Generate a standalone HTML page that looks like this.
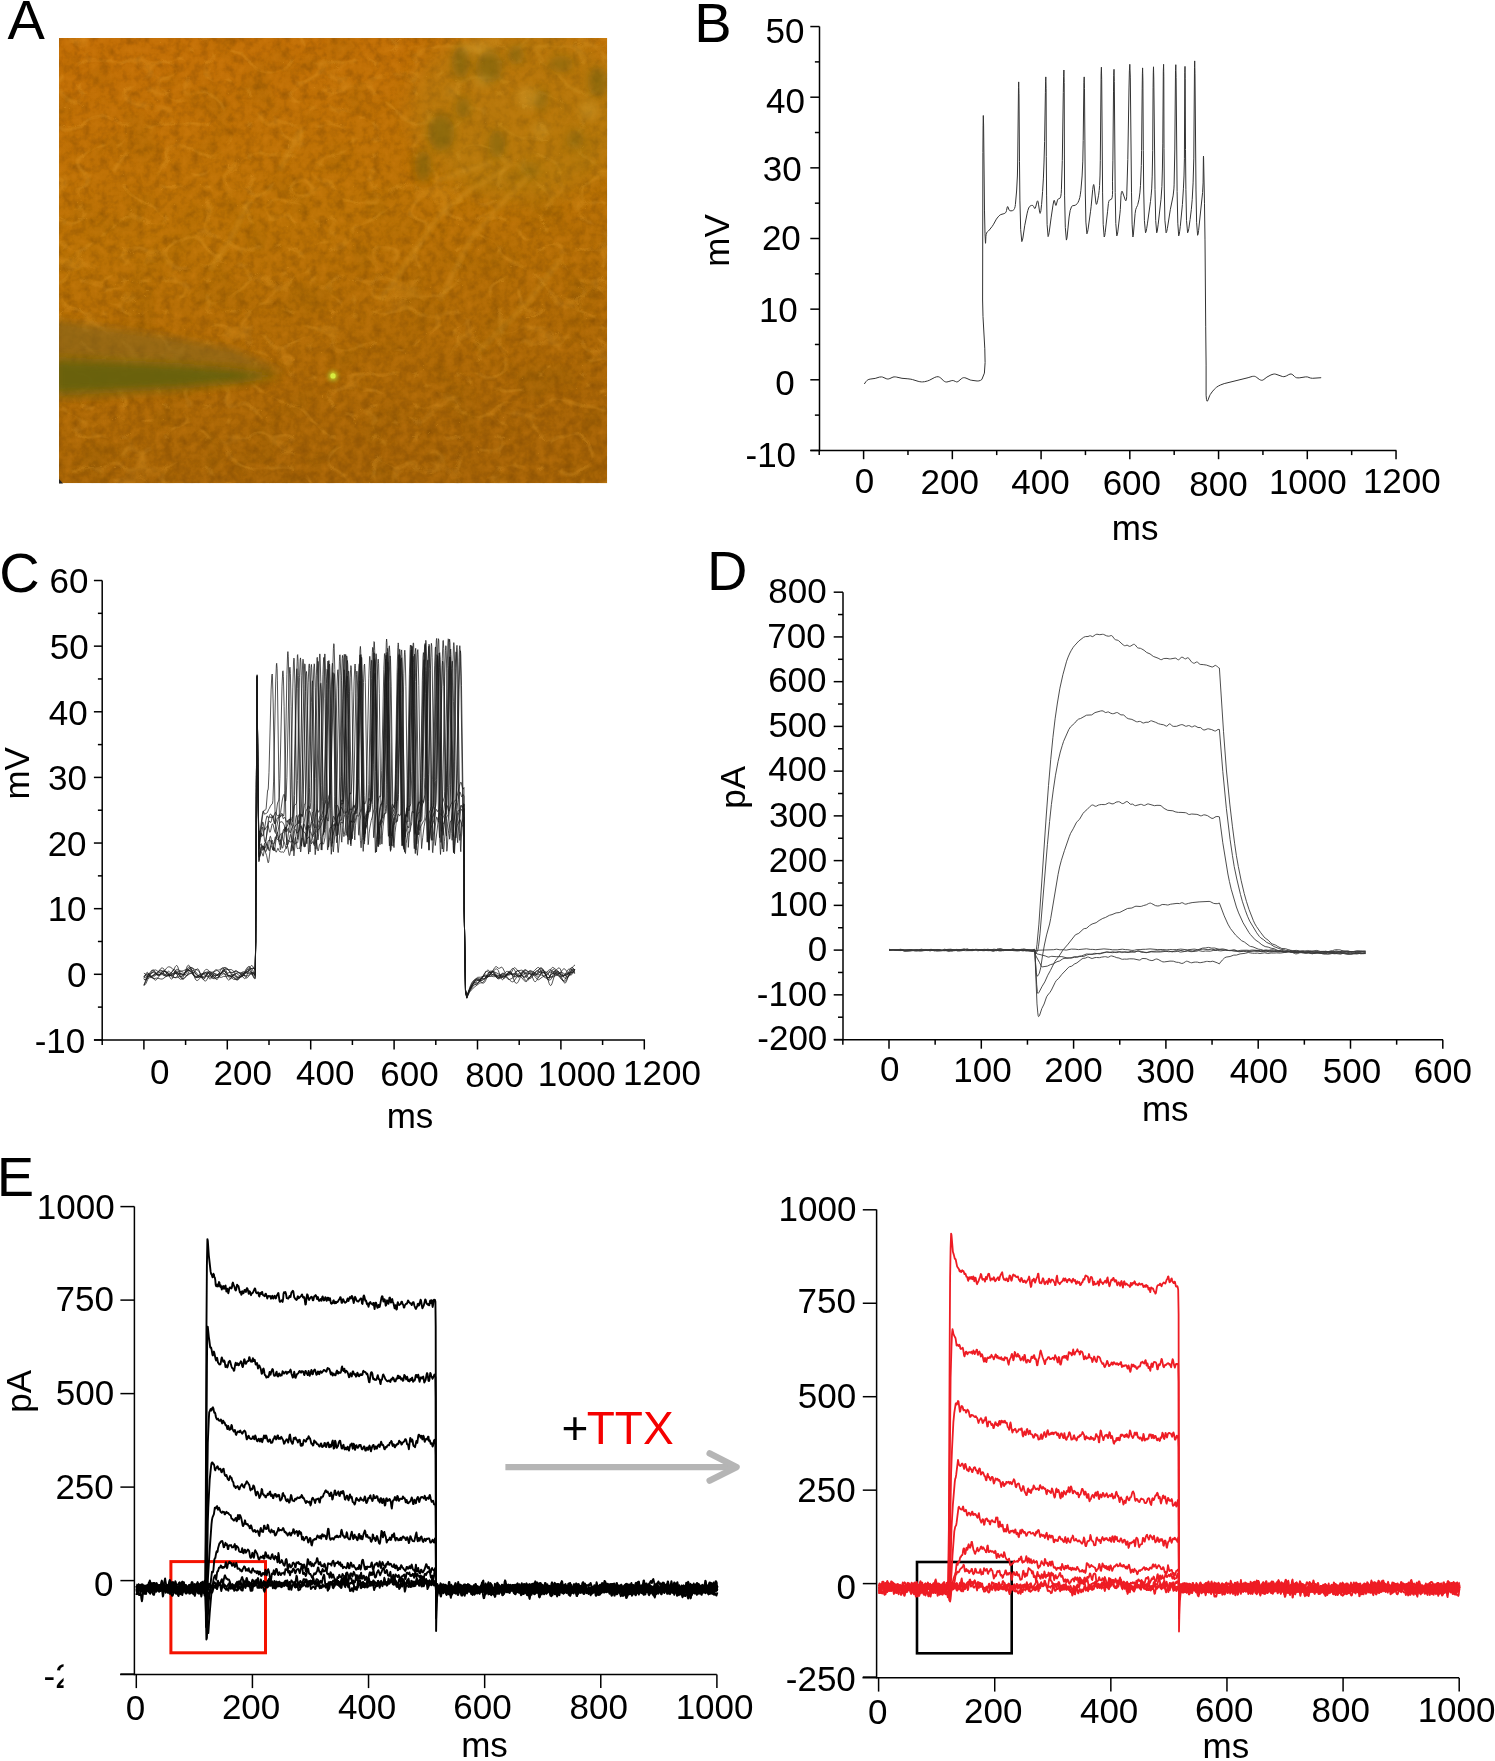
<!DOCTYPE html>
<html><head><meta charset="utf-8"><style>html,body{margin:0;padding:0;background:#fff;}svg{display:block;will-change:transform;}text{font-family:"Liberation Sans",sans-serif;}</style></head>
<body><svg width="1495" height="1761" viewBox="0 0 1495 1761" font-family="Liberation Sans, sans-serif"><line x1="819.50" y1="26.50" x2="819.50" y2="451.20" stroke="#000" stroke-width="1.5" />
<line x1="810.30" y1="450.45" x2="819.50" y2="450.45" stroke="#000" stroke-width="1.5" />
<line x1="814.90" y1="415.12" x2="819.50" y2="415.12" stroke="#000" stroke-width="1.5" />
<line x1="810.30" y1="379.80" x2="819.50" y2="379.80" stroke="#000" stroke-width="1.5" />
<line x1="814.90" y1="344.48" x2="819.50" y2="344.48" stroke="#000" stroke-width="1.5" />
<line x1="810.30" y1="309.15" x2="819.50" y2="309.15" stroke="#000" stroke-width="1.5" />
<line x1="814.90" y1="273.82" x2="819.50" y2="273.82" stroke="#000" stroke-width="1.5" />
<line x1="810.30" y1="238.50" x2="819.50" y2="238.50" stroke="#000" stroke-width="1.5" />
<line x1="814.90" y1="203.18" x2="819.50" y2="203.18" stroke="#000" stroke-width="1.5" />
<line x1="810.30" y1="167.85" x2="819.50" y2="167.85" stroke="#000" stroke-width="1.5" />
<line x1="814.90" y1="132.53" x2="819.50" y2="132.53" stroke="#000" stroke-width="1.5" />
<line x1="810.30" y1="97.20" x2="819.50" y2="97.20" stroke="#000" stroke-width="1.5" />
<line x1="814.90" y1="61.88" x2="819.50" y2="61.88" stroke="#000" stroke-width="1.5" />
<line x1="810.30" y1="26.55" x2="819.50" y2="26.55" stroke="#000" stroke-width="1.5" />
<line x1="810.30" y1="450.60" x2="1396.40" y2="450.60" stroke="#000" stroke-width="1.5" />
<line x1="819.23" y1="450.60" x2="819.23" y2="455.10" stroke="#000" stroke-width="1.5" />
<line x1="863.60" y1="450.60" x2="863.60" y2="459.20" stroke="#000" stroke-width="1.5" />
<line x1="907.97" y1="450.60" x2="907.97" y2="455.10" stroke="#000" stroke-width="1.5" />
<line x1="952.34" y1="450.60" x2="952.34" y2="459.20" stroke="#000" stroke-width="1.5" />
<line x1="996.71" y1="450.60" x2="996.71" y2="455.10" stroke="#000" stroke-width="1.5" />
<line x1="1041.08" y1="450.60" x2="1041.08" y2="459.20" stroke="#000" stroke-width="1.5" />
<line x1="1085.45" y1="450.60" x2="1085.45" y2="455.10" stroke="#000" stroke-width="1.5" />
<line x1="1129.82" y1="450.60" x2="1129.82" y2="459.20" stroke="#000" stroke-width="1.5" />
<line x1="1174.19" y1="450.60" x2="1174.19" y2="455.10" stroke="#000" stroke-width="1.5" />
<line x1="1218.56" y1="450.60" x2="1218.56" y2="459.20" stroke="#000" stroke-width="1.5" />
<line x1="1262.93" y1="450.60" x2="1262.93" y2="455.10" stroke="#000" stroke-width="1.5" />
<line x1="1307.30" y1="450.60" x2="1307.30" y2="459.20" stroke="#000" stroke-width="1.5" />
<line x1="1351.67" y1="450.60" x2="1351.67" y2="455.10" stroke="#000" stroke-width="1.5" />
<line x1="1396.04" y1="450.60" x2="1396.04" y2="459.20" stroke="#000" stroke-width="1.5" />
<text x="765.47" y="43.15" font-size="35" fill="#000" >50</text>
<text x="766.07" y="112.70" font-size="35" fill="#000" >40</text>
<text x="762.80" y="181.25" font-size="35" fill="#000" >30</text>
<text x="761.89" y="250.00" font-size="35" fill="#000" >20</text>
<text x="758.89" y="321.90" font-size="35" fill="#000" >10</text>
<text x="775.22" y="394.95" font-size="35" fill="#000" >0</text>
<text x="745.51" y="466.65" font-size="35" fill="#000" >-10</text>
<text x="854.67" y="492.85" font-size="35" fill="#000" >0</text>
<text x="920.46" y="493.75" font-size="35" fill="#000" >200</text>
<text x="1011.33" y="493.75" font-size="35" fill="#000" >400</text>
<text x="1102.65" y="494.80" font-size="35" fill="#000" >600</text>
<text x="1189.28" y="495.85" font-size="35" fill="#000" >800</text>
<text x="1268.92" y="494.15" font-size="35" fill="#000" >1000</text>
<text x="1362.92" y="493.10" font-size="35" fill="#000" >1200</text>
<text x="1111.84" y="539.55" font-size="35" fill="#000" >ms</text>
<text transform="translate(728.94,266.64) rotate(-90)" font-size="35">mV</text>
<text x="694.25" y="41.66" font-size="56" fill="#000" >B</text>
<line x1="102.20" y1="580.50" x2="102.20" y2="1040.60" stroke="#000" stroke-width="1.5" />
<line x1="93.90" y1="1039.93" x2="102.20" y2="1039.93" stroke="#000" stroke-width="1.5" />
<line x1="97.90" y1="1007.12" x2="102.20" y2="1007.12" stroke="#000" stroke-width="1.5" />
<line x1="93.90" y1="974.30" x2="102.20" y2="974.30" stroke="#000" stroke-width="1.5" />
<line x1="97.90" y1="941.48" x2="102.20" y2="941.48" stroke="#000" stroke-width="1.5" />
<line x1="93.90" y1="908.67" x2="102.20" y2="908.67" stroke="#000" stroke-width="1.5" />
<line x1="97.90" y1="875.86" x2="102.20" y2="875.86" stroke="#000" stroke-width="1.5" />
<line x1="93.90" y1="843.04" x2="102.20" y2="843.04" stroke="#000" stroke-width="1.5" />
<line x1="97.90" y1="810.22" x2="102.20" y2="810.22" stroke="#000" stroke-width="1.5" />
<line x1="93.90" y1="777.41" x2="102.20" y2="777.41" stroke="#000" stroke-width="1.5" />
<line x1="97.90" y1="744.60" x2="102.20" y2="744.60" stroke="#000" stroke-width="1.5" />
<line x1="93.90" y1="711.78" x2="102.20" y2="711.78" stroke="#000" stroke-width="1.5" />
<line x1="97.90" y1="678.96" x2="102.20" y2="678.96" stroke="#000" stroke-width="1.5" />
<line x1="93.90" y1="646.15" x2="102.20" y2="646.15" stroke="#000" stroke-width="1.5" />
<line x1="97.90" y1="613.34" x2="102.20" y2="613.34" stroke="#000" stroke-width="1.5" />
<line x1="93.90" y1="580.52" x2="102.20" y2="580.52" stroke="#000" stroke-width="1.5" />
<line x1="94.00" y1="1040.00" x2="645.00" y2="1040.00" stroke="#000" stroke-width="1.5" />
<line x1="102.20" y1="1040.00" x2="102.20" y2="1045.00" stroke="#000" stroke-width="1.5" />
<line x1="143.90" y1="1040.00" x2="143.90" y2="1049.50" stroke="#000" stroke-width="1.5" />
<line x1="185.60" y1="1040.00" x2="185.60" y2="1045.00" stroke="#000" stroke-width="1.5" />
<line x1="227.30" y1="1040.00" x2="227.30" y2="1049.50" stroke="#000" stroke-width="1.5" />
<line x1="269.00" y1="1040.00" x2="269.00" y2="1045.00" stroke="#000" stroke-width="1.5" />
<line x1="310.70" y1="1040.00" x2="310.70" y2="1049.50" stroke="#000" stroke-width="1.5" />
<line x1="352.40" y1="1040.00" x2="352.40" y2="1045.00" stroke="#000" stroke-width="1.5" />
<line x1="394.10" y1="1040.00" x2="394.10" y2="1049.50" stroke="#000" stroke-width="1.5" />
<line x1="435.80" y1="1040.00" x2="435.80" y2="1045.00" stroke="#000" stroke-width="1.5" />
<line x1="477.50" y1="1040.00" x2="477.50" y2="1049.50" stroke="#000" stroke-width="1.5" />
<line x1="519.20" y1="1040.00" x2="519.20" y2="1045.00" stroke="#000" stroke-width="1.5" />
<line x1="560.90" y1="1040.00" x2="560.90" y2="1049.50" stroke="#000" stroke-width="1.5" />
<line x1="602.60" y1="1040.00" x2="602.60" y2="1045.00" stroke="#000" stroke-width="1.5" />
<line x1="644.30" y1="1040.00" x2="644.30" y2="1049.50" stroke="#000" stroke-width="1.5" />
<text x="49.58" y="592.50" font-size="35" fill="#000" >60</text>
<text x="49.72" y="658.65" font-size="35" fill="#000" >50</text>
<text x="48.72" y="724.55" font-size="35" fill="#000" >40</text>
<text x="48.00" y="789.50" font-size="35" fill="#000" >30</text>
<text x="47.64" y="856.15" font-size="35" fill="#000" >20</text>
<text x="47.64" y="920.70" font-size="35" fill="#000" >10</text>
<text x="67.12" y="986.70" font-size="35" fill="#000" >0</text>
<text x="34.66" y="1052.90" font-size="35" fill="#000" >-10</text>
<text x="150.07" y="1083.90" font-size="35" fill="#000" >0</text>
<text x="213.56" y="1085.05" font-size="35" fill="#000" >200</text>
<text x="295.98" y="1085.05" font-size="35" fill="#000" >400</text>
<text x="380.35" y="1086.30" font-size="35" fill="#000" >600</text>
<text x="465.23" y="1086.75" font-size="35" fill="#000" >800</text>
<text x="537.77" y="1085.55" font-size="35" fill="#000" >1000</text>
<text x="623.12" y="1085.15" font-size="35" fill="#000" >1200</text>
<text x="386.64" y="1128.15" font-size="35" fill="#000" >ms</text>
<text transform="translate(28.94,799.59) rotate(-90)" font-size="35">mV</text>
<text x="-0.78" y="592.23" font-size="56" fill="#000" >C</text>
<line x1="843.00" y1="592.20" x2="843.00" y2="1040.30" stroke="#000" stroke-width="1.5" />
<line x1="833.70" y1="1039.58" x2="843.00" y2="1039.58" stroke="#000" stroke-width="1.5" />
<line x1="838.00" y1="1017.21" x2="843.00" y2="1017.21" stroke="#000" stroke-width="1.5" />
<line x1="833.70" y1="994.84" x2="843.00" y2="994.84" stroke="#000" stroke-width="1.5" />
<line x1="838.00" y1="972.47" x2="843.00" y2="972.47" stroke="#000" stroke-width="1.5" />
<line x1="833.70" y1="950.10" x2="843.00" y2="950.10" stroke="#000" stroke-width="1.5" />
<line x1="838.00" y1="927.73" x2="843.00" y2="927.73" stroke="#000" stroke-width="1.5" />
<line x1="833.70" y1="905.36" x2="843.00" y2="905.36" stroke="#000" stroke-width="1.5" />
<line x1="838.00" y1="882.99" x2="843.00" y2="882.99" stroke="#000" stroke-width="1.5" />
<line x1="833.70" y1="860.62" x2="843.00" y2="860.62" stroke="#000" stroke-width="1.5" />
<line x1="838.00" y1="838.25" x2="843.00" y2="838.25" stroke="#000" stroke-width="1.5" />
<line x1="833.70" y1="815.88" x2="843.00" y2="815.88" stroke="#000" stroke-width="1.5" />
<line x1="838.00" y1="793.51" x2="843.00" y2="793.51" stroke="#000" stroke-width="1.5" />
<line x1="833.70" y1="771.14" x2="843.00" y2="771.14" stroke="#000" stroke-width="1.5" />
<line x1="838.00" y1="748.77" x2="843.00" y2="748.77" stroke="#000" stroke-width="1.5" />
<line x1="833.70" y1="726.40" x2="843.00" y2="726.40" stroke="#000" stroke-width="1.5" />
<line x1="838.00" y1="704.03" x2="843.00" y2="704.03" stroke="#000" stroke-width="1.5" />
<line x1="833.70" y1="681.66" x2="843.00" y2="681.66" stroke="#000" stroke-width="1.5" />
<line x1="838.00" y1="659.29" x2="843.00" y2="659.29" stroke="#000" stroke-width="1.5" />
<line x1="833.70" y1="636.92" x2="843.00" y2="636.92" stroke="#000" stroke-width="1.5" />
<line x1="838.00" y1="614.55" x2="843.00" y2="614.55" stroke="#000" stroke-width="1.5" />
<line x1="833.70" y1="592.18" x2="843.00" y2="592.18" stroke="#000" stroke-width="1.5" />
<line x1="833.90" y1="1039.70" x2="1443.00" y2="1039.70" stroke="#000" stroke-width="1.5" />
<line x1="842.85" y1="1039.70" x2="842.85" y2="1044.70" stroke="#000" stroke-width="1.5" />
<line x1="889.00" y1="1039.70" x2="889.00" y2="1048.70" stroke="#000" stroke-width="1.5" />
<line x1="935.15" y1="1039.70" x2="935.15" y2="1044.70" stroke="#000" stroke-width="1.5" />
<line x1="981.30" y1="1039.70" x2="981.30" y2="1048.70" stroke="#000" stroke-width="1.5" />
<line x1="1027.45" y1="1039.70" x2="1027.45" y2="1044.70" stroke="#000" stroke-width="1.5" />
<line x1="1073.60" y1="1039.70" x2="1073.60" y2="1048.70" stroke="#000" stroke-width="1.5" />
<line x1="1119.75" y1="1039.70" x2="1119.75" y2="1044.70" stroke="#000" stroke-width="1.5" />
<line x1="1165.90" y1="1039.70" x2="1165.90" y2="1048.70" stroke="#000" stroke-width="1.5" />
<line x1="1212.05" y1="1039.70" x2="1212.05" y2="1044.70" stroke="#000" stroke-width="1.5" />
<line x1="1258.20" y1="1039.70" x2="1258.20" y2="1048.70" stroke="#000" stroke-width="1.5" />
<line x1="1304.35" y1="1039.70" x2="1304.35" y2="1044.70" stroke="#000" stroke-width="1.5" />
<line x1="1350.50" y1="1039.70" x2="1350.50" y2="1048.70" stroke="#000" stroke-width="1.5" />
<line x1="1396.65" y1="1039.70" x2="1396.65" y2="1044.70" stroke="#000" stroke-width="1.5" />
<line x1="1442.80" y1="1039.70" x2="1442.80" y2="1048.70" stroke="#000" stroke-width="1.5" />
<text x="768.23" y="603.45" font-size="35" fill="#000" >800</text>
<text x="767.29" y="647.65" font-size="35" fill="#000" >700</text>
<text x="768.15" y="691.80" font-size="35" fill="#000" >600</text>
<text x="768.38" y="737.25" font-size="35" fill="#000" >500</text>
<text x="768.23" y="780.65" font-size="35" fill="#000" >400</text>
<text x="768.92" y="827.25" font-size="35" fill="#000" >300</text>
<text x="768.71" y="871.80" font-size="35" fill="#000" >200</text>
<text x="769.05" y="916.30" font-size="35" fill="#000" >100</text>
<text x="807.82" y="960.80" font-size="35" fill="#000" >0</text>
<text x="756.83" y="1005.85" font-size="35" fill="#000" >-100</text>
<text x="757.28" y="1050.00" font-size="35" fill="#000" >-200</text>
<text x="879.97" y="1081.30" font-size="35" fill="#000" >0</text>
<text x="953.25" y="1081.80" font-size="35" fill="#000" >100</text>
<text x="1044.31" y="1081.80" font-size="35" fill="#000" >200</text>
<text x="1136.22" y="1082.85" font-size="35" fill="#000" >300</text>
<text x="1229.68" y="1082.85" font-size="35" fill="#000" >400</text>
<text x="1322.78" y="1082.85" font-size="35" fill="#000" >500</text>
<text x="1413.65" y="1082.85" font-size="35" fill="#000" >600</text>
<text x="1141.89" y="1121.40" font-size="35" fill="#000" >ms</text>
<text transform="translate(745.16,808.75) rotate(-90)" font-size="35">pA</text>
<text x="707.12" y="590.21" font-size="56" fill="#000" >D</text>
<line x1="134.40" y1="1206.60" x2="134.40" y2="1675.20" stroke="#000" stroke-width="1.5" />
<line x1="120.40" y1="1206.60" x2="134.40" y2="1206.60" stroke="#000" stroke-width="1.5" />
<line x1="120.40" y1="1300.10" x2="134.40" y2="1300.10" stroke="#000" stroke-width="1.5" />
<line x1="120.40" y1="1393.60" x2="134.40" y2="1393.60" stroke="#000" stroke-width="1.5" />
<line x1="120.40" y1="1487.10" x2="134.40" y2="1487.10" stroke="#000" stroke-width="1.5" />
<line x1="120.40" y1="1580.60" x2="134.40" y2="1580.60" stroke="#000" stroke-width="1.5" />
<line x1="120.40" y1="1674.10" x2="134.40" y2="1674.10" stroke="#000" stroke-width="1.5" />
<line x1="120.10" y1="1674.60" x2="716.80" y2="1674.60" stroke="#000" stroke-width="1.5" />
<line x1="136.30" y1="1674.60" x2="136.30" y2="1688.10" stroke="#000" stroke-width="1.5" />
<line x1="252.42" y1="1674.60" x2="252.42" y2="1688.10" stroke="#000" stroke-width="1.5" />
<line x1="368.54" y1="1674.60" x2="368.54" y2="1688.10" stroke="#000" stroke-width="1.5" />
<line x1="484.66" y1="1674.60" x2="484.66" y2="1688.10" stroke="#000" stroke-width="1.5" />
<line x1="600.78" y1="1674.60" x2="600.78" y2="1688.10" stroke="#000" stroke-width="1.5" />
<line x1="716.90" y1="1674.60" x2="716.90" y2="1688.10" stroke="#000" stroke-width="1.5" />
<text x="36.82" y="1218.85" font-size="35" fill="#000" >1000</text>
<text x="55.54" y="1310.70" font-size="35" fill="#000" >750</text>
<text x="55.73" y="1404.65" font-size="35" fill="#000" >500</text>
<text x="55.41" y="1499.15" font-size="35" fill="#000" >250</text>
<text x="94.07" y="1595.75" font-size="35" fill="#000" >0</text>
<clipPath id="clipm250"><rect x="0" y="1650" width="63.6" height="60"/></clipPath>
<text x="43.44" y="1687.75" font-size="35" clip-path="url(#clipm250)">-250</text>
<text x="125.87" y="1719.80" font-size="35" fill="#000" >0</text>
<text x="221.91" y="1718.80" font-size="35" fill="#000" >200</text>
<text x="337.88" y="1718.80" font-size="35" fill="#000" >400</text>
<text x="453.25" y="1718.70" font-size="35" fill="#000" >600</text>
<text x="569.58" y="1718.70" font-size="35" fill="#000" >800</text>
<text x="675.67" y="1718.70" font-size="35" fill="#000" >1000</text>
<text x="461.19" y="1756.95" font-size="35" fill="#000" >ms</text>
<text transform="translate(31.41,1412.70) rotate(-90)" font-size="35">pA</text>
<text x="-3.17" y="1195.86" font-size="56" fill="#000" >E</text>
<line x1="876.60" y1="1209.50" x2="876.60" y2="1678.40" stroke="#000" stroke-width="1.5" />
<line x1="862.80" y1="1209.80" x2="876.60" y2="1209.80" stroke="#000" stroke-width="1.5" />
<line x1="862.80" y1="1303.25" x2="876.60" y2="1303.25" stroke="#000" stroke-width="1.5" />
<line x1="862.80" y1="1396.70" x2="876.60" y2="1396.70" stroke="#000" stroke-width="1.5" />
<line x1="862.80" y1="1490.15" x2="876.60" y2="1490.15" stroke="#000" stroke-width="1.5" />
<line x1="862.80" y1="1583.60" x2="876.60" y2="1583.60" stroke="#000" stroke-width="1.5" />
<line x1="862.80" y1="1677.05" x2="876.60" y2="1677.05" stroke="#000" stroke-width="1.5" />
<line x1="862.50" y1="1677.80" x2="1459.00" y2="1677.80" stroke="#000" stroke-width="1.5" />
<line x1="878.60" y1="1677.80" x2="878.60" y2="1691.60" stroke="#000" stroke-width="1.5" />
<line x1="994.72" y1="1677.80" x2="994.72" y2="1691.60" stroke="#000" stroke-width="1.5" />
<line x1="1110.84" y1="1677.80" x2="1110.84" y2="1691.60" stroke="#000" stroke-width="1.5" />
<line x1="1226.96" y1="1677.80" x2="1226.96" y2="1691.60" stroke="#000" stroke-width="1.5" />
<line x1="1343.08" y1="1677.80" x2="1343.08" y2="1691.60" stroke="#000" stroke-width="1.5" />
<line x1="1459.20" y1="1677.80" x2="1459.20" y2="1691.60" stroke="#000" stroke-width="1.5" />
<text x="778.57" y="1221.40" font-size="35" fill="#000" >1000</text>
<text x="797.59" y="1313.40" font-size="35" fill="#000" >750</text>
<text x="797.78" y="1407.85" font-size="35" fill="#000" >500</text>
<text x="797.36" y="1502.20" font-size="35" fill="#000" >250</text>
<text x="836.47" y="1598.80" font-size="35" fill="#000" >0</text>
<text x="785.78" y="1690.85" font-size="35" fill="#000" >-250</text>
<text x="868.07" y="1723.55" font-size="35" fill="#000" >0</text>
<text x="964.06" y="1722.55" font-size="35" fill="#000" >200</text>
<text x="1079.93" y="1722.55" font-size="35" fill="#000" >400</text>
<text x="1195.05" y="1721.70" font-size="35" fill="#000" >600</text>
<text x="1311.48" y="1721.70" font-size="35" fill="#000" >800</text>
<text x="1417.67" y="1721.70" font-size="35" fill="#000" >1000</text>
<text x="1202.54" y="1758.10" font-size="35" fill="#000" >ms</text>
<rect x="170.9" y="1561.6" width="94.6" height="91.2" fill="none" stroke="#f41200" stroke-width="3"/>
<rect x="917.0" y="1562.0" width="94.7" height="91.3" fill="none" stroke="#000" stroke-width="2.6"/>
<text x="561.43" y="1443.60" font-size="46" fill="#000" >+</text>
<text x="586.73" y="1443.57" font-size="46" fill="#f50000" >TTX</text>
<path d="M505.4,1467.1 L733,1467.1" fill="none" stroke="#b5b5b5" stroke-width="6.3" stroke-linecap="butt"/>
<path d="M709.6,1453.4 L736.6,1467.1 L709.6,1480.6" fill="none" stroke="#b5b5b5" stroke-width="6.3" stroke-linecap="round" stroke-linejoin="round"/>
<defs>
<clipPath id="clipA"><rect x="59.0" y="38.0" width="548.2" height="445.2"/></clipPath>
<filter id="texA" x="0" y="0" width="100%" height="100%" color-interpolation-filters="sRGB">
<feTurbulence type="fractalNoise" baseFrequency="0.11" numOctaves="3" seed="4" result="n"/>
<feColorMatrix in="n" type="matrix" values="0 0 0 0 0.40  0 0 0 0 0.22  0 0 0 0 0  1.5 0 0 0 -0.72"/>
</filter>
<filter id="texL" x="0" y="0" width="100%" height="100%" color-interpolation-filters="sRGB">
<feTurbulence type="fractalNoise" baseFrequency="0.11" numOctaves="3" seed="4" result="n"/>
<feColorMatrix in="n" type="matrix" values="0 0 0 0 0.90  0 0 0 0 0.56  0 0 0 0 0.10  -1.5 0 0 0 0.78"/>
</filter>
<filter id="texR" x="0" y="0" width="100%" height="100%" color-interpolation-filters="sRGB">
<feTurbulence type="turbulence" baseFrequency="0.024 0.032" numOctaves="2" seed="21" result="n"/>
<feColorMatrix in="n" type="matrix" values="0 0 0 0 0.93  0 0 0 0 0.66  0 0 0 0 0.2  -9 0 0 0 1.25"/>
<feGaussianBlur stdDeviation="0.6"/>
</filter>
<filter id="texB" x="0" y="0" width="100%" height="100%" color-interpolation-filters="sRGB">
<feTurbulence type="fractalNoise" baseFrequency="0.025" numOctaves="2" seed="9" result="n"/>
<feColorMatrix in="n" type="matrix" values="0 0 0 0 0.45  0 0 0 0 0.33  0 0 0 0 0.02  1.6 0 0 0 -0.85"/>
</filter>
<filter id="bl2" x="-200%" y="-200%" width="500%" height="500%"><feGaussianBlur stdDeviation="2"/></filter>
<filter id="bl4" x="-100%" y="-100%" width="300%" height="300%"><feGaussianBlur stdDeviation="4"/></filter>
<filter id="bl7" x="-100%" y="-100%" width="300%" height="300%"><feGaussianBlur stdDeviation="7"/></filter>
<filter id="bl12" x="-100%" y="-100%" width="300%" height="300%"><feGaussianBlur stdDeviation="12"/></filter>
<linearGradient id="gA" x1="0.1" y1="0" x2="0.3" y2="1">
<stop offset="0" stop-color="#c26e06"/><stop offset="0.45" stop-color="#b97105"/><stop offset="1" stop-color="#a46206"/>
</linearGradient>
</defs>
<g clip-path="url(#clipA)">
<rect x="59.0" y="38.0" width="548.2" height="445.2" fill="url(#gA)"/>
<rect x="59.0" y="38.0" width="548.2" height="445.2" filter="url(#texA)" opacity="0.5"/>
<rect x="59.0" y="38.0" width="548.2" height="445.2" filter="url(#texL)" opacity="0.4"/>
<rect x="59.0" y="38.0" width="548.2" height="445.2" filter="url(#texB)" opacity="0.25"/>
<rect x="59.0" y="38.0" width="548.2" height="445.2" filter="url(#texR)" opacity="0.22"/>
<ellipse cx="520" cy="110" rx="110" ry="90" fill="#a88a1a" opacity="0.28" filter="url(#bl12)"/>
<ellipse cx="461" cy="62" rx="9" ry="16" fill="#6e5e10" opacity="0.55" filter="url(#bl4)"/>
<ellipse cx="489" cy="67" rx="13" ry="16" fill="#6e5e10" opacity="0.55" filter="url(#bl4)"/>
<ellipse cx="516" cy="55" rx="8" ry="10" fill="#6e5e10" opacity="0.5" filter="url(#bl4)"/>
<ellipse cx="463" cy="108" rx="7" ry="11" fill="#6e5e10" opacity="0.5" filter="url(#bl4)"/>
<ellipse cx="441" cy="133" rx="13" ry="18" fill="#6e5e10" opacity="0.55" filter="url(#bl4)"/>
<ellipse cx="423" cy="166" rx="8" ry="16" fill="#6e5e10" opacity="0.55" filter="url(#bl4)"/>
<ellipse cx="497" cy="144" rx="8" ry="14" fill="#6e5e10" opacity="0.5" filter="url(#bl4)"/>
<ellipse cx="541" cy="100" rx="7" ry="10" fill="#6e5e10" opacity="0.45" filter="url(#bl4)"/>
<ellipse cx="598" cy="82" rx="10" ry="15" fill="#6e5e10" opacity="0.5" filter="url(#bl4)"/>
<ellipse cx="561" cy="64" rx="12" ry="8" fill="#6e5e10" opacity="0.45" filter="url(#bl4)"/>
<ellipse cx="575" cy="140" rx="9" ry="10" fill="#6e5e10" opacity="0.35" filter="url(#bl4)"/>
<ellipse cx="530" cy="170" rx="10" ry="8" fill="#6e5e10" opacity="0.3" filter="url(#bl4)"/>
<ellipse cx="479" cy="48" rx="16" ry="7" fill="#d8a838" opacity="0.35" filter="url(#bl4)"/>
<ellipse cx="482" cy="81" rx="9" ry="6" fill="#d8a838" opacity="0.35" filter="url(#bl4)"/>
<ellipse cx="528" cy="98" rx="11" ry="11" fill="#d8a838" opacity="0.35" filter="url(#bl4)"/>
<ellipse cx="589" cy="110" rx="10" ry="10" fill="#d8a838" opacity="0.35" filter="url(#bl4)"/>
<ellipse cx="452" cy="92" rx="5" ry="5" fill="#d8a838" opacity="0.35" filter="url(#bl4)"/>
<ellipse cx="540" cy="130" rx="8" ry="6" fill="#d8a838" opacity="0.35" filter="url(#bl4)"/>
<path d="M492,162 L463,172 L433,182" fill="none" stroke="#d89a28" stroke-width="3" opacity="0.5" filter="url(#bl2)"/>
<path d="M505,170 L470,190 L440,215 L415,250 L395,280 L380,300" fill="none" stroke="#d89a28" stroke-width="3" opacity="0.5" filter="url(#bl2)"/>
<path d="M530,175 L500,205 L470,240 L450,280 L440,300" fill="none" stroke="#d89a28" stroke-width="3" opacity="0.5" filter="url(#bl2)"/>
<path d="M560,260 L530,300 L500,330 L480,350" fill="none" stroke="#d89a28" stroke-width="3" opacity="0.5" filter="url(#bl2)"/>
<path d="M250,200 L230,240 L210,270" fill="none" stroke="#d89a28" stroke-width="3" opacity="0.5" filter="url(#bl2)"/>
<path d="M300,130 L280,170" fill="none" stroke="#d89a28" stroke-width="3" opacity="0.5" filter="url(#bl2)"/>
<path d="M55,320 L150,333 L235,349 L288,373 L235,367 L150,363 L55,357 Z" fill="#86661a" opacity="0.6" filter="url(#bl4)"/>
<path d="M55,357 L175,363 L235,368 L282,376 L235,384 L175,389 L55,396 Z" fill="#6e6410" opacity="0.9" filter="url(#bl4)"/>
<path d="M55,365 L175,369 L250,375 L175,384 L55,389 Z" fill="#60600c" opacity="0.45" filter="url(#bl2)"/>
<path d="M55,394 L175,388 L235,383 L175,393 L55,401 Z" fill="#8a6814" opacity="0.35" filter="url(#bl4)"/>
<circle cx="333" cy="375.9" r="4.6" fill="#c8dc30" filter="url(#bl2)" opacity="0.9"/><circle cx="333" cy="375.9" r="2.6" fill="#d8ec40"/>
</g>
<path d="M59,479 L59,483.5 L63,483.5 Z" fill="#222"/>
<text x="7.62" y="39.46" font-size="56" fill="#000" >A</text>
<path d="M864.3 384l1.6-2.3 1.3-1.4 .7-.5 1-.4 1.2-.3 5.1-.7 4.2-1.3 2.1-.2 1.1 .2 4.2 1.8 1 .1 1-.1 1.1-.4 3.1-1.4 1.1-.2 1.3 0 1.2 .2 5.4 1.2 5.9 .5 3 .4 1.7 .4 5.5 1.7 1.7 .4 1.6 .2 1.1 0 2.1-.2 3.1-.8 1.6-.6 5.5-2.9 1.8-.6 1.6-.1 1.3 .5 1.3 .9 2.4 2.3 1.1 .9 1.3 .6 1.2 .1 1.3-.3 3.7-1.1 1.1-.1 .8 .2 2 .9 .7 .3 .7 0 1-.4 3.1-2.6 1.1-.8 1.1-.4 1.3 0 1.3 .4 4.3 1.9 1.5 .3 5.3 .7 1.8-.1 1.6-.5 1.4-1 2.5-6.3 .7-10.6-.3-13.7-1.8-32.3-.4-16.5 .3-147.5 .2-26.7 .2-10.3 .3 9.5 .9 85.1 .5 23.7 .5 9.5 .1-.6 .3-6.3 .3-2.1 .4-1.5 .6-.8 1.1-.9 1-1.1 2.9-3.6 1.4-2.2 2.8-5.1 1.7-2.2 1-1.1 1.1-.9 .8-.4 2.9-.8 .9-.4 .7-.5 .6-.9 .4-1.3 .8-3.7 .3-.4 .3 .3 1.3 3.4 .5 .5 1.3 .2 1.6-.3 .7-.4 .6-.5 .7-1.3 .5-1.8 .3-2.1 1.2-13.5 .8-15 .3-14 .8-74.5 .2-5.6 .3 11.8 .5 68 .4 38.4 .8 29.6 1.1 11.9 .5-1 .6-2.6 1.8-12.2 2.5-12.7 .7-2.8 .8-2.3 .9-1.5 .5-.4 1.1-.6 .6-.1 1 .1 .4 .3 .4 .7 1 1.9 .3 .2 .5-.6 1.8-6.7 .4-.5 .5 1 .4 2.3 1.2 8.4 .4 .9 .4-.8 .4-1.9 .7-6.4 1-12.9 .8-13.3 .6-15.1 .6-21.4 .8-49.3 .2-11.1 .2-4.3 .3 11.8 .2 68 .3 38.4 .5 29.6 1 11.9 .5-1.2 .6-3.2 1.9-14.3 1.9-12.8 .8-4.2 .4-.7 .3 .4 .8 3.5 .3 1 .3 .4 .3-.4 1.3-5 .5-.9 .3-.3 1.5-.5 .3-.3 .7-1.9 .4-2.8 .2-3.6 .9-29.3 1-67.9 .3-16.3 .3-6.3 .3 12.6 .2 72.4 .2 40.9 .7 31.5 1.1 12.7 .6-2.2 2.1-20.9 1.1-6.6 1.4-3.9 .6-.5 .8-.3 2.2-.4 .6-.3 1.2-1.2 1.1-1.5 .9-2.1 .8-2.7 .6-3.3 .5-3.9 1.2-14.3 .7-14.9 .4-20.5 .7-57.9 .3-5.8 .3 11.6 .8 104.5 .6 29.1 1 11.7 .5-1.1 .6-2.9 2.5-18 .6-5 1.6-17.1 .5-3.8 .5-1.4 .4 1.5 1.8 16.9 .5 1.5 .4-.5 .9-3.7 .9-5 .6-4.8 .4-4.8 .4-9.6 .3-15.2 .8-87 .3-6.6 .3 12.6 .9 113.1 .6 31.5 1 12.6 .5-1.2 .5-3.3 2.4-21.3 .8-7.7 .4-2 .6-1.3 .3-.3 1.5-.4 .3-.3 .7-1.9 .3-3 .1-3.7-.1-9.4 .4-21 .6-68.3 .2-16.3 .3-6.3 .3 12.3 .9 111 .6 30.9 1 12.4 .5-1.1 .5-2.9 2.1-18 .4-4.3 .7-14.1 .4-3.1 .6-1.2 .5 .7 2.8 8.2 .5 .7 .6-1.1 .3-2.9 1.1-37.4 1.2-71.4 .4-17.1 .4-6.6 .5 12.8 1.2 115.1 .6 32 .8 12.8 .4-1.6 1.8-21.8 .6-3.9 .7-2 1.1-2.3 .3-1 1.2-5.1 .9-6.4 .6-7.6 .8-19.8 .3-15.1 .6-62.2 .2-14.6 .2-5.7 .3 12.2 .4 70.2 .4 39.7 .7 30.5 1.1 12.3 .6-1.2 .6-3.2 .7-4.5 3.1-22.5 .6-5.5 .6-7 .5-12.8 .5-25.8 .4-63 .2-14.8 .2-5.7 .3 12.3 1.2 110.6 .7 30.8 1 12.3 .5-1.2 1-7.4 2.8-24.9 .9-12.7 .5-17.6 .4-25.1 .5-72.3 .3-7.3 .2 12.5 .2 71.7 .3 40.5 .6 31.2 1.2 12.6 .6-1.2 .7-3.2 2.9-18.7 2.8-13.8 .8-7 .2-4 .7-34.9 .7-79.4 .3-5.9 .3 12.7 1 114.1 .7 31.7 .9 12.7 .5-1.3 .5-3.4 .6-4.9 2.1-21.7 1-15.8 .6-12.8 .4-17.2 .4-86.1 .2-6.3 .2 12.3 .3 70.8 .4 40.1 .6 30.8 1.1 12.4 .6-1.1 .6-3 1.3-9.2 1.2-9.8 .9-10 .9-16.8 .7-24.8 .7-90.5 .2-6.7 .3 12.9 1 116.2 .6 32.3 1 13 .5-1.3 .5-3.5 4-38.1 .5-9.5 .3-25.1 .1-1.7 .1 2.1 .9 45.6 .5 35.3 .7 87.1 .4 38.9 0 30.1 .4 4.4 .6 1.7 .4-.3 .5-.9 1.6-4.3 .7-1.3 1.8-2.6 2.2-2.6 1.2-1.1 1.1-1 2-1.3 2.1-1 3.5-1.3 23.9-5.9 4.2-1.3 1.1-.1 1 0 1.2 .4 1.2 .8 2.5 1.9 1.2 .6 1.2 .3 1.1-.2 1-.6 3.1-2.4 4.1-2.2 2.2-.7 1.1-.2 1.5 .2 6.5 2.3 1.5 .2 1.3-.3 1.3-.5 2.4-1.3 1.2-.5 1.1-.1 .9 .3 .9 .6 1.6 1.6 .9 .7 1 .5 1.6 .2 1.8-.1 5.6-.9 1.5 0 .8 .1 2.6 1 2.2 .3 8.7-.6" fill="none" stroke="#333" stroke-width="1.0" stroke-linejoin="round" />
<path d="M143.9 985.6l4.2-9.2 1.4-.5 1 .1 .7 .2 1.1 .8 2.4 2.9 .4 .2 .7 .1 1-.9 3.2-4.3 1.4-1.4 .7-.4 1 0 2.5 2.1 1 .3 1.1-.3 2.4-1.6 2.5-2.2 1-1.6 1.8-3.4 1-1 .7 .2 .7 1.2 2.5 7.4 .7 1.5 .7 .7 .3 0 .7-.5 2.8-4.2 1.1-.9 1-.7 1.1-.2 .7 .2 2.8 2.5 1 .3 .7-.3 .7-.7 2.1-2.8 .7-.4 .4 .1 .7 .5 .7 1.3 2.1 4.9 1.7 3.4 1.1 1.4 1 .7 .7-.1 .7-.7 3.2-5.8 1.4-1.7 1-.6 2.1-.6 2.5-1.1 1 .3 2.1 2 .7 .5 .7 .1 1.8-.6 1 .3 1.1 1.4 2.4 4.7 1.1 .9 .3-.1 .7-.4 2.5-3.8 1-.8 1.1 .4 2.4 2.5 .7 .2 .7-.3 1.1-1.2 2.4-3.8 1.4-1 1.1 0 2.1 1.2 1.4 .4 2.4-.1 3.2 .1 1-.4 1.1-.8 .5-30.7 .9-196.9 .5-68.1 .8 100.9 1 71.2 .3 .6 1.4-16.3 1.8-16 1-5.4 .7-1.1 1.4-.5 .4-.4 .3-1.6 1.4-17.5 .4 0 .3-2.4 .7-15.7 2.1-82.4 .7-14.3 .4-1.6 .3 4 .7 26 1.8 105.8 .7 22.3 .3 .4 .7-5.6 2.1-10.5 .4-1.1 1-1.7 .4-1.2 1.7-12.4 1.1-4.7 .3-.7 .4-.3 .3 .4 .4 1.4 .7 5.1 .3-.2 .4-3.8 .7-19.8 2.1-94.8 .7-14.8 .3-.6 .4 6.3 .7 32.9 1.7 121.9 .4 14.8 .7 12.8 2.4-23.7 1.1-7.9 .7-2.7 .7-1 .3 0 .4 .5 1 2.4 .4-.9 .3-5.8 .7-25.8 2.1-112 .7-15.2 .4 .8 .7 24 2.1 145.7 .3 13.6 .4 6.2 1.7-23 1.1-7.9 .3-1.2 .4-.5 .3 .2 1.8 5.2 .7 1.1 .3-.3 .4-1 .3-1.8 .4-7.5 .7-29.8 1.7-105 .7-24.5 .4-4.2 .3 2.2 .7 25.5 1.8 119.6 .7 29.1 .3 4.3 .7-9.4 .7-6.4 .4-1.5 1-2.9 2.5-13 .3-.8 .4-.2 .3-1 .4-5.9 .7-25.8 1.7-95.6 .7-23.7 .4-4.7 .3 1.1 .7 24.7 1.8 126.4 .7 33.1 .3 5.8 .4 .1 1.4-15 1.7-14.9 .4-1.6 .3-.4 .7 .8 .7 0 .4-2.7 .3-7.5 .7-26.7 1.8-86.3 .7-18 .3-2.1 .4 4.2 .7 28.7 1.7 118.5 .7 25.3 .4 3 1-21.5 .7-9.9 .4-2.7 .3-1.2 .4 .1 .3 1 1.8 7.6 .3-2.5 .4-8.1 .7-30.2 1.7-101.1 .7-22.1 .4-3.2 .3 3.7 .7 30.2 2.1 149.3 .4 11.3 .3 3.2 .7-8.7 .7-5.7 .4-1.8 1-3.3 .4-1.9 1-9.4 .7-4.3 .4-.8 .7-.2 .3-1.1 .4-5.8 .7-24.7 1.7-91.1 .7-22.4 .4-4.3 .3 1.2 .7 23 1.8 115.7 .7 29.8 .3 5.2 .7-14.6 .7-7.8 .4-2.1 .3-1.3 .7-1.4 1.4-6.3 .4-1.2 .7-1.4 .3-1.8 .4-6.6 .7-26.1 1.7-90.5 .7-20.7 .4-3.4 .3 2.8 .7 28.6 1.8 130.6 .7 31.1 .3 4.2 .4-6.7 1-6.6 1.4-11.8 2.1-8.5 .4 0 .3-2.7 .4-7.8 .7-28.2 1.7-92.2 .7-19.5 .4-2.4 .3 4.3 .7 31 1.8 129.2 .7 28.1 .7-12.4 .7-6.5 1.4-6.2 .3-.6 .4 .1 .7 1.7 .3-.3 .4-4.9 .7-25.4 2.1-121.2 .7-18.9 .3-.9 .4 6.5 .3 13.8 2.1 144.3 .7 23.1 .4-2.9 1-16.3 .7-3.8 1.1-1.3 1-2.9 .4-6.3 .7-28.1 1.7-105.8 .7-26.6 .4-5.5 .3 .9 .7 25 1.8 131.1 .7 34.8 .3 6.4 2.5-26.6 .7-4.3 1.4-3.5 .3-6.1 .7-25.9 1.8-94.3 .7-22.9 .3-4.4 .4 1.5 .7 24.9 1.7 124.3 .7 31.7 .4 5.4 .7-13.2 1-10.1 .7-2.8 .4-.5 .7-.4 .3-.4 .4-.8 .3-1.2 .4-2.7 .3-8.5 .7-31.6 1.8-105.1 .7-22.8 .3-3.2 .4 3.8 .3 11.6 2.1 148.1 .4 18 .3 11.1 .4 4.9 .7-14.8 .7-9.9 1-9.1 1.1-6.3 2.4-10.4 1.1-3.8 .3-.4 .4 .4 1.4 6 .3 .7 .4-.1 .7-1.5 .2 121.2 1.3 82.7 1.3 6.6 2.1-6.6 1.8-4.2 3.8-5.5 1.4-1.6 .7-.4 .7-.1 3.2 .8 1.4-.1 1-.6 2.1-2.1 1.1-.8 1-.3 3.2-.3 2.8-1.9 .7-.3 .7 .1 .7 .3 2.4 2.3 1.4 .9 1.1 .2 2.1-.3 3.5-1.9 1.7-.5 .7-.4 1.1-1.2 2.4-4.3 1.1-.8 .7 .1 .7 .7 3.1 5.6 .7 .9 .7 .4 1.1-.4 3.5-4.6 1-.7 .7-.2 1.1 .3 1.4 .8 1 .4 3.2-.5 1 .2 1.1 .6 2.4 2.3 1.4 .6 2.1-.3 3.2-1.9 1 0 1.1 1 2.1 3.6 .3 .4 .7 .2 1.1-.8 2.1-2.9 1-.6 1.4 .1 2.8 1.8 1.1-.1 1-.7 1.4-1.5 3.2-4 .7-.5 .3 0 1.1 .6 2.4 3.2 1.4 1.5 1.1 .8 1 .2 .7-.4 .7-.9 1.8-3.4 .7-1" fill="none" stroke="#1a1a1a" stroke-width="0.75" stroke-linejoin="round" />
<path d="M143.9 978.5l1.1 1.3 .6 .3 .4-.1 .7-.5 1.7-2.3 .7-.5 1.1-.4 2.1-.1 .7-.3 3.1-2.7 2.1-1.4 2.8-3.5 1.1-.5 .7 .2 1 1 3.2 5.3 .7 .9 .7 .6 .7 .1 2.4-.9 2.1-.1 2.5-1.9 1-.3 .7 .3 .7 .6 2.8 4.4 .7 .8 .7 .2 1.1-.4 2.8-2.9 1-1.6 1.8-3.4 1-1.2 .7 0 .7 .8 2.8 6.4 .7 1 .7 .2 1.1-.7 1.7-2.2 1.1-.7 3.8-1 3.5-.3 3.2-1.2 .7 0 .7 .5 2.8 3.6 .3 .2 .7 .1 2.8-2.3 1.8-.4 1-.6 2.5-2.7 1-.5 .7 .2 .7 .8 3.2 7.1 .7 .9 .7 .2 1-1 2.5-3.8 .7-.6 .7-.3 .7 .1 .7 .4 3.1 2.6 1.1 .1 .7-.3 1-1.2 3.5-6.2 1.4-1.7 1.1-.6 .7 .1 1 1.7 2.5 8 .7 1.7 .7 .8 .7-.1 .5-37.1 .9-196.9 .5-67.5 .8 100.3 1 67.7 .3-5.7 1.1-10 2.1-15.1 .7-3.4 .3 .2 1.1 3.1 .3 .1 1.1-.9 1-.3 .4-.4 1.4-3.3 .7-1 1-2.3 1.8-2.5 .3 0 .4-3.1 .7-19.4 2.1-99.2 .7-17 .3-1.6 .4 5.1 .3 12.4 2.1 143.4 .7 25.5 .4-.3 1.7-15.1 1.1-4.5 .3-.5 .4 .1 1 2.1 .4-.1 .3-.8 1.1-4.2 1.4-2.5 1.4-4.8 .3-.2 .4 .7 1 4.4 .7 1.9 .7 .9 .7-.7 .4-4.9 .7-25.8 2.1-121.3 .7-18.7 .3-.8 .4 6.7 .3 14.1 1.8 124.5 .7 36.2 .3 7.9 .4 2.2 1.4-15.5 2.8-19.6 .3-.9 1.1-.9 1-3 .4-.5 .3 .2 .4 .7 .7 2.2 .3-.9 .4-5.4 .7-23.8 1.7-88.6 .7-22 .4-4.4 .3 1 .7 22.7 1.8 116.4 .7 30.6 .3 5.4 2.1-18.5 .7-3.1 2.5-8 1-4.7 .7-2.3 .4-.1 .3-3.8 .7-20.3 2.1-98.5 .7-15.7 .4-.9 .3 6.1 .7 33 1.8 124.2 .7 23.7 .3 .9 1.8-22.9 .7-5.6 .3-1 .4 0 1 2.9 .4 .7 .3-.2 1.1-3.9 .7-1.7 .3-.2 .7 .4 .4-.1 .3-4 .7-23.5 2.1-117.3 .7-19.5 .4-1.6 .3 5.5 .4 12.8 2.1 142.8 .7 24.6 1.4-17.9 .3-1.4 .4 .1 .7 1.7 .3 .1 3.5-14.5 .4-5.9 .7-22.6 1.7-78.1 .7-17.7 .4-2.8 .3 2.3 .7 22.5 1.8 101.9 .7 24.1 .3 3.2 1.8-18 .7-3.8 1-2.5 .4-1.8 1.4-10.3 .3-.5 1.1 2.9 .3 .6 .4 0 1-2.2 .4-2.1 .3-6.9 .7-26.1 1.8-88.2 .7-19.6 .3-2.9 .4 3.4 .3 10.9 2.1 142.9 .4 17.7 .3 11 .4 5.1 1-14.4 1.1-7.1 2.4-9.5 .4-.6 .3 0 .7 .3 .4-1.9 .3-7 .7-27.6 1.8-95.5 .7-22 .3-3.5 .4 2.6 .7 27.7 1.7 126.9 .7 30.3 .4 4.2 1-15.2 1.1-8.8 2.1-9.5 .3-.1 1.1 1.8 .3-.2 .4-.7 .3 0 .4-3 .3-8.4 .7-30.5 1.8-99.2 .7-21 .3-2.6 .4 4.5 .7 31.7 1.7 132.4 .7 28.6 .7-9.7 2.5-23 .7-3.3 .3-.1 .7 1.6 .4 0 .3-3.2 .4-8.5 .7-30.4 1.7-98.3 .7-20.5 .4-2.4 .3 4.7 .7 31.3 1.8 128.9 .3 17.3 .7 16.8 1.1-11.1 1.4-11.2 1-5.2 1.1-3.9 1-2.8 .4-2.1 .3-7.8 .7-30.2 1.8-103.7 .7-23.5 .3-3.8 .4 3.1 .3 11.2 2.1 152.6 .7 31.6 .4 3.7 3.5-30 .3-1.4 .4-.6 .3 0 .7 .4 .4 .4 .7 1.3 .3-1.2 .4-6.5 .7-28 1.7-103.6 .7-25.6 .4-5 .3 1.2 .7 25.2 1.8 128 .7 33.3 .3 5.8 .4-1.7 1-15.3 2.5-18.1 .7-2.9 .3-.3 1.1-.2 .3-1.8 .4-6.9 .7-27.1 2.1-107.1 .3-8.6 .4-3.5 .3 2.6 .7 27.8 2.1 146.1 .4 11.9 .3 4.2 .4-3.2 .2 73.6 1.3 80.9 1.3 6.6 3.5-10.3 1.4-3 1.1-1.6 .7-.7 1-.5 3.5 .1 1.8 .7 2.8 2.1 .7 .1 .7-.2 .7-.7 1-1.8 2.8-7.2 .7-1.2 1.1-.8 1.4-.1 2.4 .6 5.6 2.8 1.4 1 2.1 2.6 .7 .4 .7-.3 .7-.8 2.1-4.1 1.1-1.1 .7-.1 .3 .2 2.1 2 1.1 .4 1-.5 2.1-2.3 1.1-.8 4.9-1 .7 .3 1 1.2 2.8 5.7 1.1 1.1 .7 .2 .7-.3 1-1 3.2-5 1.4-1.8 2.8-2.6 .7-.4 .7 0 .7 .4 .7 1 2.4 5.6 1.1 1.9 1 .9 2.1 1 2.5 1.8 .7 .1 1-.7 1.1-1.9 2.4-5.8 .7-.9 .7-.3 .7 .2 1.1 1.1 3.1 6 1.1 1.5 1.7 1.5 1.4 .5 1.1-.7 .7-1 3.1-7.3 3.2-5.5 1-1.3 1.1-.5" fill="none" stroke="#1a1a1a" stroke-width="0.75" stroke-linejoin="round" />
<path d="M143.9 976.7l1.1 1.1 .6 0 .7-.5 1.8-2.3 1-1 1.1-.6 3.1-1 .7 .1 .7 .3 2.5 2.4 1 .4 .7-.2 2.1-1.9 .7-.2 .4 .1 .7 .4 2.1 2.2 1 .4 4.6-1.2 1.7-1.1 1.4-.6 1.1-.2 2.1 .2 1 .3 1.1 .8 3.1 4.1 1.1 .5 1-.6 3.2-3.7 1.7-1.4 1.1-.5 .7 .1 .7 .4 2.4 2.1 2.1 1.4 1.4 .6 .7 0 .7-.4 2.5-2.7 1-.6 1.1 .2 2.1 1.3 1.7 .6 1.1 .3 1-.1 1.1-.7 2.1-2.6 .7-.3 .3 0 .7 .4 1.8 2 1 .6 .7-.3 .7-.8 2.1-4.1 1.1-1.7 1-.8 1.1-.3 1.4 .4 2.1 1.3 1 .4 2.8-.1 .7 .1 .7 .4 1.4 1.5 2.1 3.7 1.1 1.5 1 .8 .7 .2 1.4-.4 4.9-3.6 3.2-2.7 2.4-2.3 .7-.3 .4 .1 1 1.5 2.5 6.6 .5-35.2 .9-196.9 .5-69.2 .8 102 1 70.2 2.4-14 .4-.3 1 2.7 .4 .2 .3-.8 2.5-15.1 1-4.2 .4-.2 1 2 .4 .2 1-1.5 .4 0 1 1.5 .4-.1 .7-1.2 .3-.1 .4 .5 .3 1.3 1.1 5.2 .3 .2 .7-3.4 2.1-16.5 .7-2.6 .7-.4 .4-3.5 .7-19.1 2.1-92.2 .7-14.6 .3-.8 .4 5.6 .7 30.2 1.7 113 .4 13.9 .7 11.5 2.8-22.2 .7-4.1 .3-1 .4-.2 1 1.1 .4-.6 1.7-11.6 .4-1.1 1-.8 .4-.6 .3-.1 .4-3.2 .7-20 2.1-103.3 .7-17.7 .3-1.7 .4 5 .3 12.6 2.1 145.1 .7 25.9 .4-.9 2.8-24.2 1-6.5 .7-3 .4-.8 .3 0 .4 .6 2.1 9.1 .3 .8 .4 .3 .3-.4 .4-4.7 .7-24.7 2.1-116.3 .7-17.8 .3-.7 .4 6.7 .7 33.8 1.7 123.7 .4 14.8 .7 13.6 1-12.5 1.1-7 1.4-11.7 .7-3.1 .3-.3 .4 .1 .3-.2 .4-.8 1-4.9 .4-1.1 .7-1.2 .3-4.2 .7-20.8 2.1-95.4 .7-14.1 .4-.1 .7 19.6 1.7 112.3 .7 31.7 .4 6.6 .3-.4 2.1-21.2 1.1-8.7 .7-4.1 .3-.9 .4-.2 .3 .3 1.8 5.1 .3 .6 .4 .1 .3-.6 .4-4.7 .7-22.3 1.7-87.1 .7-22.7 .4-4.9 .3 .1 .7 20 1.8 110.8 .7 30.7 .3 6.1 1.1-16.4 .7-7.5 .3-2.2 .7-2.3 .4-.2 .7-.1 .3-.4 1.1-2.5 .3-5.1 .7-23.9 1.8-92.1 .7-23.8 .3-5.1 .4 .3 .7 21.4 1.7 116.5 .7 31.8 .4 6.2 .3-8.6 .7-6.3 1.1-6.8 .7-3.6 .7-2.6 .7-1.1 1.4-.6 .3-3.4 .7-18.9 2.1-92.4 .7-14.9 .4-1 .3 5.4 .4 12.2 2.1 131.3 .7 22 .3-1.9 1.1-17.3 .3-2.6 1.4-5.1 1.4-7.7 .4-6.8 .7-27.3 1.7-96.4 .7-22.7 .4-3.9 .3 2.4 .7 27.7 1.8 130.9 .7 32 .3 4.8 2.8-28.3 .7-3.9 1.4-2.2 .4-5.4 .7-26 1.7-102.2 .7-26.9 .4-6 .3 0 .7 23.2 1.8 130.8 .7 36.5 .3 7.5 .4-2.6 1.4-21.3 .7-5.4 1.4-6.6 .3-.6 .4-5.5 .7-26 1.7-101.5 .7-26.4 .4-5.8 .3 .1 .7 22.3 1.8 124 .7 34.2 .3 6.9 1.4-18.8 1.1-8 .7-2.8 .3-.8 .4-.3 .3 .3 1.1 2.6 .3 .3 .4-.9 .3-5.9 .7-26.3 1.8-99.1 .7-24.9 .3-5.1 .4 .9 .7 26.1 1.7 136.4 .7 36.3 .4 6.7 .7-13.4 .7-6.5 .3-1.4 2.5-5.8 1.4-5.6 .3-6.9 .7-29.7 1.8-109.5 .7-27 .3-5.3 .4 1.4 .7 27.4 1.7 139.1 .7 36.1 .4 6.3 1-18.6 1.8-12.4 .7-3.2 .3-.8 .4-.1 .3-3.6 .7-22.9 2.1-116.7 .7-19.8 .4-1.9 .3 5.6 .4 13.6 2.1 156.2 .7 27.6 .3 1.8 1.1-22.5 1.4-21.8 .7-7.2 .7-4.4 .7-3.7 .7-2.2 .3 .1 .4 .8 1 3.7 .4 .2 1-2 .4-.1 .7 1.6 .2 112.4 1.3 81.6 1.3 6.5 1-3 1.5-3 1.7-2.7 2.5-3.1 1.4-1 2.1 0 1-.5 1.1-1.4 2.4-4.5 1.4-1.2 .7-.2 .7 0 2.5 1.1 .7-.1 .7-.4 3.8-4.8 2.8-4.5 1.1-.9 .7 .1 1.7 1.5 .7 .2 .7-.2 1.4-.9 .7-.1 .4 .2 1 1.5 1.4 2.9 1.1 1.7 1.4 1.2 1.7 .5 1.1-.4 .7-.7 2.8-5.5 .7-.8 .7-.1 .7 .4 2.4 2.8 2.8 2.6 2.5 3.3 1 .6 1.1-.3 3.1-3.1 1.4-.3 3.2 1.1 2.4 .5 2.5 1.9 .7 .1 .3-.2 .7-.8 2.1-4.8 .7-1.1 .4-.2 .3-.1 .7 .3 1.4 1.6 .7 .4 .4 0 .7-.3 1.4-1.7 1-.7 1.1 .2 2.1 1.5 1.4 .2 1.4-.7 2.4-2.5 1.1-.6 .7 .3 .7 .9 2.4 6.2 1.1 2 1 1 1.1 .1 1-.4 1.1-.8 3.1-3 2.5-2.7 .7-.5 .7-.2" fill="none" stroke="#1a1a1a" stroke-width="0.75" stroke-linejoin="round" />
<path d="M143.9 973.1l2.4 1.8 .7 0 1.1-.5 2.1 1.4 .7 .4 .7 0 2.4-1.2 2.1-.1 .7-.3 1.1-.8 1.7-2.2 1.1-.8 .7-.1 2.4 .8 2.1 .1 1.1 .5 .7 .8 2.8 5.5 .7 .7 .3 .1 .4-.2 .7-.9 2.4-6.5 .7-1.4 .7-.7 .4-.2 .7 .1 2.4 1.3 2.1 .4 1.4-.4 2.5-1.1 2.8-.4 2.1-1.3 1-.3 .7 .3 2.1 1.5 2.5 .3 .7 .4 1 1.3 2.8 4.5 1.1 1.1 .7 .3 .7-.1 1.7-.9 1.1-.2 .7 .5 1.7 2 .7 .5 .4 0 1-1 2.8-6.8 1.1-1.4 .7-.2 1.7 .4 1.1 0 1-.4 2.1-1.4 .7-.1 .7 .2 .7 .9 2.1 4.1 1.1 1.5 .7 .5 1.7 .2 .7 .4 2.5 2.9 1 .5 1.8-.1 2.1 .5 .7-.3 .7-.7 2.1-3.9 1-1.3 1.1-.5 1.4-.2 2.4-.8 3.5 .1 1.4 .4 1.4 .9 1.8 1.8 .5-33.8 .9-196.9 .5-67 .8 99.8 1 68 1.4-14.2 .3-1.4 .7-.9 .4-1.3 1-5.6 .4 .3 1 6.3 .4 1.3 .3 .2 1.1-2.5 .3-.5 .7-.2 .4-.5 1.7-9.6 .4-1.2 .7-1.4 .3-.2 .4 0 .3 .5 1.1 2.6 .3 .4 .4-.1 .7-1 1.7-4.1 .4-.1 1 2.6 .4 .6 .3 .3 1.4-.6 1.4 1.5 .4 .1 .7-.7 1-1.8 .4 .2 .7 1.6 .3 0 .4-3.3 .7-22 2.1-116.2 .7-20.6 .3-2.3 .4 4.7 .7 31.7 1.7 129.9 .4 17.4 .7 15.9 1.4-17.3 .7-3.7 .7-1.6 1-3.6 .4-.3 .7 .1 .3-.7 1.1-6.2 .7-2.9 .7-.9 1-.1 .7 .8 .7 2.1 .4 0 .3-3 .7-19.7 2.1-102.8 .7-17.9 .4-2 .3 4.6 .7 29.8 1.8 120.7 .7 25.4 .3-5.2 .4-2.4 1.7-8.6 .4-1.1 .3-.4 .7-.1 .4-.3 1.4-3.1 .7-2.1 1-4.6 1.4-3.2 1.1-4.1 .3-.9 .7-.6 .4-5.1 .7-24.9 2.1-114.3 .7-16.9 .3-.2 .7 22.2 1.8 127.5 .7 36 .3 7.6 .4-1.9 .7-7.5 1.4-6.4 1.4-10.1 .7-3.7 .3-1 .4-.3 .3 .6 1.1 3.5 .3 .2 .4-.5 .3-5.1 .7-25.5 1.8-101.3 .7-27 .3-6.2 .4-.3 .7 20.5 2.1 138.2 .3 13.9 .4 7.1 .3 2.2 1.1-5.7 1.4-13.1 1.7-11.6 1.4-11.5 .4-1.6 .3-.3 .4 1.3 .3-.1 .4-2.9 .7-18 2.1-92 .7-15.6 .3-1.5 .4 4.7 .3 11.4 2.1 131.1 .7 23.2 .4 .9 1-14.9 2.8-19.3 .4-.4 1.4 3.4 .3 0 .7-1.7 .4-2.3 .3-7.2 .7-26.4 1.8-88.3 .7-19.2 .3-2.7 .4 3.5 .3 10.5 2.1 134.2 .4 16.3 .7 16.9 1-13.8 1.8-13.5 2.1-11.6 .7-2.3 .3-.5 .4 .1 .3 .6 .4-.3 .3-4.2 .7-21.6 2.1-101.2 .7-15.5 .4-.5 .3 6.5 .4 13.6 1.7 120.4 .7 34.8 .4 7.6 .3-1.4 .7-8.6 1.4-13.6 1.1-7.3 .3-1.1 .4-.2 .3 .5 1.1 3.4 .3 .1 .4-1.1 .3 0 .4-2.6 .3-7.7 .7-28.1 1.8-92.4 .7-19.8 .3-2.6 .4 4 .3 11.3 2.1 141.5 .4 16.9 .7 17.6 .7-9.1 2.8-25.8 .3-1.6 .4-.6 .3 .3 1.1 2.4 .3 .2 .4-.7 .3-5.7 .7-26.5 1.8-102.8 .7-26.6 .3-5.7 .4 .3 .7 25.3 2.1 161.4 .3 15.6 .4 7.5 .3 2.3 1.4-17.2 1.4-9.8 .7-2.4 1.1-1.7 1-2.3 1.1-1.5 .3-1 .4-.3 .3-4.9 .7-25.8 2.1-122.3 .7-19 .4-.9 .3 7.1 .4 15.1 2.1 158.3 .7 25.3 .3 .7 1.1-15.3 2.1-17.4 .7-2.9 .3 .1 1.4 5 .4-1.5 .3-6.6 .7-27.3 1.8-98 .7-23.4 .3-4.3 .4 1.7 .7 23.9 1.7 115.8 .7 29 .4 4.6 1.4-14.5 1.7-12.2 1.1-4.8 1.4-2.4 .3-1.1 .4 0 .3-2.9 .4-8 .7-28.9 1.7-93.9 .7-19.7 .4-2.4 .3 4.7 .7 32.9 1.8 136.7 .7 29.4 .3 2.7 1.8-41.6 .7-6 .3-.5 .4 .4 .2 104.7 1.3 81.6 1.3 6.5 2.8-7.9 2.8-5.8 1.8-2.9 1-1.1 1.1-.4 1 0 2.5 .7 1.4-.5 1.7-2.1 3.2-5.4 .7-.7 .7-.5 .7 0 1 .6 2.8 3.6 .7 .6 1.1 .5 3.8-.3 3.5 .4 1.1-.1 1-.7 2.5-2.8 1-.6 .7 0 1.4 .3 1.1 .6 1 1 1.8 2.2 1 .8 1.1 0 2.1-.6 2.1 .2 2.8-.3 1 .2 1.8 1 .7 .1 1-.5 2.8-3.4 1.1-.5 1.4 .3 3.5 2.2 .7 0 .3-.2 1.1-1.5 2.4-4.7 .7-.7 .7-.2 1.1 .6 1 1.3 1.1 1.9 2.4 5.3 1.1 1.2 .7 0 .3-.3 2.1-2.9 1.1-1.1 1-.5 1.1 0 1 .4 3.5 2.1 3.5 4.2 .7 .6 .7 .2 .7-.2 .7-.7 2.5-5.2 1-1.5 2.1-1.5 1.8-1.8 .7-.5 .3-.1 .7 .2 1.1 1" fill="none" stroke="#1a1a1a" stroke-width="0.75" stroke-linejoin="round" />
<path d="M143.9 976.8l2.1-2.3 1-.7 .7-.2 .7 .2 .7 .6 2.5 3.1 .7 .7 .7 .3 1 .1 2.5-.5 1 0 3.2 .9 1.4 .1 1-.4 2.5-1.9 1.7-1 1.4-.4 2.8 .1 1.1-.2 1-1 2.1-2.7 1.1-.6 2.8 .7 1.7-.1 1.1 .3 1 .8 2.1 2.4 1.1 .5 .7-.2 2.1-1.3 3.1-1.5 .7-.2 .7 0 1.1 .7 2.8 3 .7 .6 1 .4 .7-.1 1.1-.6 2.8-3.3 .7-.6 .7-.1 1 .7 2.5 3.5 .7 .6 .7 .1 1.4-.7 2.1-2.2 1-.7 1.1 .2 2.1 1.3 .7 .1 .7-.2 .7-.6 .7-.9 2.8-5.2 .7-.7 .7-.2 1.7 .7 1.4 1 1.1 1.4 2.8 5.1 1.7 1.6 2.1 1.4 .7 .1 1.1-.3 3.1-2.1 2.1-.9 1.1-.1 2.4 .4 1.1-.1 1-.5 2.5-2.2 1-.5 1.1 .2 2.1 1.9 .5-33.1 .9-196.9 .5-68.6 .8 101.4 1 68.3 .3-14.7 .4 0 1 5.3 .4 .8 .3-1.1 1.1-8.1 .3-.8 .4 1.2 1.4 11.8 .3 1.5 .4 .2 .7-2.2 .7-3.6 2.1-13.9 .3-1 .4-.1 1 1.5 .4-.1 .7-1.9 1-4.4 .4-.7 .3 .4 .4 1.2 1 5.5 .4 .9 .3 .3 .4-.5 1-3.8 .7-1.5 1.1-.9 1 .5 .4-.1 1-3.2 .4-.8 .3-.2 .4 .5 1 4.5 .4 .6 .3-.2 .7-1.3 .4-.1 .3 .6 1.4 4.1 .4 .3 .3-.3 .7-1.3 .4-.2 .3 .6 1.1 3.6 .3-1.2 .4-6.4 .7-27.6 1.7-101.5 .7-24.9 .4-4.9 .3 1.2 .7 23.8 1.8 120 .7 31 .3 5.3 1.4-14.9 1.4-8 .7-2 .4 0 .7 1.3 .3 0 .4-1 1.4-9.2 .3-1.5 .4 0 .3-3 .7-19.1 2.1-99.2 .7-17.1 .4-1.8 .3 4.5 .7 28.5 1.8 114.8 .7 23.9 .3 1.1 1.1-13 1.7-10.7 .7-2.7 .4-.7 .3-.1 1.1 2.5 .3 .3 .4-.7 .3-1.8 .4-.4 .3-4.3 .7-22.8 2.1-107.7 .7-16.6 .4-.7 .3 6.7 .7 34.7 1.8 127.5 .7 23.5 .3 .3 1.1-13.9 .7-6.1 .3-1.7 .4-.8 1 .3 .4-.9 1-4.7 .4-.5 .3 .2 .4-.1 .3-3.7 .7-21.6 2.1-107.6 .7-17.7 .4-1.5 .3 5.2 .4 11.8 2.1 131.3 .3 14.5 .4 8 .3 1.7 .7-12.1 1.1-10.6 .3-1.8 1.8-5.8 .3-.4 .7 1.1 .4-1.5 .3-6.2 .7-25.2 2.1-101.9 .4-8.5 .3-3.7 .4 2 .7 24.2 1.7 115.4 .7 28.3 .4 4.4 .7-14.1 1-8.4 .4-1.3 .3-.5 .4 0 .7 .7 .3-.2 .4-.7 1-3.3 .4-.2 .3-3.7 .7-21.2 2.1-104.6 .7-17 .4-1.3 .3 5.6 .4 12.6 2.1 138.9 .7 23.5 .3-.7 .7-10.2 .7-5.7 1.4-7.5 1.1-3.8 1.4-6.6 .3 0 .4-2.8 .3-7.7 .7-27.9 1.8-91 .7-19.2 .3-2.4 .4 4.2 .7 29.8 1.7 123.8 .7 26.8 .4 .3 .3-8.2 .7-9.6 1.4-11 .4-1.8 .3-.3 .4-4.4 .7-24.4 2.1-118.5 .7-19 .3-1.1 .4 6.5 .3 14.3 2.1 154.2 .7 25.4 .4-2.4 1-18.5 .7-6.8 .4-.9 .3 .8 .7 3.1 .4 .4 .3-.6 .4-.1 .3-3.8 .7-23 2.1-115.5 .7-19.4 .4-1.7 .3 5.2 .4 12.2 2.1 137.5 .7 24 1-13.3 1.8-16 .3-1.3 .4-.2 .7 .7 .3 0 .4-.5 .7-2.7 .3-6.4 .7-25.8 1.8-91.6 .7-21.6 .3-3.8 .4 2.1 .7 25.1 1.7 119.6 .7 29.4 .4 4.5 .3-11.9 1.8-20.4 .3-1.9 .4-.9 .3 0 1.8 2.7 .3-.2 .4-3.9 .7-21 2.1-100.8 .7-15.9 .3-.8 .4 6 .3 13.1 2.1 138.8 .7 22.5 1.4-19.9 1.4-10.4 .7-2.8 .7-.5 .4-4.3 .7-23 2.1-109.1 .7-16.9 .3-.7 .4 6.9 .7 35.8 1.7 131.8 .7 24.4 .4 .4 .7-10.5 2.1-23 .3-1.8 .4-.8 .7-.2 .3-.6 .4-5.1 .7-24.2 2.1-108.9 .7-15.7 .3 .1 .4 7.2 .7 33.3 1.7 116.3 .4 13.3 .3 6.5 1.4-16.9 .7-5.7 .4-1.4 1.4-2.6 1.4-4.5 .3-.4 .4-.1 .7 .8 .3 0 .4-.4 .7-2.3 .2 104.3 1.3 81.4 1.3 6.6 1.4-3.5 1.8-3.6 2.1-4 1.4-2 1.4-.9 2.8 .1 1.4-.7 1.4-1.4 3.1-4.6 1.1-1 1-.1 1.8 .9 1 .2 1.1-.6 1.7-2.2 1.1-.9 .7 .1 .7 .4 3.1 4.4 1.1 .8 .7-.1 .7-.6 2.1-3.3 .7-.8 .7-.2 .7 .2 2.1 1.9 4.2 5.1 1.7 1.3 1.1 .3 .7-.3 .7-.6 2.1-3.1 1-1.1 .7-.3 2.1-.2 1.1-.4 2.8-2 1.4-.6 2.4 .2 1.8-.2 1 .5 1.1 1.6 2.4 5.4 .7 .8 .4 .1 .7-.3 .7-.7 2.4-4.2 1.1-1.2 .7-.4 .7 0 2.1 1 1 0 1.1-.7 2.1-2.5 .7-.5 .7-.2 3.1 .2 3.9 1 2.4 .1 1.4 .3 1.1 .6 1.7 1.8 1.1 .4 .3-.1 .7-.7 2.1-4.3 1.1-1.7 .7-.4 1.4-.2 1 .2 1.1 .4 1 1.1 1.8 2.4" fill="none" stroke="#1a1a1a" stroke-width="0.75" stroke-linejoin="round" />
<path d="M143.9 984.5l.7 .4 .7-.4 .7-1.1 1.7-3.9 1.1-1.5 1-.4 2.1 0 1.8-.8 2.1-1.9 3.1-4 .7-.5 .7-.3 .7 .2 .7 .5 3.2 3.9 .7 .4 .7 0 3.1-.9 1.1-.4 .7-.7 2.1-3.4 .7-.5 .3 0 1.1 1.1 2.4 5.9 1.1 1.8 1 1 .7 .3 .7-.1 1.1-.8 1-1.7 1.1-2.4 2.4-7.3 .7-1.3 .7-.5 .4 0 .7 .7 2.4 4.2 .7 .5 1.8 .3 .7 .3 1 1 1.8 2.4 1 1.2 .7 .4 2.1 .8 2.1 1.1 .7-.1 .7-.6 2.1-3.4 .7-.7 .4-.1 .7 .3 2.4 2.6 2.5 .9 2.1 2.2 .3 .3 .7 .1 1.1-1.1 2.4-4.8 1.4-2 2.1-1.9 1.8-.7 1 .1 1.1 .5 2.8 2.8 1 .6 1.1-.2 1.7-1.7 1.1-.7 1 .2 1.8 1.8 1 .6 .7 0 1.4-.6 .7 0 1.1 .9 2.1 3.7 1 .9 .4 0 .7-.4 2.1-2.6 .7-.5 1-.2 2.1 .6 1.8-.5 .5-32.9 .9-196.9 .5-69.9 .8 102.7 1 81.1 .3 2 2.1-14.6 .4-.7 .3 .5 1.1 4 .3-.5 1.1-5.7 .3-.6 .7-.1 .4-1.3 1.4-13.6 .3-1.9 .4-.5 .3 .7 1.1 5.2 .3 .8 .4 0 .7-2 1-5 .4-1.2 .3-.3 .7 1.3 1.8 7.6 1 .7 .7 .9 .4 .1 .3-.6 .4-1.3 1.4-7.7 .3-1.4 .7-1.3 1.8-.3 .7 .6 1.4 2.5 1.4 4.7 .3 .6 .4-.5 .3-1.5 .7-4.9 .7-2.9 .4-.4 2.8-.8 .3 .1 .4 .6 .7 2 .3-.3 .4-4.4 .7-22.9 2.1-108.2 .7-16.7 .3-.6 .4 6.4 .3 13.6 1.8 120.5 .7 35.1 .3 7.7 .4-.6 1.4-18.9 .7-6.4 .3-1.6 .4-.6 .3 0 .4 .6 1 3.9 .4 1 .3 .3 .4-.5 .7-2.6 1.4-7.1 .3-6.8 .7-25.4 1.8-85.1 .7-18.7 .3-2.7 .4 3.1 .7 26.1 1.7 113.5 .7 25.8 1.4-16.8 1.8-9.4 .7-2.3 .3-.4 .7-.1 .4-.3 1-2.8 .4-.5 .3 .3 .4-.8 .3-5.3 .7-23.9 2.1-103.6 .7-14 .4 .8 .7 22.4 2.1 136.4 .3 12.7 .7 12.6 1.4-20.8 .7-7.4 .4-1.9 .3-.5 1.1 3 .3 .1 .4-1.3 1-6.4 .4-1.3 1-2.5 .4-2.2 .3-7.5 .7-28.5 1.8-96.9 .7-21.5 .3-3.3 .4 3.1 .7 27.5 1.7 121.5 .7 28 .4-1.7 1-14.3 .7-4.7 1.1-4.8 .3-1.1 .4-.4 1 1.4 .4 0 1.4-2.2 .3-1.4 .4-5.9 .7-23.5 1.7-83.1 .7-19.4 .4-3.3 .3 2.1 .7 24.5 2.1 131.7 .4 11 .7 7.4 1.7-24 .7-7 .4-.9 .3 .6 .7 2.8 .4 .4 .3-.9 1.1-5 .3-.3 .4 .3 .3-.5 .4-5 .7-23.9 2.1-108.4 .7-15.7 .3 0 .4 7.7 .7 36 1.7 126.8 .7 21.8 1.1-12.9 1.7-13.4 .7-1.8 .7-.3 1.1 .1 .7-.9 .3-1.3 .4-6.2 .7-25.6 1.7-92.5 .7-22.3 .4-4 .3 1.5 .7 22.1 1.8 108.1 .7 27.2 .3 4.3 1.4-17 1.1-8 .7-1.9 1-1 .7-1.8 .4-.1 .3-3.6 .7-21.2 2.1-105.9 .7-17.5 .4-1.5 .3 5.7 .4 13.1 2.1 146.3 .7 25.2 1-13.1 1.8-14.2 .7-3.1 .3-.2 .7 1.4 .4 .3 .3-2.7 .4-8.2 .7-30.3 1.7-100.8 .7-21.9 .4-3 .3 4 .7 31.2 2.1 152.9 .4 11.5 .3 4.3 .7-12.2 1.1-11 1-5.5 1.1-3.8 .3-.6 .4-.1 .7 1.2 .3-1.4 .4-6.4 .7-26.2 1.7-93.8 .7-22.4 .4-4 .3 1.8 .7 24.5 2.1 136 .4 11.7 .7 8.9 1.7-27.5 .4-1.8 .7-1.3 .3-1.2 1.1-4.3 1-1 1.1-2.4 .3-5.8 .7-25.8 1.8-96.7 .7-24.3 .3-5 .4 .8 .7 23.1 1.7 120.5 .7 31.9 .4 5.9 .3-.8 1.4-18.7 .7-6 .7-3.8 .4-.9 .3-.1 .4 .5 1.4 5.1 .3 .3 .4-.8 .3-1.9 .4-2.6 .7-20.9 2.1-117.2 .7-21.9 .3-3.1 .4 3.7 .7 30.6 1.7 132.6 .7 29.9 .4 3.3 1-17 1.8-13.9 .3-1.5 .4-.8 .3 0 1.4 2.3 .4-.1 .7-3.1 .2 100.1 1.3 82.6 1.3 6.6 2.8-5.7 1.8-2.3 3.5-3.2 4.5-3.4 1.1-.4 1.7-.1 1.1-.7 1-1.5 2.5-5.5 1-1.6 1.4-.9 2.5-.8 1 .1 .7 .6 2.8 4.7 .7 .8 .7 .4 1.1-.5 2.1-2.6 .7-.6 .3 0 .7 .3 2.1 1.9 .4 .1 .7-.2 1-1.2 2.1-3.7 .7-.7 .7 0 .7 .7 .7 1.5 2.8 7.9 1.1 1.6 1 .4 1.1-.6 .7-1 3.5-7.7 .7-1 1-.7 1.1 .2 .7 .5 .7 .9 2.4 3.9 .7 .7 .7 .2 .7-.2 1.1-.9 1.4-1.9 2.4-4 1.1-.9 1 .1 1.8 1.3 1 .4 3.2 .1 2.1-.6 .7 .1 .7 .4 .7 .8 2.1 3 .7 .6 .7 .2 1-.2 .7-.5 1.1-1.2 2.4-3.5 .7-.6 .7 0 .7 .3 1.1 1.4 3.8 8.6 .7 1.1 .7 .5 .7-.2 .7-1 2.5-6.3 1.4-2.3 1-.7 1.1-.2 1.4 .3 1.4 .8" fill="none" stroke="#1a1a1a" stroke-width="0.75" stroke-linejoin="round" />
<path d="M143.9 979.7l1.4-.2 1-.7 .7-1 1.1-2.2 2.4-3.9 .7-.9 .7-.5 .7 0 .7 .3 2.8 2.9 1.4 1.1 .7 .2 .7-.1 .7-.4 2.8-3.1 .7-.3 .7 0 1.8 .9 2.4 .8 1.1 1 1.7 2.5 1.1 .9 4.2 .7 1-.2 1.8-.8 2.4-.2 1.1-.4 1-1 2.8-3.9 1.1-.9 .7-.2 1 .2 1.1 .7 5.6 5.3 1 .9 .7 .3 .7 0 .7-.2 4.9-3.8 3.2-1.6 .7-.1 .7 .2 .7 .7 2.8 4.7 1.4 1.1 1 .2 .7-.1 3.9-1.4 1.4-.9 2.1-2.1 .7-.3 .7-.1 3.1 1.3 5.3 1.4 1 .6 2.8 2.6 1.1 .3 1-.5 2.8-3.3 4.9-4.1 1.4-.8 2.1-.8 2.5-2.1 .7-.3 .7 0 2.1 1.3 .5-27.9 .9-196.9 .5-67.1 .8 99.9 1 84.4 .3-7.2 .4 1.2 .3 .5 .4-.5 1.4-6.7 .7-2.3 .3-.6 .4-.1 .3 .3 2.1 5.1 .4 .2 .3-.3 .4-1.2 1-6.9 .4-1.8 .3-.9 .7 0 1.1-.5 1.4 3.7 .3 0 .7-.6 1.1 .8 .3-.3 1.1-1.8 1.4-6.3 .3-1 .4-.2 .7 2.2 1.7 7.8 .4 .7 .3-.5 1.8-9.4 .3-1 1.4-2.5 1.1-4 .3-.8 .4 .4 1 4.2 .4 .3 1-3.4 .4-.4 .3 .4 1.1 3.8 .3 .7 .4 0 1.7-5.4 .4-.3 .3 .1 1.1 1.3 .3-.2 .7-3 1.1-8.2 .3-1.6 .4-.2 .7 2 1.4 6.5 .3-1.2 .4-6.3 .7-27.3 1.7-100.3 .7-24.8 .4-4.8 .3 1.3 .7 24.1 1.8 122.1 .7 31.5 .3 5.5 .4-9.2 .7-7.3 .3-1.7 .4-.4 1 2.5 .4 .1 .3-.8 .7-3.6 1.4-10.1 .4-1.1 .3-.4 .7-.2 .4-1.4 .3-6.2 .7-25.5 2.1-104.4 .4-8.8 .3-3.9 .4 1.9 .7 25.9 2.1 143.8 .3 12.3 .4 4.9 1.4-16.2 1.4-11.2 .7-4.2 .3-1.1 .4-.5 .3 .1 .4 .6 1 3.3 .4 .2 .3-1.5 .4-6.7 .7-26.9 1.7-96.1 .7-22.7 .4-4 .3 1.9 .7 23.9 1.8 114.6 .7 28.3 .3 4.3 .4-1.3 1.4-15.7 .7-4.9 1-2.8 1.8-11 .3-.6 .4 .2 .7 1.6 .3-.4 .4-4.1 .7-19.6 2.1-88.7 .7-12.8 .3 .1 .4 6.8 .7 31.8 1.7 111.9 .7 19.2 1.1-15.4 .7-6.9 .3-2 .4-.7 .3 .2 .7 1.3 .4 0 .3-.8 1.4-6.6 .4-.4 .3-4.6 .7-23.6 1.8-95.3 .7-25.8 .3-6 .4-.5 .3 6.5 .4 13.4 1.7 117.7 .7 33.9 .4 7.3 .7-9.4 2.4-15.2 .7-1.8 .7 0 .4-.3 .7-1.9 .3-.1 .4-3.6 .7-20.9 2.1-105.1 .7-17.5 .3-1.5 .4 5.4 .7 31.9 1.7 124.1 .7 24.7 .4 .2 1-17.7 .7-5.4 .4-1.5 1-2.4 .7-3 .4-2.7 .3-8.6 .7-32.1 1.8-107.3 .7-23.5 .3-3.4 .4 4 .7 32.5 2.1 160.7 .3 12.1 .4 3.1 1-13.4 1.1-9.4 .7-3.2 .3-.7 1.1-1.1 .7-1.5 .3 0 .4-3.1 .3-8.5 .7-30.9 1.8-100.5 .7-21.2 .3-2.6 .4 4.3 .7 30.8 1.7 128.2 .7 27.8 .4 3 .7-11.1 1.4-12.2 .7-4 .3-1 .4-.2 .7 .8 .3-2.4 .7-21.7 2.5-138.4 .3-9.3 .4-3.5 .3 3.4 .7 30.7 1.8 135.9 .7 31.4 .3 2.3 .7-8.6 2.1-19.3 .4-1.2 .3-.5 1.1 .6 .7 0 .3-.4 .4-1.8 .3-7.8 .7-31.1 1.8-109.6 .7-25.7 .3-4.4 .4 2.4 .7 27.9 1.7 131.1 .7 32 .4 4.8 .3-2.5 .7-11.1 .7-7.1 1.8-11 .3-.1 .4-3.7 .7-21.3 2.1-106.5 .7-17.6 .3-1.5 .4 5.2 .3 12.2 2.1 134.7 .7 23.1 .4-.2 1-13.7 1.4-8.2 1.4-13.5 .4-.6 .3-4.8 .7-22.1 2.1-97.7 .7-13.7 .4 .6 .3 8.2 .7 37.4 1.8 128.4 .3 14.4 .4 6.8 1-14 2.1-18.9 1.1-7.4 .3-1.3 .4-.5 .7 .7 .3-.1 1.4-5.7 .4-.4 1.4 1.5 1.4 3.9 .2 98.3 1.3 81.3 1.3 6.6 2.1-4.1 4.2-6.3 1.4-1.4 2.1-.7 .7-.5 1.1-1.3 1.7-2.8 .7-.8 1.1-.4 2.1 .6 1 0 .7-.3 2.5-1.8 1-.5 1.8-.1 2.4 .5 3.9-.2 1.4-.6 2.1-1.5 1.4-.5 1.4-.1 2.4 1 .7 .1 .7-.2 1.8-1.2 1-.2 2.1 .9 .7 0 1.4-.4 .7 .2 .7 .5 1.8 2.2 1 .6 1.1-.5 4.2-6.1 .7-.7 .7-.4 1 .3 3.2 3.6 .7 .5 .7 .2 1-.4 1.4-.9 .7-.2 1.1 .3 1.4 .8 1 .1 1.1-.7 2.4-3 1.1-.3 1 .5 1.1 1 1.7 2.4 1.1 2.6 2.1 7 .7 1.5 .7 .7 .7-.4 .7-1.3 2.8-9 .7-1.5 1-1.2 1.1-.2 1 .4 2.8 2.5 .7 .4 .7 .1 3.2-.1 1-.4 .7-.8 2.5-4.9 1-1.5 .7-.2 .7 .2 2.5 2.3" fill="none" stroke="#1a1a1a" stroke-width="0.75" stroke-linejoin="round" />
<path d="M143.9 978.2l2.1-4.5 .7-1.1 .3-.3 .4 0 .7 .6 2.1 3.6 .7 .5 .3 0 .7-.4 2.1-2.4 1.1-.7 1 0 2.1 1.1 1.1 .1 1-.7 2.5-2.6 .7-.4 .7-.1 1.4 .7 2.8 2.4 3.1 1.1 2.8 2.3 1.1 .3 1-.6 2.5-2.8 .7-.5 1-.2 2.1 .8 .7 0 1.1-.7 2.4-2.6 .7-.5 1.1-.1 2.4 .5 1.1 .9 1 1.9 2.1 5.2 1.1 1.4 .7 .2 .7-.3 .7-.5 1.4-1.6 4.9-7.8 .7-.7 1-.3 1.4 .5 1.4 1.2 1.4 1.6 2.8 3.9 .7 .6 1.1 .6 1 .1 1.4-.6 1.4-1.4 3.2-3.9 .7-.5 .7-.3 .7 .1 .7 .6 2.1 2.7 1 1 1.1 .6 .7 .1 1 .1 1.4-.4 4.6-3 1.4-.2 1 .3 1.4 .9 2.8 3.9 1.1 .8 .7-.3 .7-1 3.5-9.5 .7-1.4 .7-.7 .3-.2 .7 0 .7 .6 2.5 4 .5-28.7 .9-196.9 .5-66.4 .8 99.2 1 78.1 .3 1.8 .7-4.2 .4-1.2 .3-.4 .4 .1 .7 .8 1.4 3.8 .3-.5 1.4-10.4 .7-3.3 .4 0 1 2.8 .7 1.2 1.4 4.8 .4-.1 .3-1 1.8-8 .7-1.5 .3 .3 1.4 9.8 .4 .7 .7-3.3 1.7-13.4 .4-1.9 .3-.5 .4 1.3 1 7.4 .4 .9 .3-.3 .7-1.5 .4 .1 1.4 7.6 .3 .8 .4-.2 .7-3.1 1.4-15.3 .3-2.3 .4 0 .3 2.5 1.1 13.6 .3 2.2 .4-.4 .7-3.9 .3-1.1 .4 .2 .7 1.4 .3 .2 1.4-.2 1.1-1.2 .3 .1 1.4 3.2 .4 .4 .3 0 1.4-2.2 1.1 .9 .3-.5 .7-5.1 1.1-11.3 .3-1.6 .4-.4 .3 .3 .7 1.5 1.8 4.9 2.1 2.2 1.4 3.2 .3-.4 .7-4 .4-8.2 .7-30.8 1.7-102.8 .7-22.4 .4-3.2 .3 3.5 .4 11.1 2.1 142.5 .3 17.4 .4 10.7 .3 5.1 2.1-19.8 .7-4.4 .7-1.7 1.1-.6 .3-.4 .7-1.8 1.8-5.9 .3-.7 .7-.2 .4-1 .3-6 .7-25.9 1.8-96.5 .7-23.9 .3-4.8 .4 1.1 .7 23.9 1.7 122.7 .7 32.1 .4 5.7 .3-5.5 .7-6.1 1.1-3.1 1-4.1 1.1-2.7 2.1-10 .7-1.4 1-.4 .4-.4 .3-4.6 .7-22.1 1.8-87.7 .7-23.3 .3-5.1 .4-.2 .7 19.3 1.7 110.2 .7 31 .4 6.4 .7-9.5 2.4-13.4 1.4-3.3 1.1-4.1 .3-.4 .7 1 .4 .2 .3-.9 .4-1.9 .3 0 .4-2.7 .7-19.6 2.1-105.9 .7-19 .3-2.4 .4 4.1 .7 29.5 1.7 123.2 .7 26.8 .4 1.2 .7-8.4 2.4-17.7 1.1-4.5 1-2.1 .7-.7 .4-.7 .3-5.7 .7-26.2 2.1-115.9 .7-16.2 .4 .5 .3 8.6 .7 39.1 1.8 134.4 .3 15.1 .4 7.2 1.4-17 2.4-10.9 1.8-3.2 .3-1.2 .4-6.1 .7-25.7 1.7-93.5 .7-22.6 .4-4.3 .3 1.4 .7 23.3 1.8 115.2 .7 29.3 .3 4.9 .4-5.7 .7-6 .7-3.9 1.4-5.7 1.7-11.5 .7-2.8 .4-.2 .3-4 .7-22 2.1-106.5 .7-16.9 .4-1 .3 6.7 .7 35.8 1.8 134.6 .7 25.6 .3 .9 .7-10 1.1-8 .7-2.6 .3-.7 .4-.3 .7 .3 .3-.1 .4-.7 1-6.5 .4 0 .3-3.2 .4-9.1 .7-32.6 1.7-106.5 .7-22.4 .4-2.8 .3 4.2 .7 29.3 1.8 122.2 .7 26.5 .7-10.9 .7-7.2 1-4.9 1.8-5.3 1.4-6.8 .3-.8 .4-5.4 .7-24.4 2.1-106.1 .7-14.5 .3 .8 .7 24.5 1.8 129.7 .7 34.7 .3 6.5 2.8-28.3 .4-1.8 .3-.8 .4 .2 .7 1.7 .3 .3 .4-.6 .7-2 .3-.6 .4-5.3 .7-26 2.1-119.1 .7-17.5 .3-.1 .4 8.1 .7 39.2 1.7 139.2 .7 24.3 .4-2.5 .7-11.6 .7-6.7 1.7-8.6 .4-1 .3-.2 .7-.1 .4-.7 .3-5.7 .7-26.7 2.1-118.8 .7-16.8 .4 .2 .7 22.8 1.7 124.7 .7 34.1 .4 6.7 2.1-17.3 .7-3.1 1.4-2.9 .2 91.6 1.3 82.5 1.3 6.5 3.5-9.6 1.4-2.8 1.1-1.5 5.2-3.6 1.1-.1 2.1 .4 1.4-.5 2.8-2.1 2.8-3.2 1-.6 .7 0 1.8 .6 2.1-.1 .7 .3 1 1 1.8 2.4 1 .6 .7 0 1.1-.6 3.1-2.6 1.1-.2 1 .7 2.5 2.9 .7 .4 .7 .1 2.8-1.2 1-.7 1.1-1.3 2.4-5.1 .7-.7 .7-.1 .7 .4 .7 .9 3.5 4.7 2.1 3.3 1.1 .7 .3 0 .7-.4 2.1-2.3 2.1-1.2 2.8-3.2 2.5-1.6 2.4-2.6 1.4-.8 1.4 .2 1.1 .8 1 1.7 2.8 5.6 .7 .7 1.1 .4 2.8-1 2.1 .1 1-.3 1.1-.6 1.7-1.8 1.1-.7 1 0 2.1 1.9 1.1 .4 .7-.3 1.7-1.5 1.1-.6 4.5-.5 3.2-1.7 .7 0 .7 .3" fill="none" stroke="#1a1a1a" stroke-width="0.75" stroke-linejoin="round" />
<path d="M143.9 976.4l.7-.5 .7-.3 .7 .2 1.7 1 1.1-.3 1-1.3 2.5-4.8 .3-.4 .7-.2 .7 .4 2.1 3.3 1.1 1.2 .7 .3 1 .1 2.5-.4 1-.7 .7-.8 3.2-4.8 1.4-1.2 1-.4 1.4 .2 2.1 1.4 1.1 1.2 2.4 3.6 .7 .6 .7 .3 2.5-.4 2.1 .9 .7 .1 .7-.2 1-1 4.2-6.1 .7-.6 .7 0 1.1 1.3 2.4 6.4 .7 1.3 .7 .8 .7 .3 .7 0 2.5-1.1 1-.1 1.1 .7 2.1 2.7 .7 .4 .7-.3 .3-.3 2.5-4.8 1-1.2 .4 0 .7 .4 2.8 4.2 .7 .5 .7 .1 .7-.2 .7-.5 2.8-2.7 .7-.3 2.1-.3 .7-.3 2.4-2.4 .7-.4 .7 .2 1.8 1.5 1 .5 2.5-.9 2.4 .1 2.5-.9 1.4 0 3.1 1 2.5 1.5 1 .3 .7-.2 .7-.6 2.8-4.4 1.1-1 1-.2 2.5 .7 2.4-.1 1.1 .2 .5-27.2 .9-196.9 .5-68 .8 100.8 1 72.8 .3 6.4 1.8-9.9 .3-.2 1.1 3.5 .3 .5 .4-.4 .7-2.4 .3-.4 .7 .9 .4 0 1-4 .4-.1 1 4.6 .4 .6 .3-.8 .4-2.1 .7-6.3 .7-3.7 .3-.2 .7 2.1 1.4 10.5 .4 1.2 .3-.6 1.4-9.4 .7-2.8 .4-.4 .3 .2 .7 1.8 .4 .6 .3 .1 1.1-.9 .3-.5 1.4-3.6 1.1-1 .3 .1 .4 .9 1 5.5 .4 1.1 1 1.2 1.4 5.5 .4 .7 .3-.1 1.1-3.6 1-2.2 1.8-8 .3-.1 .4 1 1 5.8 .4 .8 .3-.4 .4-1.5 1.7-10.7 .4-.6 .3 .4 1.1 3.8 .3 .1 .7-1 1.1-.7 1.4-4.3 .3-.7 .4-.2 .3 .4 .4 1.2 2.8 16.8 .3 1.5 .4 .5 .3-1 .4-2.3 1.4-14.3 .3-2.2 .4-.9 .3 .3 1.4 6.1 .4 .1 .7-.8 .3 .6 1.1 4.3 .7 2 1 5 .4 .6 .3-.8 1.4-10.1 .4-1 .3-.2 .4-4 .3-8.8 2.5-118.2 .7-16.8 .3-1 .4 4.9 .3 10.8 2.1 114.6 .7 18.8 .7-7.7 1.4-9.8 1.4-13.5 .7-3.8 .7-2.3 .4-.7 .3 .1 .4-.7 .3-4.6 .7-19.8 1.8-73.9 .7-18.5 .3-3.7 .4 1 .7 22.9 1.7 118.4 .7 31.2 .4 5.6 .3-.2 2.1-27 .4-2.3 .3-1.1 .4 0 1 1.3 .4-1.6 .3-7 .7-28.6 1.8-101.8 .7-24.2 .3-4.3 .4 2 .7 26 1.7 124.6 .7 30.9 .4 4.8 .7-9 .3-2 .4-.9 .7-.9 .3-1.3 2.5-17.2 .7-2.7 .7-1.2 .3-5 .7-24 2.1-109.2 .7-16 .4-.1 .3 7.3 .7 34.9 1.8 123.1 .7 21.3 .7-14 .7-6.5 2.1-9.3 .3-.5 1.1 1.2 .3-.1 .4-.6 .3-5.3 .7-25 1.8-97.3 .7-25.4 .3-5.6 .4 .2 .7 21.7 1.7 120.4 .7 33.2 .4 6.7 1-16.1 1.1-11.3 .7-3.4 .3-.4 .7 .2 .4-.3 .3-4.2 .7-22.1 2.1-105.2 .7-16.4 .4-.7 .3 6.4 .4 13.4 2.1 140.7 .7 22.5 1.4-21.9 .3-1.9 .4-.7 .7-.4 .3-.8 1.4-4.3 .4-6.6 .7-27.8 1.7-101.4 .7-24.7 .4-4.7 .3 1.7 .7 27 1.8 134.2 .7 34.3 .3 5.7 .7-14 1.4-12.9 .7-3.8 .4-.5 .3 .2 .7 1.4 .4-1.6 .3-7.2 .7-29.2 1.8-104.1 .7-24.7 .3-4.3 .4 2.1 .7 28.2 1.7 134.8 .7 33.3 .4 5.2 1-16.5 1.4-12.4 1.1-6.1 .3-.7 1.1 0 .3-1.3 .4-6.4 .7-26.8 1.7-97.7 .7-23.7 .4-4.5 .3 1.5 .7 25.3 1.8 125.4 .7 32 .3 5.4 1.1-20.8 .7-7.8 .3-1.7 1.1-1.8 .7-2.9 .3-.3 .4-4.3 .7-23.5 2.1-113.2 .7-18 .3-1 .4 6.2 .7 32.9 1.7 123.4 .4 15.1 .7 13.2 .7-11.7 1.4-16.6 1-6.6 1.8-5.8 .3-5.7 .7-25.6 1.8-97.1 .7-24.7 .3-5.1 .4 .8 .7 25.1 1.7 133.2 .7 35.7 .4 6.7 1-11.8 1.1-8.6 1.4-14.1 .3-2.3 .4-.7 .3-2.5 .7-19.5 1.8-91.7 .7-27.9 .3-7.7 .4-2.7 .3 4 .7 30.8 1.8 131.9 .7 29.4 .2 61.8 1.3 81.2 1.3 6.6 1.8-5.1 1.7-3.7 4.2-7 1.8-2.4 1.4-1 3.1-.1 3.2-1.4 1 0 1.8 .5 1-.1 1.1-.7 2.4-3.6 1.1-.7 .7 0 .7 .5 3.5 4.4 1 .8 .7 .1 2.5-.5 2.1 .2 1-.2 1.1-.9 2.1-2.5 1-.5 1.1 .1 2.1 1 1.4 .4 2.4 .2 3.9-.6 .7-.4 2.1-2 .7-.3 1 .3 1.8 1.4 1 .2 .7-.5 1.8-1.7 .7-.2 .7 .1 .7 .5 3.1 3.3 .7 .4 .7 .2 1.1-.6 1.7-2 .7-.5 1.1-.3 1 .1 1.4 .3 1.1 .7 1 1.6 2.1 4.8 .7 .8 .4 .1 .3-.2 .7-1.3 2.5-7.5 .7-1.3 .7-.5 .7 .2 .7 .8 2.1 3.6 1 1.3 .7 .6 1.4 .6 1.8 .4 1-.2 2.8-1.9 2.5-.4 1-.4 3.9-3.9 1-.3 1.1 .5" fill="none" stroke="#1a1a1a" stroke-width="0.75" stroke-linejoin="round" />
<path d="M143.9 985.2l2.8-7.4 1.4-2.8 1.7-.2 .7-.3 1.1-1 2.1-2.7 1-.8 .7-.1 .7 .2 1.8 1.3 2.4 1.3 2.8 2.5 1.1 .5 1-.4 2.1-3.2 1.1-.9 .7 .1 1.7 1.9 1.1 .6 1-.4 1.8-1.3 1-.2 3.2 1.1 2.4 .5 2.5 1.2 .7 .1 .7-.2 1-1.1 2.8-4.9 1.1-1 .7-.1 1 .3 1.1 1 3.1 5.4 1.1 1.3 1.4 .8 3.5 .8 1.4-.2 1-.6 1.1-1.1 2.1-2.9 1-.7 .4 0 .7 .4 2.1 2.8 1 .9 1.1 .2 2.1-.6 1 0 1.1 .4 1.7 1.4 .7 .3 1.1-.1 2.1-1 2.1 .3 .7 0 2.4-1.1 2.1-.3 2.1-.8 1.1 .3 1.7 1.6 1.1 .7 1 .1 3.2-.1 1-.4 .7-.6 1.1-1.3 2.8-4.5 1-.8 .7-.1 .7 .3 .7 .7 3.5 6.2 1.1 1.4 .7 .5 .5-36.9 .9-196.9 .5-64.1 .8 96.9 1 77.1 .3-10.6 .7 1.4 .4 0 .7-1.4 .3-.2 1.1 3 .3 .4 .7-.8 .4 .1 .3 .8 1.1 4.3 1.4 4 1.4 6.9 .3 .4 .4-1 .3-2.3 1.4-12 .4-1.2 .3-.5 .4 .1 .3 .6 1.1 3.4 .3 .6 .4-.3 .7-2.3 .3-.2 1.1 3.9 .3 .7 .4-.3 1.4-3.7 .3 .1 1.1 2.6 .3 .5 1.8 .6 1-.3 1.1 .7 .3-.2 .4-.5 1-2.3 1.1-1.6 1-2 .4 .2 .3 1.4 1.1 6.9 .3 1.1 .4-.2 .3-1.2 1.4-8.5 .4-.8 .3 .6 1.1 4.9 .3-.5 1.4-10.8 .4-1.5 .3-.2 .4 1.6 1 8.7 .4 1.1 .3-.1 .7-.7 .7 .8 .4-.1 .7-2.8 1-5.9 .4-1.3 .3-.5 .4 .1 .3 .9 1.4 6.8 .4 1.1 .3 .1 .4-1 1.4-7 .3-.6 1.1-.2 1-1.5 .4-.1 .3 .6 1.4 6.1 .4 .5 1-2.1 .4-.2 1.4 4 .3 0 .4-.8 1-4.5 .4-.2 .3 1.3 1.1 8.4 .3 1.2 .4-.5 1-5.7 .4-.9 .3-.4 .7-.1 1.1-.9 .3 .1 1.1 1.6 .3-.4 .4-1.2 1-5 .4-8.1 .7-31.6 1.7-108.7 .7-24.8 .4-3.9 .3 2.7 .7 26.6 1.8 121 .7 28.6 .3 3.9 .7-8.1 2.5-22.3 1-6.8 .4-.7 .3 0 .4 .9 1.4 7.1 .7 2.7 .3-2.5 .4-7.9 .7-29.2 1.7-97.8 .7-21.4 .4-3 .3 3.6 .7 29.5 2.1 145.4 .4 11 .3 .6 1.1-15.1 .7-5.9 .3-1.6 .4-.7 .3 0 .7 .5 .4-.4 1.4-6.7 .3-.9 .4-.1 .7 .7 .3-.1 .4-3.4 .7-20.9 2.1-106.3 .7-18 .3-1.7 .4 5.1 .7 30.8 1.7 122 .4 15.7 .7 14 .7-12.2 .7-7.4 .3-1.7 1.1-2.3 .7-3.1 1.4-9.2 .7-2.3 .3-6.1 .7-27 1.8-101.8 .7-25.7 .3-5.2 .4 .9 .7 25.8 1.7 135.3 .7 35.9 .4 6.7 1.4-20 .7-7 .7-2.8 1-.7 .4-.5 1-3.1 .4-6 .7-26.2 1.7-97.5 .7-24.3 .4-4.8 .3 1.1 .7 24.1 1.8 123.5 .7 32.3 .3 5.8 1.1-15.1 1-10.8 .7-3.2 2.1-3.5 .4-1 .3-5.5 .7-23.9 1.8-88.5 .7-21.9 .3-4.3 .4 1 .7 22.5 1.7 114.5 .7 29.8 .4 5.3 1.4-13.5 3.1-20.4 .4-.8 .3-5.4 .7-25.1 1.8-96.2 .7-24.7 .3-5.2 .4 .5 .7 22.6 1.7 121.9 .7 33 .4 6.4 .3-2.7 1.1-14.3 1-9 1.1-5.8 .3-.8 .4 0 .3 .8 .4 0 .3-2.8 .7-19.2 2.1-101.1 .7-17.8 .4-2.1 .3 4.4 .7 29.5 1.8 120.7 .7 25.6 .3 1.8 .7-10.9 1.1-10.6 1.7-9 .4-1 .3-.4 .4-.1 .3-3.8 .7-23.8 2.1-121.1 .7-20.6 .4-1.9 .3 5.8 .7 35.7 1.8 140.8 .3 18.3 .4 10.4 .3 5.1 1.4-21.2 .7-7.3 .4-1.8 1-1.8 .4-1.2 1.4-9.4 .3-.7 .4-5.4 .7-24.7 2.1-108.7 .7-15.2 .3 .5 .7 23.9 1.8 129.1 .7 35 .3 6.8 2.8-24.7 .4-1.9 .3-.9 .7-.8 .4-.7 1-3.5 .4-.6 .3 .2 1.8 5.4 .3 .8 1.1 .8 .7 1.4 .2 80.8 1.3 83.2 1.3 6.5 1-3.8 1.1-2.7 5.3-9.8 1-1.6 1.1-1.1 1-.5 2.8 .1 1.1-.4 1.4-1.7 2.4-4.4 .7-.7 .7-.3 1.1 .1 2.4 1.2 1.1 .1 1-.5 3.2-3 1-.5 .7 .1 .7 .5 .7 1 2.8 7.6 1.1 1.6 .3 .1 .7-.5 2.1-3.5 1.1-1.1 1-.4 3.5-.3 1.1 .5 1.7 1.9 1.1 .6 1-.4 2.1-1.7 1.1 .1 1.4 1.1 3.8 4.6 1.1 .8 1 .1 .7-.3 1.1-1.1 3.1-4.7 .7-.6 .7-.2 .7 .1 .7 .6 3.2 3.8 1 .6 .7-.1 3.2-2.5 3.8-1.6 1.8-1.2 1.4-1.8 2.1-3.9 .7-.9 .7-.4 1 .3 6 4.9 1 .3 2.1-.2 .7 .3 1.1 1.1 1.7 2.5 .7 .5 .4 0 1-.8 2.1-3.2 1.1-1.3 2.1-1.8 1.4-.7" fill="none" stroke="#1a1a1a" stroke-width="0.75" stroke-linejoin="round" />
<path d="M889 950.2l4.4-.6 5.6 .9 3.3-.7 3.3 .8 1.9 .2 7-1 2.9 .6 1.1 .1 5.9-1 3.4 .8 3.7-.9 3.3 .5 7 .6 5.9-1.1 3-.2 4.8 .9 2.9-.2 7.4 .8 4.8-.1 6.3-1.1 3.7 .3 3.7-.5 4.4 .5 4 .2 3.4 .8 3.3-.7 1.5 .1 2.6 .5 .7-.1 2.2-.8 3 .6 4.8-.8 1.8 .2 3.3 .8 1.1-.1 3-.7 2.6-.2 5.1 .5 1.1-.2 2.3-.7 .3 .9 .4 3.3 .4-.1 .7-3.4 .7-5.6 1.9-20.2 7.4-109.1 2.2-29.4 2.2-25.8 2.2-22.2 2.2-18.8 2.3-15.8 2.5-14.8 3-13.5 3.7-13.5 1.5-4.1 1.8-4.1 1.5-2.8 1.8-2.9 1.1-1.4 4.5-4.9 4.8-3.7 1.8-.7 2.6-.1 1.8-.7 .8 0 1.5 .7 .7 .1 2.6-1.9 1.5-.5 2.9 .5 2.6-.4 1.1 .1 3 1.4 1.8 .4 1.1-.1 1.5-.5 .7 0 .8 .5 1.8 2.6 .8 .7 .7 .4 2.2 .5 .7 .4 3.4 3.2 1.8 1.4 .7 .4 .8 0 1.8-.6 1.9 1.1 .7 .2 1.1-.4 2.6-1.6 1.1 0 .8 .6 1.8 2.3 .7 .6 .8 .2 1.8 .2 1.1 .5 2.6 1.5 2.6 2.2 3.3 1.4 3.3 2.5 4.8 1.8 2.6 1.4 1.1 0 1.5-.9 .8-.2 2.9-.1 2.2 .5 1.5 0 4.4-.8 .8 .1 1.8 1.4 .8 .2 .7-.4 1.8-1.8 .8-.4 1.1 .2 1.5 1.1 .7 .4 .7-.1 1.5-1 .8 0 .7 .5 2.6 3.5 1.1 .8 1.1 .6 1.1-.1 1.5-1 .7-.1 .8 .3 1.4 1.4 1.1 .7 3 .2 3.3 .5 5.5 1.9 .8-.1 2.2-1.4 .7-.1 .8 .4 1.8 1.8 1.1 .5 4.1 63.2 2.9 38.7 3.4 34.1 2.6 22.1 2.2 17 1.8 12.5 1.9 10.7 2.9 14.3 3 12.7 2.2 7.9 2.6 8.1 4.4 11.3 1.5 3.2 1.5 2.5 4 5.8 3.7 4.8 1.1 1.1 3 2.1 2.9 3 1.1 .7 3.4 1.2 2.2 1.4 4 2 3.7 .2 3.7 1.3 3 1.2 1.1 .1 2.6-.4 3.3 .5 2.6 1.1 1.1 .2 3.7-.5 4.8 .8 5.5-.3 7.4 1 1.1-.2 1.8-1 1.1-.2 4.1 .8 7.8 1 1.1-.2 2.2-.8 1.1-.2 7.4 1.1 5.5-.9 3.3 .7 4.8-.8" fill="none" stroke="#3a3a3a" stroke-width="0.9" stroke-linejoin="round" />
<path d="M889 950.2l5.9-.2 4.1 .6 2.6-.3 3.3 0 6.3-.7 3.3 1 1.5 .2 1.1 0 2.5-.8 1.5-.1 2.2 .2 3.4-.1 3.3 .9 .7-.1 2.6-.9 5.5 .3 3.4 .5 3.3-1 1.5-.2 6.2 .6 5.9-.6 3 .3 2.6-.1 3.3 .4 2.6-.5 3.3 .2 3-.5 5.9 1.4 1.5 0 3.3-.7 3.3 .7 1.8 .1 1.5-.2 3.3-1.6 2.6-.4 1.1 .1 3 1.3 5.2 .3 1.1-.2 2.6-.8 .7 .1 2.2 .7 3.7 .1 1.1-.3 1.9-.8 1.1-.2 1.4 .3 3.7 1.6 1.1 .3 4.5-.6 .3-.4 .4 3 .4 .2 1.4-1.6 .4-.5 .4-1.1 .7-3.8 1.5-12.5 7.4-89.1 2.2-23.3 1.8-16.9 1.9-14.6 2.2-14.7 2.6-13.9 2.2-9.3 1.9-6.3 1.4-4.4 5.2-11.8 1.8-2.7 4.1-3.7 2.6-3.1 1.1-.8 2.2-.7 5.9-3.3 5.2-.3 3.3-2.3 5.6-1.6 1.4-.2 1.1 .2 2.3 1.5 .7 0 1.5-.5 .7-.1 2.6 1.4 1.5 .4 1.4-.1 2.6-1 1.1 0 3.4 2.3 2.2 0 .7 .2 2.6 2.5 1.8 1.1 3.7 .7 4.5 2.3 1.1 .1 1.8-.4 1.1 .1 2.6 1.5 .7 0 2.3-.8 2.2 .1 2.2-1.3 1.1-.2 4.1 1.5 2.9 1.4 2.2 .6 3 .5 2.6 1.4 .7-.1 2.2-2.1 .8-.1 .7 .4 1.5 1.6 .7 .4 .8 .1 2.9-.1 3.7-1.4 1.5-.3 1.1 .2 2.6 1.4 .7 .1 2.2-.7 .8 0 2.5 1.3 .8-.1 1.8-.9 .8 0 2.9 1.6 2.6 .1 2.2 1.9 1.1 .5 1.1-.1 2.3-1 1.1-.1 3.3 .8 2.9 1.3 .8 .1 .7-.3 1.9-1.3 1.4 .1 3.4 42 3.6 37.2 3.7 30.9 2.3 15.7 1.8 11.2 2.6 12.5 3.7 15.5 1.8 6.7 3 9.1 2.2 5.9 2.2 4.9 7 11.7 2.6 3.6 1.5 1.5 2.9 1.9 3 2.6 3.7 1.7 3.7 2.5 6.6 2.6 3 .4 3.3 1.2 3.7 .9 3.3 .2 2.2 .8 1.1 0 1.9-.7 1.1-.1 4.1 .9 3.3-.1 4.4 .3 3.3 .5 3-.7 1.1-.1 2.9 1.1 2.3 .3 4.8 0 3.3-.8 2.9 0 4.1-.4 2.6 .2 3.3 1 3.7 .2 1.1-.1 2.6-.5 3.7 .3 3.7-.7 2.9 .3 2.2 0" fill="none" stroke="#3a3a3a" stroke-width="0.9" stroke-linejoin="round" />
<path d="M889 950.3l3.7-.6 2.6 .6 2.9-.1 2.6 .4 4.1-.7 1.1 .2 2.2 .8 .7 .1 2.3-.4 2.9-.2 3-.8 5.5 .8 3-.6 2.5 .1 2.3-.5 3.3 .9 5.1-.5 4.5 .8 3.3-.6 5.2 .8 2.9-.7 1.5-.1 4.4 .9 3-.5 2.6-1.2 1.1-.3 .7 .2 2.2 1.2 1.1 .2 1.1-.1 3-1.1 .7 .1 1.9 .8 1.1 .2 2.6-.3 3.3 .3 3.7-.8 2.6 .4 5.1-.2 5.6 .5 2.6-.3 4.8 .1 3.3-1.1 .7 0 2.6 1 3-.1 3.3 .7 2.9-.3 3 .7 1.1-.1 2.2-.6 3.3 .1 .8 13.8 .7 8.6 .7 3.2 .4 .2 1.1-1.5 .8-1.5 1.4-5.3 1.9-12.7 1.8-10.2 2.2-10.1 3-10.9 1.1-5.5 7.4-44.2 1.5-7.3 1.8-6.8 3-9.5 4.8-13.9 1.4-3.5 2.6-4.5 3-5.9 1.1-1.5 2.2-2 3.3-5.7 1.5-1.8 2.6-2.2 3.3-3.4 1.5-1.1 .7-.2 .8 .1 1.8 1.1 .8 .1 .7-.2 1.8-1 1.1-.3 1.9-.3 2.9 .1 1.2-.1 3.3-1.6 1.1 .1 2.2 .9 1.1-.1 1.1-.4 1.9-1.3 2.5-.4 1.2 .3 1.8 1.3 1.1 .3 1.1-.3 2.2-1.5 .8-.3 1.1 .4 2.2 2.2 .7 .2 1.9-.2 1.8 1.3 .8 .3 5.5-1.4 .7 .1 2.2 1 .8 0 .7-.2 1.9-1.1 1.1-.2 6.3 1.8 2.5-.4 3 .1 1.1 .4 3 2.6 3.6 1.9 5.2 .5 2.2 1 1.9 .4 1.5 .2 2.5 0 4.5 .3 1.1 .4 1.8 1.2 .8 .2 2.5-.5 5.2 .4 1.1 .3 2.2 1 .8 .2 .7-.2 1.9-.8 1.4 0 2.6 .8 3.3 2.2 1.1 .5 1.2-.1 1.8-1.2 1.1-.5 1.9-.1 1.4 .4 3.4 25.9 5.1 31.2 1.5 7.4 1.8 7.8 5.2 17.8 2.2 5.9 4.5 9.9 5.9 9.8 1.4 1.9 4.8 5.3 3.4 2.3 3.3 2.7 3.3 1.8 3 .5 2.9 1.1 3 .5 4.8 2.3 2.9 .2 3.7 .9 2.6-.6 1.5 0 2.2 .7 3 1.4 1.1 .3 1.4-.2 2.3-.9 1.1-.2 4.8 .6 3.3-.4 2.6 .8 1.1 .2 2.6-.8 1.1-.2 4.4 .7 4.4-.2 2.6 .4 3.7-.3 3.7 .4 2.9-.6 3 .5 3-.8 .7 0 2.6 1 1.8 .2 1.5-.1 3-.6 6.2-.1 2.6 .4 3.3-.3" fill="none" stroke="#3a3a3a" stroke-width="0.9" stroke-linejoin="round" />
<path d="M889 949.3l2.2 .3 3 0 2.6 .7 3.3-.3 5.1 1.1 1.5 .1 4.5-.8 3.3-.1 2.6-.4 3.7 .4 1.4 .1 3.4-.9 2.9 .9 2.6-.4 2.2 0 1.1 .1 1.9 .7 1.1 .2 4.4-.8 2.9-1 3.4 1 3.3-.5 2.9 1 3-.3 4.4 0 4.1-1 5.2 .9 2.9-.4 2.6 .1 2.6-.5 4 .8 3.4-.5 3.3 .3 2.9 1 .8-.1 2.6-.9 5.9 .1 2.9-.3 2.6 .2 2.6-.1 3 .6 4.4 .4 1.5-.2 3.3-.7 3.3 .3 2.6 0 3.3 .9 .7-.2 2.6-1.3 1.9 35 .7 6.9 .4 1.6 .4 0 .7-.8 3.3-6.3 2.6-4.3 3-6.7 2.5-4.5 4.5-9.1 1.1-1.6 2.9-3.5 4.1-6.4 5.2-6 7.3-9.3 3.4-1.5 4.4-4.1 1.1-.6 1.9-.2 .7-.4 2.6-2.4 2.6-1.6 4-1.3 3-2.2 3.7-2.1 2.6-.9 4-2.2 2.6-.7 4.1-1.7 2.9-.3 .8-.2 7.7-3.9 4.4-.5 3-1.5 1.1-.3 4.1 .3 1.4-.2 2.2-.8 2.6-.7 2.2-1.2 1.2-.4 .7-.1 1.1 .4 4.1 2.2 2.2 .3 1.5-.2 2.9-1.3 3 .1 2.2 .4 .7 0 2.6-.8 1.5-.2 4.8-.6 2.6 .2 2.2-.9 1.1 .2 1.8 1.1 1.1 .2 2.6-.8 3.7-.8 7-.7 10-.5 1.1 .2 3.3 1.7 1.5 .3 2.2 .1 2.2-.6 4.8 12.7 3.7 8.3 2.6 4.5 5.2 6.6 5.9 5.5 2.9 1.4 4.8 3.7 1.1 .6 2.6 .5 5.2 2.2 2.6 .4 2.6 .8 2.9-.4 3.3 .7 3.7 .1 4.1 .4 3 .5 8.1 0 3.7 .9 5.5-.1 2.6 .2 2.6-.4 2.9 .9 3.3-.3 3.7 .6 1.1-.1 3-.8 3.7 .4 8.5-.8 6.6 .7 2.6-.6 1.1 0 3.7 .8 3.3 .3 1.1-.2 2.3-.8 .7 .1 2.6 .7 5.9-.2 2.9 .3 2.6-.6 1.1 0" fill="none" stroke="#3a3a3a" stroke-width="0.9" stroke-linejoin="round" />
<path d="M889 950l5.9-.5 9.6 .5 2.6-.4 1.8 0 1.9 .2 3.7 1.1 7.4 0 6.2-1 3.4-.2 2.5 .2 3.4-.4 3.3 .4 3.3 .7 5.2 .1 2.9 .4 1.1-.2 2.3-1.1 1.1-.4 4 .4 3.7-.4 4.1 .6 3.7-.6 6.6 .3 2.6-.2 3 .5 3.3-.8 1.8 .3 4.1 1.5 1.1-.1 1.8-.8 1.5-.4 4.4 .5 2.6-.4 3-.1 2.9 .5 3.4-.9 11.8 1.5 1.1-.1 2.2-.9 1.1-.1 2.6 .8 1.5 .2 .3 .3 2.2 52.9 .8 9 .4 2.9 .3 .8 .8-.6 .3-.7 2.2-6.7 2.3-4.6 2.5-7.2 1.2-1.8 2.2-2.7 1.4-2.2 3.7-7.6 1.1-1.9 2.6-2.3 3-3.9 7-7.3 .7-.4 1.9-.4 .7-.4 2.2-1.8 2.6-1.2 5.2-4.1 1.1-.4 2.2-.3 2.2-1 1.1 .1 2.3 1 1.1 .3 2.9-.9 1.5-.1 2.9 .2 2.3-.6 2.9-.4 1.1 0 2.2 .6 .8-.2 1.8-1 1.1-.2 3 .9 2.2 .9 2.2 .3 2.2 1 1.1 .3 2.2-.2 2.3 .1 2.9-.4 4.1 .1 5.5 1.2 .8-.1 1.8-1.3 1.1-.2 3.3 .2 3 1.4 2.6 .5 1.1-.2 2.6-1.2 1.1-.2 1.4 .4 3.4 1.9 1.4 .6 1.5 0 5.6-.8 3.3 .1 2.9 1 2.3 .2 3.3 1.1 1.5-.4 2.2-1.4 1.1-.5 1.1 .2 2.9 1.2 1.1 .2 2.3-.6 1.4-.1 1.9 0 1.8 .5 1.1 .1 3.4-.6 2.9-.7 1.1 0 2.6 .3 2.6-.5 4.4 1.6 2.2 1.1 .4-.8 2.6-3.1 2.2-2.1 1.5-.8 4-.6 3.7-1.4 2.6 0 3.7-1.2 5.2-.6 2.9-.8 4.1 .7 2.2 .1 3-.2 2.5 .4 4.8-.7 3 .7 3.3-.5 2.6 .1 3-.2 3.7 .2 4.4-.7 4.4-.4 3.7 .4 1.9 0 2.5-.3 3.7-.9 3.7 .9 3 0 2.9-.7 2.6 .6 3.7-.1 3 .4 2.2-.2 2.9 .1 2.6-.6 2.2-.2 7.4 .3 3.7 .7 4.1-.3 2.9-.9 1.1 .1 1.9 .6 .7 .1 4.8-.7 4.8 .1 2.2-.4 2.2 .5" fill="none" stroke="#3a3a3a" stroke-width="0.9" stroke-linejoin="round" />
<path d="M889 950.3l1.5-.4 2.2-.1 3.7 .7 2.9-.7 1.1 0 1.2 .2 1.8 .8 1.1 .2 3-.8 4.4-.4 4.8 .5 3.3-.4 4.8 .7 4.8-.9 1.1 .1 3.7 1.1 3.3-.1 2.6 .2 3.7-.7 2.6 .3 2.6-.4 2.9 .3 9.6-1.1 5.9 0 2.6 .3 2.2-.1 1.9 .1 2.2-.2 4.8 .7 3-.3 3.3 .4 3.3-.5 3.7 .1 2.9-.6 3 .7 4.1-.4 4.4 .1 3.7 .6 1.8 .1 1.9-.1 5.1-.9 1.2 .2 2.2 1 1.1 .2 7.7-.6 1.1 .2 .8 4.5 .3 1 3.7 6.8 1.5 3.1 .7 1 .4 .1 5.2-.8 2.9-1.4 3-.8 3.7-2.2 2.6-.7 2.6-1.8 1.8-.8 4.1-.2 2.9-.4 3.3-1.1 3 .1 1.8-.6 2.6-.3 4.8-1.9 1.1 0 2.6 .3 3.3 0 4.1-.8 2.6-.1 2.2-.7 4.4-.7 3 .3 3.3-.5 3.3 .8 3.4-.7 1.4-.1 2.2 .1 3.4 .6 7-.5 3.3-.7 2.6-.1 1.5 .2 2.9 .8 3 .3 4-.7 2.2 .2 7.1 0 8.1-1 3.7 .9 2.9-1 1.5-.3 1.1 .3 1.9 1 1.1 .2 7-1.1 3.3 .7 4.8-.4 3-.7 4 .8 2.6-.4 4.8 .2 3-.7 4.4 0 3.3 .4 4.8-.8 4.4 .6 4.1-.7 1.1 .1 3 1.5 1.1 .2 5.5-.9 3.3 .1 3.4 .5 2.5-.8 1.9-.2 1.8 .2 3.4 1 2.5-.2 2.6 .4 3.3-.7 2.6 .3 2.6 0 3.3 .4 3.4-.2 2.5 .5 3.7-.9 2.6 .2 3-.2 2.6 .2 2.9-.2 3 .2 3.3 .8 6.3-1.1 3.3 .8 4.8-.1 3.7-.2 2.2-.4 3.3 .7 3.7 .2 1.1-.3 1.9-.9 .7-.1 3.3 .8 3.3-.7 1.2 0 2.9 1.3 1.1 .2 3.3-.8 3.4 .9 2.5-.3 4.1 0 2.6-.6 1.8 .1" fill="none" stroke="#3a3a3a" stroke-width="0.9" stroke-linejoin="round" />
<path d="M889 950.2l2.6-.6 3.3 .4 5.2-.5 1.8 .4 2.6 .9 1.5 .2 4-.9 2.6 0 2.6-.3 3.3 .4 2.3-.9 .7-.1 .7 .1 1.9 .9 1.1 .2 2.9 .2 2.6-.5 2.6 .1 3-.4 7.7 .9 2.2-.2 2.6-.9 2.2 .3 2.6-.3 1.1 .1 2.6 1.3 1.1 .1 1.5-.3 2.9-1.6 1.1-.2 1.2 .2 2.5 1 4.5 .5 1.1-.2 2.2-.8 1.1-.2 3 .7 2.9 0 6.3 .5 4-.4 5.6 .2 5.2-1 3.6 .9 3.4-.4 2.2 .2 2.6-.2 2.9 .4 2.6 .1 2.6 .4 2.9-.9 2.6 .2 4.1-.1 1.8-.4 .4 2.6 .4 .7 1.4 .8 1.2 .4 1.8 .3 2.2 .7 3 .7 2.9 1.2 .8 0 1.8-.6 1.1-.2 4.4 .4 5.6-.1 5.2 1.3 2.5 0 1.9 .2 2.9-.8 2.3 0 3.3-.8 1.5-.1 2.2 .1 3.7-1.7 2.2-.5 2.6-.1 2.5-.9 5.2 .6 7-1.9 5.6 .7 2.2-.3 4-.8 1.2 .2 1.8 .8 .7 0 2.6-.8 3.3 .3 3-.8 3.3 .8 .8-.1 2.5-1.2 .8 .1 2.6 1.4 2.5 0 2.6 .4 4.8-1.3 3-.1 2.6-.4 3.7 .3 3.3-.5 4.8 1 3.3-.2 2.6 .2 1.5-.1 5.1-1.2 3.4 .9 3.7-.8 4.4 .5 4.8-1 5.2-1.9 3.3-.2 2.6-.5 3.3 .7 2.9-.1 4.8 1.4 1.5 .3 2.6 .1 4.1 .6 3.3 .1 4 .8 8.5-.1 3 .6 5.9-.9 3.7 .5 2.9-.1 2.6 .2 4.1-.6 3.3 .9 1.1 .1 4.4-.2 3-.7 1.5 0 2.2 .1 4.1 .8 2.5-.3 3.4 .2 2.9-.4 3.3 .9 1.1-.2 3-1.1 1.8-.3 1.2 .1 2.2 .6 2.2 .2 3.7 .7 1.1-.1 2.2-.5 3.3 .3 3.7-.5 3.3-.2 3 .5 7 .6 3.7-.9 7-.3 3.3 .4 3.7-.1 3.3 .3 4.8-.5 2.3 .6 1.4 .2" fill="none" stroke="#3a3a3a" stroke-width="0.9" stroke-linejoin="round" />
<path d="M889 950l3 .2 2.5-.3 2.6 .2 2.6-.7 1.1-.1 4.4 .9 3 .2 2.2 .5 6.3-.6 3.3 .6 4.1-.4 2.2-.4 3.7-.1 4.8 .6 4-.9 3 .6 3.3-.4 2.6 1.3 1.1 .3 1.1-.3 2.2-1.3 1.1-.2 4.8 .6 3-.3 2.9-.6 1.2 .1 2.9 .7 5.9-.5 1.1 .2 1.9 .7 1.1 .2 2.6-.5 2.5-.1 2.6-.6 3.4 .5 1.4 0 2.6-.8 1.1-.1 1.9 .3 2.6 1.3 1.4 .2 1.9-.2 4-1.1 4.1 0 2.6-.4 2.6 .8 1.1 .1 4.8-.9 2.6 .5 4.4-.3 1.1 .4 2.2 1.4 1.5 .3 1.5-.2 .3-.5 4.1-.7 14.8-.5 2.9-.5 3.3 .6 3-.1 3.3 .4 5.2-1 3.7 .1 3.3 .4 8.1-.8 3.7 .6 2.6 0 3 .3 8.1-.8 5.9 .5 2.9 .4 4.5 0 5.1-.6 3 .4 2.6 .1 3.3 .6 1.8 .1 1.5-.2 2.6-.6 3 0 2.9-.3 2.6 0 4.4-.4 7.8 .7 4.4-.1 4.8 .4 2.6-.4 3.3 .2 3.7-.1 4.1-.5 6.6 .7 6.7-.7 1.1 .1 2.9 .6 1.1 0 3-.6 1.8-.1 4.1 .6 3.3-.5 4.4 .6 6.7-.9 1.8 .3 4.5 1.3 5.1-.5 3.7 1 3.3-.7 6-.1 2.5 .2 3-.4 8.1 .6 7.4-.1 3.7-.8 2.9 .3 2.6 .9 4.8-.6 3.7 .9 1.1-.2 1.9-.7 .7-.2 3.7 .5 3.7-.2 4.1 .8 3.3 .2 .7 0 2.6-.9 4.1 .6 5.5-.7 3.3 1 3.7 0 3.3 .6 1.1-.2 2.3-.9 1.8-.2 2.2-.8 1.1-.2 4.5 .2 3.3 1.3 2.9-.2 3 .4 2.2 .2 1.9-.1 3.3-.7 3.7 .1 2.6 .5 2.5-.5" fill="none" stroke="#3a3a3a" stroke-width="0.9" stroke-linejoin="round" />
<path d="M136.3 1587.7l.5-1.1 .9 3.3 .5-.6 .4-3 .5-1.4 .9 5.3 .5-1.1 .4-2.6 .5 1.3 .5 2.6 .4 .3 .5-.1 .5-.4 .4-.8 1-2.6 .9 0 .5-1.1 .4 .5 .5 2.2 .4 .5 1.4-.6 .5-1.2 .5-.6 .9 1.9 .9 1.2 .5-.3 1.4-4.5 .5 1.2 .4 2.7 .5 .3 .9-.9 .9 2.4 .5-1.1 .5-2.1 .4-.6 1.4 2.1 .5 .2 1.4-7.3 .4-1.1 1.9 5.5 .9-1.5 1 1.4 .4-.2 .5 0 .5 .9 .4 .2 .5-.2 1.4 1.6 .9 3.9 .9-3.4 .5 .9 .5 2 .4 .1 .5-.6 .5 1.1 .4 .2 .5-.9 .5 .5 .4-.1 .9-.8 .5-1.2 .5-.5 .9 6 .5 .6 .9-3.7 .5-.5 .9 1.5 .5 .2 .4-.7 .9-1.9 1-3.8 .9 3.1 .5-1.8 .4 .2 .5 1.1 .5-.6 .4 .4 .5 1.6 .5 .8 .4-.6 1-3.9 .4-.1 .5-1 .4-.2 .5 2.2 1.4 3 .5-.4 .4-2 .5-1.1 .5 0 .9-2.3 .5-.7 .9-.8 .9-2.1 1.9 5.1 .4-.7 1-3.8 .4 .2 .5 2.5 .5 .7 .4-2.6 .5 .1 .4 1.8 .5 .2 .9 4.8 .5-1.5 .9-253.1 .5-70.7 .5-25.9 .4 1.6 1 14.6 1.8 16.1 .5 2.4 .4 .5 1 3 .4-.7 .5-2.8 .5 .7 .4 2.7 .5 .4 .5 2.5 .4 4.8 .5 1.4 .5-1.2 .4-.5 .9 1.9 .5-1.6 .5-2.9 .4 .5 .5 3.7 .5 .7 .4-1.4 1 4 .9-2.9 .5-.6 .9 2.9 .5-.9 .4-1.9 .5-.6 .9 6 .5-.8 .4-1.9 1 4.5 .4-1.5 .5-3 .5-1.2 .4 .6 .5-.7 .5-.1 .4 1 .5-1.4 .4-3.3 .5-1.1 .9 2.9 .5 .7 .9 3.6 .5 .7 .5-1 .9-4.9 .5 .7 .9 .9 1.4 6.4 .4-.6 .5 .2 .5 2.7 .4-.9 .5-2.8 .5 .5 .4 1.6 .5-.2 .9-3.2 .5 0 .5 1.5 .4 .6 .9-3.7 .5 0 .5 1.3 .9 4.3 .5-.9 .4-1.8 .5 .7 .5 2.5 .4 .8 .5-1.4 .5-.7 .4 .1 .5-.5 1.8-4.2 .5 .2 .9 4 .5 .5 .9-.2 .5-.8 .5 .5 .4 3.1 .5 .8 .5-2.5 .4-1 .5 .9 .4 .1 .5-2 .5-.1 .4 2.1 .5 1.1 .5 0 .4 .3 .5 .8 .5-.6 .4-1.8 .5-.1 1.4 4.7 .9-2.5 .9 .3 .5 0 .5-.3 .9 2.7 .5-.6 .4-1.9 .5-.4 .5 2 .4 .8 .5-1.4 .9-1.4 .9 2.6 .5-.3 .5-2 .4-1 .5-.2 .5-1.6 .4-.3 1 7.2 .4 1.5 .5 0 .5-.8 .9-.7 .4 .3 .5 1.4 .5-2.7 .4-5.4 .5-1.6 .5 .9 .4-.4 .5-.7 .5 1.5 .9 4.7 1.4 .5 .4-.5 1-2.2 .4 .1 .5 .9 .9-4.4 1.4-1.8 .5 .6 .9 5.8 1.4 2.1 .9 .6 .5-.6 .5-2.3 .4-.7 1 1.9 2.3-2.3 .5-1 .4-.5 .9 3 .5 .3 .5-.7 .4 .6 1 6.9 .4-.1 1-8.5 .4-1.6 .5 .7 .9 4.1 .5 .8 .5-1.1 1.8-2.1 .5 .4 .9 3.2 .5 .1 .9-4.1 .5-.2 .9-1 .5 .6 .9 3.3 .9-2 .9 3.6 .5 .3 .5-.2 .9-1.8 .5 1.5 .4 .3 .5-3.1 .5-1.2 1.3 4 .5-.3 .9-2.9 .5 .5 .9 3.2 .5-1 .5-2.2 .4-.1 .5 2.2 .5 .4 .4-1.8 .5-.2 .9 4.9 .5 .6 .4-.5 .5 .1 .5-.2 .4-2.2 .5-.7 .9 3.1 .5-1 .5-.5 .4 1.4 1-1.4 .4 .3 .5-.5 .9-1.8 .5-.3 .4-.8 .5-1.5 .5 .2 .9 5.5 .5-.1 .4-2.6 .5-1 .5 .6 .9 2.4 .5 .5 .4 0 .5-.7 .4 0 .5-.4 .5-2.1 .4-1 .5 2 .5 .4 .4-1.7 1-2.2 .9 1.5 .9-2.6 .5 .6 .4 1.7 1 4.9 .4-1.6 .5-3.6 .5-1.1 .4 .8 1 2.7 .9 1.1 .9 .2 2.3-3.1 .5-.1 .5 1.4 .4 3.5 .5 .6 .9-7.2 .5-1.3 .5 1.3 .9 4.1 .5-.5 .4 .7 .5 2.5 .4 .8 .5-.7 .9 3.2 1-4.1 .4-.4 .5-.2 .9 1.8 .5 0 .9 .8 .5-1.7 .4 0 1 6.1 .9-6.4 .5-.1 1.4 5.2 .4-.2 .5-2.4 .5-.3 .4 2.1 .5-.1 1.8-9.3 .5-1.3 .5 .1 .9 5.1 .5-.1 .4-2.1 .5 .3 .9 6.1 .5-.6 .5-3.6 .4-1.2 .9 3.2 .5 .3 .9-6 .5-.3 .9 5.1 .5-.2 .5-2.8 .4-.6 .5 2.2 .9 2.6 1 4.6 .9-3.3 .9 4.5 .5-.5 .4-4.6 .5-2.3 .9 2.3 .5 .5 1.4-1 .9-2.4 .5 0 .4 1.9 1 1.9 .4 2.1 .5 0 .5-2.2 1.4-1.6 .4 .2 .5-.6 .9-2.8 .5 .4 .4 1.4 .5 0 .9 1 .5 .2 .9 1.6 1-2.6 .4-.3 .5 .1 .9 3.7 1 2.4 .4 .5 1.4-2.9 .5-2.2 .4-.1 .5 1.9 .5-.5 .4-1.3 1-4.2 .4 .8 1 6.2 .4 1.7 1.4-2.9 1.4-5.9 .5 .5 .9 3.5 1.4 1.3 .5-.9 .4 1.4 .5-.1 .5-3.8 .4-1 .5 2.7 .4-.6 .5-2.4 .9 6.9 .5-2.1 .5-4.2 .4-1 1 .2 .4 1.7 .3 24.8 .4 304.6 .5-27.4 .7-11 .4-3.4 .5-.3 .5 1.1 .9-4.5 .5 1.3 .9 6.1 .5 .7 .9-6.2 .5 .9 .4 2.1 .5 .2 .5-.9 .4-.2 .5 .4 .4-.7 .5-2.4 .5-.8 .4 2 .5 .7 .5 .1 .4 1.8 .5 .5 .9-1.9 1.4 1.4 .9 4 .5-1 .5-2.2 .4-1 1-4.2 .4 .1 1 2.8 .4 .3 .5 .8 .5-.6 1.3-4.8 .5 .6 .5 1.3 .4-.6 .5 .5 .5 3 .4 1.6 .5-1 .5-2.2 .4-1.1 1 1.8 .4-1.2 .5-2.6 .5-.3 .9 4.2 1.8-4.7 1 5.4 .4 0 .5-2.4 .5-.8 .4 .9 .5 1.9 .5 .9 .9-3.7 .9 4.7 .5 .4 .4-1 1-5 .4-.7 1 4.6 1.4 .7 .4-.1 1 .7 .4-.8 .9 .3 1.4-5.2 .5 .5 .9 3.3 1-2 .4 .1 1 2.1 .9-4.4 .4-.3 .5 .1 .5 .6 .4 2.1 .5 .5 .9-4.5 .5 .5 .5 1.1 .4 .3 .5 1.6 .9 6.8 .5-.7 .9-2 .5-.3 .9-3.1 .9-1.5 .5-.2 .5 1.9 .9 1.4 .5 2.7 .4 .6 .5-2.7 .5-1.1 .9 .5 .4 1.2 1 4.1 .4 .7 1.4-2.1 .5-2.7 .5-1 .4 2.4 .5 .3 .5-1.1 .9 1.7 .4-.9 .5 0 .5 1.3 .4 .3 1.4-5.7 .5-.3 .9 3.4 .5 0 .5-.5 .4 .8 .5 2.1 .5 1.1 .4-1.5 .9-5.6 .5 1.6 .5 2.9 .4 .5 .5-1.1 1.4-1.9 .5 1.5 .9 4.9 .5-.1 .4-.7 .5-1.6 .4-.7 .5 .8 .5-.8 .9-4.6 .9 4.6 1-2.6 .4 .4 .5-.3 .5-1.6 .4-.7 1.9 6.1 .4 .1 1-2.8 .9-6.7 .5 2 .9 7.7 .9 .3 .5-1.1 1.8-10.5 1 4.8 .9 2.7 .5 .8 .9-2.3 .9 5.2 .5 .8 .5-1.3 .9-4.6 .4-1.2 .5-.1 .5 .6 .4 0 .5 .2 .9 3 .5-.1 .5 1.2 .4-.4 1-4.6 .4-1.2 1 3.5 .4-.6 .9-5.4 .5-1.1 .9 3.9 1-.4 .4 1.5 .5-.1 .5-2.2 .4-.6 1 3.9 .4 .2 .5-1.9 .4 .7 .5 2.6 .5 .5 .9-5.9 .9 1.6 .5-1.9 .5 1.1 .4 5.1 .5 2.1 .5-2.3 .4-1 .5 .1 .5-1.3 .4-2.7 .5-1.2 .9 3.3 1.4 2.3 .5-1.1 .4-.3 .5 0 .5-.9 .9-3.1 .5 .6 .9 6.3 .4 .1 1-1 .4 .5 .5-.9 .5-1.8 .4-.5 .5 .1 .5-.4 .9 4.8 .5-.1 .4-.6 .5 .8 .4 .2 1.9-5.4 .5 1.1 .4 2.6 .5 .5 .5-.9 .4-.1 .5-.8 .9-2.9 .5-.4 .5 .5 .9 2.6 .4 .7 .5 0 .5 1 .4 2.7 .5 .5 .5-3.5 .4-1.8 1 2.3 .4-.5 1-2.4 .4-.5 .9 2.5 .5-.1 .5 .3 .9 2.3 .9-3 .5 0 .5-.7 .9-2.6 .5-.5 1.8 8 .5-.8 .9-5.4 .5-1 .4 .7 .5 .3 .9-1.9 .5 .6 .5 1.8 .4-.4 .5-1.4 .9-1.6 .5 .8 .4 1.9 .5 .7 1.4-3.1 .5-.1 .9 4.4 .5-.7 .4-1.5 1-1.2 .4 .7 .5 1.4 .4 .6 1-2 .9 2.5 .9 .1 .5 1.3 .5-1 .4-3.1 .5-1 1.4 5.6 .5-.8 .4 .7 .5 3.1 .4 1.5 1-4 .4-.8 1-.1 .9 4.6 .5 .6 .9-2.6 .5-.2 .4-.7 .5-1.4 .4-.6 1 3.9 .4-.1 .5-2 .5-1.2 .9 4.9 .9-1.7 .5-.3 .5-1.5 .4-.7 1 2.6 .4 .5 .5-.5 .9-5.4 .5-1 .9 5.2 .5 1.5 .9-4.4 .5-1.3 .9-1.2 .5 .4 .4-.1 .5 .5 .4 3.1 .5 1.2 2.3-4.1 1-2.9 .4 .1 1 2.8 .4 .1 1-5.1 .9-2.4 .4-.4 1 2.2 .9-3.5 .5-.6 .9 3.6 1.4 4.5 .5-1 .4-2.2 .5-.7 .4 .5 1-2.3 1.4 3.2 .4-.1 .5-1.2 .5 .3 .4 2 .5 0 .5-2.1 .4-.6 .9-.1 .5 1.3 .9 4.4 .5 1.1 .9-1.8 1-4 .4 1 .5 3 .5 1.2 .4-2.2 .5-.9 .5 1.8 .4 1 .9 1.3 1 2.7 .4 0 .5-1.9 .5-3.6 .4-1.2 1 2.2 .9 .6 .5 .4 .4 1.1 .9 3.4 .5 .2 1.9-5.7 .9 2.5 .9-3.7 .5-.9 .9 4.7 .5 0 .5-1.5 .4-.5 .5 0 .4-.7 .5-1.9 .5-.9 .4 1.6 1 6.8 .4-.2 .5-2.5 .5 .6 .4 2.4 .5-2.4 .5-4.1 .4-.7 .5 1.1 .9 .1 .5-.6 .4-1.7 .5 .4 .9 5.5 .5 .8 .5-2.3 .4-4.8 .5-2.2 1.4 4.2 .4-.3 .5-1.3 .5 .6 .9 5.4 .5 .3 .9-2.7 .5-.4 .4 0 .5-.6 .5-1.1 .4-.4 1 1.8 .9-1.2 .9 3.6 .5-.1 .9-4.1 .5-.3 .9 1.2 .9 3.3 .5-.2 .5-1.5 .4-.4 .9 4.7 .5 1.2 .5-.9 .4-.5 1 1.8 .4 .4 1-3.2" fill="none" stroke="#000" stroke-width="1.9" stroke-linejoin="round" />
<path d="M136.3 1589.3l.5 1.3 .4 0 1-6.1 .4-.3 .5 1.3 .5 0 .4-.5 .9 1.2 1-1.7 .4 0 .5 1.3 .5 2.3 .4 0 .5-1.8 .5-.8 .4 .9 .5 .1 .5-.9 .4 .5 .5 1.2 .4 .5 .5-.7 1.9-6.7 .4 1.3 .5 2.3 .5 .2 .4-1 1 2.6 .4-.6 1 1.4 .9-2.9 1.4 5.3 .4-.7 .5-1.7 .9-.8 .5-.7 .5-.1 .4 .3 1 4.4 .4 1 .5-.8 .9-4.5 .5-.3 .4 .7 .5-.8 .5-.3 .9 5.3 .5 .3 .4-3 .5-1 1.4 3.1 .4 .2 .5-1 .5-.1 1.4 3.1 .4-1 1-4.6 .4 .2 .5 1.3 .9-3.3 .5 .6 .5-.6 .4 .1 .9 5.2 .5-.6 .9 .2 .5-1 .5-.3 .9-.2 .5-1 .4 .2 .5 2 .5 1.1 .4-.4 .5-1.1 .9-5 .5 .6 .4 2.3 .5 1.2 .5-.1 .4-.9 .5 .2 .5 1.2 .4 .6 .5 .1 .5-.1 1.4-2.1 .4-.3 .5 .6 .9 5 .5-.5 .9-5 .5-1.1 .4-.5 .5 0 1.4 1.5 .5-.1 .4 .3 .5-.3 .4-1.8 .5-.4 .5 3.1 .4 1.2 1.4-4.1 .5 .1 .5 1 .4 .2 .5 1.7 .5 .4 .4-1.6 .5-.4 .4 .3 .5-.2 .5-.9 .4-.2 .5 3.7 1.4-223.5 .5-37.9 .4 .2 1 9.9 .4 2.6 1 8 .4 .4 .5-.3 .4 1.7 1 5.9 .4 .3 .5-2.6 .5-1.2 .4 1.1 1.4 6.8 .5 1 .9-2.7 .9 4.7 1 1.6 .4 .3 .5-.5 .5 .3 .4-1.4 .5-3.8 .5-1.6 1.4 4.3 .4 0 .5-1.2 .5 .7 .9 5.9 .9-1.8 .9 2.1 .5-1.2 .9-4.4 1-1 .4 .4 1.4 5.4 .9 1.7 .5 .2 .5 .7 .4 1.7 .5-.5 .9-6.1 .5-1.6 .9 2.3 .5-.2 .5-1.5 .4 .4 .5 1.6 .5-.2 .4-1.4 .9-1 .5-1.4 .5 .4 .9 4.4 .5 1 .4-1 1-6.5 .4-.3 1 4.4 .4 .1 1.4-2.6 .9-.1 .5-1.4 .5-2.6 .4 .2 .5 2.8 .5 1.4 .4-1 .5 .2 .5 1.1 .9-3.6 .9 2.9 .5-1.1 .4-.3 1 4.9 .4 0 .5-1.2 .5-.4 .9 5.6 .9-3.1 .5 0 1.4 3.6 .9 4.7 .5-.4 .9-4.4 .5-.4 .4 1.7 .5 3.4 .5 1.5 .4 0 1 2.4 .4-.2 .5-.9 .9 .7 .5-.7 .9-4.5 .9 2.7 1-3.6 .9-2.1 .5 .4 .9 5.4 .5 1 .9-.3 .4-.6 .5-2.3 .5-.9 .9 4.5 .5 .3 .4-.9 .5-1.9 .5-.3 .9 2.4 .5-.7 .9 .3 .9-4.1 .5 .6 .4 1.3 .5 .5 .5-.9 1.4-1.2 .9 2.2 .5-.6 .4-1.1 .5-.2 .4 .6 1-1 .9-1.9 .5 1.4 .4 2.5 1.4 4.1 .5-.9 .9-4.9 .5 2.2 .5 3.7 .4 .1 1.4-3.7 .5-.5 .4 .1 .5-.5 .5-1.4 .4-.7 .5-.1 .9 1.6 .5 0 .5-1.4 .4-.1 .5 .6 .4-.3 .5 .9 .5 2.3 .4 .4 1-4.1 .4 0 .5 1.7 1.4 2.5 .9-4.1 1 4.8 .4-1 1.4-4.8 .9 4.3 .5 0 .9-3.8 .5-.3 .5-.6 .4 .3 1 3.9 .4 1 .5-.3 .9-3.1 .5 .4 .4 2 .5 .4 .9-2.8 .5-.1 .9 1.5 .5-.3 .5-1 .4-.3 .9-1.3 1 .4 .4 .7 1 .7 .4-.7 .5-2.1 .5-1 .4 .9 1-.2 .9 2.3 .5 2.6 .4 1 .5-1.9 .4-.2 .5 2 .5 1.1 .4-1.6 .5-.3 .5 .8 .4 .3 .5 .6 .5 0 .9-3.8 .5-.9 .4 .6 .5 2.2 .4 .2 .5-1.5 1.4 .8 .5-.3 .4-1.4 .5-3.1 .5-1.7 .9 3.9 .5 .8 .4-1.9 .5-.5 .5 3 .4 .9 .5-1.8 .4-.1 1 .9 .9 2.2 .9 3.5 .5-.4 .9-3.8 .5 .5 .5 1.9 .4 .9 .9-5 .5 .1 .9 2.8 .5 .4 .5-.6 .9 2.6 .5-.7 .9-3.4 .5 1 .4 2.1 .5 .5 .5 0 .9-2 .4 .9 .5-.1 .5-.7 .4 .7 .5-.5 .5-2.8 .4-.9 .5 .8 .5 .3 .4 0 1 .7 .9 1.6 .4-.7 .5 1.1 1.4 7.5 .5 .1 1.4-9.2 .4-.7 .5 0 .5 1 .9 5.7 .4 .3 .5-.6 .9 1.3 1-.7 .4 .5 1.4-4.7 1 4.3 .4-.3 .5 .7 .5 3.4 .4 .9 .5-3.2 .4-1.5 .5 .2 .9-4.6 .5-.5 .5 1.4 .4 .5 1 2.6 1.8 2.2 .5 .2 .4-.1 .5-.7 .5-.2 .4 0 .5 1.2 .5 .4 .4-2.2 .5-.7 .5 .7 .4-.8 .5-1.5 .5 .3 .4 .6 1 3 .9 0 .9-2.8 .5 .3 .4-.6 .5-2.6 .5-.1 .4 2.6 .5 0 .5-1.7 .4 .2 1 2.8 .4 .1 .5-1.3 .4 .6 .5 2 .5-.5 .9-5.4 .5 .4 1.4 4 .9-2.7 .5 1.6 .4 2.6 .5 .1 .4-.9 .5 1.3 .5-.6 .4-1.8 .5 .9 .5 .2 .4-2 .5-.5 .9 4.1 1-1.5 .4 .4 .5-1.3 .5-3 .4-1.4 .5 0 .9 2.5 .9-2.7 .5 1.8 .5 3.7 .4 1.6 1-4 .4-.5 1 1.2 .9-1.7 .4-.2 1 6 1.4-3 .9-5.2 .5-1.3 .4 .9 1 6.8 .4 .3 .5-1.3 .9-6.9 .5 1.1 .4 2.3 .5 .4 .5 1.3 .4 .7 1.9-4.2 .9 2.7 .3 20.3 .4 220.7 .5-18.7 .7-10.2 .4-2 .5-.5 .5 0 1.4 5.4 .4 .5 .5-.1 .5-.3 .9-4.8 .5-1.4 .4 .5 .5-.5 .5 .1 .9 3.8 .4 .9 1.9-3.3 .5-1.7 .4 1.8 .5 4.1 .5 .4 .4 .1 1 5.6 .4-1.4 .9-7 .5-.7 .5 .5 .4 .1 1-1.4 .4 .6 1 4.6 .4-.4 .5-2 .5 1.2 .4 2.8 .5 .2 1.4-4.6 .4-2.4 .5-.3 .5 2.9 .4 1.1 .5-2.6 .5-1 .4 .3 1-3.6 .9 3.3 .5-.6 .4-1.4 .5-.5 .4 .4 .5 1.3 .5 .7 .9-3.5 .5 .6 .4 1.6 .5 .7 .5 .4 .9 2.8 .9-3.6 .9 1.8 .5-.6 .9 1 1-5.2 .4-.1 .5 2.6 .5 1 .4-.7 .5 0 .5 1.4 .9 5.2 .5 .5 .9-2.9 .9-5 .5-.4 .4 0 .5-1 .5 .5 .4 1.8 1 6.3 .4 1.5 1-7.7 .4-1.1 1.4 5.6 .5 .4 .4 .7 .5 1.5 .9-1.6 .5 2.1 .5 .6 1.8-7.5 .5-.1 .9 2.3 .5 .7 .4 0 1-2.2 .9 4 .9-3.3 .5 1.4 .5 .8 .4-.4 1.4-2 .5-1.3 .4-3 .5 .3 .5 4.6 .4 1.9 .5-1.7 .9-7.9 .5-1.5 .5 1.1 .4 2.4 .5 1.2 .5 .1 .9 2.9 .9 1.1 .5 .2 .4-.4 .5-1.5 .5-.7 .4 .7 .5-.1 .5 .4 .4 2 .5 .7 .9-2.2 1.4 6.2 .5-.6 .4-2 1-2.2 .9-3.1 1.4 5.3 .5 1.1 .9-3.4 .5 1.6 .4 .3 1.4-4.4 .5-2.3 .4-.4 .5 1.1 .5 .3 1.4-1.5 .9 2.7 .5 .4 .4-.5 .5 0 .9 3.3 .5 .5 .4-1.3 1-.8 .4-1.1 1 2.7 .4-.4 1 4.7 .9-4.9 .5-.3 .9 1.2 .9 .6 .9-5.4 .5-.9 .5-.3 .4-1.1 1 2.9 .4 .5 1-.5 .9 3.1 .4 .4 .5-1.1 .9-5.6 .5-.1 .9 1.9 1 4.2 .4-.4 .5-2.4 .5 1.3 .4 2.4 1-.7 .9 0 .4 .2 .5-1 .5 .6 .4 2.1 .5-.2 .5-1.8 .9 3.3 .5-1.3 .9-4.2 .5-.8 .4 .8 .5-.4 .4-2.2 .5 1 .5 3.3 .4 .9 1-.6 .4 .7 1-3 .4 .1 .5 1.6 .9 5.1 .5-.9 1.4-5.6 .9-1 .9 3 .5-1 .5-1.7 .9-1.2 .5-1.5 .4-.6 .5 1.9 .5 3.8 .4 1.6 .5-1.5 .4-.4 .5 0 .5-.6 .4 .6 .5 1.1 .9-2.5 .5 1.6 .5-.9 .4-2.7 .5-.3 1.4 6.7 1.4 .4 .4 1 .5 .2 .9-3.2 .5 .7 .5-.2 .4-.5 1 3.9 .4-.1 1.4-5.2 .9 3.1 1-2.9 .4 .5 1 4.1 .9-2.2 .5 .3 .9-.3 .5 1 .4 .3 .9-3.1 .5-.8 .9 2.1 1.4-2.3 1-1.1 .4 .2 1 2.8 .9-4.6 .5-.7 .4 .3 .9 3.4 .5 1 .5 .1 .4 .7 .5-.4 1.4-4 .9 2.7 .5 .1 .5 1.2 .4 0 .9-3.6 .5-.5 .9 7.1 .5 .9 .9-4.8 .5-.6 .5 .3 1.4-1.3 .4-2.3 .5-.9 .9 3.7 .5 1.1 .9 1 .5 .3 .4-.9 .5-1.8 .5-.4 .4 1.1 1 3.8 .9-1.6 .9-.5 .5 .6 .9 .5 .5 2 .4-.1 .5-2.8 .9-1.8 .5-3.2 .5-1.1 .4 1.8 .5-.2 .5-1 .4 1.2 .5 .1 .4 .7 1 4.4 .4-.9 1-5.9 .4-1.2 1 4.1 .4-.7 .5-1.4 .5 .6 .4 1.9 .5-.4 .9-3.9 .5-.5 .9 1 .5 .1 .9-.4 .9 3.6 .5 1.1 .5 .1 .9-1.8 .5 .5 .4 1 .5-.4 .4-1 1 3.8 .4-1.1 1-5.5 .4 1.4 1 4.8 .4 1.2 .5-.8 .5-.3 .9 2 .5 .4 .4 1.2 .5-.7 .4-2.3 1-.6 .4 .3 .5-.1 .9-2.6 1 2.9 .4-1.1 .5-2.9 .5-.5 .4 1.4 .5 .2 .4-.1 1 1.4 .4 .2 .5 1.2 .5 .3 .4-1.7 .5 .6 .5 3.5 .4 1.2 1-5 .4 .1 .9 .8 .5-.5 .9-3.5 .5 1.1 .5 2.2 1.4 3.2 .9-3.2 .5-.2 .4 .4 .5 .9 .5 .1 .4-1.5 .5-.5 .4 .6 .5 1.3 .5 .2 .4-1.6 1-1 .9-2.9 .5 .7 .9-.6 .5 1.1 .4 .5 .9 .5 .5 .5 1.4 4.7 .5-.1 .9-3.7 .5-.4 .9 1.9 .5 0 .4-.4 .5 .6 .9 2.3 .5-.9 .9-5.2 .9 5.4 .5-2.1 .5-4.1 .4-1 1 5.8 .9 2.2 .5-.3 .4-1 .5 .6 .4-1.4 .5-3.2 .5-.2 .4 .8 .5-1.2 .5 .2 .4 1 .5-.2 .9-2.3 .5 1.2 .5 2.2 .4 .1 .5-.7 .9 4.3 .5 0 .4-3 .5-1.2 .9 2.5 .5 0 .9-.4 1-3.8 .4 1.1 .5-.2 .5-1.5 .9-1.2 .4 .2 1 3.7 .4 .1 .5-1.2 .5 1 .4 2.9 .5 1.3 .9-8.4 .5-.9 .5 1.2 .9 5.2 .9-4.4 .5 1.1 .9 3.5 .5 .7 .4-1.2 1-3.8" fill="none" stroke="#000" stroke-width="1.9" stroke-linejoin="round" />
<path d="M136.3 1584.7l.5 0 .4 .6 .5 1.3 1.4 2.2 .5-.7 .9-.5 .4-.9 .5 .2 .5 .6 .9-1.7 .5 .4 .4 .9 .5 1.7 .5-.4 .4-1.6 1 .3 .4-1.3 .5-.5 1.8 3.2 .5 .5 .9 3.8 1-3.8 .4-.2 1.4 5.4 .5 .6 .5 .1 .9-3.3 .9 0 .5-1.9 .4-.3 .5 1.3 .5-.3 .9-4.3 .9 4.6 1-1.7 .9-4.2 .9 5.3 .5 .4 .9-1.2 .5-.3 .9-2.2 .9 1.6 1 3.5 .4-.5 .5-1.8 .4 .7 .5 1.7 .9-.3 .5 .2 1.4-2.2 .9-2.7 .5-.6 .5 .3 .9 3.1 .5 .8 .4 1.4 .9-1.2 .5 2.1 .5 1.1 1.8-4.6 1-5.7 .4 .8 .5 4.2 .5 2.1 1.3-.8 1-3.5 .4 .5 .5 2 .5 0 .4 .3 .5 1.1 .5 0 .9-1 .9 2.6 1-1.4 .4 2 .5 .7 .4-3.5 .5-2 .5 .6 .4 1.6 .5-.2 .5-1.6 .4 .1 .5 .8 .5 0 .4-.2 1-1.4 .4 .9 .5 .3 .9-2.5 1.4 3.3 .5 0 .4-.5 .5 .3 .5-.4 .9-4.3 .9 2.1 .5-1.3 .4-.7 .5 .3 .9-1.3 .5 3.8 .5 14.8 .9-92.8 .9-66.8 1-23.3 .4-7.1 1.4-3.3 .5 1.5 .4 0 .5-2.2 .9-1 .5 1 .5 2.8 .4 1.7 .5-.5 .5 1.1 .4 2.7 .5 1.8 .5 1 .4 .6 .9-.9 1 1.9 .9 .3 .5-.1 .4-1.2 .5 .4 .5 2.7 .4 .8 1-2.7 .9 2.1 .5-.2 .9 2.7 .4-.4 .5 .4 .9 3.8 1-3.1 .4 1 .5 2.6 .5 .2 .4-.9 .5 .1 .9-4.1 .5 1 .4 3.1 1.4 2.5 .5-.2 .5-1.3 .4 .9 .5 3.1 .5 .9 .9-2.4 .9-1.1 .5 .2 .5 .7 .4-.1 .5-1.4 .4-.2 .5 1.1 1.4 2 .5-.6 .4-1.2 .5-.2 .5-.9 .4-.2 1 1.4 .9 5.8 .4 1.6 .5-.8 .9-2.5 .5-.3 .9 2.6 .5 0 .5 .2 .4 .5 1-.5 .4-.7 .5-1.5 .4 .1 .5 2.1 .5 .6 .9-3.7 .5 .9 .4 2.3 1 2.5 .4 .1 1-2.5 .4-.1 1 2.8 .4-.8 .5-1.8 .4-.2 .5 2.4 .5 1.1 1.8-6.7 .5 .7 .5 2.2 .9-2.9 .5 .4 1.3 5.1 .5 .7 .5-.3 .4-1.3 .5-.6 .5 .2 .9 3.2 .9-.2 .5-.4 .9-3.3 .5-.1 .9-2.7 .5 .4 .9 2.8 .5-.5 .4-1.4 .5-2.1 .5 0 .4 2.7 .5 .8 .5-1 .4 0 .5 .9 .9-2 1.9 3.3 .9 3.6 .5-.2 .9-2.6 .5-.4 .4-1 .5-.3 1.4 3.4 .4-1.7 1-5.9 .4-.5 1 6.5 1.4 2.7 .4 0 1-5.8 .4 1.1 .5-.1 .5-1.5 .4 .1 .9 2.4 .5 0 .9 2.6 1-2.4 .4-.5 .5 .2 .9 5.8 .5 .2 .5-1.9 .4 .5 .5 1.1 .4-1.5 .5-2.9 .5-1.3 .4 1 1 0 .4 .9 .5-.8 .5-2.1 .4-.2 .5 .3 .9-2.7 1 2.2 .4-.2 1.4 5.6 .5-.4 .4 .4 .5 1.7 .5-.1 .9-4.9 .5 .5 .4 1.5 1-.3 .9 1.8 .4-.1 .5 .4 1.4 2.2 .5 0 .9-2.8 .5-.2 .9 3.6 .5-.2 .4-1.3 .5 .6 .4-.4 .5-2.6 .5-.2 .9 3.9 .5 .1 .9-3.7 .9-.8 .5 1.5 .5 3.3 .4-.5 .5-2.1 .9 2.1 .5-.9 .9-4.4 .5-1 .9 8.1 .5-.4 .9-7.5 .5 1.2 .9 5.9 .5 0 .4-1.2 .5-.4 .9-3.7 .9-1.8 .5 .2 1.4 7.4 .5 .3 .9-3.2 .5-.6 .9 4.2 .5 .4 .4-1.3 .5-.5 .4 1.3 .5 .6 .9-2.8 .5 .6 .5 2.4 .4 .9 1.4-6.2 .5 1 .5-.2 .4-1.7 .9 5.2 1-4.9 .4 .9 .5 3.5 .5 1.7 .9-4.3 .5-.4 .9 2.6 .5 0 .4-.4 1-2.5 .4 .9 .5 0 .4-.9 1 3.6 .4 .8 .5 .1 1.4-2.9 .5-.1 .9 4.1 .5 .1 .9-2.9 .4-.3 1 2.5 .4-.7 .5-2.5 .5-1.1 .4 1 1 4.8 1.4-5.1 .9-1.3 .4-.1 1 4.4 .4-1 .5-1.9 .5 0 .9 2.3 .9-2.8 1-1.4 .9 2.4 1.4-5.2 .4 .9 .5 2.3 .5 .2 .4-.4 .5 .8 .9 3.4 .5 .4 .5-1.7 .4-.7 .5 .7 .5-.4 .4-1.2 .5-.6 .4-.3 1 .3 .9-2.8 .5 .1 .4-.4 .5-1.4 .5 .8 .4 2.9 .5 1.3 .5-.6 .4-1.1 .5 .7 .5 2.2 .4 .2 .5-1.7 .4-.7 .5 .7 .9-1.9 .5 .4 .5-.2 .9-3.3 .9 1.8 .5-.5 .9 2.7 .5-.5 .4-1.2 1.9-1.6 .9-2.2 .5 0 .5 1.2 .9 3.9 .5-.1 .4 .4 .9 4.7 1-8.7 .4-2.6 .5 1 .5 2.6 .4-.1 .5-1.9 .5 1.4 .4 3.5 .5 1.6 .5-.1 .9 1.3 1.4-6.2 .9 1.8 .9-6.5 .5-1.7 .9 .7 1 2.4 .4-1.7 .5-.2 .5 2.4 .4 1.2 .5-.9 .4-2.7 .5 .8 .5 3.5 .4 1.8 1-2.5 .4-.6 .5-.2 .5 .8 .4 .1 .5-2.7 .5-.1 .4 4 .5 .6 .5-.9 .9 3.5 .9-.7 .9 3.4 .5-1.2 .9-4.9 .5-.7 .9 4.1 .3 11.3 .4 156 .3-8.1 .4-7.6 1.4-5.6 .9-.8 .5-1.8 .5-1.2 .4-.4 .5 1.1 .9 4.1 .5 0 .9-2.7 1 2.7 .4 .8 .5-.7 .4-2.5 .5-1.1 .5 2 .4 .2 .5-1.1 .5 .4 .4-1.1 .5-2.2 .5 2.3 .4 4.6 .5 2.6 .5-.5 .9-4.5 .4 .3 .5-.4 .5-2.3 .4-.1 .5 1.6 .5 .6 .4 1.2 .5 2 .5 .7 2.3-6.4 .4-.4 .5 1.1 .5-.1 .4 .2 1 5.8 .4 1.6 1 .1 .9-5.4 .5-.1 .9 5.8 .5-2.2 .4-4.9 .5-2.3 .9 7 .5-1.3 .4-3.8 .5-1.4 .5 .7 .9 3.6 .5 .2 .4-3.3 .5-1.6 .9 4.2 .5-.1 .9 1.9 .5-1 .4-2.9 .5-1.2 .5 2.2 .4 1 .5-2.4 .5-1.1 .9 4.1 .5-.9 .4-2.3 .5-1.1 .5 1 .4-.1 .9-1.4 .5-1.4 .5 1.2 .4 2.5 .5 .4 .9-3 1 1.4 .9 2.9 .9 1.3 .5-.3 .9-2.2 .9 2.1 .5 .6 .5-.3 .4 .3 .5 1.2 1.4 .6 .5-2.8 .4-1.6 .5 1.2 .4 .6 .5 0 .9 .6 .5 0 .9-2.3 1-4.8 .9 4.1 .5 .9 .4 .1 .5-1 .5-.1 .4 .5 .9-.8 .5 .3 .9 5.7 .5-.4 .9-3.6 .5-1.2 .9 1.5 1 .3 .9-6 .4-.5 .5 2.3 .5 .3 .4-2 .5-.4 .9 4.1 .5-1.3 .5-2.4 .4-.1 .5 .4 .5-.5 .4 1.2 .5 .5 .5-1.8 .4 0 .5 2.3 .4 .6 1.4-3 .5 1.3 .9 6.9 1-6.3 .4-1.2 .5 2 .5-.1 .4-1.6 .5 .1 1.8 1.7 .5 1.4 .5 .4 .9-2 .9-3 .5 1.7 .5 3.5 .4 2 .5 .1 .5-1.2 .9-4.7 .4-1.3 1 5.3 .4-1 1-5 .4-.2 .5 1 .9 3.5 1-2.5 .4-.2 .5-2.6 .4 0 1 7.3 .4 .2 1.4-3.8 .5 .9 .5 .5 1.4-2 1.3 2.4 .5 1.6 .5 .1 .9-.4 .5-.8 .4-2.1 .5 .1 .9 4.1 .5 .9 .9-1.3 1.4-2.7 .5 1.3 .4 .6 1-2.8 .4-2.1 .5 .4 .5 2.4 .9 1.2 .9 5.3 .5-.7 .9-4.5 .5 .7 .4 3.6 .5 1.4 .9-3.2 1-1.8 .4-1.8 .5 .6 .5 3.7 .4 1.2 1.4-5.9 .5 1.4 .5 2.5 .4 .7 .5-.9 .4 .4 .5 1.3 .5 .2 .9-4.2 .5 .4 .4 .9 1-3.1 .4 .7 .5 1.7 .9-1.5 .5 .2 .9 2.5 .5-1.8 .4-3.8 .5-.7 1.9 9 .4 1 1 .2 1.3-1.6 1-5.9 .4-.2 .5 1.3 .5-1.3 .4-.4 .5 1.3 .9 5.2 1-5.3 .4 .1 .5 .8 .5 1.9 .4 .8 .5-1 .4 .1 .5 .3 1.4-3.4 .9 1.2 1 2.2 .4 .3 1-.9 .9-2.8 .4-.1 1 2.3 .4 .1 .5-.5 .5-1.4 .9-5.3 .5 1.8 .4 3.1 .5 .4 .5-1.1 .4 .3 1 3.1 .4-.4 1.4-4.4 .5 0 .4 1.8 .5-.4 .5-2.1 .4-.2 1.4 1 .5-.3 .5 0 .9 4.4 .4-.4 1-2.4 .4-.3 .5 1.2 .9 1.1 .5-.3 .9-2 .5-1.8 .5 .2 1.8 9.2 .5-.9 .9-3.7 .5 1.9 .4 3.2 .5-1.8 .5-4.3 .4-2.3 .5 .6 .5 3.1 .4 1.8 .5-1.2 .5-.4 .9 3.1 .9-2 .5 0 .9-1.3 .9-.4 1 3.1 .4-.8 1-6 .4 .7 .9 3.2 .5-.4 .5-1.8 .4 1.3 .5 3.1 .5 .6 .4 0 1-3.6 .9 2.2 .5 2 .4 .2 .5-3.8 .5 .1 .4 2.1 .5-1.2 .4 .2 .5 .8 .9-3 .5 .7 .5 2 .4 .8 .5-.9 .5-2.2 .4-.8 1 3 .9-3.1 .9 3.4 .5 .8 .4-.2 .5-.7 .5 .4 .4 .9 .5-1 .9-4.9 .5 .8 .9 3.7 .5 1.1 .5 0 .4-1.2 .9-3.8 .5 .3 1.9 6.6 .4-.6 .5-1.8 .5-1.1 .4 .6 1 3.4 .4-.9 .9-8.4 1 8.5 .4-.8 1-4.8 .9-3.1 .5 .3 .9 4.5 .5 .3 .9-2.8 .4-2.1 .5-.5 .9 6.2 .5-1.5 .5-3.7 .4-1 .5 .1 .5 .4 .9 3 .9 1.2 .5 .2 .5-1.4 .4-4.4 .5-2.4 .4 1.8 .5 3.4 .5 .8 .4-2.6 .5 .5 .5 3.2 .4 1.2 1-.8 .4-1.1 .5 .7 .5 3.4 .4 1.6 .9-4.7 .5-.4 .5 .9 .9-.1 .5 .5 .4 .2 .5 1.1 .5 0 .4-2 .5-1.1 .9 4.4 .5 .5 .5-.7 .4-2.2 .5-1 .4 .1 .5 1 .5 2.7 .4 1.2 .5-1.2 .9-.5 1-7 .4-1.2 .5 2 .9 9.3 .5-1 .4-5.5 .5-2.4 .5 1.5 .4 .3 .5-.9 .5-.3 .4 1.3 .5 3.1 .5 1.7 .4-.8 1 1.2 .9-9.3 .4 .6 .5 2.2 .9-.1 1.4 5.2 .5-.8 .5-2 .4-.4 .5-.7 .5-1.7 .4 .2 1 4.6 .4-.4 .5-1.4 .4-.5 .5 .5 .5-.9 .4-.1 .5 .9 1.4-6.5 .5 .2 .4 .7 1.4 .4 .5-.7 .4 1.9 .5 3.6 .5-.6 .4-3.2 .5-.2 .5 2.3 1.4 3.3" fill="none" stroke="#000" stroke-width="1.9" stroke-linejoin="round" />
<path d="M136.3 1585.5l.5 .5 .4 1 1-1.9 .4-.5 .5 1.6 .5 2.8 .4 .5 .9-4.4 .5-.7 .5 1.3 .4-.2 .5-.9 .9 2.7 .5-.3 .5-.9 .4 .6 1.4 3.3 .5-.1 .4-.5 .5-1.3 .9-5.5 .5 .1 1.4 6.1 .5-2 .4-1.1 .5 2.9 .5 1.4 .4-1.1 1-3.7 .4 .3 .5 2.4 .4 0 1-4.9 .4 .2 1 4.3 .9 3.4 .5 .9 .4-.9 .5-2.1 .5-1.2 .4-.1 .9-1.4 .5 .4 .5 .8 .4-.5 1.9-8.4 .9 5.6 .5 .4 .5 1 .4 1.9 .5 .5 .4-1.3 1-5.5 .4-1 .5 .4 .9 3.7 .5 .5 .5-.5 .4-1.6 .5-.6 .9 1.5 .5 0 .5 .6 .4 1.3 .5 .2 .4-.4 .5 0 .5-.6 .9 .4 .5-.7 .4-1.3 .5-.7 .5 .6 .4 2.5 .5 .4 .5-2.3 .4 .1 .5 3.7 .4 1.5 1.4-3.3 .5 .5 .5 1.9 .4 .6 1-2.5 .9 3.2 .5-.7 .4-1.7 .5-.1 1.4 4.9 .9-5.2 .5 .4 .9 1.6 .9 5.9 .5-.7 .9-6.7 .5-.6 .9-.3 .5-.9 .4 .9 .5 1.9 .5-.9 .4-2.4 .5 .3 .5 3.1 1.4 5.4 .4-1.7 1.4-7.8 .5-.2 1.4 4 .9 .8 .5 25.9 .4-7.9 .5-18.4 .9-66.6 .5-14 1.4-27.8 1.4-13.4 .4-3 .5-.7 .5-.1 .9 1.8 .5 0 .4 1.7 .5 3.4 .5 1 .4-1.7 .5-.6 .5-.1 .4-1.3 .5-.3 .4 .9 .5 1.7 .5 .7 .9-.9 .5 0 .9 3.2 .5 .4 .9-2.8 .9-.8 1 5.6 .4 1 .5 .6 .9-1 1.4 4.4 .5 0 .4 .9 .5-.4 .5-2.7 .4-1 .5 1.4 .5 .3 .4-.1 .9 3.2 1 1.7 .4 2.8 .5 1.1 .5-.4 .9 2 .5-1 .4-.3 .5-.1 .5-.6 .4 .8 1 2.4 .4 .1 .9-2.9 1-1.2 .4-1 .5 0 .9 2.4 1 1 .9-3.3 .9-.7 .5-1.9 .4-.5 .5 .9 .9 1 .5 1.2 .5 .4 .4 1.4 .5 3 .5 1.2 .4-1.2 .5-.5 .5 .5 .4 .1 .9-3.9 .5 .4 .5 1 1.4 7.5 .4 1.1 1-3.6 .4-.1 1 2.3 .9 4 1.4-3 .9-6 .5 .7 .4 3.3 .5 1.3 .5-.1 .4 1.3 .5 .2 .5-.3 .4 1.8 .5 .2 .5-1.6 .9-.6 .4-1.4 .5-.1 .5 1.1 .4-.6 .5-2.1 .5-.6 .9 4.5 .9-1.5 .5 1.3 .5 2.3 .4 .1 1-3.8 .4-.3 .9-.1 .5 2.4 .5 .4 .4-1.6 .5 .1 .5 .9 .9-1.5 .5 1.3 .4 3 .5 1.6 .5-.4 .4-.9 .5-.3 .4-1.5 .5-3.9 .5-.6 .4 2.2 .5 .7 .5-.4 .4 1.1 1 3.6 .9 1.1 .9-2.1 1.4 3.5 .5-.6 1.4-7.1 .4 .6 1 5 .9 0 .9 .6 1-2.5 .4 .2 .5 .7 .4-.4 .5-1.2 .5-.6 .4 .1 1 .6 .4 0 .5-.4 .5-.9 .4 .7 .5-.8 .5-1.7 .4 .5 .5 1.7 .4 .8 .5-.2 .5 .9 1.8 4.3 .5-.5 .5-1.4 1.8 1.3 1-.8 .9 3.9 .4-1 1-5.4 .4-.9 .5-.4 .9 1.7 .5 .5 .9 3.1 1-3.9 .4 .3 .5-.1 .4-.5 .5 .2 .5-.7 .4 .7 .5 2.9 .5 .5 .9-5.2 .9 .5 .5-1.1 .5-.3 .4 .2 .9-3 .5-.5 .9-2.2 .5-.6 .9 1.8 1-.6 .4 1.5 .5 .4 .5 .7 .4 1.9 .5 0 .9-3.6 .5 .6 .9 6.6 .5-.9 .4-2.5 1-2.7 .4-2.8 .5-.3 .9 4.6 .5 0 .5-1.6 .4-.2 .5-.6 .4-1.1 1 4.3 .4 .3 1-4.1 .4-.5 .5 1.3 .5 .7 .9-2.6 .5 1 .4 2 1 5.4 .4 .4 1.4-3.9 .5-.1 .9 3.7 .5 .9 .4-1.6 .5-2.9 .5-1.4 .9 3.4 .5-1.1 .4 .5 .9 4.8 1 .6 .9 1.9 .5-1 .9-4.5 .5-1.1 .4 .6 .5 1.4 .9-.1 .5 1.1 .5 0 1.3-3.3 .5 1.5 .5 .8 1.4-.2 .4 1.1 .5-.6 .5-2.4 .4-1.4 .5 1 .9 5.5 .5 .1 .9-2.2 .5-2.4 .4-.5 .5 .3 .5-.4 .4-2 .5-.5 .5 2.6 .4 .8 .5 .3 .5 2 .4-.3 .9-5.7 1 3.3 .4-.9 .5 .7 .5-.4 .4-1.5 1 .3 .9 4.2 .5-1.2 .9 3 .9-4.3 .5 0 .9 4.6 .5 .2 .9-4.4 .5 1.1 .9 5.8 .5-.5 .9-6.4 .5-.3 .9 2.7 .4-1 .5 0 .5 .6 .4-1.7 .5 .5 .9 2.1 .5 4.5 .5 2.6 .9-6.7 .5-1.6 .9-.5 .5-1.9 .4-.9 .9 2.9 .5 .6 .9-4.6 .5 .5 .9 4.3 .5 0 .9-1.9 .5-.1 .5 .2 .9 .2 .4-.9 .5-1.7 .5 .4 .4 1.4 .5-.2 .5 .3 .9 4 .9-2.5 1 3.2 .9 .2 .9-1.5 .9-.3 1.4-4 .5 .9 .9 5.7 .5-.1 .9-4.2 .5 .6 .5 2 .4 .8 .9-4.3 1-2 .4 1.1 1 4.1 .4-1 1-3.7 .4-.1 .5 .3 .5-.7 .9 .4 .9 1.2 .5-.7 .4-2 .5 1.1 .5 3 .4 .1 .5-1.7 .5-.5 .4-.1 .5 .1 .5 1 .4-.5 .5-2.7 .5-.7 .9 4.1 .9 2.9 .9-1 .5-.1 .9 3.5 1 .3 .4-.4 .3 4.1 .4 95.8 .5-9.2 .7-3.7 .4-1.5 .5-.3 .9 1.6 .5 .1 .5-.7 .9-2.5 .5 .6 .4 1.8 .5 .1 .5-.4 .9 0 .9-2.1 .9-3.2 .5 .5 .5 1.4 .9 1.4 .5-.7 .9-5.4 .5 0 1.4 9.2 .4 .4 .9-4.2 1 2.2 .9-3.1 .9 1.7 .5-.6 .5 1 .9 4.2 1.4-3.6 .4 .7 .5 .1 .9-3.2 .5 .6 .5 3.2 .4 0 .5-2.1 .9 2.2 1-3.8 1.8 4.1 .5-.9 .4-2 .5 .6 .9 .2 .5 2.1 .5 .1 .4-1.8 1-.9 .4-1.5 .5-.3 .5 2.7 .4 1.1 .5-2 .4-.7 1.4 7.2 .5-1 .5-2.3 .4-1.3 1-1.5 .4-1.8 .5-.8 1.4 4.4 .5 .7 .4 0 .5-.3 .4-1.4 .5-.6 .5 1.8 .4 .2 1-6.9 .9 3.5 .5 .1 .9-4.1 .9 4.2 .5 .4 .4-.3 .5-1.1 .5-.3 .4 1 1 4.6 1.4-4.4 .4 .1 1 4.5 .4-.4 .9-3.3 1.4-2.2 .5 2.4 .5 4.4 .4 .7 1.4-6.3 .5-.4 .5 1.9 .4 .4 1-1.8 .4 .7 .5-.1 .4-.8 .5 .5 .5-.2 .4-.7 .5 1.2 .5-.7 .4-2.5 .5 .1 .9 5.5 .5 1 .5-2.3 .4-.1 .5 1 1.4-1.7 .4 0 .5 .7 .9-.2 1-3.3 .4-.3 1 7 .4 .8 .5-1.6 .9 1.3 .9-3.3 .5 2.1 .5 .6 .4-1.2 .5-.3 .5 .7 .4 .1 .5-.8 .5-.2 .4 .2 .5-.2 .5 .6 .4 1.6 .5-1.1 .4-3 .5-1.2 .5 .5 .4 1.3 .5 .7 .5 .1 .9-2.3 .5 .3 .4 1.1 .5 .4 .5 1 .4 .5 .5-.4 .5 0 .9-1.7 .4-.4 .5 .2 1.4 3 .5-.4 1.4-5.5 .4 .7 .5 1.8 .5-.2 .4 .4 .5 3 .4 1.2 .5-1.4 .9 1.6 1-3.9 .9-5.2 .5-.5 .9 3.7 .5 .8 .4-1.4 .5 .2 .9 3.6 .5 .2 .9-1.3 .5 .5 .4-.1 .5-2 .5-.3 .4 1.2 .5 .6 .5-.3 .4-1.1 .5 .1 .5 .7 .9 0 .4-.3 1-3.6 .4-.3 .5 .6 .5-.5 .4-1.2 .5-.4 .5 1.3 .4 .5 .5-.4 .5-.1 .9 2.9 .9 1.5 .5 .3 .4-.5 1-3 .9-.7 .5 .5 .4 1.3 1 5.3 .4-2.1 .5-4.1 .5 0 .9 2.6 .9 4.7 .5 0 .4-.5 1-2.1 .4-.2 1 2.4 .4 .4 .5 0 .9-6.6 .5 .7 .4 2 1-.1 .4 1.3 .5 .1 .9-4.2 1-2.7 .4 .4 1 10.1 .4-1 .5-3.2 .4-1.3 .5 0 .5 2 .4 .8 .5-.8 .9-3.3 1 1.1 .4-.6 1-3.8 .4 1 .5 3.2 .5 .9 .4-.3 .9 3.7 .5 .4 .9-3.8 .5 .2 .5 .7 .4 1.3 .5 2.2 .5 .8 .9-4.6 .5 .8 .4 1.8 .5 .6 1.4-2.9 .4-1.4 .5-.7 .5-.1 .4 .5 .5 1.5 1.4 5.6 .5-.2 .9-6 .5 .3 .4 .7 .5 .3 .9 2.5 .5-1.7 .4-3.1 1-1.6 .9 .8 .5-.5 .9 5.6 .5 0 .4-.8 .5 .3 .9-3.4 .9 1 .5-.1 .5-.5 .4 .8 1 6 .4-1 .5-3 .5-1.8 .9 4.1 .9-1.5 .5-1.2 1.4-7.9 .9 3.9 .5 .8 .9 3.1 .5-1.5 .4-2.8 .5-1.2 .9-.9 .5 .5 .9 3.8 .5 .7 .9-3.7 .9-1.1 .5-.3 1.4 3.2 .5-.5 .4-2.2 .5-.5 .4 2.8 .5 1.1 .5-2.6 .4-1.4 1 3.5 .9 2.1 .5 .6 .9-3.7 .5 .2 .4 .8 .5 1.7 1.4 2.1 .4-.5 1-6.3 .9-3 .5-.4 .9 5.7 .5 1.4 .4-.4 .5-2.1 .5-.8 .4 2.1 .5 .7 .9-4.6 .5 0 .9 2.4 .9-1.3 .5 2.2 .5 .6 .4-1.2 1-.5 .9-2.1 .5 1.1 .4 3 .5 .2 .4-1.7 .5-.1 .9 3.2 .5 .3 .9-.6 1 8.5 .4-.9 1-10.7 .4 .2 1.4 3.6 .5 1.7 .4 .8 1-3.6 .9-.9 .5 .7 .4 1.6 .5-.8 .9-3.9 .5 0 .9 3.9 .5-.5 .9 .7 .9-3 1-5 .4 .2 1 5.5 .4 1.9 .5 1 .9-4 .5 .3 .9 2.7 .5-.1 .9-5 .5-1.4 .9 3.8 .5-1 .4-2 1.4 7.5 .5-.5 1.4-5.1 .4 1.7 .5 3.7 .5 1.5 .9-2.7 .5 .8 .4 .2 .5-.1 .5 .1 .4-.5 1-2.5 .9 3.8 .4 1.1 .5 .3 .9-.8 .5-1.1 .9 1.6 .5-1.3 .5 0 .4 1.1 1-1 .4 .8 .5 .4 .4-1.1 .5-.4 .9-2.1 .5 .6 .5 0 .4 1 .5 2.7 .5 .6 .4-1.7 .5-1 .5-.2 .4-1.4 .5 .2 .4 1.8 .5 0 .5-1.1 .4 1 1 3.7 .9-3.6 .9-2.5 1 1.4 .9-3.2 .5-.4 .9 2.1 .9 .3 .5-.3 .4 .2 .5-.2 .5-1.9 .4 0 .5 .6 .9-3.5 1 4.2 .4 .8 .5-.7 .4-.1 .5 .8 .5-.7 .4 .2 .5 .7 .5-1.7 .4 .5 .5 2.4 .5-.6" fill="none" stroke="#000" stroke-width="1.9" stroke-linejoin="round" />
<path d="M136.3 1590.6l.5 .7 .9-4.3 .5-.6 .9 1.4 .9-.3 .5-.2 .4-1.8 .5 .4 .5 3.5 .4-.7 .5-2.2 .9 4.6 1-.6 .4 .7 .5 1.9 .5-.6 .4-2.5 .5-1.4 .4-.4 .5 1.2 .5 2.1 .4 0 .5-4.1 .5-2.3 .9 3 .5-.2 .4-2 .5-.1 .5 2.4 .9 1 .5 2.1 .4-1 .5-3.9 .4-2 .5 0 .9 1.5 .5-1 .5-.4 .9 4.5 .5 1 .4-.4 1-4.5 .4-.3 .9 3.8 .5-.9 .5-.3 .9 1.9 .5-.3 .4-.7 1 .4 .9-3.2 .5 .4 .9 6.2 .4 0 1.4-8.4 1 3.3 .4 .1 1.4-2.5 .5 .4 1.4 6.3 .5-.2 .4-1.3 .5-2.3 .4-.8 1 3.8 .4-.8 .5-.3 .5 1 .9-2.3 .5 1.1 .4 .4 .5-.2 .5 .2 .4 1.4 .5-.2 .9-4.5 .5-.4 .9 .8 .5-.7 .4-1.1 .5 0 .9 2.8 .5 .5 .5 1.4 .9-2.3 .5 1.4 .4 .6 .9-4.7 .5 1.3 .5 3.2 .9 2 .5 1.8 .9 1.2 .5 0 .9-4.3 .5-1.3 .4-.2 .9 3.2 .5 .6 .5 1.2 .4 .1 .5-1.3 1.4-1.6 .5 2.3 .4 .9 1-9.4 .4 .8 1.4 5.5 .5-.6 .4-1.3 .5-.3 .5 38.6 .4-1.2 1.4-45.4 1.9-30.6 1.8-25.7 .5-4.5 .5-2.2 1.4-3.2 .9-6.4 .5-.3 .4 .9 .5-.6 .5-1.3 .4-.4 .9 3.7 1-2.1 .4 .8 1 2.9 .4 .6 1 .9 .9-1.4 .5 .6 .9-.1 .5 2.3 .4 .1 1.4-2.6 .5 .4 .4 .9 1-.1 .4 .9 .5 .3 .5 .7 .9 .2 .9 3.4 .9 .3 1.4 1.8 .5-.3 1.4-2.4 .5 1.1 .4 2.4 .5-.8 .5-3.6 .4-2.1 1 4.3 .9-4.2 .4 .5 1 2.9 1.4 7.1 .4 .6 1-2.1 .9-3.7 .9 3.8 .5 .1 .4-.2 .5 .4 .5-.2 .4 1.4 .5 .3 .5 0 .4 2.3 .5 .1 .5-2.2 .4-.8 .5 1.1 .9 3.6 .9 1.5 1.4-1.6 .5 .7 .5 1.6 .9-.8 .5-.1 .4-.7 .5 .7 .9 3.6 .5 1 .9-6.4 .5-1.5 .9 3.6 .5-1.2 .9 1.5 .9-6.1 .5-.1 .5 2.6 .4 .5 .5-.6 .5 .8 .4-.1 .9-4.1 .5 .7 .9 5.6 .5 0 .9 1.5 1-3 .9 2.1 .5 .5 .9-1.3 .5 1.4 .4 2.3 .5 .9 .4-.2 .5-.7 .9-2.7 .5-.4 .9-3.5 1 2.6 .9-.7 1.4 .5 1.4-2.4 .4 .6 1 3.4 .4 .3 .5-.6 .9 1.9 .5-.4 .5 1.6 .4 .7 .5-.8 .4-.2 .5-1.3 .5-.6 .9 2.8 .5 .1 .4-1 .5-1.9 .5 .2 .4-.9 .5-2.7 .5 .4 .4 3.3 .5 .9 .5-1.8 .9 .1 .4-1 .5 .3 .9 4.6 .5-1.4 .5-3.3 .4-.2 .5 2.2 .5 .5 .4-1.6 .5 .8 .5 4.2 .4 2.3 .9-2.5 1 3.4 .9-1.8 .5-.3 .4-1.2 .5-.4 .5 .4 .4 .8 1 4.7 .4-.3 .5-2 .9-2.4 .5 .6 .9 6.3 .5 .6 .9-4.4 .5-1.3 .9 .2 .5-1 .4-.1 .5 .6 .5-.1 1.3-3.8 .5 .3 .9 1.9 .5 .2 .9-2.1 1 2.9 .9-4.2 .5-.2 .4 1.4 .5 .7 .4-1 .5-.2 .9 .7 1 3.3 .4-.8 1-7.5 .4-2.2 .5 .4 .9 7.6 .5 2 .5 1.1 .4-.3 .5-.8 .9-.5 .5 0 .4 1 .5 .4 .5-1.3 .9-1.6 .5-.4 .4 .9 1-1.7 .9 1.7 .4 .1 1-1.3 .9 .9 .5-2 .4-3.5 .5-1.6 1.4 6 .5-.3 .4 .6 .5 1.6 1.4-.3 .9-5.1 .5 1 .4 3.5 .5 1.5 .5 .3 .4 .8 1-.1 .9-4.5 .9-3.2 1.4 7.5 .5-.6 .4-2.6 .5-1.2 .5 2.1 .4 .8 .5-.9 .5 1 .4 1.9 .5 .7 .5-1.1 .9-5.1 .5-.1 .9 4.7 .9-2.7 .9 3.3 .5-.2 .9-4.5 1.4-4.1 .5 .9 .5 3.5 .4 1.9 .9-1.9 1 2.5 .4 .4 1-.4 .4 .2 1 3.8 .4 .4 .5-.9 .5-2.2 .4-4.2 .5 .5 .4 3.3 .5 .4 .5-.6 .9 2.9 .5-.8 .4-2.7 .5-1.5 .5 .9 1.4 5.3 .4 1.1 .5 .5 .5-1.8 1.3-11.1 .5 .6 .9 5.9 .5-1.4 .5-3.4 .4-.7 .5 2.5 .9 2.3 1 5.9 .4-.9 .5-1.8 .9 .1 .5-.5 .9-2 .9 2.5 .5-.9 .5-3.3 .4-1 .5 2.1 .5-.1 .4-2.5 .5-1 .9 5.6 .5 1.6 .4-.9 .5-1.7 .5 0 .9 .9 .5 1.6 1.4-.4 .4-1.7 .5-.5 .5 2.2 .4-.1 .5-2.1 .9-1.3 .5 0 .4 1.3 .5 .1 .5-.4 .9 2.5 .5-.1 .9-2.7 .5 .7 .4 1.4 .5 2.5 .4 1.3 .5-1.4 .9-5.6 .5 .8 .5 1.6 1.4 2.6 1.4 .1 .4-.8 1-4.6 .9-3.4 .4 2.5 .5 4.8 .5 1.6 .9-3.3 .9 2.7 1-3.4 .4-.6 .5-.3 .9 4 .5 1.2 .4 .3 1-2.7 .4-.5 1 2.2 .9-2 .5-.3 .4 .4 .5-.4 .9-.3 .5 .7 .9 3.5 .5 .1 .9-1 .9-1.9 1 2.2 .4 .6 1-4.1 .4 .8 .3 5.6 .4 56 .3-5.4 .9-7.5 .4-.9 .5-.1 .5-1.4 .4-.3 1.4 3 .5 .6 .5-.5 1.4 3.2 .4 1.8 .5-.4 .5-3.3 .4-1.7 .9-1 .5 1.1 .5 2.7 .4 1.4 .5-1.9 .5-3.3 .4-.4 .5 2.2 .5 1.2 .4 0 .5 .2 .9 2 .5 .5 .4-1.2 .5-.4 .5 1.5 .4 .2 1-5.3 .9 5 .5 .5 .9-3.7 .5-.7 .9-6.5 .9 6.4 .5 .4 .9-1.8 .5 .6 .9-.5 .5 1.3 .4-.1 1-3.2 .4-.6 .5 .2 .9 3.3 .5 .4 .4 .1 .5-.5 .5-1.5 .9 1.5 .5-2 .4-.8 .5 1.8 .9 2.3 .5 .9 .5 .3 .9 2.8 .4-1.1 .5-2.6 .5 .5 .4 3.1 .5 .6 .5-2.1 1.4-3.9 .4-.1 .5 .6 .9 4.4 .5-.4 1.4-5.4 .4-.9 1.4-.2 .5 .5 .5 .1 .4 .6 1 3.6 .4 .2 .5-1.1 .5-.5 .4 1.5 .5 .1 .4-.7 .5-.1 .5 .9 .4 .4 .5-.8 .5-.2 .9 2.5 .5 .2 .9-3.4 .5-.9 .9 2.6 .4-.1 1-7.6 .4 .7 .5 3.1 .5-.3 .9-4.4 .5 .5 .4 1 1 .8 .4 1.9 .5 .3 .5-.4 .9 2.5 .4-.4 1-3.7 .4 .1 .5 1.8 .5 .7 .9-3.4 .5 .1 .4 1.7 .5 3.8 .5 1.6 .4-.2 .5 .2 .9-3.4 .5 .6 .9-3.4 .5 2.3 .4 1.2 1.4-3.9 1 5.8 .4 .7 .5-.4 .5-1.3 .4-.3 .5 0 1.4-2.5 .4-.5 1 3.9 .4 1.2 1-.5 .4-.9 .5-1.7 .5-.8 .4 1.5 .5 1 .4 .3 .5 1.3 .5-.7 .4-1.8 .5 .6 .5 2.5 .4 .4 .5-.3 .9 2.4 .5 .4 .5-2.5 .4-1.4 1 6.6 .4 .9 .9-4.8 .5-.9 .5 .2 .4-.4 1-3 .4 .1 .5 .6 .9-2.1 .5 .6 .9 3.6 .5-.8 .4-1.5 .5-.5 .5 .4 .9 6.3 .5 .8 .4-.5 1-6.2 .4-.9 .5 .9 .5 .4 .4-.2 .5 .8 .4 2 .5 .5 .9-2 .5-.4 .9 1.9 1-3.9 .4 .2 .5-1.2 .5 .1 .4 1.2 .5-.4 .5-1.2 .9 1.7 .4-1.5 .5-.2 .5 1.8 .9 1.9 .5-.2 .4-2.1 .5-1.2 .9-.9 .5 .8 .9 3.3 .5 .6 .4-.6 .5 1.3 .5 0 1.8-5.6 .5-.3 .5 1.4 .4 .2 .5-1.1 .9 3.7 1-2.9 .4 1.2 .5-.7 .4-2.4 .5-1.2 .5 0 .9 5.2 .9 4 .5-1.3 .5-3.1 .4-.5 .5 2.2 .5 .5 .4-.6 .9-3.3 1 3.7 .4-1 .5-2.5 .5-.6 .4-.1 1-4 1.4 3.7 .9-1 .9-.3 .9 2.1 1-2.4 .9 2.3 .5-.7 .9 2.1 .5-2 .4-3.6 .5-.9 .9 6.1 .5 1.1 .9-1.9 .5 .2 .4 .6 .5 0 .5-.9 .4 .7 .5 3.9 .5 2.1 .9-2.5 .9-.6 .5-.8 .4 .4 .5-.5 .5-2.2 .4 .3 1 6.1 .4 .2 .5-3.8 .5-1.6 .4 2.4 .5 .2 .5-1.4 .4-.5 .5-.3 .9 .3 .9-2.3 1 1.4 .4-.7 .5-2.9 .5-1.6 .4 1.2 1 .2 .9 3.9 .9-.3 .9-2.2 1 3.1 .9-3.2 .5 1.4 .4 2.6 1.4 3.9 .5-2.1 .5-4.3 .4-2.3 .5-.7 .9 3.2 1.4-.5 .5 1 .4 2.5 .5 1.4 .9-3.6 .5 .3 .5 1.5 .4 .5 1.9-3.1 .4-1.5 .5-.3 .5 .8 .4 .4 1 4.3 .4-.2 .5-1 .9 2 .5-.1 .9-1.4 .9-3 .5-.8 .5 .3 .4 .7 1-.2 1.4-1.5 .9 2.1 .9-1.8 .5 .2 1.4 3.2 .4-.5 1-4.1 .4 .4 .5 1.9 .5 .5 .9-3.2 .9 1.2 1-.9 .4 .9 .5 2.5 .4 0 .5-2.5 .5-.8 .4-.2 .5-2.3 .5-.3 .9 8 .5-1.6 .4-3.9 .5-1.7 .5 1.3 .4 2.5 .5 .5 .9-3.6 .9 2.8 .5-1.3 .5-.7 .4 1.7 1 5.4 .4 .1 1.4-5.5 .5-1.2 .9 1.9 .5 .6 .9 4.1 .5-.7 .9-4.1 .5-.9 .4 .2 .5 1.3 .5 3 .4 .3 .5-1.9 .5-.9 .4 0 .9 2.8 .5 .3 .9-4.8 .5-.2 .9 4.5 .5 1.3 .5-.4 .4-2.3 .5-1.1 .5 1 .4 2.2 .5 1 .5-1 .4-1.7 .5-.3 .4 .8 .5 .2 .5-.8 .4-.2 .5 .5 .9-3.3 1 2 .4 .6 .5 1.2 1.4-2.3 .4 .1 .5 .8 .9-3.6 .5-.5 .5 .8 .4 2.4 .5 .9 .5-1 .4-1.7 .5-.5 .5 .2 .9-1.7 .9 1.9 .5 .4 .9-3.2 .9 1 1-1.3 .4 0 1 5.1 .4 .1 .5-1.1 .5 .6 .4 .3 .9-4.6 1 4.7 .9-3.2 .9 2.2 1-5.1 .4-.8 .5 1.2 .9 4.2 .5 .1 .9-1.6 .5-.4 .4 .9 .5 2 .5-.4 .4-2.7 .5-1.6 .5 .6 .9 2 .5-1.2 .9-5.5 .5 .5 .9 7.1 .4 .2 .5-.5 .5-1 .4-.2 .5 .4 .9-1.5 .5-.3 .9-2.1 1 5.3 .4-.7 .5-1.9 .4-.5 1 2.9 2.3-6 .5 0" fill="none" stroke="#000" stroke-width="1.9" stroke-linejoin="round" />
<path d="M136.3 1588.4l.5 1.4 .4 2.9 .5 .4 1.4-6.4 .5 1 .9 3.1 .4 .3 1-3.7 .4-.7 .5-.2 .5 1.6 .9 5.7 .5-.5 .4-1.7 1.4-3 .5 .1 .9-1.1 .9 3.5 .5 .5 .5-.8 .4 0 .5 1 .5-1 .9-7.3 .5-.3 .9 6.4 .5 1 .9-.4 .4 .7 .5-.8 .5-1.7 .9-1.2 .5 .3 .4 1.6 .5-.1 .5-.8 .4 1 .5 1.8 .5-.2 .9-3.2 .4 .3 1 8.6 .4-.8 1-6.3 .4-.3 .5 1.5 .5 .4 .4-.2 1-1.5 .4 .9 .9-.7 .5 1.4 .5 2.5 .4 .4 .5-1.7 .5-.5 .9 3.3 .5 .9 .4 .1 .5-1 .9-4.6 .5 .1 .9 1.7 .5 1.5 .4-.5 .5-1.8 .5-.4 .9-2.5 .9 .7 1-3.8 .4 0 .5 2 .9 1.5 .9 3.6 .5-1.9 .5-5.2 .4-2.2 1.9 10 .5 .2 .9-6.5 .5-.2 .4 2.3 .5 0 .5-.9 .4 .2 .5 .7 .9 2.6 .5 .2 .9-3.4 .9-.1 .5-.6 .5-.2 .9 .2 .5-.3 .4-.9 .5 1.5 .4 0 .5-2.1 .5 1.3 .4 3.2 .5-.1 .5-2.6 .4-1.3 .5 .7 .9 4.7 1-10 .4 .1 .5 2.1 .9 1.5 .5 .1 .9 2.7 .9 51.4 .5-1.7 .5-13.8 1.4-22.7 2.3-22.6 .9-7.2 .5 .1 .4 .6 .5-2.2 .9-10.2 .5-1.6 .5-.3 .9-5.1 .5-1.6 .4 1 .5-.7 .4-3.1 1.4-5.1 .5-.2 .9-1.8 .5 .3 .5-.6 .4-.2 .5 1.2 .9 5.1 .5-.1 1.4-4.3 .9 2.3 .5-.9 .4 1.7 .5 3.2 .5-.1 .4-2.6 .5-1.2 .9 .3 1-.4 .9 2.3 .4-.3 .5 .2 .5-.1 1.4-3.1 .9 5.7 .9-3.9 1 1.3 .4 0 .5 1.3 .5 2.3 .4 .8 1.4 .5 .5-.1 .9-3.8 .9 4.8 .5 .3 .9-3.6 .5 0 .9 3 1.9-3.2 .4 .2 1 1.6 .9 5.5 .5 1.1 .4-.1 .5-.7 .5-2.8 .4-1.5 .5 .5 .9 4.5 .5-2.1 .4-4 .5-1.5 1.9 3.4 1.4 5.4 .4 .5 .5-.1 .9-2.3 .5-.5 .9 1 .5 .1 .9-2.1 .9 3.2 .5-.7 .9-6 .5 .7 .9 3.9 .5 .9 .4-1.8 .5-.5 .5 2.1 .4 .9 .5-.6 .9 1.4 1.4-4.4 .5-.5 .9 4 1 1.2 .9-3.5 .4 1.4 .5 .7 .5-.9 .9 5.3 .9-9.4 .5 2.2 .5 6.4 .4 1.5 .5-1 .5 .4 .9-2.4 .4 .4 1.4 4.3 1 .9 .4-1.4 .5-3 .5-1.7 .4-.6 .5 1.5 .9 8.9 .5-.7 .4-3.2 .5-1.2 .5 0 .4 .9 .5 2.1 .5 .1 .4-.9 .5-.3 .9-3.4 .5-.2 .5 1 .4-.2 .5 1.1 .5 2.9 .4-.1 .9-4.8 1 .5 .9-1 .5 .6 .4 1.6 1-.4 .4 .1 1 .9 .9 2.6 .4 .8 1-3.7 .4 .4 1.4 6.5 .5-1 1.4-11.3 .5 .7 .9 4.5 .5 .3 .9-2.6 .4 1.3 .5 2.9 .5-.4 .4-2.3 .5 .6 .5 1.7 .4 .4 1.4-3.4 .5 .2 .5-.9 .9-3.9 .4 .2 1 4.9 .4 1 .5 0 .9-2.2 1 3.6 .4 .6 .5-.3 .5-.8 .4 0 .5 1.5 .4-.3 .5-2.6 .5 .7 .4 2.8 .5 1.5 .9 2.1 .5-2.1 .5-4 .4-1.6 .5 .8 .5 0 .4-.4 1 .1 .9 1.9 .9-3.7 .5-.8 .4-.4 .5 1.3 .9 4.3 1-3 .4-.3 1 .1 .9-1.7 .9 2.5 .5 .8 .9-2.4 .9 4 1-1.8 .9 3.7 .9-1.2 .5-.2 1.8 1.4 .5-.4 .9-4.9 .5 .7 .5 3.1 .4 1.7 .5-.2 .9-4.3 .5-1.3 .5 .8 .4 2.1 .5 1.3 .4-.1 1-1.7 .9 2.4 .5 .3 .9 1.9 .5 0 .9-1.8 .9 1.1 1-4 .4 1.4 .5 2.6 .4 .7 .5-1.8 .9-7 .5-1 .5 .2 1.8 9 .5 .6 .5-2.7 .4-.2 .5 2.4 .9-2.5 .9 .4 .5-.3 .9 .3 .5-.2 .5-.6 .4-2.7 .5-1.1 .9 6.3 .5 1.2 .4-.9 1-4.4 .4-.3 .5 .5 .5-.3 .4-1.4 .5-.3 .9 3.3 .5 .5 1.4-5.1 .5 2 .4 4 .5 .6 .9-4.7 .5-1.3 .4 .8 .5 1.7 1.9 3 .4-.9 .5-2.7 .5 0 .4 .6 .5-2.3 .4-.5 1 3 .4 0 .5-1.2 .9 .3 .5 .5 .5 1.9 .4 .4 .5-.3 .5 .6 .4-.6 .5-2.2 .5 .9 .4 2.9 .5 .3 .9-2.8 .5 .7 .9 4 .5-.2 .9-2.3 .5 1.1 .4 .4 1-4.1 .4 .3 .9 2.2 1 .7 .4 1.1 .5 .2 .9 1.4 .5-.7 .9-3.3 .5-.1 .5 1.4 .4 .5 .5-.4 .9-2.1 .5 .1 .4 1.9 .5-.1 .5-2.9 .4-.7 1 3.9 .4 1.2 1 0 .4 1.6 .5 0 .9-6.7 .9 6.7 .5 .2 .5-2.5 .4-1 1 4.6 .4 .6 .5 .1 .9-3.6 .5 .2 .5 1.6 .4 .8 .5 0 .4-.4 1.4-2.9 1.4-4.8 .5 .2 .9 3.3 .5 .5 .5-1.3 .4 0 1 4.6 .4 1.3 .5-.2 .9-4.2 .5-.4 .4 1.3 .5 .5 .5 .4 .4 0 .5 .3 .5 1.6 .4 0 .3-2.3 .4 27.8 .3-2.2 0 .8 .4-2.9 .5 2.9 .9-4.7 .5-.2 .4 .2 1-2.8 .9 3.5 .5-.2 .4-1.5 .5 .4 .5 1.2 .4-.3 1-4.9 .4 .2 .5-.1 .4-.5 1.9 3.5 .5-.6 .9-3 .5 .5 .4 1.2 1 .5 .4 .5 .9 1.7 .5-.2 .5-1.7 .4-.7 .5 .8 .5 .1 .4 .4 .5-.1 .5-1 .4-.3 .5 1 .5 2.5 .4 1.1 .5-.9 1.4-7.4 .4 .2 1 7.5 .4 1.7 .5-1.7 .9-5.5 .5-.3 .5 .9 .9 4.8 .5 .8 .4-.9 .9 .7 1-3.8 .9 .9 .9-2 .5 .1 .9 2.5 1 .8 .4 .7 .9-2.8 1-.5 .9-1.7 .5 .9 .9 4.9 .5 .6 .9-.9 .5-.1 .9-4.2 .5 1.2 .4 2.1 .5-.7 1.4-8 .4 1.4 .5 3.4 .5 .8 .4-.4 .5 .6 .5 1.7 .4-.3 .5-2.9 .5-1.5 .4 .5 .9 3.4 .5-.3 .5-1.7 .4 .1 .5 1 .5 0 .4 .6 .5 1.2 .5-.8 .4-.2 1-1.8 .4 .3 .9 3.5 .5-.6 .5-2.9 1.4-2.6 .4 .3 .5 1.2 .5-.7 .4 2.2 .5 4.3 .5 1.5 .4-.6 1-3 .4-.4 .5 0 .9-3.7 .9 3.1 .5-.1 .9-2.5 .5 .4 .5 3 .4 1.5 1-3.6 .4-1 .5 1.2 .4 2.4 .5 .9 .9-3 .5 0 .9-2.6 1 .9 .4-.6 .5 .1 .9 4.1 .5 0 .9-5.3 .5 .1 .4 .9 1 2.7 .9-4.2 .5 1.5 .4 2.9 .5 .5 .9-2.6 .5 .1 .5 1.7 .9 1.8 .9 3.3 .5 .2 .4-.9 .5-1.5 .5 .1 .4 1.1 1-3.5 .4-.3 .5 0 .5 1 .4 2.1 .5 1 .5-.7 .4-1.5 .5 .8 .4 2.5 .5 .1 .9-5.4 1 1.9 .9-3.2 .5 .3 .9 3 .5 .4 .9-.1 .4-.6 1-4.8 .4-.1 .5 1.3 .5-.1 .4-.5 .5 .4 .9 3.2 .5-.4 .5-1 .4-.2 .9-1.1 1-2.6 .9 4.8 .5 .7 .4 2.1 .5 .9 .9-4.3 1 1.4 .4-1 .5 .3 .9 3.7 .5-2.2 .4-4.5 .5-1.7 .9 2.9 .5-.3 .5-1.3 .4-.7 1.9 5.4 .5-.9 .9-4.6 .4-.1 .5-1.1 .5 .2 .9 6.2 .5-.1 .4-1.4 1.4-1.1 1 4.9 .4 .8 1.9-6.8 .4-.1 .5 1.8 .5 1 .4 .1 1 2 .4-.4 1 3.7 .4 .9 .5-.8 .5-2 .4-.2 .5 .1 .4-2.5 .5-.4 .5 2.7 .4 .7 1-8.1 1.4 8.9 .4 1.6 .5 .2 1.4-7.7 .4-1.6 .5-.6 .9 4.2 1-2.1 .4 .7 .5 .1 .9-2.2 .5 0 .9 4.4 .5-.9 .5-1.6 .4 .6 .5-.1 .4-1.2 1 4 .4 0 1-4.4 .4 .2 .5 1.8 .5 .3 .4-2.5 .5-1 .5 .6 .4 1.3 .5 2 .4 0 1.4-4.3 1-.2 .4-.6 .5-.1 .9 1.1 1-.2 .9 2.7 .9-3.3 .9-.5 .5-1.5 .5-.6 .9 1.9 .5 .2 .9-4.1 .5 .3 .9 2 .5 2.4 .4 .8 .9-2.8 1.4 1.3 .5-.1 .5-.7 .9 2.2 .9-2.4 .5 .2 .5 1.7 .4 .1 .5-2.3 .4-.1 .5 3.7 .5 2.1 .4-3.3 .5-.8 .5 3.2 .4 .4 .5-2.3 .5 .1 .9 4.8 .5-1.4 .4-.6 .5 1.1 .5 .2 .4-.4 .5-.1 .9-.7 .5 1.8 .4 0 .5-1.6 .5 .6 .9 3.8 .5-.9 .4-1.9 .5 .5 .5 2.5 .4 .6 .9-4.4 1 3 .9-2 .5-.2 .9 1.4 .5-.3 .4-2.6 .5-.9 .5 2.5 .4 .6 1-5.4 .4 .4 .5 .9 .4 .1 1-3.7 .4-.6 1 3.7 1.4 1.8 .9-2.7 .5-.8 .4 .7 .9 2.4 .5 1.8 .9-.5 .5 2.8 .5 1.5 .9-5.4 .5-1.7 .4 .9 .5 1.9 1.4-.8 .5-.9 .4-.1 .5 .3 .9 4.1 .5 .2 .4 .6 .5 1.1 .5 0 .9-6.2 .5-.4 .9 4.5 .5 1.2 .9-2.4 .4 .6 .5-.3 .9-4.1 .5 .2 .9 2 1 4.7 .9-4.3 .9 1.7 .9-7 .5 1.3 .5 2.8 .4-.9 .5-.4 .9 4.3 .5 .8 .9-3.3 .5 .3 .5 2.1 .4-.3 1-5.4 .4-.3 1.4 1.6 .5 2.4 .9 2.5 .5 2.6 .4-1.3 .5-4.5 .5-1.6 .4 1.9 1 6.4 .4-.2 .9-3.6 1-4.9 .4 .5 1 5.5 .4-1.8 .5-4.1 .5 .5 .4 2.9 .5-.2 .5-1.9 .9 3.2 .5-.1 .4-1 .9-4.7 .5 0 .5 1.9 .9 6.1 .5 .4 .9-3.5 .9-1.2 1 1.7 .9-5 .4 .9 .5 1.7 .5-.4 .4-.2 1 .3 .9 2.5 .5-.2 .4-1.6 .5-.6 .9 3.5 .5 .2 .4-1.1 .5 .4 .5 2.1 .4-.8 1-5.5 .4-1.1 .5 .5 .5 2.6 .4 1.1 .5-1.5 .5 .5 .4 2.9 .5 .7 .9-3.9 .5-.9 .4 .7 .5 1.4 .5-.4 .4-1.5 1 2.5 .9 .7 .5 0 .4-.5 .5-.2 .9 1.2 .5-.1 .9-6.3 .5 .3 .4 1.4 .5 .3 .9 2.6 .5-.2 .5-1.4" fill="none" stroke="#000" stroke-width="1.9" stroke-linejoin="round" />
<path d="M136.3 1586.1l.5 1.7 .9 .3 .9-1.5 1 1.4 .4 .1 .9-.3 1 3 .4-.6 .5 .3 .5 2.8 .4 .2 .5-.4 .5 .1 .4-.3 .5 .9 .5 .2 .9-6.5 .4 .3 .5 2 .5 .9 .9-2.1 .9 .8 1-2.5 .4 .7 .5 .3 .9-3.9 .5-1 .5 .2 .9 3.3 .4 .5 .5 .2 .5-.5 .4-.9 .5 .3 .5 2.7 .4 .7 1-4 .4-.5 1 1.1 .4-.8 .5 .8 .4 2.6 .5 .9 .5-1.2 .4 0 .5 .4 .5-.2 .9 1.8 .5 0 .4 .5 .5-.6 .9-5.2 1.4 2 .9 2.6 .5-.3 1.4-7 .5 2.6 .4 4.5 .5 .6 .9-5 1 .2 .4-1.4 .5 0 .9 5.6 .5 1.5 .4-.3 .5-.9 .9 1.6 .5-.5 .5-1.8 .4-.8 1 1.3 .4-.3 .5-.7 .4-1.5 .5-3.9 .5-1 .4 3.1 .5 1.5 .9-1.8 1 4.6 .9-2.5 .5 1 .4 2.5 .5 1.1 .9-4.6 .5 .4 .4-.7 1-4.4 .4-.4 .5 .3 .9 4.1 .5 .9 .5-1 .4-2.4 .5 1.3 .5 4.1 .4 .8 .5-1.2 .4-.2 .5-.9 .5-.3 .9 6.2 .5-.7 .4-3 .5-1 .5-.4 .4 .3 .5 1.1 .9 1.3 .5-2.1 .9-7.3 .5-1.1 .4 0 2.8 50.4 .5 1.9 1.4-19.9 1.4-16.5 .4-4.1 1-4.9 .9-7.9 .5-2 .9-2.2 .5-.3 .9 4.5 .9-7.7 .5-1 .4 .2 1-3.7 .4-.1 .5 .3 .5-.8 .4-1.5 .5 .4 .5 1.5 .4 .6 .5-.9 .5-.1 .4 .8 .5-.6 .5-.2 .4-.7 .5-3 .4-1.1 1 6 .4-.5 .5-3.1 .5-1.1 .4-.1 .5-1.5 .5-.1 .4 1.3 .5 .2 .5-.4 .9 2.9 .4-.1 .5-.7 .5-1.7 .4-.1 1 3.8 .4-.6 1-3.4 .4 .6 1 5.1 .4 .2 1-.5 .4 .3 .5 .7 .4 1.3 1-.5 .4 1.2 .5-.4 .5-1.7 .9-1.5 .5-1.4 .4 .2 .5 .6 .9 3.5 .5-.3 .4-1.3 .5 .3 .5 1.4 .4-.9 .5-1.7 .9 3.7 1-.5 .4 1.4 .5 0 .9-4 .5-.5 .4 1.8 1 .9 .4 .8 1-.6 .4 .5 .5 1.5 .5-.4 .4-1.7 .5 .2 .5 2.5 .4 .7 .5-1.9 .5-1 .4 .8 .5 2.3 .4 1.3 .5-.3 .9-2.5 .5-.3 .5 .2 .4 1.3 .5 .3 .9-4.9 .5 1.1 .5 4.1 .4 .2 .9-4.9 .5-1.1 .9 3 1 6.7 .4 1.8 .5-.7 .9-6.3 .5-.4 .5 .7 .9-3.7 .9 4.5 .5-.8 .9-5.1 .5 0 .4 1.2 1 4.4 .4 .6 .5-2 .5-.8 1.4 2.8 .4-.6 .5-1.4 1.4 .2 .4-.7 .5 .3 .5 1.8 .4-2 .5-3.6 .5 0 .4 .9 .5-.7 .5-.1 .9 3.4 .9-1.7 .9 4.4 1-3.9 .4-.2 .5 .9 .5-.3 .4-2.6 .5-.7 .5 1.3 .4-.2 1 3.7 .4-.4 .9-2.9 .5-.6 .9-.4 .5 .2 1.4 3.9 .9-4.2 .5-1.3 .5-3.2 .4 .3 .9 9.1 .5 .3 .9-1.4 1 2.5 .4 .8 .5-1.3 1.4-6.1 .5 .3 .9 4.6 .9 .7 .5-.2 1.4 3.5 .4 .5 1.9-4.7 .5 .2 .4 .7 .5-.2 .9-2 .5-.6 .9-3.9 .5 .2 .9 4 .9-.1 .5 2.2 .5 .8 .9-4.3 .5-1.3 .4 .7 .5 1.6 .4 .2 1-.5 .9-1.7 .5 .6 .9 3.8 .5 .5 .4 0 .5-.4 .5 1.3 .4 2.6 .5-1.8 .5-3.7 .4 .4 .5 3.4 .4 1.8 .5-1 .5-2.4 .4 .2 1 3.5 .4 .4 .5 1.8 .5 3.1 .4 1.4 .5-.8 .9-6.7 .5-.4 .4 1.2 1-3.3 .4 .7 .5 1.5 .5 .3 .4-.3 .5 .4 .9-3.4 1 1.8 .4-.1 1 2.6 .4-1 1.4-4.6 .5-.2 1.8 5 .5-.3 .9-3.7 .5-.3 .5 .3 .9 3 .4-.4 1-4.3 .4 .5 1 2.9 .9 1.7 .9-1.8 1 3.5 .4 .5 1-3.8 .9 3.3 .9-6 .9 6.2 .5-.5 .9-2.5 .5 0 .9 4.3 .5-.3 .9-3.1 .5 .6 .9 5.3 .5-.7 .9-6.7 .5-2 .4-1 1 3 .4-2.4 .5-.2 .5 2.3 .4-.6 .5-3 .4-.7 1 5.3 .4 1.4 .5 .2 .5-.6 .9-4.2 .9-1.4 .5-1.1 1.9 5.1 .9-2.7 .4-.4 1-3 .9-1.3 .5 .3 .9 4.6 .5 .2 .4-.4 .5-.9 .5-1.8 .4 .7 .5 3.4 .4 1.4 .5-.1 .5 .7 .4-.1 .5-2.7 .5-1.4 .9 6.1 .5 1.6 .4-.1 1-4.8 .9 4.9 .5-.3 .9-4.8 .9 1.1 .5 .3 .4 1 .5 .2 .5-1.5 .4-.5 1 3.1 .4 2.8 .5 .7 .9-5.1 .5 .1 .4-.2 1.4-1.6 .5-.3 .9 4.7 .5-.6 .9-5.7 .5-.3 1.4 1.4 .9-1.6 .9 3.7 .5-1 .5-.1 .4 .9 1-2.1 .4 .1 1 3.9 .4-1.7 .5-3.3 .5-.2 .9 4.4 .9-3 .9 1.8 .5-.2 .5 .5 .4 1.6 .5-.4 .5-1.8 .4 .3 .5 1.5 .5 .5 .4-1.2 .9 .7 .5-.3 .5-1 .4-1.9 .5-.4 .5 1.1 .4 .2 1-2.4 1.8-1.2 .5-.1 .5 1.1 .9 4.6 .4 .8 .5-2 .5-.3 .4 2.8 .5 1.1 .9-4.4 1-6.7 .4 1.5 .3 6.5 .4 18.7 .3-3.6 .9-7.4 .4 2.7 1.4 4.5 .5-1.2 .9-6.7 .5 .6 .5 3.1 .4 1.4 .5-.5 .5 .2 .9-1.7 .5 1.7 .4 .6 .5-.6 .4 1 .5 3.8 .5 2.1 .9-2.5 .5-.7 .4-.2 1-1.8 .9-3.6 .9 2.6 .5-.8 .4-1.5 .5-.2 .5 1.4 .4 .7 1.9-5.3 .5 .4 .9 8.4 .5 .7 .4-1.7 .5-.6 .4-.1 1-4.3 .4-1.3 1.4 3.9 .5-.3 .5-2.3 .4 .5 .5 2.6 .9-1.4 1 5.3 .4 0 .5-.5 .9-2.4 .9 1.8 1-6.7 .4-.4 1 5.8 .9 3.5 .5 .1 .9-1.9 .4 .1 .5-.2 .5-.8 .9-3.2 .5-.7 .4 2 .5 .5 .9-2.3 .5-.5 .9 3.1 .5-.2 .5-.8 .9-3.1 .4 .4 1 4.1 .9-1.3 1.4-.1 .9 3.4 .5-.4 .9-2 1.9-8.1 .4 2.2 .5 4.3 .5 .6 .9-4.8 .5-.2 .4 .6 1.4 8.3 .9 1.1 1 2.7 .4-.3 1.4-10.5 .5 1.4 .5 3 .4 .4 .5-.4 .5 1.3 .4 .6 1-4.1 .4-.6 .9 .7 .5-1.1 .5-.4 .9 3 .5-.5 .4-1.8 .5 .1 .5 1.1 .4-.7 .5 .5 .5 1.4 .4-.7 .5 .2 .4 1.1 1-2 .9 2.1 .9-2.2 1 2.3 .4-.8 1-4.4 .4 .7 .5 2.6 .5-1 .4-1.7 .5-.5 .4 .8 .5 0 .5-3 .4-.2 .5 2.7 .5-.2 .4-1.1 .5-.5 .5 1 .9 3.5 .5 1 .4 .5 .5-.4 .9-3.9 .5 1.5 .4 3.1 .5-1.5 .5-3.7 .4 0 .5 1.3 .5 .3 .9-1.7 .9 .3 1-1.4 .9 4.3 .4 .9 .5-.5 .5-1.7 .4 .9 .5 1.9 .9-3 .5 0 .5-1 .4-2.9 .5-1.7 .5 1.1 .9 4 .4 1.2 .5-.4 .9-3.8 .5 1.3 .9 1.5 1 5 .4-.3 1-6.3 .4 .5 .9 5.6 .5 1.7 .5-.9 .4-1.6 .5 0 .5-.6 .9-4.4 .5-.6 .9 4.5 .9-3.2 .5 .7 .9 3.3 .9-.4 .5 .2 .9-3.8 1 2.6 .9-1.1 .9 5.5 .5-1.3 .5-4.4 .4-2.5 .5-.4 .4 .1 .5 .6 .9 2.7 .5-.2 .9-2.5 .5-2.3 .5-1.3 .4 .5 1 5.5 .4 1 1-3.3 2.3 5.3 .9-2 .5 .5 .9-.1 .9 .6 1.4 3.5 .5-.5 .4-1 1 .8 .4 .1 .5-.7 .9-4.5 .5 0 .9 4.6 .5-.1 .9-2.2 .5-.5 .4-.1 1 .8 .9 2.4 .5-1.4 .9-6.7 .5-1.1 .4-.4 .5 1 .9 5.4 .5 1.5 .5 .4 .4 1 .5 1.8 1.4-1.2 .4-1.4 .5 .1 .9 1.5 1-3.4 .4 1.1 .5 2.5 .5-.1 .9-2 .9-3.3 .5 .2 .9 2 .5-.1 .9 1.6 1.4-1.7 .5 .1 .4 1.1 .5-.2 .9-5 .5 2 .4 3.8 .5 .8 .9-6.9 1.4 8 .5-.8 .9-3.5 .5-.6 .5 2.3 .4 1.3 .5-1 .4 .1 .5 .9 .5 0 .4-.4 1-1.9 .9 2.7 1.4-2.6 .5-2.8 .4 .2 .9 8.9 .5 .2 .9-5.6 .5-.3 .5 .9 .4-.4 .5-1 .5-.3 .9 1.9 .9-3 .5 .3 .5 1 1.3 1.8 .5 0 .5-.5 .4 .1 .5 1.2 .5-.9 .4-2.1 .5 .2 .5 1.2 .4 .7 1-2.9 .9 2.5 .4-1 .5-2.8 .5-1.5 .4 1.6 .5 3.3 .5 1 .9-6.3 .5 .6 .9 5.1 .5-.8 .4-.2 .5 1.5 .5 .4 .4-1.4 .5 0 .4 1.4 1.4 1.9 .5-.8 .5-1.9 .4-.2 .5 1.6 .5-.3 .4-1.1 .5 .6 .5 2 .4-.6 .5-2 .9 3.9 .5-.9 .4-2.6 .5 .3 .5 1 .9-6 .9 3.1 .5 .5 .9 4.5 .5 .8 .5-1.5 .4-3.8 .5-2.1 .4 1 .5-.6 .5-1.4 .4 .6 .5 1.5 .5 .7 .9-4.4 .5 .8 .4 1.6 .5-.1 .5-1 .4-.4 .9-2 1.4 3.3 .5 2.4 .5-.1 .4-1.3 .5-.3 .5-.8 .9 2.3 .9 0 .5 1.1 .4-.6 1-4.6 .4-.7 .5 1 .5 1.7 .4 .8 .5-.7 .5-1.5 .4-.5 .5 .2 .9 1.5 1-2.1 .4-.1 .5 1.4 .9 4.4 .5 1.4 .4 .6 1.9-4.7 .5-.1 .4 .5 .5 .2 .9-.4 .5-.5 .9 3.6 .5-.7 .4-2.5 .5 .5 .5 1.8 .4-.9 .5-1.8 .5 1.6 .4 5.1 .5 1.4 .5-3 .4 0 .5 2.1 .5 .9 .4 .1 1.4-4.4 .5 1.2 .4 4.1 .5 1.5 1.4-7.1 .5-.6 .4-.2 .5 1.2 .5 .6 .9-2.9 .4-.3 1 3.5 .9-.7 .5 .7 .4 .1 .5 .6 .5-.6 .4-1.5 1 2.2 .4-.5 .5-1.1 .9-2.9 .5-.9 .4 1.7 .5 3.1 .5 1 .9-6.7 .5-1.5 .4 .8 1 5.3 .4 0 1-4.7 .4 1.1 .5 3.6 .4 .9 .5-1.4 .5 .8 .4 1.7 .5-.6 .5-.2 .4 1 .5-.7 .5-1.5 .9-1.1 .5 .4 1.3 2.4 .5-.9 .5-2.3 1.4-3.1 .4-.3 1 1.3" fill="none" stroke="#000" stroke-width="1.9" stroke-linejoin="round" />
<path d="M136.3 1592.1l.5-.1 .4-.7 1-2.3 .4 .3 .5 1 .5-.3 .9 .4 .4-.4 .5 .3 .9-1.1 .5 .8 .5 1.8 .4 .6 .5-1 .5-2 .9-1.1 .5-1.6 .4-.4 .5 .4 .9 2.2 .5 .5 .4 1.7 .5 .9 .5-1 .4-.1 .5 .2 .9-6.5 .5 1.1 .9 4.4 .5-.1 .5-.9 .4-.5 .5 .3 .4-.3 1-4.4 .4 .3 1.4 4 .5 .5 .5-1.6 .4-.8 1 2.5 .4-.2 .9-4.1 .5-.4 2.3 4.7 .5 .1 .5-1.3 .4-.7 .5 .4 .5-1.2 .4-.1 .9 3.9 1-3.1 .9 2.5 .5-.6 .4-1.8 .5-.4 .5 .3 .9-1.4 .5-.2 .9 3 .9 4.3 .9-1.8 .5-.1 .5-.5 .9 2.3 .5-.2 1.4-2.9 .4 .5 .5 .2 .5 .8 .4 2.6 .5 1.4 .9-4.4 .9 .8 .5-.7 .9 2.5 .5 .3 .5-1.1 .4-.3 .5 .4 .9-6.1 .5-1.5 .5-.3 .9 4 .4-.5 .5 .1 .5 .9 .9 4 .5-.9 .4-3.2 .5-1.1 .9-.6 .5 0 .5-1.7 .4-.4 .5 1.7 .4-.5 1 .8 .4-.8 1 1.1 .4-.2 1-3.7 .9 6.3 .5-.3 .4-.9 .5 .4 .9 2.8 .5 .5 .9-4.1 .9 8.4 .5-1.3 .5 .6 .4 1.6 .5 .6 1.9-7.4 .9 1.3 .9 .6 .5-.9 .9-3.7 .5-.6 .4-.3 .5 .3 .5-.6 .4-1.7 .5 .6 .5 2.7 .4 .4 1.4-4.2 .5-1 .4-.2 1 2.4 .9 5.1 .5-2.2 .4-3.9 .5-1.1 .5 .2 .4 .7 1 .1 .4 .2 1.4 2.1 .5-.9 .9-.8 .5-1.3 .4 .1 1-1.8 .9 3.2 .5 .2 .4-.5 .5 .2 .9 2.9 .9-2.8 .5-.5 .9 1.1 1-.3 .9-4.2 .5 1.6 .4 4 .5-.3 .5-3.7 .4-1.6 .5 .1 .9-1.8 .5-.4 .4-1.9 .5-.8 1.4 4.9 .5 .1 .4-.4 .5 .2 .5 .8 .4-1.2 .5-3 .4-.4 1 3.7 .9 .4 .5-.1 .9 2 .5 0 .4 .7 .5-.9 .5-3 .4-1.1 .5 1.1 .4 .4 .5-.7 .9 2.7 1 1.9 .9-1.4 .9 4.2 .5-.9 .9 .9 1-5.1 .4-1.1 .5 1 .9 4.7 .9-2 .5-.1 .5-1.4 .4-.1 .5 2.2 .5-.1 .4-2.5 .5-1 .9 2.3 .9-4.1 .5-.1 .5 .5 .4 1 1 3.8 .4 .1 .5-.2 .9-1.9 1 4.4 .4-1.8 .5-3.9 .5-1.5 .9 6.2 .4 1.4 .5-1.1 .9-4.2 .5-.5 .5-.9 .4 1.1 .5 2 .9-2.5 1.4 4.8 .5-.3 .4-.9 1-3.2 .4-.5 .5 1.4 .5 0 .4-2.1 .5-.8 .9 2.4 .5 1.8 .5 .8 .4-.8 .5 1.3 .4 2.8 .5 .3 .9-5.9 .5 1.7 .5 3.3 .4 1.3 1-4.5 .4-.2 .5-.7 .9-2.4 1 1.6 1.3-8.1 .5 1.2 .9 7.2 .5-.1 .5-1 .4 .7 1-2.7 .4 .5 1 2 .4 .3 1.4-4.4 .5-.1 1.4 .5 .9-.3 .5 .7 .9 4 .5-1 .4-2 1 3.8 .4-.5 .5-2.4 .4-1.1 1 1.6 .4-1 1-3.6 .4 1.4 .5 3.6 .5 1.9 .9-3.3 .9-2.2 .5-.1 .4 .5 .5 .2 .5 1.3 .4 2.3 .5 1 .9-3.3 .5-.4 .9 2 .5-.7 .9-4.7 .9-2.7 .5 1.2 .9 9.1 .5 2.7 .5-.7 .4-2.5 .5-.6 .5 1.6 .9-3.2 .9 1.6 1-1.9 .9 .1 .9 1.2 .5-2.1 .4-.8 .5 .5 .5-.5 .4 .3 .5 1.5 .5-.9 .4-1.8 .5 .4 .5 1.7 .4 .3 .5-.9 .4 .1 1 2.7 .4 .5 .5-.1 .9-3.8 .5-1.4 .5-.4 .4 .5 1 4.8 .9-3.1 .5 .1 .4-1.5 .5-4.2 .4-2.1 .5 3 .5 5.5 .4 2.8 .5-1.3 1.4-7.5 .5 .6 .4 2.3 1 0 .9 4.8 .9-2.8 .9 1.1 .5 1 .5-.5 .9-5.8 .5 .9 .4 2.5 .5 .8 .5 0 .4 .7 .5 .2 .9-1.4 .5 .8 1.4 4.7 .4-.7 .5-2.5 .5-.5 .4 2.8 .5 .7 .5-2.2 .4 .5 .5 2.3 .5-.6 1.3-4.2 .5-.1 .5 .2 .4-.5 1.9 3.1 .9-1.6 .5 1.2 .5 .6 .9 .3 .4-.1 1-2.6 .9 1.5 .5-.3 .4 .2 .5 1.1 .5-1 .4-2.1 .5-.2 .9 3.5 .5-.2 .5-1.9 .9 .4 .4-.3 1 1.2 .4-.5 1.4 1.4 .5 .1 .9-.9 .5-1.5 .5-.1 .4 .9 .5 .1 .9-4.6 .5 1.4 .4 2.8 .5 .1 1.4-3.8 .5 .3 .9 5 .5 .3 .9-5.1 .5-.7 .4 .4 .5 1.8 .4 3.4 .5 1.9 .5 .8 .4 0 1-4.5 .9-3.4 .5 .3 .4 1.9 .5 .9 .5-.3 .4-.7 .5-1.5 .4-.9 .5 .5 .5 0 .4 .8 1 3.9 .4 .5 .5-.5 .5-.1 .9-3.8 .5 .4 .4 2.6 .5 .9 .4-.8 .5 .6 .5 1.5 .4 .4 .5-1.2 .5-.1 .9-2.5 .5 .4 .4-.5 .5-.1 1.4 4.3 .5-.3 .9-6.5 .4-1.1 1.4 3.7 1 3.7 1.8-7.9 .5-.6 .5 .4 .9 3.6 .9-4.4 .9 3.6 .5 .1 .9 1.3 .5 0 .9-1 1 2.5 .9-2.9 1.4 3.7 .4-.7 .5-3 .5-1.6 .4-.5 .5 1.3 .5 2.9 .4 1.4 .5-.2 .9-2.5 .3 2 .4 9.3 .3-1.4 0 .6 .4-1.4 .5-2.4 .4-.1 .5 .5 .5-.5 .4 .1 .5 .6 .9-.3 .5 .3 .5-.5 .4-1.5 .5 .5 .5 2.6 .4 1.3 .5 .8 .5 .2 .4-.2 .5-.9 .4-1.9 .5-.6 1.4 1.3 .9-.3 1-1 1.8-3.4 .5 .7 .4 1.5 1 5.4 .4 0 .5-2.1 .5-.6 .4 .1 2.4-3.8 1.3 1.2 .5-1.2 .5-.4 .4 1.4 1 5.9 .4 .7 1-3.3 .4-1.1 1-.3 .9 5 .9-2 .5 .3 .9-3.2 .5-.3 .4 1.1 .5 .4 .5-.4 .9-1.8 .5 1.1 .4 2.1 .5 .9 .5-1.2 .4-.3 .5 1.1 .4-1.5 .5-3.3 .5-1.8 .4 .6 .5 1.3 .5 .4 .4-.1 .5 1.4 .9 5 .5-1.1 .5-2.6 .4-1 .5 .7 .9 .6 .9 2 .5-1.1 .5-2 .4 .3 1 7.4 .4 1.4 .5-.2 1.4-7.1 .5-.4 .4 1.2 .5 .2 .4-.5 1 3 1.4-3.2 .4-2.4 .5-.3 .5 .3 .4-.5 .5 .8 .9 5.3 .5 .2 .9-3.6 .5-.2 1.4 1.3 .4-1 .5 .6 .5 2 .4-.7 .5-4.2 .5-2 .4 1.5 .5 .6 .5-1.8 .4-1 1.4 9.3 .5-.6 .9-6 .5-1.4 .4-.2 .5-.9 .5-1.8 .4-.4 .5 1.6 .9 1.4 .5 2 1.4 2.7 .4-.1 1-4.7 .4-1.3 1 3.2 .4 .4 1-3.9 .9 3.7 .5 .2 .9-3.7 .4 .6 .5 2.2 .5 .3 .4-1.4 1 .5 .4-.2 1 2 .4-.7 .5 1.5 .5 2.9 .4 .2 .5-.2 .4 .4 1-3.3 .4-.8 .5 .6 .5-1 .4-3.4 .5-.3 1.4 5.9 .5 1.2 .9-3.3 .9-2 .5 1.3 .4 3.4 .5 1.6 1.4-4 1.4-1.6 .5-.1 .4 .4 .5 1.1 .5 .3 .4-.9 .5-1.5 .4-.4 .5 .7 .5 .2 .4-.3 .5 1.2 .5 3.2 .4 .8 1-6.3 .4 .2 1 1.2 .9 4.3 .4-1.6 .5-3.1 .5-.5 .9 4.3 .5-.9 .4-1.9 1.4-2.3 .5 .3 .9 5.1 1 3.5 .4 .8 .5-.1 .4 .5 .5-1.2 .5-2.8 .4-.7 .5 .3 .5-.5 .4 .1 .5 1.6 .5-1.6 .4-4.6 .5-.2 .5 3.5 .4 1.8 .5-.2 .9 2 1.4-2.5 .5-1.4 .4-.1 .5 1.7 .5 .4 .9-4.6 .5 .8 .9 5.1 .5-1.9 .4-.3 .5 1.4 .9-5.6 .9 3.8 .5 .3 .9 2.4 1 .4 .9-3.7 .5 .5 .9-3.3 .4 1.2 .5 .6 .5 .5 .4 0 1-4.2 .4 .1 1 5.5 .4 .4 1-5.2 .4-1.5 .5-.6 .4 .5 1 4.2 .4 .2 .5-.2 .5-1.8 .4-.5 .5 1.6 .5 0 .9-1.2 .5-.3 .4 2.1 .5 .6 .5-2.3 .4-.5 .9 6.4 .5-.3 .9-2 .5-2.2 .5 .6 .4 3.1 .5 1.1 .5-1.4 .4 .1 .5 2.4 .5-.3 .4-2.2 .5-.8 .4 .1 .5-.3 .5 .5 .4-.1 .5-1.2 .9 2.7 1-2.1 .9-.8 .5 .7 .9 4.6 .5-.3 .4-.7 .5-1.4 .4-.2 .5 .2 1.4-7.4 .5 .6 .4 2.2 1.4 .3 .5-.2 .5 .1 .4 .8 .5 1.9 .4 .7 .5-.2 .9-1.2 1 1.2 .9-.8 .9-3.9 1-1.7 .4 .7 .5 .3 .9 1.9 .5-.4 .9 2.1 .9-.4 1 .9 .4-.2 1 1.4 .4-.8 .5-1.8 .5 0 .4 .6 .9-1.3 .5 .3 .9 2 1 3.5 .4 1 1-4.1 .4-.3 .5-1 .5-.5 .9 2 .4-.1 1-5.5 .4-.7 1 4.2 .4 1 .5-.4 .5 1.9 .4 .9 .5-3 .5-1.7 .4 1.1 .5-.3 .9-3.4 .5 .3 .4 .7 1.4-3.7 .5 .5 .9 3.6 .5-.1 .5-.7 .4 1.1 .5-.1 .5-.5 .4 .8 .5-.4 .9-5.6 .5-.2 .9 6.3 .9 2 .5 .1 .9 2.2 1-4.2 .4-1 .5 .3 .5 1.4 .9 4.3 .4-.5 1.4-4.5 1 1.9 .4-.1 1 1.4 .9-3.8 .5-.5 .4 .9 .9 4 .5 .1 .5-.4 .4 1.1 .5-.6 .9-3 .5 .3 .5 1.4 .4-.4 1-5.6 .4-1 .9 4.1 1 1.1 .9 2.4 .5-.4 .4-1.6 .5 .9 .5 3 .4 1.4 .5 .1 1.4-2.9 .5-3 .4-.9 .9 3.3 .5 .3 .9 2.2 1-2.7 .9 2.7 .5-.4 .9-2.8 .5-.5 .4 0 .5 1.2 .9 5.1 .5-1.2 .4-.2 .5 .7 .9-1.6 .5 1 .5 2.2 .4 1.2 1-4.9 .9-1.4 .5-1.4 .4-.2 .5 .6 .4 .2 1.9 3.7 .5-1.4 .4-.8 .5 .5 .5-.8 .4 .2 1 3.2 .9-2 .4 .5 1-1.1 .4-.2 1-2.1 .4 .3 .5 1.2 .9 3.5 1-4.8 .4-.2 .5 .4 .9-3.1 .9 3.2 .5 .5 .5-1.4 .4-2.7 .5-.5 1.9 5.1 .4 .8 1-7 .4-.3 .9 3.9 .5 .9 .9-1.1 .5 .3 .9 3.6 .5-.3 .5-1.9 .4 .3 .5 3 .5 .4 .9-3.4 .4 .1 .5-.1 .9-7.5 .5-1.7 .5-.2 1.4 5.9" fill="none" stroke="#000" stroke-width="1.9" stroke-linejoin="round" />
<path d="M136.3 1591l.5-.3 .4-1.1 .5 .7 .5 2 .4-1.1 .5-2.2 .9 1.5 .5-.7 .9 1.8 .5-1 .4-.2 .5 .8 .9-1.7 .5-.2 .5 .2 .9 1.7 .9 .1 1.4-6.5 .5-.3 .9 8.2 .5 .4 .4-3.9 .5-1.5 .5 1.5 1.4 2.8 .4-.9 .5-2.5 .5-1.3 .4 1 .5 .3 .4-.4 .5 2.2 .5 1.3 .9-3.8 .5-1.1 .4-.4 .5 .2 .5-.4 .4 .1 1 2.9 .4-.3 .5-1.6 .4 .3 .5 1 .5 0 .4 .4 .5-.4 .5-1 1.8-.2 .5 .5 .9 2.6 .5 0 .9-.4 .5-1.7 .9-1.6 .5-2.7 .4 .7 .5 2.4 .5-.9 .4-2.5 .5-.4 .5 .5 .4 1.5 .5 .1 .9-4.2 .5 .9 .4 2.7 1 2.8 .4 0 .5-1.3 .5-.4 .4 .8 1 6.3 .4 1.1 1.4-8 .5 .3 .4-.8 .5-2.9 .5-.3 .9 5 .5 .8 .4-.5 1 .1 .4 1 .5 .5 .5-1.4 .4 1 .5 3.6 .5 1.1 .9-1.5 .9-4.9 .9 1.9 .5-1.4 .5-.5 .9 2.1 .5-.5 .4-1.2 .5 .3 .9 1.9 .5-1.3 .4 .1 1 3.3 .4 .6 1-3.4 .9-1.8 .5-.1 .4 1.3 1-.5 .4 1 .9 .6 1 5.8 .4-.6 .5-5.9 1.4 2.4 .5 1.8 .4 .9 .5-.2 .5-.6 .9-3.1 .5 .7 .4-.7 .5-2.6 .4-.8 .5 .3 .9-1.2 1.4-.4 .5 .5 .5-.3 .4 .5 .5 2 .5 .5 .9-7.1 .4-.9 1.4 4.2 .5-.4 .5-1.1 .9-3.3 .5-.9 .9 3.6 .5-.8 1.4-6.1 .4-.6 1.4 3.5 .5-.3 .9 1.2 .9-.3 .5 .7 .9 2.3 1 4.5 .4 0 .5-2 .4-.9 .5 .8 .9 .5 1 2.9 .4-1 .5-3 .5-1.2 .9 4.5 .5 .7 .9-5.3 .5-1.6 .9 3.5 .4-1.9 .5-1 .9 5.9 .5 .1 .5-1.7 .9-6 .5 1.4 .4 2.8 .5 .6 .5 0 .4 1.2 .5-.3 .4-2.3 .5-.1 .5 2.5 .4 .4 .5-1.3 .5-.5 .9 .7 .9-2.3 1 7.8 .4-.3 .5-3.4 .4-1.1 .5 .4 .9-3.1 1 2 .4-1.7 .5-.9 .5 .8 .4 .1 .5-1 .5 .6 .4 3 .5 1.4 .5-1.6 .9-6.6 .4 1.4 .5 4.1 .5 1.3 .4-.6 1.4 5.3 .5 .9 1.4-5.2 .5-.2 .9 1.2 .4-2.4 .5-4.4 .5-1.8 1.4 2.9 .9 .8 .5 1.5 .4 .6 .5 .3 .5-.6 .4-1.6 .5 1.1 .9 4.3 .5-1 .9-5.8 .5 .2 .9 4.2 .5 .7 .9-4.1 .5-.9 1.8 3.9 .5 1.4 .9-2.3 .5-.6 .9 2.2 .9-4.4 .5-1.1 .5 1 .4 2.8 .5 1 .5 0 .4 .4 .5-.6 .9-3.4 .5 .1 .4 2.3 .5 1.1 .5-.1 .9 1.3 .5-.2 .9-2.3 .5 .1 .9-1.5 .9 4.7 .5-.2 .9-3.1 .5 1 .9 5.2 .9-.8 .5 .3 .5-.8 .4-1.7 1-1.5 1.3-3.3 .5 0 .9 2.1 .5 .6 .5 .2 .4 1.1 .5 0 .5-1.4 .9 .3 .5 1.1 .4-.3 1-5.3 .4 .3 .5-.7 .4 .7 .5 2.8 .5 .6 .9-4.2 .5 .4 .4 2.2 .5 .5 .5-.5 .4 .9 .5 0 1.4-2.2 .4 .5 .5 2.6 .5 1.4 .4-.3 .5 0 .9-.5 1 2.1 1.4-2.3 .4 .6 .9-.1 1.4 .6 1-2.2 .4 .2 1 6.4 .4-.3 1-6.8 .4-1.3 .5-.2 .5 .1 .4 .4 .9-.2 1 5.3 .4 .5 .5-.6 .5-1.3 .4-4 .5-.9 .5 2.6 .4-.1 .5-2 .5-.2 .4 2.3 .5 1 .4-.6 .5-.2 .9 2.3 1 .9 .4 .7 .5-.5 .9-6.1 .5-1.7 1.4 6 .5-1 .4-2.2 .9-1 .5-.9 .5 1.3 .9 5.2 .9-2.1 1 5.9 .4-.4 .5 .2 .5-.5 .4-2.2 .5 0 .9 3.4 .9-5 .5 .9 .5 .3 .4-.5 .5 .5 .5 1.7 .4 .6 1-8.4 .4 0 .5 1.9 .5 .5 .4-.7 .5 1.5 .4 3 .5 .4 .9-4.1 1 3.1 .4-1.4 .5-.7 .5 1.6 .4 .8 1-1.8 .9-.7 .9 1.3 .9-7.9 .5 .3 .5 2.8 .4 .5 .5-.2 .5 .5 1.4 2.9 .4-.6 .5 .2 .9 5.3 .9-2.6 .5-.4 .9-2.6 .5-.2 .5 1.8 .4-.3 .5-2.3 .5 .2 .4 .9 .5-.9 .5-1.7 .9-1.2 .4 1.5 .5 2.9 .5 1 .9-3.3 .5 0 .4 .8 .5-.5 .5 .7 .9 .5 .5 1.1 .4-.7 .5-2 .4-.6 .5 .5 .5 1.2 .4-.1 .5-1.5 .5-.7 .9-.4 .9 1.2 .5-1.5 .5-.1 .4 .7 .5-.3 .9 2.3 .5 .3 .9-1.2 .5 1 .4 1.9 .5 .8 1.4-.7 .5-.5 .9-1.9 .5 .1 .9 3.3 .4-.2 .5-2.1 .5-1 .4 .8 .5-.1 .9-.8 1 2.1 1.4 .3 .9 1.4 .9-1.3 .9 1.3 1-6.3 .9 .9 .5-.2 .9 5 .5 0 .9-4.9 .9 1.3 .5-1.5 .4-.7 .5 2.1 .5 .8 .9-2.5 .5-.4 .4-.8 .5 0 .5 .5 .4 .1 .5 1.1 .5 2 .4 .8 .9-5.6 .5-.2 .5 1.6 1.4 3.5 .4-1.7 .5 .1 .9 7.1 1-3.9 .4-.5 .5 .3 .5 .1 .9-3 .9 .7 .5-1 .4-.5 .5 .7 .5 2 .4 .7 .5-1.1 .5 .5 .4 1 .3-.4 .4 8.9 .5-2.8 .2-.2 .5 1.1 .9-2.4 .5-.3 .9-.2 .5-1 .9 1.6 1.4-4.2 .5-.8 .4-.2 .5 .7 .5-.1 .4 .2 .5 2.6 .4 4.9 .5 1.3 .5-1.7 .4-.3 1 2.2 .9 .4 .5-.7 .4-2.8 .5-1.5 .5 1 .4-.2 .5-2.1 .4 .2 .5 1.1 .5-.3 .4 .6 1.4 3.5 1-3.3 .9 2.8 .9-2.8 .9-1.6 .5-.1 .5 .2 .4-.5 .5-2 .5-.9 .9 4.8 .5-.4 .4-2 .5-.7 .5 .3 .9 1.9 .5-.8 .4-1.5 .9-1.7 .5 1.1 .5 2.5 .4 1 .5-2.9 .5-1.4 .4 4.2 .5 2.3 .9-4.9 .5-.5 .5 1.8 .4 .8 .9 4 .5 .6 .9 .2 .5-1.6 .9-5.8 .5 .1 .5 2.9 .4 .7 .5-1.5 .5-.5 .4 1.7 .5 .9 .5-.3 .9-1.3 .9-2.9 .5-.6 .4-1.4 .5-2.9 .5-.6 .9 6.6 .5 .5 .4-.8 .5 2.1 .5 .6 .9-3.5 .4 .8 .5 1.8 .5 .9 .4 .4 .5-.6 .5-.1 .4 .3 1-1.1 .4 2.1 .5 1 .5-1.1 1.8-2.7 .9 2.9 .5 0 1.9-5.1 .9 2.4 .5 2.2 .4 .6 .5-2.2 .5-1.1 .9 5.2 .4 .6 .5-1.8 .9 1.2 1-5 .4-1.3 .5-.6 .5 1.1 .9 5.3 .5-.5 .4-3 .5-.7 .4 1 1-2.2 .9 3.6 .5 .8 1.8-5.3 .5 .5 .5 2.7 .4 1 1-1.6 .4 .8 .5 .4 .4-1.4 .5-.6 .5 1.8 .4 .3 .5-1.8 .5-.2 .9 4 .9 .8 .5-.6 .5-3.4 .4-1.3 .5 2.6 .4 .3 1.4-2.6 .5-.1 .9 2 .5-.8 .9-3 1.4 3.7 .5 3 .5 .4 .4-1 .5 .3 .9 2.6 .5-.1 .9-2.9 .5 1 .4 .5 1-2.4 .9 1.8 .5-.7 .4-.1 .5 .4 .4-.2 .5 .4 .9 .1 1 3.1 .4-1.1 .5-2 .9 .2 1-4.1 .4 .7 .5 1.9 .4-.2 .5-1.2 .9-1.1 1 2.5 .4 .1 .5-.8 .9-2.8 .5 .4 .5 2.7 .4 1.5 1.9-6.4 .9 4.6 .5-.4 .9 1 .5-.2 .9 3.3 .9-5 .5 .4 .5 1.3 .4-.4 .5-1.9 .4-1 .5 .9 .5-.4 .4 0 .5 1 .5-2 .4-3.8 .5 .5 .5 3.2 .4 .4 .5-2.1 .5 .5 .4 3.9 .5 2.1 1.8-4 .5 .7 .5 .2 .4-.8 1-4.2 .4-.3 .5 2.7 .5 .8 .4-.8 .5 0 .9 2.7 .9 .6 .5-.4 .5 .8 .4 2.1 .5-1.3 .5-3.7 .4-1.4 .5 .9 .9 5.9 .5-1 .5-2.3 .9 2.6 .4-1 1-4.9 .4-.1 .5 1.4 .5 2.5 .4 1 1-1.6 .9 5 .5-.1 .4-2.7 .5-.8 .5 .5 .4-1.8 .5-3.1 .4-.9 1.4 1 .5-1.3 .5-.2 .4 .6 1-2.2 1.8 5.7 .5 2.8 .4 1.5 1-4.2 .4-.2 .5 .5 .5-.2 .4 .1 1 3.7 .4-.9 .5-2.3 .5-.9 .9 .7 .9-.6 .9 .7 1 2.9 .9-4 .5-1 .9 .7 .5-1.5 .4-.4 1-.4 .4-.7 .5 .9 .4 2.4 .5 1.2 .5 .4 .4-.6 .5-1.3 .9-3.5 .5-.3 .5 2 .4 4.8 .5 1.1 .5-2.3 .4-.5 .9 .6 1.4-2.6 1-4.1 .4 .1 1 9.2 .4 .2 .5-1 .5 .4 1.4 4.2 .9-2.3 .9 1.7 .5 .4 1.4-3.4 .4 .9 1.4 4.6 .5-.4 1.4-3.6 .4-1.9 1-.3 .9-3.6 .5-.1 1.4 4.6 .4-.7 1-3.6 .4 .8 1 4.6 .4 1.4 .5-.6 .9-6.7 .9-2.8 .5-.4 .5 1.9 .9 6.1 .5-.1 .9-6.3 .5 .9 .9 5 .9 2 .5 .5 .4-2.5 .5-4.4 .5-1.6 .4-.5 .5-2.4 .5 .2 .4 3.5 .5 1.9 .5-1 .4-.2 .5 1.4 .5 .4 .9-3 .9 1.8 .5-.5 .4 0 .5-1 .5 .6 .9 3.2 .5-.3 .4 .3 1 1.7 .4-.7 .5-1.4 .4-.1 .5 1.2 .9-.5 .5 1.4 .5-1.2 .4-3 .5-.9 .5 .4 .9-.5 .5-1.5 .4 .3 .9 5.3 .5 .5 .5 0 .4-.6 .5-1.3 .5 .2 .4 .8 .5-.1 .9-5.4 .5-.7 .5 2.1 .9 6.7 .5-.1 .9-3.3 1.8-2.7 .5-.4 .9 2.4 .5-.4 .9-4.7 .5 1.5 .5 3.8 .4 1.9 .9-2 1 .8 .9 1.9 .5 .1 .9-3.8 .5 .6 .4 3 .5 .4 .9-2.6 1 1.6 .9-5.8 .9-.7 .5 .3 .9 4.9 .5 .8 .4 2.1 .5 3 .9 2.4 .5-.4 1.4-9.2 .4-.4 1.9 5.1 .9-2.2 1 2.7 .9-2.3 .5 .1 .4 1.3 .5 .7 .4-1.2 .5-.4 .5 .7 .4-1.8 .5-4.8 .5-.7 .9 6.3 .5 1.1 .9-2.3 .5 1 .9-1.2 .5 2 .4-.2 .5-1.3 .4 0 1 2.7 .4 .7 1.4-4.8 .5-.7 .5-.2 .4-1 .5 1.3 .5 3 .4 1 .9-1.8 .5 1 .5 .2 .9-2.7 .5-.3 .4 .3 .5-1.1 .5-.4" fill="none" stroke="#000" stroke-width="1.9" stroke-linejoin="round" />
<path d="M136.3 1595.1l.5-1.9 .4 .1 .5 .7 .5-.6 .4 .2 .5 1.5 .5-.1 .9-4.1 .9 7.9 .5 2.5 .4-1.7 1-9.7 .4-2.7 1 1.4 .4-.5 .5 .6 .9 1.9 .9-1 .5-.1 .5 .5 .4-.7 .5 .3 .9 4.2 1-2.2 .4-.6 1-2.5 .4-.5 1-5 .4 0 .5 2.2 .4 1.2 1-1.6 .4 .7 1 2.5 .4-.2 .5-.9 .5 1 .4 2.2 .5 .5 .9-2.2 .5-.5 .4-.1 1-3.8 .4 1.7 .5 4.1 .5 1 .4-1 1 3 .9-5.5 .5 .8 .4 3.2 .5 1.6 1.8-2.8 .5-.2 .5 .5 .9 2.7 .9-1.8 .5 .1 .5 .8 .4-.9 .5-3 .5-1.7 .4 0 .9 .6 .5 0 1.4 1 .5 .9 .4-.2 1-3.6 .4 .7 .5-.8 .5-2.2 .4-.9 .5-.5 .9 2.8 .5-.7 .4 1.5 .5 3.9 .5 1.1 .4-1.7 1-.6 .4-1.1 .5 0 .9 4.9 .5 0 .5-2.1 .4-.9 .9 4.6 .5-1 .5-2.4 .9 2.5 .9-2.4 .5 1.2 .5 3.3 .4 1.4 1-3.5 1.8-3.9 .5 1.5 .4 .6 .5-1.1 .5 1.1 .4 2.2 .5 .3 .5 1.2 .4 2.2 .5-2 .5-4.1 .4-1.4 .9 3.9 .5 .5 .5-.4 .4-.9 .5-3.1 .9-95.5 .5 35.3 .5 62 .9-1.3 .9-5.8 1 3.8 .9-2.3 .4 .5 1.4 .4 1-3.5 .4-.4 .5 .2 .5 .9 .9 2.6 .5 0 .4-1.1 .5-2.3 .4 .1 .5 2 .9-1.4 .5 1.7 .5 .2 .4 0 1.4 2.6 .5-.5 .5-2.8 .4-1.2 1 5 .9 .6 .4 .9 .5 .1 .5-1.4 .4-.2 1 2.5 .4-1.8 1-5.9 .9 5.9 .9-1.4 .9 1.1 .5-.8 .5 0 .9 3.1 .5-.9 .9-1 .5 .4 .4 1.1 .5 0 1.4-1.1 1.4-3 1.4 3.8 .4-.1 .5 .5 .5 0 .9-6.8 .5-1 .9 4.3 .5 .9 .4-1.6 .9-5.8 .5 .3 1.4 3.3 .9 .9 1 5.8 .4-.3 1-4.7 1.3-3.2 1 2.8 .4 .3 .5-.5 .9-5.3 .5 .3 .5 .9 .4-2.2 .5-1 .9 4.9 .5 .1 .9 2.8 .9 2.1 .5-.7 1.4-5.2 .5-.9 .4 1.6 .5-.2 .5-.5 .9 3.2 .5 0 .4-1.3 .5-.4 .9 3.2 .5-.7 .9-2.7 .5-.6 .9-.4 .5-.9 .4-.3 1 3.7 .4 .8 .5-.3 .9-2 .5-.3 .4 .1 .5-1 .5 .3 .9 3.8 .5 0 .4-.5 1 .5 .4-.7 1-.6 .9-2.1 .4 1.2 .5 .6 .5-1.2 .4 .1 .5 .4 .9 0 1 1.5 .4-1.4 .5-3.3 .5-.4 .9 5 .9-1.6 .5 1.5 .4 .6 1.4-5.5 1 1.4 .4 .4 1 2.5 .4 .6 .5 1.7 .5 .6 .9-3.2 .4 1.5 .5 .5 .5-2.8 .4-1.4 .5 .6 .5 1.5 .4 2.6 .5 .5 .5-1.9 .4-.6 1 2.1 .9-2.3 .4 1.2 .5 0 1.9-5.9 .4 .3 1.4 6.1 .5 .2 .5-2.2 .4-1.2 .5 .1 .5-1 .4 1.2 .9 5.6 .5-.3 .5-1.1 .4-.1 1-1 .4 .5 .5 0 .5 .3 .4 1.8 .5-.6 .5-2.9 .4-.7 .9 .8 1-3.3 .4 1.4 .5 3.2 .5 1.3 1.4-.8 .4 .4 .5-1.3 .5-2.5 .4 .8 .5 1.8 .9-.4 .5-.4 .4 .3 .5 .7 .5-.3 .4 .2 .5-.1 .5 .2 .9 2 .5 0 .4-1.4 .5-2.7 .5-.9 .4 .3 .5-.3 .4 .1 .5 1 .5-.6 .4-1.2 .5 .8 .5 1.4 .4 .5 1-3.8 .4 1.8 .5-.1 .5-2.1 .4-.1 .5 .4 .4-.9 1 5.1 .9-4.5 .9 3.6 .5-1 .9-5.8 1-.1 .4-.8 1 8.6 .4 1 .9-5.6 .5 .8 .9 3.3 .5-.1 .9-2.4 .5 .6 .5 0 .4-.8 1-.2 .4 .1 .5 .6 .4 .1 .5-1 .5 1.1 .9 5.1 .5 .6 .4-.4 1-1.9 .9 1.2 .5-.8 .4-2 .5-.7 .9-.5 .9 1.6 1-2.3 .9 1.4 .9-2.7 1.4 4.4 .5-.2 .5-1.6 .4-.1 .9 2.7 .5-.3 .5-1.3 .4 .5 .5-.3 .5-2.5 .4-.8 1 3.1 .9-4 .9 .2 .5-1.6 .4-.1 1 4 .4 1.1 .5 0 .9 .5 1-1.9 .4 .5 1 .6 .9 2.6 1.4-5.3 .4-.6 1 2.2 .4-.1 .5-.6 .9-5.6 .5 1.2 .5 4.2 .4 .9 .5-1.1 .9 2.4 .5-.5 .4-2.4 .5-.4 .5 .7 .4 .1 1-1.1 .4-1.2 .5-.3 .5 1.1 .4 .3 .5-.4 .9 3.2 1.4 .1 .9-3.6 .5 1.2 .5 3 .4 .2 .5-2.3 .5-.1 .4 3.8 .5 2.2 .9-1.3 1-3.9 .9 1.5 .9-5.4 .5 .8 1.4 10.9 .4-1.1 .5-2.7 .9-3.1 .5-3 .5-1.5 .9-1.6 .4 1.4 .5 4 .5 1.9 1.4 1 .4-.1 .5-2.3 .5-.6 .4 1.9 .5-.3 .5-1.3 1.4-1.6 .4 .3 .5 1 .4 .1 .5-1 .5-2 .4 .1 .5 3 .5 1.5 1.4-3.2 .9 4.2 .5 0 .9-4.6 .9 4.2 2.3-7.2 1.9 8.6 .5-.6 .9-3.9 .5-.3 .9 .9 .4 1.4 .5 .1 .5-1.1 .9-1.3 .9 2.7 1-4.5 .4 1.1 .3 2.7 .4 10.1 .3-3.2 .2-1.2 .7 3.4 .9-4 .5-.1 .9 2.3 .9 3.8 .5 .7 .9-4.2 .5 0 .5-1.2 .4-2.4 .5-1 .5-.5 .4-.1 .9 1.3 .5 0 .5 1 .4 .3 1-1.4 .4 .5 1 2 1.4-.7 .4 .3 .5 .8 .4 1.9 .5-.5 .5-3.9 .4-1.2 .5 1 .5-1.3 .4-.5 .5 1.7 .5 .3 .4-.6 1-.2 .9-3.7 .4 1.4 .5 4.7 .5 1.9 1.4-3.6 .9-3.2 .9 3.2 .5-.2 .5-.8 1.4-.3 .9 .3 .9 1.6 .5 1.4 .4 .2 1.9-5.3 .9 4.8 .5 .4 .5 1.1 .4 2 .5 1.1 .4-1.2 .5 .1 .5-.2 .4-1.6 .5-.7 .9-.2 .5-1.1 .5-.5 .4-.2 .5-1.8 .5-.1 .4 2.2 .5 .3 .5-.2 .4 1.2 .9-1 .5 .8 .5-.3 .4-.9 1 2.3 .9-3.8 1.9 5.7 .4-.6 .5-2.1 .4-.9 .5 .5 .5 1.4 .4-.3 .5-2.8 .5-.9 .9 4 .5 0 .4-.3 .5-.1 .9 2 .9-3.8 1 2.2 .4-.8 1.4-4.2 .5-.3 .5 .9 .9 4.1 .5 0 .4-2.2 .5-.4 .5 .4 .4 0 .9 2.6 .5-.1 .9-.5 1-2.9 .4 1 .5 .4 .9-5.3 .5-.4 .9 4 .5 .2 .4-.1 .5 .1 .5 1.1 .4 .1 .5-1 .9 1.6 1-.3 .9-2.5 .9 2.8 1-4.9 .4 .3 .9 4 .5-.3 .9-3.2 .5 .8 .5 2.7 .9-3.6 .9 1.9 .5-.2 .9-4.6 .5 1.8 .4 4.2 .5-1 .5-3.9 .4-.4 .5 1.6 .5-.6 .9-.8 .5-.9 .4 1.7 1 5.3 .4-.8 1-3.4 .4-.8 .5 .6 .4 1.4 .5-.8 .5-1.7 .4-.9 .5 .2 .5 .9 .9 4 .9-5.6 1.4 4.5 .5 2.1 .4 .2 .5-2.3 .5-1 .9-.2 .5-.8 .4-2.6 .5-.4 .9 6.2 .5 .3 .5-1.7 .4-.5 .9 4.1 .5 .9 .9-3.2 .5-.1 .9-2.1 .5 2.1 .5 .6 .4 .2 .5 1.3 .5 0 .4-.5 1.4 2.8 .5 .1 .4-1 .5 .2 .5 2.5 .4-1 .5-2.1 .5 .4 .4-1.2 .5-3.2 .5-1.2 .9 6.4 .5 2.3 .4 1 1.4-4.1 .9 2.8 1-4.1 .4-.5 .5-.2 1.4 .9 .5 1.5 .4 .3 .5-1.7 .5 0 .4 .7 .5-.5 .4-1.2 .5 .2 .5 1.3 .9-1.7 .5 .7 1.8-1.3 .5 1 .9-3.1 .9 3.8 1-6 .4-1 1 4.1 .4 .6 .5 0 .9 2.4 .5-.1 .5-1.7 .4-.2 .5 1.1 .4-.7 .5-2 .5 .6 .4 3.2 .5 1 .5-.8 .4 .1 .5-.4 .5-.9 .4 1.1 .5 2.1 .5-1.9 .4-4.2 .5-1.2 .9 2.2 .5 0 .4 .4 .5 .8 .9-.9 1-1.6 .4 .9 1 4.3 .4 .6 1-5.1 .4-1.3 .5 .9 .4 .4 1-2.9 .4 .6 1 4.8 .9-1.3 .5 1.7 .4 .9 1-.9 .4-1.2 .5-2.1 .5-.2 .4 2.9 .5 .7 .4-1.1 1-.6 .4 1.6 .5 .8 .9-2.9 1 2.2 .4-.2 .5 .8 .5 .1 .9-5.2 .9 3.3 .5-.9 .4-.4 1 1.3 .4 .1 .5-.8 .5 .3 .4-.5 .5-3.5 .5-1.6 .4 2.1 .5 .9 .4-.8 .5 .7 .9 6.1 .5 1.4 1.4-7.7 .5 .3 .4-.3 .5-1.1 .5 .5 .4 1 .5-.2 .5-1 .4-.3 .5 .8 .4 2 .5 .3 .5-1.7 .4-.5 .5 .9 .9 .9 .5 1 .5-.3 .9-5.1 .9 3.3 .5 .4 1.4-1.8 .4 1.1 1 4.4 .4 .6 .5-1.5 .5-.7 .9-4 .9 4.7 .5 1.4 .9 .1 .9-.8 1-2 .9 2.3 .5 .4 .9-1.1 .5 .8 .4-.8 .5-2.8 .5-.8 .4 1.4 .5 .6 .4 .2 .5 .7 1.4 2.8 .9-1.6 .5-.5 .5 .4 .9 1.4 .5 0 .4-1.1 .5-.2 .5 .5 .9-1 .4 1.5 .5 .4 .5 0 .9 .6 .5 .8 .4 1.9 .5 0 .9-5.8 .5-1.1 .5 .6 .4 1.4 .5 .7 .4 .3 .5-.5 .5-1.5 .4 .7 .5 .1 .5-2.7 .4-.9 .5 .7 .5 .3 .4-.1 1 .8 .4 .6 .5 1.1 .4-1.2 .5-2.5 .5 0 .4 1.4 .5-.3 .9-1.5 .5-2.1 .5 .1 .9 4.2 .5-.3 .4-2.1 .5 .1 .9 3.4 .5 .2 .9-1.2 .5 .6 .4 1.6 .5-.4 .5-2.8 .4-1.3 .5 .6 .5-.1 .4 .6 .5-.7 .5-3.4 .4-1.3 .9 4.3 .5 .3 .5 0 .9 2.7 .5 0 .9-4 .9 1.9 1-2 .9 1.2 .5 1.4 .4-.2 .9-4.9 1 3.7 .9-4.7 .5 .8 .4 2.8 .5 1 .9-1.4 .5-.2 .5 0 .4 .1 .5 1.3 .4 .5 1-3.2 .9 3.4 .9-2.5 1.4 5 .5-1.3 .5-2.8 .4-1 1.4 2.9 .5 .3 .9-1.9 .9 1.3 .5-.2 .5 .2 .4-.4 .5 .6 .5 2 .4 .8 1-4.7 .4 .8 .5 1.8 .4 .8 .5 .3 .5-.6 .9-4.7 .5-1.2 .4 1.9 .5 3.5 .5 .3 .4-2.6 .5 0 .5 1.9 .4-.3 .5-3.1 .4-1.6 1 3.8 .4-.6 .5 .6 .5 1.6 .9-1.2 .5 1.7" fill="none" stroke="#000" stroke-width="1.9" stroke-linejoin="round" />
<path d="M878.6 1586.4l.9-3.1 .5 .7 .9 6.5 .5 1.2 .5-.4 .9 1.3 .4-.3 .5-1 .9-3.1 1.4 .6 .5 .6 .9 2.5 1-2.8 .4-.5 .5 0 .4 1.5 .5 0 .5-3.1 .4-1.6 .5 .2 .5-.4 .4 0 .5 2.3 .5 4.7 .4 1.8 1-2.5 .4 .3 .5 1 .9-2.7 .5 1.4 .4 .5 1-.6 .4-.7 .5 .5 1.4 3.7 .5 0 .4-4.2 .5-2.2 .5-.7 .4-1.4 1.4 4.2 .5-.7 .4-1.5 1 1.9 .9-7.2 .5-.3 .9 4.1 .5 1.5 .4 .4 .9-2.1 .5-2.2 .5-1.3 .4 .3 .5 2.2 .5 .9 .4-.4 .5-1.3 .5-2.2 .4-.3 .5 .9 .9 3.1 .5 2.8 .5 .4 .9-5 .9 3.4 .9-5.6 1 3.1 .4 .2 1-3.1 .9 4.5 .5 .9 .4-.7 .9-2.7 .5-.4 .5 1 .4 2.8 .5 .1 .9-5.7 .5 .9 .9 4.9 1 2.9 .4-.8 1-4.6 .4-.3 .9 1.7 1 3.8 .4-1.2 1-7 .9 3.5 .9 1.7 .5 .3 .9 .3 .5-.8 .4-1.9 .5-.8 .9 1.9 1 4.1 .4 .6 .5-.3 .5-1.2 .9-4.3 .5 .1 .4 .4 .9 3 1-2.9 .9-.3 .5-.4 .4-24.2 1-219.6 .4-64.4 .5-29.6 .5-14.3 .4 1.5 1.4 16.7 .9 2.8 1 4.2 .4-.1 .5 .8 1.4 6.9 1.9 2.9 .4 1.6 .5 .7 .4-1 .5 .2 .5 1.3 .4-.6 .5-1.3 .9 1.1 .5-.1 .9 3 .5-.7 .5 .3 .9 2.8 .5 .1 .4 .7 .5 2.3 .4 1.1 1-3.7 .4 .6 .5 1.1 .9-1.9 .5 .2 .5 1.9 .4 .3 .5-2.4 .5-.5 .9 4.9 .9-3.7 .5 .4 .9 5 .5 1.2 .4-1.2 1-1.7 .9-2.9 .5-.6 .9-3.9 .5 .7 .9 4.4 .4 .7 1-.8 .4 0 1 2.7 .9-4.6 .5 1.7 .4 .5 1-3.9 .4-1.3 .5-.3 .4 .2 1.4 6.7 1-1.7 .4-.5 1 1.2 .4-.8 .5-1.6 .5 .7 .4 2.5 .5 .9 .9-1.2 .5-1.1 1.4-1.7 .9 2.9 .5-.8 .4-2.2 1-2.5 1.4-2.5 .9 5.1 .9 2.3 .9-.2 .5 .9 .5-.3 .4-1.5 .5-.1 .9 2.9 .5-.1 1.4-5.7 .4 .1 .5 1.3 .5 2.7 .4 1.1 .5-.9 .9-4.6 .5-.7 .5 .3 .4 .9 .5-.4 .5 0 .4 1.3 .5 .3 .9 .3 .9-.8 1 3.4 .4-.1 .5 1.3 .5 .5 .9-3.6 .5 .3 1.4 4 .4 0 .5-1.2 .4-.6 .5 .4 .5 1.4 .4 .7 2.4-3.7 .9-2.7 .5 2.2 .4 4.2 .9 4.1 .5-1.2 .5-4.1 .4-1.8 .5 1 .5-.4 .4-1.9 .5 .7 .5 2.4 .4 .9 1.4-4.3 1-1.9 .4-2.6 .5-.2 .9 8.1 .5 1.3 .4-.7 .5 .1 .5 1 .4-.7 1-3.7 .4-.8 .5 1.1 .9 4.3 .5 .6 .4-1.6 .5-.6 .5 .2 .4-1 .5 .6 .5 2.3 .4-1.5 .5-3.5 .5-.5 .9 3.2 .5 .7 .9-2.6 .5-.4 .4 .4 .5-.1 .4 .4 .5 1.3 .9 1.3 .5 2.4 .5-.3 .9-7.5 .5-1.7 .9 5.9 .5 1.2 .4-.2 .5 .5 .4 1.1 .5-.5 .5-1.1 1.8-1.6 1-2.6 .9 2.3 .9-2.3 .9 1.8 .5 1.7 .5 .3 .4-2.1 .5-.3 .5 .5 .4-1.3 .5 0 .5 1.6 .9-.1 .5 1.5 .4 .6 1-3.6 .4-.2 .5 1.5 .4 .7 .5-.7 .5-.3 .9 3.9 .5 0 .4-1.9 .5-.7 .5 .5 .4 1 .5-.2 .5-.7 .9 3.3 .4-.2 .5-.6 .9-2.2 .5 0 .9-3.2 1 .5 .9-3.5 .5-.5 1.4 .9 .4 0 .5 1.5 .4 3.2 .5 1.4 .5-.4 .9-4.2 .5-.9 .4 0 .5 .3 .5 1.3 .9 6.5 .5-1 .4-2.5 .9 2.9 .5-.2 .5-.5 .4 .1 .5-.3 .5-.8 .4-1.5 .5 .8 .5 3.4 .4-1.1 .5-4.2 .5-1.1 .9 3.1 .5 .4 .4-.2 .9 1.7 2.4-3.5 .4 .7 .5 1.5 .5-.6 .4-3.8 .5-1 .9 5.4 .9 3.5 .5-.9 .5-2.8 .9-2.8 .5-.3 .4 .7 .5-.7 .5-1.5 .4 0 1 3.6 .4 0 .5-.5 .4-1.1 .5 .8 .5 3.2 .4 1.3 1-2.3 .4-.7 .5 .5 .9 3.1 .5-1.3 .5-3 .4-.6 1.4 6.5 .9-5.4 .5-.8 .9 3.6 .5-.2 .5-1.2 .4 .1 1.4 1.7 .5 .3 .5-.2 .4 .1 .5 1.5 .4-.8 .5-3.3 .5 .5 .4 1.9 1-2.4 .4 .8 .5-.1 .5-1.5 .4-.8 .5 .8 .5 2 .4 .6 .5-.5 .5-.1 .4 .4 .5 .8 .4-.1 .5-1.3 .5-.6 .9 1.3 1.4-.5 .5-.5 .4 .3 1 3.2 .9-1.5 .9 1.3 .5-.6 .4-1.5 1 2.1 .4-1.1 1 3.8 .9-1.6 .5 2.9 .4 1.2 .5-3.2 .4-1.6 .5 1 .5 .2 .4-.3 .5 .4 .9 2.6 1 1.3 .4 1.1 .5-.6 .9-5.4 .5-1.6 .5-.8 1.3 0 1-1.6 .4 .3 .5 1.7 .5 .7 .9-2.3 1.4-1.6 1.4 1.2 .4-.6 1-3.2 .4-.4 .5-.9 .5-2 .4-.1 1 5.6 .4 .3 1-1.5 .4-1.9 .5-.5 .5 2.1 .4 1.2 .9 1.4 .5 .1 .5-1.6 .4 .2 1 4.4 .4 .4 .5 .1 .5-.5 .4 .9 .5 2.8 .4 24 .4 317.6 .6-29.3 .4-11.7 .5-2.4 .5-.6 .4-2 .5-.2 .5 4.1 .4 1.6 .5-2.4 .5 .4 .4 2.3 1 .7 .4-1.9 .5-4.8 .5-1.2 .9 4.4 .9 1.8 .9-1.8 .5-.3 .5 1 .9 3.7 .5-.4 1.4-6.3 .4 .2 .5 1.3 .4 .7 .5-.7 .5 1.1 .4 2.8 .5 0 .5-.8 .9 4.4 .5 1 .4 .2 .5-2 .9-6.2 .5 .1 .4 1.6 .5-.5 .5-1.3 .9 .8 .5-.2 .4 .5 .5-.4 .5-1.3 .9-1.4 .5 .5 .4 1.6 .5 .6 .5 2.1 .4 .6 .5-1.2 1.4-6.2 .9 4.6 .5-.4 .9-2 .5 0 .4 .9 .5-.2 .9-4.6 .9 4 .5-.3 .5-1.3 .9-1.4 .9 4.2 .5-.7 .5 1.3 .4 2.7 .5 1.4 .5-1 .9-5.7 .5 .2 .4 2.4 .5-.7 .4-2.2 .5 1 .5 2.4 .4 1.3 .5-1 .9-3.2 1 1.8 .4 .4 1.4 3 .5-1 .4 1.3 .5 2.4 .5-.5 .4-2.3 .5-1 .5-.3 .9-2.2 .5 .4 .4-.2 .5 0 .9 2.5 .9-.1 .5-.3 .5 .4 .4 .9 .5 1.6 .5-.1 .9-7.5 .5 .8 .4 2.1 .5 .8 .9-3.6 .5 .1 .9 6.9 .9-3.9 .5 1.4 .5-.6 .4-1.4 1 .5 .9-1.8 .5-.1 1.4 6.2 .4-.6 .5-1.3 .9-4.1 .5-.3 .9 3 .5 1 .4 .2 1-3.8 .9 6.5 .5-.6 .9-5.6 .5-.1 .4 1.7 .5 1.1 .4 .6 .5-.6 .9-3.2 .5-.4 .9 1.2 .5 0 .9-4.4 .5-.4 .9 2.7 .9 6.3 .5-.2 .5-2.3 1.4-3.2 .9 1.5 .5-.9 .4 1.5 .5 3.1 .5 .8 .9-5.6 .5-.6 .4 .3 .5-.4 .4 .2 .5 1.6 .5 .4 .4-.9 1 .1 .4 1.4 .5 2.8 .5-.5 .9-5.5 .5 .9 .4 3.2 .5 .6 .4-1.2 .5 .3 .5-.2 .4-1.3 .5 .5 .9 4.1 .5-1 .9-5.8 .5-1.4 .5 1.5 .4 .7 .9 .8 .5 1.1 .9 4.5 .5 .8 .9-1.6 .5 1 .5 1.9 .4 .8 1-4.4 .9-2 .5-.3 .9 4.9 .4 .8 1-4.3 .4 .1 .5 2.1 .5-1 .4-4.2 .5-1.9 .9 2 .5 .2 .9-1.1 .9 4.7 .5 .9 .9-2.5 1.4 .7 .5-.2 .9-3.5 .5-1 1.4 4.7 .5 .9 .4 .2 .9-2.1 .5-.2 .5 .7 .4-.2 1 .4 .4-2.4 .5-.3 .5 .8 .4-1.4 .5-.7 .9 1.5 .9 .1 1-2.2 .9 4.7 .5 .6 .4-3.2 .5-1.6 .9 6.9 .5 .4 .5-1 .9-5.2 .9 2.9 .5-1.2 .9 1.3 .9-1.4 1 5 .4-.2 1-8.1 .4 1.2 .5 3.1 .5-.5 .4-2.1 .9 3.9 .5-.6 .5-1.6 .4 .1 .5 1.3 .5-.3 .4-.8 .5 .8 .5 1.5 .4-.5 .5-2.7 .5-1.5 .4 .8 .9 3.7 .5-.2 .5 1.3 .9 3.4 .5-.3 .4-2.6 .5-.6 .5 .5 .9-2.8 .5-.1 .4-.6 1 3.3 .4-.4 .5-.2 .4 1.2 .5 .4 .5-2.2 .4-.8 .5 1.2 .5-1 .4-1.7 .5 .6 .9 4.5 1-.3 .4-.7 .5-1.3 .4-.3 .5 .3 .5-1 .9-4.8 .5-.4 .4 1.3 1 5.7 .4 .5 .5-.5 .9-4.3 .5-1 1.4 1.8 .4 2.2 .5 .6 .5-1.4 .4-.2 .5 .7 .9 3.6 1 .4 .4-.2 1-4.2 .4-1 .5 .3 .4 .7 .5 1.3 .5 .7 .4-1 1-1.1 1.4-2.8 .4-.1 1.4 2.8 .9-1.8 1 2.7 .4 .1 1-5.6 .4-.6 .5 .6 .9-2.5 .5-.2 .9 4.1 .5 .9 .9-2.9 1.4-2.3 .5 .6 .4 1.3 .5 .2 .9-.5 .5 .1 .5-.5 .4 .1 1 1.4 .4-.9 .5-.2 .9 5.9 .9-3.8 .5-.1 .9-1.6 1 2.8 .9 1.1 .5-.6 .4-1.2 .5 1 .5 1.8 .4 .9 .5 .6 .4-.6 .5 .2 .9 1.4 .5 0 .5-1 1.4-1.2 1.8 1.8 .5-.8 .4-2.5 .5-.3 .5 1.1 .9 1.4 .5-.4 .4-1.4 1-.7 .4-1.7 .5-.6 .9 .1 .5 .3 .4 .9 .5 1.9 .5 1 .4-1 .5-2.1 .5-.7 .4 .5 1-3.5 .9 .6 .5 0 .9 2.4 .9 .5 .5 2.2 .4 1.2 1.4-2.4 .5-1.2 .9 .4 1-1.7 .9-3.4 .5-.1 1.8 6.4 .5 0 .4-1.1 .5-.5 .9 .6 .5-.3 .5 .6 .4-.2 .5-1.3 .5-.2 .9 .6 .9 3.5 .5-.6 .9-2.9 .5-.6 .4 .6 1 3.2 .4 .7 1-3 .4-.9 .5-.1 1.4 4.7 .4 .1 .5-.7 .5 .3 .9 2.8 .5-.8 .4-1.6 .5-.5 .5 .4 .4-.3 1 2.1 .4-1.6 .5-3.1 .4 .3 .5 2.5 .5 1.4 .4 .5 1.9-3.4 .9-2.3 .5 2.1 .5 3.5 .4 .9 .5-.1 .9-1.9 .5 .1 .4-.2 .5 .1 .5 1.4 .4-.2 .5-1.4 .9-5.1 1 6 .9 .8 .9 2.1 .5 0 .9-3.4 .5-1.1 .4-.2 .5 .8 .5 .3 .4-1.2 .5-.6 .5 .1" fill="none" stroke="#ee1c24" stroke-width="1.8" stroke-linejoin="round" />
<path d="M878.6 1592.6l.5 .5 .9-1.4 .5 0 .4-.6 .5-.2 .9-6.5 .5 1.1 .4 2.7 .5 .8 .5 .3 .4 .2 .5-1.6 .5-.5 .9 2.9 .5-.4 .4-2.2 .5-.4 .5 1 .4 .4 .5-1.1 .4-2.3 .5 .8 .5 1.9 .4 1 .5-.2 .9-1.5 .5 .4 .9 3.5 .5-.3 .9-4.5 .5-.4 .5 1.5 .4-.4 .5-2.5 .4-.4 .5 1.8 .9 1.6 .5 1.9 .5-1 .4-2.1 .5 .7 .5 1.6 .4-1 .5-3.1 .5-1.2 .4 .2 1.4-1.3 .5 .5 .9 4.5 .9-2.8 .5 .6 1.4 4.3 .9-2.2 .9 4.4 .5-.9 .9-5.7 1 3.1 .9-3.5 .5 1.6 1.4 10.4 .4-1.5 .5-4.1 .9-5.4 .5-.2 .9 1.2 .9 4.8 .5 .1 1.4-2.5 .9-3.3 1 1.2 .4-1 .5-.1 .9 4 .5-.1 1.4-2.8 .9-2.7 .5 .2 .9 5.3 .5 0 .4-.7 .5-1.6 .5 .1 .4 1.3 .5 .2 .9 2.1 .9-4.2 .5 .9 .5 2.2 .4-.1 .5-.7 .5 1.2 .9 5.5 .9-6.8 .5 0 .4 .8 1 4.3 .4 .1 .5-.7 .9 .9 .5-.4 .5-1.1 .4-.7 .5 .8 .5 .2 .4-.6 .9 1.2 .5-.3 .5 .8 .4-.2 1-2.8 .4-17.8 1.9-195.5 .9-32.4 .5-11.5 .5-5.1 .4 1.8 .5 3 1.4 3.1 .4 .3 .5 1.8 .9 6.4 .5-.2 .5-.7 .9 1.5 .5-.4 .4-.9 .5 1 .4 2.5 .5 .7 .9-.4 1-.9 .4 1.5 1 6.3 .4 .9 1-3.7 .4-1 .5 0 .9 2.6 .5-.5 .4-1.3 .5 0 .5-.4 1.4 .6 .4-.8 .5-.3 .5 1.6 .4 .6 1-3.4 .4 .9 .5 2 .4 .8 1-2.7 .4-.1 .5-1.7 .5 .2 .4 3.8 .5 1.3 .9-2.8 .5-.6 .5 1.2 .9 3.9 .5-.7 .4-1.8 .5 .6 .4 1.3 1 4.7 .4 1 1-3.9 .4 1.2 .5 2.5 .5 .6 .9-4.4 .5-.3 .4 .6 .5 .2 .4-.2 .5-1.1 .5-.3 .4 1.1 1-2.9 .9 1.9 .5 .3 .9 2.4 .9-2.9 .5-.7 .4-1.5 .5 .6 .5 2.6 .4 0 .5-1.6 .9 2.5 .5-.7 .5-.2 .4 1.1 .5 .4 .9-1.9 1 2.8 .4-.9 .5-.4 .9 1.8 .9-3.3 1 1.2 .9-.7 .5 1.4 .9 4.4 .5 1.3 .9-4.9 1.4-2.7 .4-2.1 .5-1.1 .5 1.3 .9 5.1 .5-1.2 .9-7.1 .5 .6 .9 3.8 .5 .2 .4-.2 .5-1.7 .4-.9 .5 2.6 .5 .3 .4-1.2 1 4 .4 .9 1-1.7 .4-.3 .5-1.4 .9 3.6 .9-5.7 .5 .2 .5 3.6 .4 2.5 .5 1.5 .5-.1 .4-2.3 .5-.5 .5 .8 .4-.4 1 2 .4-.1 .5-1.1 .9-4.1 .5-.2 .4 1.2 .5 .2 .9-2.7 .5-.2 .9 4 .5-.7 .5 1.2 .9 5.6 .5-.2 .9-5.6 .9-2.1 .9-5.5 .5-1.4 1.9 6.7 1.4 3.7 .9 3.3 .4-1.3 .5-2.5 .5-1 .4 .1 .5-.5 .9-1.8 1-.1 .9 2.1 .5-.2 .4 .1 .5-.2 1.4-1.2 .4 .1 1 1.9 .9-4.5 .5 1.2 .9 1.3 .9 4.2 .5 .7 .9-5.7 .5 .8 .9 6.7 .5 .2 .4-1.1 1-5.6 .4-1.1 .5 1 .5-.1 .4-1.6 .5-.2 .9 2 .9-2.3 1 4 .4 .3 1-7 .4-.9 .5 1.2 .5 .4 .4-.9 .5 .3 .9 2.3 .5-.9 .9-5 .9 5 .5 .2 .9-2.5 1-.8 .9-2 .9 2.5 .5-.2 .5 .5 .4 2.4 .5-.6 .4-2.7 .5 .1 .5 .6 .4-.2 .5 .9 .5 1.8 .9 5 .5-.3 .4-2.5 .5-.5 .9 2.5 .5 .2 .5-.8 .9-.2 .9-3.8 .9 3.4 .5 .5 .9 0 1 4.2 .4-.9 1-3.7 .4-1 .5 .9 .9 3.3 .9 1.4 .5-1 .5-3.4 .4-1.4 .5 .6 .5-.2 .4 .3 .5 .6 .5 .9 .4 1.9 1.9 3.6 .4-.1 .5-.6 .9 3.4 .5 .5 1.4-3 .9-3.4 .5 .9 1.4 4.5 .4-.2 .5-1 .5-.1 .4-.5 .5-1.4 .5-.5 .9 2.2 .5-.8 .4-1.6 .5-.1 .5 1.3 .9-.2 .4 1 .5 0 .5-1.2 .4 .2 1 1.7 .4-.4 .5-.9 .5 .4 .4 0 .5-2 .5 .1 .4 3.5 .5 1.4 .5-1.6 .4-.2 .9 1.1 1-1.1 .4-.1 .5 .4 .5-.3 .4 .6 1 2.7 .4-.9 .5-2.3 .5 1.3 .4 2.6 .9 2.6 .5-1.4 .5-4.1 .4-2.1 1 2.2 .4-1.2 .5-.6 .5 1.5 .4 .7 .5-.9 .5 .2 .9 2.2 .5 .6 .9-1 .4-1.3 .5-.3 .9 .3 .5-.7 .9-3.6 1 .1 .4-.9 1 1.3 .4 .1 .5 .6 .4-.8 .5-2.4 .5-.3 .9 5.6 .9-2.3 1 4.8 .9-1.2 .5 2.5 .4 1.3 .9-6.3 .5-1 .9 3.5 1-4.4 .4-.6 1 .2 .4-.1 .5 .4 .5 1.2 .9 5.6 .5 .1 .9-4.9 .4-.2 .5 .9 .5-.9 .4-1.3 1-4.1 .4 .3 1.4 7.3 .5 .7 .5-.4 .4-1.3 .5-.8 .4 .4 .5-.2 1.4-1.6 .9-.2 1 1.7 .4-.8 .5 .9 .5 2 .4 .3 1-6.3 .4-1.8 .5 1.1 .9 4.7 .9 2.7 1-3.6 .4-.1 1 .1 .4 .3 .5-.2 .4 17.6 .4 236.7 .5-18.2 .5-.9 1-10.1 .4-.8 .5 .2 .9 3.9 .5 0 .9-2.8 1-1.4 .4 .9 .5 2.4 .5 1.2 .9-2.7 .9-4.2 .5-.8 .4 .3 1.4 5.1 .5 .5 .5-.9 .9-3.2 .9-1.5 .5 1 .4 2.3 1 2.8 .4-1 .5-3.5 .5-.9 .4 1.4 1 .7 .4 .8 1 2.7 .4 .1 .9-4.8 .5-.4 .5-.7 .4-.3 1 3.7 .9 2.3 .9 .5 .5 1.4 .5 .1 1.4-8.1 .4-1.2 .5 1.3 .4 .1 .5-.6 .9 1.9 .5-.7 .5 .8 .4 1.6 .5-.2 .9-3.4 1 2.9 .4-.5 1.4-4.1 .5 1.1 .4 3.1 .5 1.5 .5-.2 .9-2.3 .5-.3 .4 .2 .5 .4 .9-1.4 .5 0 .5 1.2 .4 .2 .9-1 .5 .2 .5-.4 .4-1.3 .5-.1 .9 3.4 .5 .1 .9-1.4 .5 .2 .9 4.5 .5 .9 .9-6.1 .5-1.6 .4 .9 .5 1.8 .9 4.8 1-4.1 .4 .9 .5 3.2 .5 1.2 1.3-5.8 .5 .3 .5 .8 .4 0 .5-.5 .5-.8 .4 .5 .5 1.1 .5-.8 .9-8 .9 6.5 .5-.1 .9-2.8 .9 3 1 1.5 .9-1.7 1.4 4.5 .5-1.7 .4-3 .5-.2 .5 1.4 1.8 1.6 .5 1.5 .4 2.9 .5 .8 .9-3.2 .5-.5 .9-5 1 3.7 .4 .9 .5-1 .9-6 .5-1.1 1.8 7.5 .5 .5 .5-1.6 .9-1.1 .5-1.3 .4-.6 1.4 .5 .5 .4 .4-.3 1-4.7 .4 0 1 4.4 .9 2.3 .5 0 .4-.6 1-3.3 .4-.1 1-2.4 .4 .4 1.4 6.5 1.4 .1 .5 .7 .4 .1 .5-.6 .5 1 .9 3.7 .5-.5 .9-6.3 .9 .9 .5-1.6 .4-.9 1.4 2.9 .5 .1 .9-.5 .5 .9 .5 .5 .4-.2 .5 1.3 .4 0 .5-1.6 .5-.6 .9 1.6 .9 3.4 .5-.5 .9-5.5 .5 .5 .5 2.2 .4-.6 .5-2.8 .5 1.1 .4 2.8 .5-1.4 .4-3.1 .5 1.4 .5 5.4 .4 2.2 .5-1.7 .5-.2 .4-.8 1-6 .4 .7 1.4 5.6 .5-.4 .4-1.5 .5-.5 .5 .2 .4-.4 1.4-5 .5 .2 .9 5.5 .5 .5 .5-.1 .9-2.1 .5-.1 .4 0 .9 2 .5 0 .5 .5 .4 .2 1-5.2 .4 .1 1 4.7 .4-1.4 .5-2.6 .5-.4 .4 .2 .5 0 .9 5.7 .5 .5 2.3-9.8 .5 1.5 .9 8.9 .5 .8 .4-.8 .5-.1 1.4-1.8 .4 0 .5 1.3 .5 .5 .4 0 .5-.7 .5-1.4 .4 .1 .5-.3 .9-4.5 .5-.3 1.4 2.2 .9 2.8 .9-2.6 1 1.8 .4 0 .5-1 .5-2.9 .4-.6 .5 2 .5 .8 .9-4 .4-.2 .5 1.8 .5 .9 .9-.2 .5 .3 .4-.3 .5-.7 .9 3.4 1 1.6 .4-.4 1-3.4 .4 .9 .5 .4 .4-1.6 .5 .6 .5 2.2 .4-1 1-4.2 .4-1.2 1.4 7.3 .5 1.5 .9-3.3 .5 .3 .4-.3 1 2.6 .4-1.2 1-4.4 .4-.3 .5 .9 .5 .4 .9 3.7 .5-1.2 .9-4 .4 .2 1 3.1 .4 .4 .5 0 .5 .6 .4 1.4 .5-.2 .9-1 .5-1.6 .5-.2 .4 1.4 .5 .1 .5-.5 .4 .9 .9 .9 1 1.5 .4 1.4 .5-.1 .9-5.2 1.4-3.3 .5 .8 .5 1.9 .9 2 .4 .1 1-6.9 .4-.8 1 3.7 .9-1.6 .9 4.8 1-2.8 .4-.1 .5 .2 .5 .6 .4 2.1 .5 1.1 .4-.6 1-5.1 .4-.6 1 3.7 .4-.9 1-4.6 .4 0 1 6.7 .4-.8 .5-2.5 .4-1.4 .5-.2 1.9 3.9 .4 .5 .5-.5 .9 2.5 1.4 .4 .5-.4 .5-1.3 1.3-2.3 .5 .5 .5 1.9 .4 0 .5-1.7 .5 .1 .4 1.1 .5-1 .5-2.3 .4-.6 1 4.3 .4 0 .9-3.8 .5 1.4 .5 2.9 .4-1 .5-2.3 .9-.7 .5-1 .5 .3 .9 2.9 .5 .3 .9-.8 .4 .7 .5 .1 .5-1.9 .4-1.1 .5 1.4 .9 4.3 .5 .5 .9-.6 1-.2 .9 2.1 .9-.7 .9 1.3 .5-1.7 .5-3.2 .4 .2 .5 1.9 .5-.5 .4-1.7 .5-.8 .9 .9 1 2.8 .4-.7 .5-1.6 .9 1 .9-4.3 .5-.4 1.4 4 .5 .5 .4-1.1 1-4.3 .4 .9 .5 1.9 .9-1.1 .9 3.5 .5-.2 1.4-4.3 .5-.4 .4 .5 .5-.6 .5 0 .9 3.4 .5-.1 .9-2.1 .4 2 .5 .3 .9-4.2 .5 1.5 .5 3.6 .4 1.7 1 .2 .4-.7 1-.6 .4-1.4 .9 2.1 .5-.9 .9 1.6 1.4-3 .5-.6 .5 .6 1.8-2.7 1 1.7 .4-1 .5-3.1 .4-.5 .5 3.8 .5 2 .4 .1 .5 1.3 .5 0 .9-5.4 .5 .6 .9 5.2 .5 1.7 .4 .9 .5-2.2 .4-4.7 .5-.4 .9 6.5 1-3.1 .4-.5 .5 .5 .5-.3" fill="none" stroke="#ee1c24" stroke-width="1.8" stroke-linejoin="round" />
<path d="M878.6 1586.3l.5-.8 .4 .6 .5 1.7 .5 .7 .9-4.9 .9 1.8 .5-1.9 .4-.8 1 5.5 .9-5.1 .5-.1 .9 4.3 .9-1.9 1.4 2.5 .9 2.9 .5 .1 .5-1.6 .4-.6 .5 .9 .5-1.1 .4-2.5 .5-.5 .5 1.2 .9-1.9 .9 0 1 4.8 .4-.1 .5-1.9 .4 .5 .5 2.6 .5 1 .4-.8 1-.2 .4-.4 1-4.1 .4 1.7 .5 1 .5 .4 .9 3.9 .4-.7 1-4.2 .4-.9 .5-.3 .5 1.3 .4 2.5 .5 .8 .9-4.3 .5-.7 .9 2.8 .9-2.4 .5 .5 .5 1.1 .9 1.2 .5 0 .4 .5 .5-.2 .9-1.1 .5-.2 .5-1 .4-2.1 .5 .5 .5 3 .4 1.6 .9-1.4 .5-.4 .5-1.3 .9-6.6 .5 .6 1.4 5.4 .4-.3 .5 .5 .5 2.2 .4-.4 .9-4.7 .5 .9 .5 3.9 .4 1 1.4-4.4 .5 .7 .5 2.1 .4 .6 .5-.1 .5 .5 .4-.4 .5-1 .5 1 .9 3.3 .4-.2 .5-1.2 .5-.3 .4 .4 1.4-1.2 1 .3 .9-6.2 .5 2.5 .4 4.3 .5 .1 .9-5.1 .5 0 .9 2.3 .9-1.8 1 2 .4 0 .5 1.2 .9 3.7 .5 .8 .4-.9 1-5.9 .4-.5 .5-.1 .9-1.6 1-31.1 1.4-81.2 .9-23.4 1.4-27.7 .9-9.2 1.4-9 .5-.5 .4 1.6 .5-.6 .9-3.1 .5 .3 1.4 10.5 .4-.7 1-5 .4-.1 .5 .3 .5 .7 .4 2.1 .5 1.2 .5-.4 .9 .3 .5 .6 .4 1.7 .5 .1 .9-2.9 .5 .2 .9 1.3 .9 4.6 .5 1.2 .5-.3 .4-1.6 .5-.2 .5 .6 .4-.3 1 .3 .9 1.2 .9 .4 .5-1 .4 .6 .5 1 .5 .1 1.4 5.2 .9-2.7 .5-.4 .9-1.8 .9 1.2 .9 3.7 .5-.2 .9-2.7 .5 .5 .5-.9 .4-2.2 .5-.4 1.4 9.5 .5-.3 .4-3 .5-1.8 .4 .6 .5-.5 .5-.1 1.4 3.6 .4 .1 .5-1.2 .5 1.4 .4 2.6 .5 0 1.4-5.6 .4-.2 1 2.9 .9-1.1 .5 2 .4-.6 .5-3.4 .5-1.1 .4 2.4 .5 1.3 .9-3.8 .5-.2 .5 1.7 .4 .1 .5-1.3 .9 1.4 .5-1.5 .4-.2 .5 1.6 .5 .7 .4-.5 .5 .2 .9 4.3 .5 .3 .5 .8 .4 1.7 .5-2.1 .4-3.8 .5-1.6 .5 2.2 .4 3.7 1 4.2 .4-.7 .5-2 .5 .3 .4 0 .5-.9 .5-.4 .4 .7 1 3 .9-1.2 .4 .1 1-2.2 .9 .1 .5 .5 .4-.1 .5-1.4 .5 0 .9 7 .5 1.2 .4-1.3 .5-2.7 .4-1.1 1 3.3 .4 .3 1-5.8 .4-.2 1.4 5.3 .5-1.1 .5-2.6 .4 0 .5 2.4 .4 1.2 1.4 .4 1 3 .4 .2 .5-.7 .5-2.1 .4-1 .5 .1 .5 .5 .4 1.1 .5-.1 .5-.4 .9 4.3 1.4-.3 .9-3.9 .5-1 .9 4.7 .5-.6 1.4-5.7 .4-.6 1.4 5 .5-.8 .9-5.2 .5-1 .4 1.1 .5 3 .5 .7 .4-1 .5 .4 .5 0 .4-1.1 .5-.5 .5 1.3 .4-.2 .5-1.3 .4 1.5 .5 .3 .5-1.5 .4-.2 .5 .1 .5-.4 .4-.1 .5 .8 .5 1.9 .4 .3 .5-1.7 .5 .1 .9 4.3 .4 .2 1-3.8 .4-.8 .5-.1 .9 2.3 .5 1.8 .5 .5 .9-4.9 .9 5.3 .9 1.5 .5-.3 .5-2.6 .4-.6 .5 .3 .9-4.1 .5-.4 .5 1.1 1.4 6.4 .4-.7 .5-.2 .5 .4 .9-3.4 .4-.6 1 3.8 .4-.1 .5-.4 .5 2 .4-.6 .5-2 .5-1.1 .4-.2 .5 .7 .9-2 .5 .8 .4-.1 .5-1.3 .5-.2 .4-.9 .5-1.6 .5 .7 .4 1.3 .5 .4 .9 5 .5 .1 .9-3.4 1 2 .4-.5 .5 .1 .4 .9 .5-.3 .5 .3 .4 .8 1-2.8 .9 2.3 .9-1 .5 .4 .5 1.7 .4 0 .5-1.1 .4 .1 1-4.8 .4-.1 .5 1.8 .5 .8 .4-.4 .5 1.8 .5 4.1 .4 .2 1-9.6 .4-2.4 .5 .7 .9 4.9 .5 .7 .9 3.5 .9-3.2 1-1.9 .9 .6 .5-1 .4 .3 .5 2.5 .5 .6 1.3-6 .5 .5 .9 5.6 .5-.7 .5-1.7 .4 .6 1.4 6.7 .5 .7 .5-2.4 .4-.5 .5 .6 .4-.5 .5-2.7 .5-.4 .4 2.1 .5-.2 .5-2.2 .4 .7 .5 2 .5 0 .9-5.2 .5-.6 .4 1.5 1-1.4 .4 .7 .5 .2 .9 1.6 .5-1.4 .4-.8 .5 1.8 .5-.3 .4-2.2 .5 .6 .5 1.9 .9 1 .5-1.2 .9-6.2 .4 .8 1.4 5.3 .5 .1 .5 1.6 .4-.3 1-2.8 .4-2.1 .5-.4 .9 2.4 1-2.4 .9 4.6 .4 .6 .5-.6 .9 1.6 1-1.3 .4 .6 1 2.6 .4 0 1-6.8 .4 1.2 .9 5.7 1.4-2 .5 .7 .5 .1 .4-1.1 .5 .4 .5-.1 .4-2.8 .5-1.6 .5 1.4 .4-.2 .5-1.1 .4 1.2 .5 2.5 .5-.4 .4-2.7 .5 0 .5 2.5 .4 .8 1-2.4 .4-.1 .5 .9 .9 3.1 .5 .6 .9-2 .9 1.4 .5 1.2 .5-.8 .4-2.7 .5-.4 .5 .6 .9-5 .5 .7 .9 5 .5 .7 .4-1.3 .5-3.3 .4-1.7 1.4 4.7 1-3.8 .4-.5 1-.4 .4 .5 1 .4 .4 .4 .5 1.8 .5 .9 .9-3.9 .4-.4 .5 1.7 .9 5.3 .5 .1 1.4-4 .5 .6 .4 1.6 .5-1.3 .4 11.1 .4 162 .6-14 .4-3.5 .5-1.2 .5-.4 .4 .3 1-1 .4 .2 1 2.4 .4-.6 1.4-5 .5 .2 .5 .9 .9-2.8 .4 2.6 .5 5 .5 1.7 .4-.4 .5-2.1 .5-3.7 .4-.2 .5 2.3 .5 .6 .9-1.9 .5 .6 .4 .1 .9-1.3 .5 .2 .5 .7 .4-.7 1 .6 .4-.5 .5 .9 .5 0 .4-1.1 .5-.3 .5 1 .4-.2 .9-4.7 1 4.6 .4-.8 .5-1.8 .5 .7 .4 2 .5-.6 .5-2.6 .4-.4 .5 2.7 .5 .7 .4-1.7 1-1.2 .4 .1 .9 5.1 .5-.1 .5-.6 1.4 3.7 .4-1.6 .5-3.2 .5-1 .4 1.1 1.4 7.2 .9-1.2 .5 1.3 .5-.1 .9-4.3 .5-1.3 .9 2.1 .5 0 .4-.5 .5 .5 .5-.6 .4-2.2 .5 0 .9 4.5 .5-.3 .9-5 .5 1.6 .4 3.4 .5-.4 .9-6.1 .5-.3 .9 2.8 .5-.1 .5-.5 .4-1.2 .5-.6 .4 1.4 .5 .5 1.4-3.9 .5-.4 .9 8.4 .5-2.5 .4-4.4 .5-.8 .5 0 .4 .6 .5 1.7 .4-.1 1-4.9 .4 .3 1 5.6 .9 .6 1.4 3.7 .9-3.6 .5-.4 .9-.1 .9 1 .5 .1 .5-.3 .4 1 .5-.5 .5-1.8 .4 .5 .5 1.5 .9 .5 1 1.1 .4 0 .9-4.9 .5-.8 .5 .3 .4 1.3 .5 2.3 .5 .8 .9-3.5 .5-.3 .4-.7 .5 .2 .9 5.3 1-4.4 .4-.7 .5 .7 1.8 6.1 .5 1 .5-1.7 .4-3.2 .5-.7 .5 2.2 .4 1 .5-1.3 .5 .3 .9 1.3 .4 .2 1-4.3 .4 0 .5 .6 .5-.5 .9 1.4 1.4 .7 2.8-4 .9 3.4 .5 .8 .4-.9 1-5.4 .4-.5 .5 .7 .5-.2 .4-1.2 .5-.2 .9 2.8 .5 .5 .4 0 .5-.5 .5-1.2 .4-.7 1 4.1 .4-.3 1.4-5.3 .5-.2 .5-.5 .9-2.8 .4-.4 1 4.2 .4 .5 1-3.6 .4 1.8 .5 4.5 .5 2.3 .4-1.1 .5-.2 .5 1 .9-3.4 .5-.2 .9 1.1 .9 3.7 .5-1.7 .4-4.2 .5-1.5 .9 2.2 1 6.4 .4-.9 .5-3 .5 .2 .4 1.4 .5 .4 .9 .2 .9 2.5 .5-1 .5-2.4 .4-1.2 .5 .5 .9 5.1 1 .8 .4-.4 .5 .7 .5 1.2 .4-.8 .5-1.7 .9-.9 .5-1.6 .4 .1 .5 .9 .5 .5 .4-.2 1-1.9 .9 2.2 .5-.4 .4-1.5 .9 .3 .5-1.1 .5 .5 .4 .9 .5-.4 .9 .8 .5-.9 .9 1.9 .5-2.3 .5-1 .4 .1 .5-1.7 .4-.9 .5 1.7 .5 .2 .4-.6 .5 .3 .5 1.5 .9 .4 .5 .5 .4-.8 1-3.7 .4-.3 1.9 5.8 .9-1.8 1.4-1.8 .9 1.7 1-4.6 .9 3.8 .5-.2 .4-1.5 .5-.9 .4 .1 .5 .2 .5 .7 .4 2 .5 1 .9-2.6 .5-.5 .9-2.3 .5 .7 .5 2 .4 .9 1-1.5 .9 2.1 .4 .4 1-2.4 .4 0 .5-.4 .5-1 .4-.5 .5 .4 .9-1.9 1 2.9 .9-.9 .4 .3 1 4 .4 .6 2.4-6.6 .4 1.8 1 7 .4 .9 .9-4.9 .5 .4 .9 3.4 .5 0 .9-.9 1 .6 .9-2 .5 .7 .4 2.1 .5 1.1 .9-4.1 .5-1.3 .9-1.2 .5 .1 .4 1.3 1-2.5 .4 1 1 3.9 .4 1.2 1-4.4 .4 .3 .5-.2 .4-1.7 .5-.7 .5-.4 .9 .1 .5-1 .4 .6 1.4 3 1 2.7 .9 2 .5-.7 .4-1.6 .5-.5 .9-1.5 .5 .4 .4-.7 .5-.3 .5 1.5 .4 .4 .5-.5 .9 2.3 1.4-4.5 .9 3.4 .5-.2 .9-3.1 .5-.4 .9 2 1-2.1 .4-.6 .5 .7 .5 1.2 .4-.1 .5-.6 .5 0 .9 4.4 .4 .5 .5-2 .5-.5 .4 0 1-3.3 .4 .3 .5 1.7 .5 .7 .4 .1 .5-.8 1.4-3.2 .9 1.7 .9-4.9 .5 .4 .5 3.7 .4 2.1 1-3.5 .4-.7 .5 .2 .5 1.4 .4 2.7 .5 .8 .9-4.8 .5-.6 .4 1.6 .5-.8 .5-2.1 .4 1.1 .5 3.2 .5 .5 .4-1.6 .5 1.2 .9 6.8 .5-.8 .5-.5 .4 .4 1.4-2.8 .5 .2 .9 4.2 .5 .5 .4-.2 .5-1.8 .9-6.3 .5-1.1 .9 1.1 .5-1.4 .4-.5 1 7 .4-.5 1-2.9 .4-.4 1 2.8 .4-.9 .5-2.1 .5 1.4 .4 2.6 1 3 .4 .6 .5-2.5 .9-2 .5-2.2 .4-1.2 .5 .6 .5 2.1 1.4 3.4 .4 .4 .5 1 .5 .1 .4-2 .9-1.5 1-3.3 .4 .2 .5 1 .5 1.9 .4 3.1 .5 1.7 .5-2.1 .9-8.5 .5-1.8 .9 3.2 .4 .2 1 1.8 .9-1.7 .5 1.8 .4 .6 1.4-5.3 .5-.1 .9 4.9 .5 .5 .5-1.2 .9 1.2 .9-2 .5 .2 .9 4.1 .5 .8 .4 .3 .5-.3 .5-.7 .9-2.4 .5-.6 .4 .8 .9 3.3 1-1.6 .4 .5 .5-1.1 .9-6.1 .5-1.7 .5-.3" fill="none" stroke="#ee1c24" stroke-width="1.8" stroke-linejoin="round" />
<path d="M878.6 1587l.5 .8 .9-2.9 .5-.2 .9 2.4 .5 .5 .4-1.4 .5-3.2 .4-1.4 1.4 8.1 .5-.1 .9 2.6 .5-1.4 .5-2.9 .4-1.6 .5 .8 .5 2.6 .4 1.2 .9-6.7 .5-.8 .9 4.8 .5 .4 .5-.6 .4-1.1 .5 .8 .9 4.7 .5-.7 .5-2.6 .4-1 1.4 3.1 .5-.4 .9-2.7 .5 0 .4-.9 .5-2.2 .5-.3 .9 4.3 .5 .2 .4 .5 1-2.8 .4 1 1.4 5 .5-.9 .4-2.2 1-1.7 .9 1 .5-1 .9-.4 .5-.7 .9 2.6 .4-.8 1-4.1 .4-.2 .5 1.1 .5-.1 .4-1.9 .5 1.2 .5 2.2 .4-.4 .5-2.8 .5 .8 .4 4.2 .5 2 .5 .1 1.3-4.3 .5-.4 .9 2.9 .5-.7 .9-3.5 .5-1.1 1.4 1.1 .5 .8 .4 0 1.4-2.4 .9 1.1 1-.4 .4 .5 1 3.4 .9-3.8 .5-.5 .9 5.5 .5-.6 .4-2.6 .5-1.4 .4-.3 1 1.3 1.4-5.2 .4-.9 1 4.1 .4 1.2 .5-.2 .5-1 .4 .3 .5 2.3 .4 .7 .5-1.1 .5 .4 1.4 4.6 .4 3.5 .5 .4 .9-4.7 .5 .4 .9 1.9 .5 0 .4-1.3 1-6 .4-2 1 6 .9-.7 .5-1.9 .4-6.3 1.4-51.6 1.4-24.1 1.9-22.7 .4-2.7 .5-1.2 .5-3 1.8-14.8 1 5 .4 .1 .9 1.1 .5-.4 .9-1.9 .5-.3 .5 .6 1.4 4.8 .4-1.5 .5-3.3 .5-.1 1.4 5.9 .4 .4 .5-.9 .4 1.5 .5 .4 .9-4.3 .5 .7 .5 1.6 .4-.3 .5 .7 .5 2.3 .4 .1 1.4-4.3 .9-.7 .5 .7 .5 2.1 .4 .6 .5-.3 .5 .8 .4 2.4 .5 .1 .9-3.9 .5-1.2 .5 .4 .9 5.7 .5-.1 .9-2.2 .9 .2 1.4 3.8 .5-.1 .9 4 .5 .3 .9-5.3 .5-1.3 .4 2.6 .5 1 .4-.7 1 3.1 .4 .5 1-3 .4-.5 .5 .1 .5 .9 .4 3.7 .5 2.1 .5-.9 1.3-4.4 1 1.4 .4-.2 .5-.7 .5 1.3 .4 .6 .5-.9 .5 .3 .9 2.2 .9 4.7 .5-1.4 .5-2.6 .4-1 .5 .2 .9 3.9 .5-.6 .4-1.6 .5 .5 .5-.6 .4-2 .5 .1 .5 .8 .4 0 1-1.1 .9 2.1 .9-1.7 .5 .5 .4 1.4 .5 .3 1.9-5 .4 .5 .5 1.1 .9 5.8 .5 .7 .5-1.1 .4-1.8 .5-.5 .9-.4 .5 .1 1.4 5.3 .4 .7 .5 1.4 .5-.3 1.4-4.7 .4 .2 .9 4.7 1.9 4.1 .5 0 .9-5.7 .5-.9 .9 3.7 .5-.7 .4-1.4 .9 3.1 .5-1.5 .5-2.5 .4 .1 .5 .3 .5-2.7 .4-1.5 1.9 3.8 .5 .2 .4 0 .5-.7 .5-.2 .9 .9 .4 .8 .5-1.2 .5-3.2 .4-.6 1.4 3.3 .5 .4 .9-2 .5 1.4 .5 .3 .4-.4 .5 1 .4-.5 .5 1.8 .5 3.3 .4 .5 1-4.3 .4 .7 .5 .3 .5 0 .9 1.2 .9 .9 1-4.5 .4 .6 1.9 7.3 .4 1.2 .5-1 .9-7 .5-1.1 .9 3.7 1-2.3 .9 2.8 .9 4.9 .5 .8 .9-5.9 .5 .7 .4 3.7 .5-.7 .5-3.8 .4-1.4 1.4 3.1 .5 .5 .4-1.2 .5-2.4 .5-.3 .4 1.2 .5-1.6 .5-3.2 .4 1.1 .5 4.2 .5-.7 .4-3.5 .5-1.9 .5 .9 1.4 6.1 .4 0 .5-1.8 .4-.7 .5 .7 .5-.1 .4 .6 .5 1.1 .9 .9 .5-1.1 .5-.2 .9 4.7 .9-2.7 .5-.1 .4-.5 1.4-5.3 .5 .1 .9 2.2 .5 2.7 .5 1 .9-3.3 .5 .8 .9 4.8 .5 .8 .4-1.3 .5-2.6 .4 .3 .5 4.7 .5 2.3 .9-2.1 .5-.1 .9-3 .5-.9 .4-.4 .5 .5 .5 1.8 .4 .6 .9-4 .5-1.2 .5 2.1 .4 1.2 1-4.2 .4 .1 1 7 .4 .4 1-4.7 .4 .1 .5 1.8 .5 1 1.3-4.5 .5 .8 .9 3 .5-.1 1.9-3.2 .9 3.5 .5 .5 1.3-2.1 .5-.1 .5 .8 .4 .4 1-2.6 .4 .3 .5 2.9 .5 1.7 .4-.8 .5-1.5 .9 1.6 .9-5.2 .5-1 1.4 4.8 .5-.5 .4 1 .5 3.7 .5 1.4 .9-4.3 .5-.5 .4 1.4 1 1.2 .9 4.7 .4-.7 .5-2 .5-1.2 .9 2.3 .9-5.8 .5-.7 1.4 3.3 .5 .5 .4-.3 .5-1.9 .4-.9 .5 .2 .5-1.1 .9-3.7 .5-.9 .4-.3 1 2.2 .9 6.1 .5 1.2 .9-1.9 .9 .2 .9 2 .5 .6 .5 .3 .4-.2 1-2.7 .4-.5 .5-.2 .5 .6 .9 0 .5 .6 .4 .3 .9 2.9 .5-.1 .5 .4 .4 0 1-2 .4-2 .5-.8 .5 .2 .4-.3 .5 .9 .5 2.7 .9 2.6 .4 .5 1-6.2 .4-.6 .5 1.3 .5 .6 .4-.3 1-3.3 .4-1 .5 .1 .5-.4 .4-1.7 .5-.8 .5 1 .9 4.6 .4-.2 .5-1.4 .5 1.6 .4 3.5 .5 1.7 1.9-7.8 .4-.2 .5 2.3 .5 .5 .4-1.3 .5-.5 .9 5.6 .5 1.6 1.4-5.9 .4 .3 .5 1.9 .5 .8 .4-.6 .5 .2 .5 .6 .4-.7 .5-1.3 .5 1.7 .4 3.9 .5 1.3 .4-1.3 1 .4 .4-1.9 .5-.8 .9 4.2 .5-1 .9-4.9 .5-.9 .4 8.1 .4 95.4 .6-9.5 .4-2.3 .5-1.9 .5 .7 .4 1.6 .5 .7 .5-1.4 .9-6.8 .5 1.4 .4 4.5 .5 1.7 .5-1.6 .4-.1 .5 1.7 .5 .3 .4-.2 .5 .4 .4-.7 .5-1.7 .5-3 .4-.9 1.4 5.8 .5-1.1 1.4-7.9 .5 0 .4 2.2 .5 1 .4-.1 .5 1 .5 .2 .9 5.4 .9-2.1 .5 .2 .5-.7 .4-1.6 1-2.1 .4-.6 .5 .4 .9 .2 .5-1.2 .4-.3 1 5.2 .9-2.7 .5-.5 .9-3.8 .5-.2 .9 3 .5-.5 .9-3.9 .4 .8 1 6.1 .4 1.4 .5-.5 .9-6 .5 .8 .5 2.3 .4 .7 1-3.4 .9 1.2 .4 1.8 1 5.6 .4 .1 .5-.6 .5-1.4 .4-.7 .5-.1 .5 .2 .4 1.1 .5 .3 .5-1 .9 0 .9-1.4 .5 0 .9 2.6 .5 .7 .4-1.6 1-6.4 .9-1.5 .9 3.3 1.4 4 1.4-1.9 .5-1.4 .4 .3 .5 1.9 .9-.1 .5-.3 .5 .6 .4 .1 1-4.6 .4-.4 .9 3.6 .5 .5 .5-.7 .9-2.6 .5 .8 .4 2.4 .5 .7 .5-1.6 .9-1.6 .5 .2 .9 5 .5 .8 .9-2.7 .9 .1 .5 .5 1.4-3.2 .4 .5 1.4 7.4 1-4.1 .4 .5 .5-1.5 .4 .2 .5 3.3 .5 .8 .4-1.9 1-8.5 .4-.8 .5 3 .5 1.5 .9-4.5 .5 1.3 .4 2.4 .5 1.1 .5-1.1 .9 .1 .4-.4 .5 .5 .9 1.9 1 2.4 .4-1.1 1-1.2 .4-1.7 .5 1.5 .5 3.3 .4 1.8 .9 .8 .5-.4 .9-4.6 1 4.5 .4-.4 1-2.1 .4-1.8 .5-.6 .5 .2 1.4-.7 .4 .4 .9 3 .5-2 .5-3.5 .4-1.5 1 2.4 .4-1.7 .5-.7 1.4 1.6 .5 .1 .4 .7 .9 2.5 1-.9 .9 1.8 .9-4.4 .5-.1 1.4 .7 .5-.3 .4 .4 .5 0 .9 2.1 .9-3.2 .5-.5 .5 .2 .4 1 1 4.1 .9-4.6 .5-.8 .4 .9 1-2.6 .4 .5 .9 4.9 .5 1.3 .9-4.8 .5-.7 .5 1.9 .4 1 1-3 .4 .1 .5 1.1 .5 1.9 .4 .2 .5-1.2 .9-1.1 .5-1.5 .4 .1 .5 1 .5 .1 .4 .4 1 2.9 .9-2.4 .5 .9 .4 2.3 .5 .7 .9-.7 .5-1.6 .9-1.7 .9-3.6 .5 .7 .9 7.1 .5-2.2 .5-4.1 .4 1.8 .5 4.1 .5 .3 1.8-4.4 .5 1.4 .4 3.5 .5 2 .5-.8 .9-4 .5-.4 .9 5.1 .5-.5 .4-2.6 .5-.9 .4 .7 .5 1.6 .5-.2 .9-5.5 .5 .8 .4 4.2 .5 1.9 .5 .2 .4 1.9 .5 .6 .5-.4 .9 1.3 .9-5.7 .5-1.8 .4-.6 1 3.5 .4-.2 .5 .6 .5 1.1 .4-1.5 .5-.4 .9 3.9 .5-.8 .9-3.1 .9-2 .5 .2 .5 1.2 .9 .7 .9 1.2 1-2.4 .4-.4 .5 .1 .5-.3 .4-.8 .5 1.5 .5 .7 .4-2.4 .5-1.2 .4 .5 .5 1.5 .9 4.6 .5 .4 .5-1.4 .9-1 .5 .1 .4 1.6 1-1.3 .4 1.3 .9-2.9 .5 .8 .5-1 .4-2.1 .5 .5 .9 3.3 .5-.1 .5-.4 .4-1.3 .5-2.5 .5-1.2 1.3 4.9 .5 .4 .9-1.7 .5 .3 .9 6.8 .5-.3 .9-7.5 .5-1.7 .9 2.7 1-5 .4 1.1 .5 2.3 .4 .1 .5-2 .5-.1 .4 2 .5 .7 .5-.5 .9-1.7 .5 0 .9 3.7 .5 0 .9-2.7 .4 .9 .5 2.8 .5-.9 .4-4.5 .5-1.5 .5 1.1 .9 1.4 .5 .4 .4 0 1 4.2 .9-3.9 .5 .9 .9-3.6 .9 3.5 .5 .6 .9 3.3 .5-.1 .4-2.6 .5-.3 .5 1.3 .4-.6 .5-1.9 .5-.4 .9 3.8 .9 .7 .9-2.7 .5 0 .5 .8 .4 .5 1-.4 .9-.8 .5 .3 .4-.2 .5-2 .5-1 .4 .8 .5 .3 .4-.5 1-.5 .4-1.4 1 1.9 .4-.9 .5-.4 .5-.1 .9 .6 .5-.7 .9 1.5 .4-1.7 .5-.9 .5 .4 .4 1.4 .5 3.3 .5 1 .9-7.4 .9 4.5 .5 .1 .9 2.5 .5-1 .9-5.3 .5 3.3 .4 5.9 .5 .2 .5-4.2 .4-2 .5 .3 .9-.8 .5 1.1 .5-.2 .9-1.4 .5 .4 .9 0 .9 1.7 .5 1.3 .4 .2 .5-1.6 .5 .3 .4 1.3 1-.3 .4-.4 .5 .5 .5 1.3 .9-2.1 .9-.7 .9 4.8 .5-.1 1.4-6 .5-.1 .9 3.5 .5 1 .4-.3 .5-.8 .5 .2 .4 1.3 .5 .2 .4-1.6 .5 .6 .5 3.9 .4 .3 1-7.4 1.4 1.4 .4 1.9 .5 .4 .9-.7 .5-1 .4 .4 .5 1.6 .5 .7 .4-.6 1-4 .4-3.5 .5-1.3 .9 2.5 1-1.4 .9 4.3 .9-1.4 .9 3.5 .5-1.2 .5-3.3 .4 .1 .5 1.9 .5 1 .4 .5 1.9-8 .5-.4 .4 1.5 .5 .6 .4 1.3 .5 3.1 .5 1 .9-3.2 1.4-1.8 .9-1.6 1 1.4 .4 0 .9 2.7 .5 .4 .5-2.7 .4-1.4 1 3.9 .4 .6 1-2.5" fill="none" stroke="#ee1c24" stroke-width="1.8" stroke-linejoin="round" />
<path d="M878.6 1590.8l.5 .1 .4 1.9 .5 .2 .5-3.2 .4-1.9 1 5.5 .4 0 .9-1.2 .5-1.1 .5 0 .4 .2 .5 2.2 .5 .8 .9-6.4 .5 .8 .4 1.6 1.4-3.5 .9 3.7 .5-.4 .5 0 .4 .8 .5-.1 .5-2.4 .4-1 .5 1.2 .9-2.6 1 2.2 .4-.5 .5 .8 .9 4.5 .5-.4 .4-.9 1 2.6 1.4-8 .4-.9 .5 .7 .5 1.9 .4 3.5 .5 1.9 1.8-1 .5-.9 .5-2 .4-.8 1 3.4 .9-2.6 .5 .2 .4-.6 .5-1.9 .5 0 1.3 5 .5-.5 .5-1.6 .4 0 .5 .6 .5-.5 .4-1 1-3.1 .9 5.5 .5 .4 .9-4.3 .9 3.1 .5-3.4 .4-1.8 1 6.6 .4 .4 1-5.6 .4-1.3 .5 .9 .5 3.1 .4 1.9 .5 .8 .5 2.3 .4-.5 .5-1.2 .4 1.9 .5 .7 .5-1.6 .9-6 .5-1.4 .4-.5 1 2.7 .4-.3 1.4-2.1 1 4.1 .4 .7 .5-1.7 .9-6.3 .5 .5 .9 2.9 .5 .3 .4-.4 .5-1.1 .5 .9 .4 4.1 .5 1.7 .9-5.4 .5-.1 .9-2.2 .9 4.8 .5 .5 .5-.6 .9 2.5 .5-.2 .4-.9 1-.5 .4 .1 .9 2.3 1 1.1 .4-.5 .5-1.5 .9-.5 .5 4.9 .5-.2 .4-.6 1.4-21.9 1-18 1.8-23.8 .9-4.5 1-1.8 .4-2.4 1.9-15.1 .5-.8 .4 1.1 1.4 1.4 .5 0 .4 .4 .5-.1 .5-2.4 .4-.7 1 4.6 .4 .2 .5-.1 .9-1.4 .5 1.8 .5 3.2 .4 .7 1.4-2.9 .5 .2 .4 .5 1 2.2 1.4-3.8 .4 0 .5 3.1 .5 .3 .4-1.5 .9 .9 .5-.6 .5 .5 .4 1 .5 .3 .5 1.5 .4 .7 .5-1.1 .5-2.6 .4-1.1 1 6.2 .4 .8 1 2.5 .4-.9 .5-1.8 .4-.7 .5 .1 .9 5.5 .5-.5 .9-5.2 .5 .4 .9-1.1 1 2.7 .4 0 .5-.7 .4 .7 .5 2.6 .5 .8 .9-3.5 .5-.6 .4-.3 .5 .2 .5 1.2 .4 .3 1-.1 .4 .6 .5 .1 .9-4.9 .5 1.5 .4-.1 .5-1.4 .9 9.1 .5 .6 .5-3.7 .4-2 1 4.7 .4 .3 .5-.4 .5-1.4 .4 0 .9 5.6 .5 1.3 .9-2.7 .5 .9 .5 1.7 .4 0 1-6.8 .9 4.9 .9 3.2 .5 .2 .9-1.8 .5-.4 .9 .7 .5-.2 .4-.9 .5 .4 .5 1.7 .4 .3 1-3.4 .4 .4 .5 3.4 .5 1.1 .9-1.7 .4 1 .5 3.1 .5 .5 1.4-7.1 .9 3.4 .5-2.8 .4-1.2 1 1.3 .4 1.5 .5 .6 .4-.9 .5 0 1.4 3.9 .5-.4 .9-2.6 .5-.5 1.8-.5 .9 1.8 1.4-.3 .5-.7 .5 .1 .9 1.9 .5 .7 .4 .3 1-3.9 .4 1.7 .5-.6 .5-2.2 .9-.7 .4 .3 1.4 6.7 1-2.4 .4-.2 1 1.6 .4-.2 .5-.8 .5 .3 .4 1.8 .5 .9 .9-2.6 .5-2.2 .4-.5 1 5.5 .4 1.4 1-3.8 .4-.7 .5 .7 .5 1.4 .4 .5 .5-1.8 .5-.2 .9 .6 .9 5.9 .5 .1 .4-2.2 .5-.6 .5 1.2 .4 0 .5-.8 .5 .3 .4 .8 .5-.1 .9-3.4 .5-.9 .4-.1 1.4 3 .5 .1 .5-.6 .9 2.2 .9 1 .5-1.3 .5-2.9 .4-1 .9 5.3 .5 .8 .9-4.4 .5-.4 .9 3.1 1 1.1 .4-.3 1-4 .4-.2 .5-.9 .5-1.6 .4 .9 .5 2.8 .4 1.3 1-.2 .9-1.5 .9 1.8 1 .9 .4-.3 .5-.9 .5 .1 .9 1.2 .4 .2 1 1.7 .4 .2 1-1.7 .9-4.5 .5 1.1 .9 6.8 .5 .8 .4-.1 1-4 .4-.9 .5 .1 .4-.4 1-.3 .9-5.6 .5 1.5 .4 2.9 1 1.7 .9 .5 .9 3.8 1.4-.3 .9-6.8 .5-.9 .9 2.3 1 1.1 .9-1 .9 3.4 1.4-5.1 .5-1.1 1.4 3.5 .4-.4 .5-1.5 .5-.3 .4 .9 1-1.2 .9 2 .5-.1 .4 .6 .5 0 .9-2.9 .5 1 .4 2.7 .5 .5 .9-5.2 .5-.3 .5 1.7 .4 3 .5 1 .9-5.8 .9 3.3 .5-2.3 .5-.2 .4 2.8 .5 1.3 .5-.4 .9 1.1 .5-.5 .9-2.9 .5 .1 .4 .9 1 3.3 .4-.2 .9-2.5 .5-.3 .5 .1 .9 3.9 .5 1.2 .4-.8 .5-2.7 .5 0 .9 6.6 .5-1.1 .9-4.1 .4-.1 .5 .7 .5-.1 .4-.9 .5-.4 .5 .4 .4-.3 .5-1.4 .5-.6 .9 6.3 .5-2.4 .4-4.8 .5-1.5 .9 .6 .5 1.2 .9 6.2 .5 1.6 .9-2.4 .9-.6 1-.1 .9-6.4 .5 .2 .9 3.3 .4 .4 1-4.6 .9-2.1 .5-.3 .4 1.8 1.4 3.1 .5-1.4 .5-2.6 .4-.4 1.4 1.9 .9 2.2 .5-.5 .5-2.4 .4-.6 1 5.4 .4 1.2 .5-.7 .5-.2 .9-4 .5 .1 .9 4.2 .4 .2 1-2.8 .4 1.1 .5 .5 .5-1.7 .4-.1 .5 .9 .5 1.9 .4 3.6 .5 .4 .9-5.1 .5-.2 .4 .5 1 6.4 .4 .3 1-5.1 .4-1 .5-.1 .5-1.2 .4-2.3 .5-.5 .9 4.4 .5 .9 .9-3.4 .5-.8 .9 .6 .5-1.1 .4-.5 .5 2 .5 0 .4-.5 1 2.6 .4-1.4 .5-3 .4 6.6 .4 54.2 .5-5.6 .5 .7 1.4-6.2 .5-1 .9 1.4 .5 0 1.4 3.9 .5-.8 .4-3.3 .5-.1 .5 1.7 .9-.2 .4 .4 1.4 5.3 .5-1 .9-5.9 .5 .1 .5 .9 .9-2.4 1.4 4.5 .4-.1 1-4.7 .9 4.6 .5-.2 .4-1.7 1-2 .4-.5 .5 .4 .9-.9 .5 .6 .9-1.3 .5 .2 .4 1.1 .5 .5 .5-1.1 .4 .2 1 2.9 1.4 3.5 .9-.2 .5 .3 .4-.3 .9-4.2 .5-.7 .9 3.7 .5 .8 .5-.4 .4 .3 1-.8 .4 0 1-1.6 .4 .2 .9 1.1 .5 0 .9-3.8 .5 .6 .9 4.4 .5 .7 .9-1.2 .5-1.4 .5-.5 .9-.2 .5 .2 1.3-.9 1-1.3 .9-2.6 .5 0 .4 1 1 3.9 .9-1.7 .9 3.2 .5-.8 .4-2.4 .5-.6 .9 2.8 1.4-2.5 .5 .2 .5 2.2 .4 1.2 .5-.9 .5-.3 .9 1.9 .4-.9 .5-1.6 .5 0 .4 2.3 .5 1.2 .9-2.9 .5 0 .5 .8 1.4 .2 1.8-4.1 .9 .7 1-4.7 .9 4.7 .9-3.5 1.4 1.2 1 5.8 .4-.9 .9-8.1 1 3.4 .9-2.1 .5 .4 .4 1.6 .5-.8 .5-1.8 .9 2.1 .5 0 .9-3.9 .9 .8 .5-.5 .4 .1 .5 1.2 .9 4.4 .5 .8 .9-1.4 1 2.9 .4 .1 .5-.4 .5-1.7 .4 .4 .5 1.1 .9-2.8 .5 .9 .4 3.2 .5 1.5 .9-4.1 .5-.6 .9 1.6 .5-.3 .5 .8 .4 3.2 .5 1.4 .5-1 .4 .1 .5 1.6 .4-.1 1-2.9 .4-.3 .5-1.7 .5-3.2 .4-1.1 1 4.9 .4-.7 1-6.5 .4-1.3 .5 .9 .9 7 1.4-1 .5-.1 .4 2.4 .5 .7 .9-5.9 .5-.9 .9 .1 .5 .5 .4-.3 .5-1.9 .5-1 1.4 4.9 .4 .2 .5-.2 .5 .7 .4 1.2 .5 .3 .5-1.6 .9-6.1 .5-1.3 .9 6 .4 1 .5-.7 .5-2 .4-.3 .5 .8 .9-2 .5 .9 .9 8.1 .5-.1 .9-7.8 .5-2.3 .4 .8 1 4.1 .4-.4 .5-1.2 .5-.2 .9 2.7 .9-1.6 .5 0 .5 1.3 .4-.9 .5-2.6 .5-1 .4 1.1 .5 .8 .4 .2 .5 1.2 .9 4.9 1-2.6 .4 .6 .5-.8 .5-1.7 .4-.8 1-4.7 .4 1.1 .5 2.6 .4 .8 .5-.2 .5 .5 .9-.7 .5-.1 1.4 5.2 .4 .2 .5-1.2 .9 0 .5-1 .4-.1 .5 .4 .9-.6 1 3.1 .4 0 .5-.7 .9 2.2 .5-.7 .5 0 .4-.6 1.4-4.1 .9 2 .5-.6 .9 2.7 1-3.5 .4-.2 .5 .8 .5 2.3 .4 1.2 1-4.8 .9 .7 .4 1.4 .5 .6 .5-.6 .4 .3 .5 .6 .5 2 .4-.1 .5-3.2 1.4-4.9 .5 .4 .9 1.9 .9-2.9 .5 .9 .9 4.7 .5 .1 .4-2.1 .5-.7 .9 2.9 .5-1.1 .5 .9 .4 1.8 1-1.3 .4 0 .5-.8 1.4-5.3 .9 8.5 .5 .1 .9-7.2 .5-1.5 .9 1.9 .5 0 .4 .3 .5 1.7 .4-.9 .5-1.9 .5 .2 .4 .9 .5 .1 .5-.7 .4-.3 .5 .5 .9 3.7 .5 1 .9-1.3 .5 1.4 .9 5.4 .9-2.9 .5 .4 .5-.5 .4-2 .5-.7 .5 .2 .4 1.1 .5 .6 .9-3.5 .5 1.1 .5 2.5 .4 .7 .9-4.8 1.4 6.1 1 2.5 2.3-9.1 .5 1.2 .4 2.3 .5 .7 .5-.9 .4-2.2 .5-.4 .9 4.5 .5-.4 .9-6 .5-1.9 .9 2.3 .5-1.7 .4-.7 .5 .5 .9 .1 .9 3.1 .5 .6 .5 0 .4 1 1 4.5 .4-1.3 .5-4.2 .5-2 .4-.3 .5 .5 .5 1.2 .4 0 1 1.3 .9-4.9 .4-.2 2.8 5.1 .5 .3 .5-.6 .4 .1 1 2.3 .9-.3 .4 1 .5 .4 .5-.9 .4-3.1 .5-1.2 .5 1.3 .9 .7 .5-.4 .4-1.2 .5-.2 .5 .9 .9 3.8 .4-.2 .5-1.7 .5 .2 .4 .7 .5-.3 .5-.7 .9 1.1 .9-2.8 1.4 4 .5 .3 .9 3.1 .5 .4 .9-3.2 .5 .1 .9-.7 .5 1.6 .4 2.9 .5 1.1 .9-6 .5-.5 1.4 2.9 .4 .1 .5-.2 .5-.5 .9-.5 .9-4 .5-.8 .5-.2 .9-2 .9 .6 1 2.3 .4 .2 .9 3.5 .5-.3 .5-1 .9-2.6 .5 .2 .9 5.4 .5 .3 .9-3.9 .5-.7 1.3-1.1 .5 .5 .9-.5 1 .3 .9 2.6 .5-.3 .4-.6 .5-.1 .9 2.6 .5 .7 .9-2.7 .5-.7 .9 1 .9-.5 .5-.7 .9-4.1 .5-.8 .5-.4 .4-.1 1 2.5 .9-.6 .9-2.9 .9 3.8 .5 1.2 .5 0 .4-1.3 .5 .1 .9 .5 .5 1.5 .5 .4 .4-1 .5-2 .4-.4 .5 .2 .5-.4 .4 .5 .5 1.6 .5 2.7 .4 .7 .5-1.6 .5 .1" fill="none" stroke="#ee1c24" stroke-width="1.8" stroke-linejoin="round" />
<path d="M878.6 1587.1l.5 1 .4 .2 .5-.2 .5-1.2 .4-2 1 1.6 .4-2.2 .5 1.2 .4 3.4 .5 .4 .5-1.2 .9 2.1 .5 .6 .4-.7 .5-1.7 .5-.1 .4 1.2 .5 .5 .5-.1 .9-2.7 .4-.4 .5 0 .5 1 .4-.7 .5-2.7 .5-1.1 .4 1.1 .5 .2 .5-1.7 .4 .6 1.4 8.6 .5-1.6 .5-3.9 .4-1.4 .9 2.9 1 .5 .4 .5 1-.5 .9 .9 .5-.4 .4 .5 .5-.4 .5-1 .4 .2 .9 7.2 .5 .3 1.4-5.3 .5 0 .9-2.3 .9-1 .5 .9 .5 .2 .4-1.4 .5 .2 .4 2 .5 .4 .5-1 .9 .3 1.9-3.1 .9 4 .5-1.3 .9-6.6 .5 1.6 .4 3.5 .5 1.9 .4 1.1 1 1.1 .9-5.7 .9 1.7 .5-1.1 .9-1.3 .5 .6 .5 2.7 .4 .3 .5-2.7 .4-1.5 .5 .3 .5-.1 .4 1.1 .5 2.2 .5 .8 .9-1.9 .5 .2 .4 .9 1-.9 .4 .2 .5 .7 .5-.3 .4-.7 .9-.5 .5 .8 .9 4.7 .5 .9 .5-.9 .4-3 .5-.6 .5 1.7 .4 .7 .5-.3 .5 .4 .9 3.4 .4 .6 .5-.8 .9-3.9 1-1.3 .9 1.2 .5-.3 1.4-2.8 .4-.2 .9 4.3 1 2 .9 4.7 .9-5.7 .5 8.3 .5 .8 1.8-14.2 1-3 .9-4.8 1.4-3.7 .9-3.2 .9-8.1 .5-.5 .5 1.6 .9-3.4 .5 .5 .4-.6 .5-3 .4-1.2 .5-.2 .9-1.9 .5 .1 .5-1.5 .4-3.4 .5-1.8 .5 0 .9 5.7 .5-.9 .9-5.5 .5-.1 .4 2.1 .5-1.2 .4-3.3 .5-1.1 .9 3.3 .5 .3 .5-1.1 .4-1.9 .5-3 .5 .1 1.4 7.8 .9 2 .4 1.7 .5 .5 .5-1.7 .9-1.8 .5-2.3 .4-.3 .5 2.8 .5 .7 1.4-2 .9-2.5 .5-.3 .9 2.5 .9-1.8 .9 1.3 .5 1.3 .9 .6 .5 1.8 .5 .1 .9-6.4 .5-.4 .9 6.7 .4-.1 1.4-1.5 .5 .3 .5 .9 .4-.1 .5-.5 .5 .2 .9 1.3 .5 .3 .4-.8 .5-1.4 .4 .7 1 6.6 .4-1.1 .5-2.3 .5-1 .4 .5 .5 2.6 .5 .5 .4-1.5 1-.5 .4-1 1 2.1 .9 .7 .9-5 .5 .8 .9 4.3 .9 1.7 1 1.2 .4 .1 .5-.2 .9-1.4 .9 6.1 .5 .6 .9-.5 1-1.7 .4 .4 .5-.4 .5-1.9 .4-.5 .5 1 .5 .2 .4-.3 1 0 .4-.7 .5-.1 .4 1 .5-.8 .5-2.3 .4 .3 .5 1 .5-.9 .4-2 .5-.7 .5 2 .4 3.6 .5 .8 .5-1.7 .4 0 .5 .9 .9-.8 .5-1.1 .9-4 .5 1.7 .4 3.6 .5 1.2 .9-4.4 .5 .5 .9 4.1 .9-3.7 1 4.2 1.4-2.7 .4-.4 .5 2.1 .5 .6 .4-.9 1-.2 .4-.8 .5 .8 .9 5.2 .5 1.3 .9-2.4 .5 .8 .4-.8 .5-2.2 .9-2.6 1 2.6 .4-.5 1 2.2 .9-6.6 .4 .6 .5 2.8 .5 1.4 .4-.7 .5-.2 .9 3.4 .5-.6 .9-3.4 .5-.5 .9 4.1 .5-1.4 .5-3 .4 0 1.4 6.1 .5 .5 .4-.6 .5-.1 1.4 2.8 .9-2.2 .5 .2 .9 0 .5 .6 .9-1.5 .9 3 1-6.3 .4 1.1 1 3.2 .4 1.1 .5 .3 .5-1.3 .4-2.4 .5 .1 .4 2.1 .5 .4 .9-3.1 .5 .4 .9 3.3 .5 .2 .9-1.4 .5 1.5 .5 .9 .9-2.6 .5 .5 .4 1.5 .5-.3 .4-1.1 .5 1.3 .9-.9 .5 1.4 .5-.6 .4-2.3 .5-.2 .5 1.3 .9 1.2 .9 2.2 .5-.4 .4 0 .5 .3 .5-.3 .4-1.1 .5-.2 .9 2.1 1-1.5 .9 2.5 .5-1.6 .9-8.3 .5 0 .4 1.8 .9-.6 1 3.1 .9-.7 .9-1.8 1 1.4 .4-.2 1.9 1.5 .4 0 1 3.7 .4-.2 1-1.9 .4-.1 .5-.7 .9-4.5 .5 1 .9 5.4 .5 .5 1.4-7.4 .4 .8 .5 2.4 .5 .4 .4-1.3 .5 1.6 .5 .9 .4-1.7 .5-.6 .5 1.2 .4 2.2 .5 0 .5-2.3 .4-.5 .5 3 .4 .8 1-5 .4 .3 1 4.1 .4 1.2 1-2.7 .4-.6 .5-1.3 .5-.1 .4 .4 1.4-2.1 .5-.3 .9 2.2 .9-.2 .5-.5 .5-1.6 .4-.8 1 2.9 .4-.7 .5 0 .5 1.1 .4 0 .5-1.5 .4-.2 .5 1.4 .5 .4 .9 1.6 .5-1.8 .4 .3 .5 2 .5-.4 .9-3.1 .5-.6 .4 1.4 1.4 6.7 .5-.9 .4-1.8 .5-.7 .5 .6 .4 1.9 .5 .2 .5-2.4 .4-.9 .5 1.2 .5 .6 .4-.1 .5 1 .5 2 .4 .8 .5-.8 .4-1.8 1-1.5 .4 .2 .5 .7 .9-1.3 .5-.1 .5 .2 .9-1.6 .5-.3 .4-.8 .5 0 .9 2.7 .5-.7 .4-1.4 1 1.4 .4-.3 .5 .3 .5 .9 .4-.2 1-2.2 .4-.3 .5 .3 .4 1 .5-.1 .9-3.7 .5-.7 .5 1.7 .4 .9 1.4-2.3 1 3.6 .4 .2 1-2 .4-.4 .5-.8 .4 .4 .5 .9 .5 .2 .9 2.4 .5-.1 .4 .5 .5-.5 .5-1.6 .4-.2 .5 1.3 .9 4 .9-.7 1 1.7 .4-1.1 1-7.1 1.4 5.9 .4 0 .5-.8 .5 0 .4-.5 .5 0 .5 1.5 .4 2.6 .5 .5 .4-1.6 .5 .6 .5 2 .4 0 1.4-4.6 1-.3 .4-.9 .5 .2 .4 2.3 .4 23.2 .5-4.1 .5-.4 1-6.8 .4 .3 1 5 .4 .7 .5-1 .9-4.8 .5-1.2 .5 1 .9 4.4 .5 1 .9-.6 .9-2.8 .9 2.5 .5 .5 .5 1.3 .4-.4 .5-1.5 .5 1.6 .4 3.2 .5-1.5 .5-3.2 .4-1 .9-.9 .5 1.1 .5-.4 .9-4.4 .5 1.3 1.8 9.3 .5 .6 .9-7.2 .5 .4 .9 6 .5-.6 .4-1.1 .5 .9 .5-.4 .9-2.8 .9 .8 .5 .1 .5-.7 .4-1.3 1-.6 1.3-3.5 .5 .5 .5 2.1 .4 1.1 1-5.7 .4-.7 1.4 5.1 .5-.5 .5-.2 .4 1.4 .5-.2 .4-.8 .5 .3 .5 1.4 .4-.6 .5-1.7 .5 .1 .9 3.6 .5 .4 .4 0 1.4-3.5 1 2.6 .4 .1 .9-1 1 1.6 .9-1.5 .9-5.1 1 2.6 .9-1.9 .5-.3 .4 .4 .9 2.7 1-5.7 .4 1.1 .5 1.9 .9 .4 .5 1.2 .5 .6 .4-.6 1-2.7 .4 .4 .9 2.9 1-3.8 .4-.1 1 3.6 .4 3 .5 1.2 .9-4.3 .5-1.1 1.9 6.6 .4-.2 .9-1.8 .5-2 .5-1 .9 4 .9-5.4 .5 1.8 .5 3.6 .4 .9 1-1.5 .4-1.5 .5 .5 .4 1.9 .5-1 .5-1.6 .9 1.4 .9-2.6 1 .5 .9-.6 .5 1.2 .4 2.1 .5 .6 .9-2.7 .5-.9 .4-.1 1 3.8 .4 0 1-2.9 .4-3 .5 .3 .9 3.5 1 .8 1.3 2.1 .5-1.3 .5 .1 .4 .9 .5 .2 .5-.3 .4-1 .5-.1 .5 1.1 .4-.3 1.9-7.7 .5-.1 .4 1.6 .5-.7 .4-2.2 .5 .8 .9 4.5 .5 .2 .5-2 1.4-2.8 .9 .1 .9-2.2 .9 3.1 .5 .5 .5 0 .9-.5 .9 .6 .5-.4 .5 .9 .4 2.4 1-.2 .4 .4 .9-1.8 .5-.5 .9 5.7 .5 .1 .5-3.1 .4-1.4 1 4.2 .9 1.2 .5 1.3 .9 .1 .5 1.3 .4-.6 .5-2.4 .4-1.2 .5 1.3 .9-1.1 .5 .4 .9-.6 .5 .1 .9-1.3 .5 0 .5 .3 .4 1.5 .9 5.6 .5-1.7 .5-3.6 .4-.7 .5 1.1 .9-3.2 .5 .2 .9 7.3 .5 .9 .9-5.6 .5-.8 .9 4.5 .5 0 .9 1.8 1.4-6.6 .5-.4 .4 1.9 .5 .9 .5-1.5 .9-1.1 .5-1.2 .9 5.4 .4 .5 1-5.4 .4-.8 .5-.2 .5 1.2 .4 2.4 1 2.8 .4 0 1.4-5 .5-.5 .9 2.4 .5-.4 .4-2 .5 .2 .9 4.7 .5 1.4 .5 0 .4 1.2 .5-.4 .9-4.6 1.4-3.2 .5 .4 .4 1.3 .5-.9 .5-1.9 .4 .7 .5-.4 .5-1.1 .9 5.7 .5 2.1 .4 .7 1-2.2 .9 1.5 .4 1.5 .5-.8 .5-3.4 .4-1.7 .5 .4 .9 2 .5 .2 .9 1.4 .5-.3 .9 2 .5-1.7 .9-6.4 .5-.4 .9 7.5 .9-5.1 1 4.4 .4-.9 1-5.7 .4-.9 1 4.8 .9 1.4 .4 .3 .5-.6 .5-1.4 .4-2.9 .5-1 .5 2 .4 .5 1-4.9 .4 .2 .5 1.4 .5 .3 .9-3.5 .4 .7 .5 .4 .9 2.1 .5 .4 .5 1.2 .4 .5 1.4 3.7 .5-.2 .9-1.8 .5-.4 1.4 2.6 .4-1.3 .5-.6 .5 1.5 .9 .5 .5 .7 1.4-4.3 .4 .3 .5 3.5 .5 .6 .4-1.7 .9 2.2 1-2.5 .4-.7 .5-.2 .5 2.2 .4 .7 1-4 .4-.2 .5 .8 .5 .3 .9-1.4 .9 2.2 .9-2.5 .5 .4 .5-.6 .4-1.5 .5 .9 .5 2.3 .4-.3 1.4-8.6 .5 .6 .9 6.2 .5 1.1 .9 0 .5 .6 .4-.6 1-5.2 .4-1.2 1 3.9 .9 1.4 .9 4 .5-.1 .5-1 .4 .5 .5 1.7 .4 .3 .5-1.2 .5-.4 .4 .4 .5-1.8 .5-.7 .9 4.7 .5 .7 .4 .1 .5-.6 1.4-5.2 .4-.5 .5 1.2 .5 2.5 .4 .5 .5-1.7 .5-.7 1.4 2.5 1.4-.2 .9 3 .4-1.2 .5-2.9 .5-.6 .9 5.1 .5-.7 .4-1.7 1-1.3 .9-5.3 .5 .3 .4 1.3 .5-.2 .5-1.4 .4 .8 .5 3 .4 .6 .5-1 .9-3.7 1 2.3 .9-.3 .5 .8 .9 3.1 .5 .6 .4-.1 .5-.8 .4-2 1.4-3.5 .5 2.9 .5 1.4 .9-4.5 .5 2.3 .4 1 1-6 .9 3.1 .5-.2 .4-.6 .9-.7 .5-.1 .5 .3 .4-.6 .5-1.8 .5-.9 .9 .1 .5 .3 .4 .8 1 3.4 .9-2.3 .4-.1 1 1.3 .9 2.6 .5-1.3 .4-2.5 .5-.6 .9 6.9 .5 .1 .9-1.3 .5 .2 .9 3.2 .5 1.1 .4 .4 .5-.8 1.4-4.7 .5 .1 .4 .8 .5-.3 .5-1.3 .4-2.2 .5 .4 .5 3.2 .4 .3 .5-2.5 .4-1.4 1-.3 .4 1.6 1 1 .9 6 .5 0 .4-2.8 .5-.3 .5 2.1 .4 .5 .5-1.7 .4-.8 1 3.8 .9-.3 .5 1.4 .4-1.1 1-8.5" fill="none" stroke="#ee1c24" stroke-width="1.8" stroke-linejoin="round" />
<path d="M878.6 1587.3l.5 .6 .4-.8 .5 .4 .5 1.7 .4 .6 .5-1 .9-7.2 .5 1.5 .4 2.9 .5-.4 .5-1.8 .4 .2 1 3.6 .4-1 .5-1.8 .5-.1 .4 .9 1 5 .9-4.6 .9 3.8 .9-5.1 .5-.7 .9 3.4 .5 .1 .5 .7 .9-.1 .5 2 .4 .7 .5-1.7 .5-.7 1.3 3 .5-.7 .5-3 .4-1 1 .1 .9 4 .5-.4 .4-1.8 .5 .4 .5 1.4 .9-2.5 .4 .8 .5 .3 .5-1.3 .4 .5 .5 1.3 .9-1.9 .5 .7 .5-1.2 .4-3 .5 .3 .5 1.3 .4-.1 .9 .6 1-3.5 .4 1 1.4 5.5 .5-1.3 .5-.7 .4 .4 .5-.5 .5-2.1 .4-1 .5 .4 .9 2.9 .9-2.1 1 1.5 .9-3.7 .5 .4 .4 2.1 .5 .9 .5-.2 .9 3.5 .5-.2 1.3-3.7 .5 .6 .9 6.2 .5-.9 .5-3.5 .4-.8 1-.7 .4 .3 1-1.2 .4 .1 1-1 .4 .2 .9 1.4 .5-.4 .9-2.1 1-1.3 .4 .5 .5 2.5 .5 .3 .4-1.3 .5 1.4 .5 .4 .4-2 .5-1 .4 .8 1 .7 1.4 5.5 1.4-4.1 .4-.3 .5 1.3 .5 .4 .4 0 .5-.3 .9-4.7 .5 .4 .4 1.9 1 6.4 .4-.4 .5 6.6 .5 1.2 .4 2.8 .5-2.8 .5-6 .4-2.5 .5-.7 .9-5.4 .5-1.2 .4 1.3 .5-.5 1.4-9.9 .5 .6 .4-.8 .5-2 .5-.1 .4 .6 .5 0 .5-.5 .9-2.2 1.4-1.6 .4 0 1.4-2.1 .5-1.3 .5 1 .4 3.8 .5 2.1 .5-.6 .4-1.7 .5-.3 .5 2.1 .4 .3 .5-1.2 .4 .5 1 2.5 .4-.7 .5-1.4 .5 .3 .4-.4 .5-1.9 .5 0 .9 4.5 .5 .7 .9-.8 .9-4.8 .5 .4 .9 3.5 .9-.1 .5 .4 .5-.4 .4 .4 .5 0 .9-3.7 .5 1.8 .5 3.7 .4-.4 .5-2.1 .9 1.9 .9-5.8 .5 .5 .5 1.6 .4 .5 .5-.1 .9-1.8 .5 1.6 .5 3.1 .4 .3 .5-2 .4-.8 .5 .2 .9-2.3 .5-.4 .9 1.8 .5 .4 1.4 7.9 .5-1.2 .4-2.3 .5 .1 .4 1 .5-.8 .9-3.6 .5-.9 .5 .9 .4 .1 1-1.4 .4 1.2 .5 2.8 .5 1 .4-.8 .5 .4 .9 2.7 .5-.9 .4-1.9 1-1 .9-3.7 .5 .1 .9 4.4 .5-.6 .4-1.2 1 1.4 .4-1.4 .5-.3 .4 .1 .5-.5 .9 6.7 .5 .8 .9-5.9 1-2 .4 .7 .5 2.2 .5 0 .4 .2 .5-.6 .5-2.5 .4 .3 .5 2.9 .4 .4 .5-1.1 .5-.2 1.4 5.5 .4-.1 .5-.4 .5 .1 .4-1.9 1-6.5 .4-.3 1.4 6.3 .5-1.3 .4-2.4 1 2.5 .4-.6 1-5.6 .4-1.6 1 1.6 .4-.4 .5 .3 .4 .9 .5 .5 .5 2.2 .4 .5 .5-2.4 .5 1.6 .4 4.2 .5 .1 .5-1.4 .4 .7 1 5 .4-2.4 .5-5.1 .5-2.1 .9 4.3 .9-.8 .9 3.1 .5 .3 .9-4.6 .5 .5 .5 2.4 .4 1.3 .5-1.4 .9-5.5 .5 1.9 .4 3.7 .5 .7 .9-2.8 1 1.2 .9-3.6 .5 .7 .9 5.6 .5-1 .4-4.6 .5-.7 .5 2.9 .4-.1 .5-1.8 .4 .7 1 5.8 .4-1.3 .5-2.8 .5-.8 .9 3.2 .5 .3 .9-1.7 .9-1.1 .9-2.7 .5-.1 .9 3.9 .5-.1 .5-1.2 .4 .7 1.4 5.4 .5 0 .5-1.6 .4-.9 .5 1.1 .4 2.4 .5-.5 .5-2.6 .4-.1 1 1.8 .4 2 .5 .4 .5-1 .4-.3 .5-.8 .5-1.5 .4-.5 .5-.1 .9-1.1 .9 3.1 1-4.3 1.4 2.7 .4-.7 .5-1.9 .5 1.2 .4 3.6 .5 .8 .9-5.4 .5 .3 1.4 4.5 .4 0 .5-.7 .5 .2 .4-.2 1-3.9 .4-.2 1 3.7 .4-.8 1-3.3 .4-.2 .5 .9 .4 0 .5-1 .9-3.5 .5 .6 1.4 5.5 .5 .6 .9-4.8 .5-1.2 .4-.4 .5-.1 .4 .3 .5 .7 .9 7.8 .5-.1 .5-1.2 .4-.1 .5-.6 .5-2.3 .4-.9 1 3.1 .4-.1 1 .3 .9-2.3 .4 .6 .5 1.3 .5 .5 .9-3.5 .9 2.5 .5 2 .9 5.8 .5-1.4 1.4-7.9 .4 .7 .5 2.6 .5 .5 .4-.7 1 2.5 .9-3.8 .5 0 .9 1.6 .5-.2 .9-2.5 .4 1.5 .5 2.7 .5-.1 .9-2.4 .5 .4 .4 1.3 .5-.9 .5-2.7 .4-1.1 1 3.6 1.4 2.5 .4-.1 .9-1.9 1 1.2 .9 2.4 .5-.7 .4-1.9 .5-.8 .9 4.8 .5 .8 .9-3.5 .5 .3 .4-.4 .5-1 .5 .8 .4 .2 1-1.5 .9 1.2 .5-1 .4 .2 .5 1.5 .5 .4 .9-3.8 .9 1.7 .9-2.8 .5-.2 .5 1.4 .4 .3 .5-.3 .9 .3 1 4.5 .9-3.3 .5 2.6 .4 1 .5-1.2 1.4-6 .4-.9 .5 .1 .5 .6 .9-1.6 .5 1.1 .9 5.9 1.8-3.9 .5-1.5 .5-.1 .4 1 .5-.9 .5-2 .4 .6 1 3.9 .4 .8 .5-.4 .5-1.3 .9-5.3 .5-.6 .9 5.6 .4-.3 .5-2.9 .5-1.2 .9 3.7 .5-.4 .4-2.1 .5-1.2 .9 3 .5 .3 .9-1.6 .9-3.8 1 3.3 .4 .5 1.9-2.5 .9 1.8 1-2.6 .4 .3 1 4 .4 .5 .9-2.7 .5 1 .5 2.3 .9-.8 .5 0 .4-.4 1-3.8 .4-.5 .5 1.9 .4 5.7 .4 12.3 1-7.6 .5-1.1 .5-.4 .9 2.5 .5-1 .4-2.6 .5-.3 .9 4.3 1-2.1 .4 .4 1 5.2 .4 .1 .9-3.5 .5 .2 .9-3.8 .5-.2 .9 2.3 1-.6 .9 1.8 .5 .3 .9-1.6 .4 2 1.4 3.7 1.4-2.3 .5-2.2 .5 .1 .4 1.2 1.4-5.5 .5-.5 .9 2.4 .5 .6 .9 3.3 .5-.2 .9-2.7 .5 2.2 .4 5 .5 2.4 1.9-8 .4 0 .5 1.3 .4 2.9 .5-.2 .5-3 .4-1.7 .5 .1 .5 .7 .4 1.7 .5 .3 1.4-4.3 .9 .2 .5-.2 .9-1.9 .5 .6 .9 5.8 .5-1.8 .4-4 .5-1.3 1.4 6.1 .5 .3 .4-1.2 .5-.3 .5 .6 .4-.1 .9-3.5 1 6 .4-.5 .5-2.5 .5 0 .9 3 .5-.1 .4-3.2 .5-.3 .5 2.6 .4 1 .5-.4 .4-1.2 .5-.3 .9 1.6 .5 1.7 .5 .1 .4-.2 .5 .5 .9-4.7 .5-.6 .9-2.3 2.3 10.1 .5-.4 .9-7.6 .5-.5 .5 1.5 .4-1.2 .5-2.1 .5 1.5 .4 3 .5 .7 .5-.8 .9-3.1 .4-.1 .5 2.2 .5 0 .4-2.2 .5 .2 .5 1.8 .9 1.9 .5 .4 .4-2.1 .5-3.7 .5 0 .9 8.7 .4 1 .5-1.9 1.4-8.9 .9 0 .5-.3 .5-1.1 .4 0 1 4.3 .4-.5 .5-1.7 .5-1 .4 1.3 .5-.5 .4-1.4 .5 1.4 .5 2.4 .4 .4 .5 .2 .5 .5 .4 .1 1 3.8 .4-.3 .5-2.2 .5-.9 .4 0 .9 .8 .5-1.3 .9-4.3 1 5.7 .4 .3 1-5.6 .4 0 1 5.3 .4 .4 .5-2.2 .5-.7 .9 4.2 .4 1.1 .5 .1 .5-.3 .4 .2 .5-.3 .9-1.1 .5-1 .9-2.9 .5 .2 .9 2.9 .5 .7 .4-.1 1.4 4.3 1-3 .4-1.1 .5-.5 .5 .7 .9 3.9 .5-.4 .4-2.4 .5-1.1 .4 .3 .5-.9 .5-.3 .4 2.3 .5-.2 .5-3.2 .4-1.1 .5 .6 .5-.6 .4 .2 .5 2 .5-.2 .4-2.6 .5-1 .9 4.2 .9-1.1 1 3.3 .4-.2 1-4.7 .4-.7 .5 2.2 .5 .8 .9-1.8 .5-2.2 .4-.8 .9 7.1 .5-.8 .9-2.6 1-3.7 1.4 2.7 .9 2.5 .5-.1 .9 2.4 .5 .6 .4-.4 1.9-9.4 1.4 2.1 .9 3.8 .9-2.8 .5 .4 .5 1.2 .4 .4 .5 0 .9-3.8 .9 3.2 .5-.2 .5-1.6 .4-.2 1.4 3.3 .5 1.7 .5 .3 .9-4.3 .9 1 .5-1.2 .4 0 .5 2.8 .5 1.6 .4-.6 1.4-2.8 .5 0 .5 .2 .9-1.6 .5 .4 .4 2.5 .5 .2 .4-2.4 .5-.1 .5 1 .9 1.2 .5 1.2 .4-.6 .5-2.1 .9-1.3 .5-1.9 .5-.5 .9 4.9 .4 1.2 1-4.7 .9 7.4 .5-1 .4-3.3 .5-.9 .5 1.7 .4 .5 .5-1.3 .5 1.4 .4 2.9 .5 .2 .9-4.1 .5-.3 .9 4.3 .9-1.1 .5-.1 .5-.3 .4-1 .5-.3 .5 .6 .4 .2 1-2.6 .9 5.3 .4-.4 1-4.9 .4 .4 .5 1.2 .5-1.1 .9 1.9 .5-.6 .4 .9 .5 1.8 .5-.2 .4-1.1 .9 .3 .5-.8 .5 .1 .4 1.7 .5 .3 .9-3 1-.7 .4 .6 .5 1.9 .5 .1 .4-2.2 .5-.4 .9 3.7 .9-3.4 1 1.9 .4 .4 1.4-9.1 .5 .8 .9 6.4 .5 1.4 .5 .3 .9 1.1 .9-2.1 .5-.2 .9-5.4 .5-.3 .9-1.5 1.9 7.2 .4-.8 .5-3.9 .5-1 .9 3.4 .4-.2 .5 .1 .5 .5 .4-.2 .5-1.5 .5-3.3 .4-1.8 1.4 7.3 .5 .2 .9-5.7 .5 1.8 .9 5.6 .5-.1 .4-1.5 .5 0 .5 .7 .4 1.5 .5 .3 .5-1.8 .4-.3 1 5.3 .4-.3 .5-1.3 .5 .5 .4-.4 1.4-9.8 .5 .3 .9 5.9 .5 .3 .4-2.2 .5-.6 .9 3.2 .5-.6 .5-1.3 .4-.3 .5 .3 .4-.9 1-3.7 .4-.8 1.4 1.5 1 4.1 .4 .4 1-1.8 .9-2.9 .4-.1 1 4.7 .4 .8 .5-.9 .9-.5 .5 .1 .5-.2 .9-2.4 .5 1 .4 2.4 .5 .8 .5 .2 .4-.7 .5 0 .4 .5 .5 .1 .5 .5 .4 1.6 .5 .7 1.4-4.9 .5-.6 .4 2.6 .5 1 .5-.5 .9 3.2 .4 1 1-1.5 .9-3 .5 .2 .4-.5 1-2.4 .9 1.8 .9 .7 .5 1.1 .5-.3 1.8-6.9 .5-.6 .9 5.5 1.9-2.1 .9 4.6 .9 2 .9-1.8 1 3 .9-2 .5 .3 .9-2.1 .5 1.1 .9-.3 .5 2.2 .4-.5 .5-2.5 .4 1.8 .5 3.5 .5-.8 .4-2.6 .5-.7 .5 .2 .4 1 .5 .2 1.4-3.1 .5 1.2 .4 4.7 .5 1.3 .9-6.7 .5-2 .9 2.4 1.4-4.2 .5 1.4 .4 3.4 .5 .9 .9-2.4 1-3.2 .4-.1 .5 .4 .4 1 .5 2.1 .5 1.1 .4 .2 .5-.9 .5-2.3 .4-1.3 .5-.4 .5 1.5" fill="none" stroke="#ee1c24" stroke-width="1.8" stroke-linejoin="round" />
<path d="M878.6 1589.8l.5-.9 .4 1.4 .5 2.9 .5-1.4 .4-4.3 .5-.7 .5 1.3 .4 .7 .9-2.1 1 7.7 .4 .4 .5-1.7 .5-.5 .4-.8 1.9-9.2 .5 .1 .4 2.5 .5 .4 .4-1.1 .5 1.2 .9 4.6 .5 .6 .9-.8 .5-1 .5-1.8 .4-.1 .5 1.8 .5 .1 .4-1.7 .5 .5 .9 .2 .9 2.4 .5 .6 .9-4.5 .5-.3 .9 3.9 .5-.3 .5-.6 .4 .3 1-7.2 .4 1.3 .5 2.9 .4 1.5 .5 .1 .9-3.5 .5-.3 .5 .8 .4 .3 1-.2 .9 4.3 .9-2.8 .5 2 .4 3.7 .5 1.5 .5-2.8 .4-1.5 1 2.2 .4 1.7 .5 .7 .5-.9 .4-1.7 .5 .3 .5 3.3 .4 .9 .5-.4 .5 .7 .9-5 .9 4.5 .5-.9 .4-1.7 .5 .1 .5-.2 .4-.8 .5-.2 .5-.9 .4 .3 .5 1.6 .5 .3 .9-1.4 .9-4.7 .5 1.2 .9 4.7 .5-.3 .4 1 .5 2.3 .5-.1 .4-.7 1.9-6.4 .9 1.6 .9-2.1 .5 .5 .5 1.3 .4 .5 1-3.3 .9 2.9 .5 .5 .4-.6 .5-.2 .9 4.2 .5 .3 1.4-3.5 .9 .6 .9-4.6 1 .9 .9-1.7 .5-1.3 .4-.3 .9 2.2 .5-.4 .5-1.1 .4 1 .5 .4 .5 2 .4 .7 .5 1.8 .5 .6 .4-3.9 .5 1.2 .5 .7 .4 .2 .5-1.4 .9-5.2 .5 .9 .4 1.5 1 1.4 .9-1.9 .9-2.6 .5 .5 .9 3.1 .5 .5 .9-1.6 .5-.4 .4 .4 .5-.1 .5-1.5 .4 1.3 .5 3.6 .5-1.1 .4-3.6 .5-.9 .9 4.9 .5 .6 1.4-5.1 1.4-1.5 .4-.3 .5 .5 .9-.8 .5 1.2 .9 4 1-1.9 .4 0 .5 .8 .5 1.7 .4 .3 .5-.1 .9-1.4 .5-.2 .9 .6 .5-.5 .9 .6 .9 1.5 1-5.1 .4 .6 .5 2.1 .5 .2 .4-.4 .9 2.2 .5-.5 .5 .2 .4 .8 .5 0 .5 .4 .4-.8 .5-.1 .5 .5 .4-.4 .5-1 .9 0 .5-2.2 .4-1 1 3.5 .4 1.1 .5-.4 .9-5.6 .5 .3 .5 1 .9-.6 .9 3.6 .5-.1 .4-.9 1 3.3 .4 .6 .5-1.1 .9-4.9 .5-1 .9 2.4 1 4.1 .4 0 1-2.5 .4 .2 .5 2.1 .4 .6 1-2.1 .9 2.7 .5-.6 .4-3.5 .5-.9 .5 1.2 .4 .4 1-3 .4 .2 .9 2.1 1 .3 .4 1.5 .5-.5 .5-1.1 .9 1.8 .5-1.4 .4-.5 1 2.8 .4-.5 .5-2.5 .5-.8 .9-.6 .4 .5 .5 1.6 .5 .7 .9-2.1 .5-.5 .4 0 1 4 .9-3.1 .5-.6 .9 2.9 .4-1.5 .5-.7 .5-.2 1.4 2.4 .4 0 1-1.8 .4 .2 1 2.9 .4-.6 .9-3.5 1 2.8 .9-1.3 .5 .3 .9 1.3 .5 1.8 .4 .6 1-3.2 .4-.4 1-2.1 .4-.1 .9 .5 .5-.3 .9 1.5 .5-.4 .5-1.4 .4 .1 .5 1 .5-.7 .4-1.2 .5 .4 .5-.6 .4-2.7 .5-.2 1.8 6.7 1-.7 .4-.9 1-6.1 .4-1.3 .5-.3 .5 .9 .4 1.7 1 1.1 .4 1.8 .5 .7 .4-.8 1 .6 .9 1.3 .5-.9 .4-.4 1 .2 .4 1 .5-.9 .5-2.1 .4-.3 .5 .9 .9 3.3 .5 .4 .9 3.6 .5 0 .9-3.3 .9 3 1-3.7 .4 .7 .9 2.9 .5 .3 .9-1.2 1-.4 .4-.8 1 3.3 .4-.1 .5-.4 .9-1.9 1 1.9 .4-.2 .9-1.2 .5 1 .5-.7 .4-1.6 1-.2 .9-3.1 .5 .3 .9 2.7 .5-.3 .4-2.4 .5-4.1 .4-.9 1 3.8 .9-2.6 .5 1 .4 2.2 .5 .5 .9-3.6 1 .9 .9-2.1 .5-.2 .4 .4 .9 5.3 .5 .7 .5-1.2 .4 .6 .5 1.4 .5-.9 .4-1.9 1-.2 .4-.5 .5-.2 .5 0 .9-.7 .4 .7 .5 1.3 .5-.3 1.4 4 .4-.8 .5-1.6 .5 .5 .4 1.1 .5-1.8 .5-.8 .4 1.8 .5 .4 .9-4.4 .9 3.2 .5-1.8 .5-3.4 .4-.8 1 4.7 .4 1.6 .5-.7 .9-2.2 .5 .9 .5 2.8 .4 1.4 .5-.1 .4-1.8 1-7.6 .4 .5 .5 2.2 .5 .6 .4-1.2 1 2.2 .4-.6 1 .1 .4-1.2 .5-.5 .4-.4 .5 .1 .5 2 .9 1.5 .5 .4 .4-2.6 .5-.7 .5 1.9 .4-.2 .5-2.1 .5-1 .9 6 .5 1 .9-1.8 .9 1.1 .5-1.1 .4-.5 1 1.3 .9 2.8 .5-.1 .9 .6 .5-.4 .4-1.5 .5-.8 .9 .8 .5-1.1 .4-.4 1 2.4 .4-.9 .5-.2 .5 2.2 .4 .3 1-4.1 .4-1.1 1 .7 .4-.8 .9 1 .5 0 .9 3.4 .5-.8 .9-7.1 .5-.6 .9 1.4 .5 .4 .9 5.2 .5 1.4 .9 .7 .5-1 .4 .6 .5 1.4 .5-.7 .4-2 1-6.1 .9 6.2 .5 1.2 .9-2.5 .4-.3 1 3.2 .4 0 1-6.5 .4-.7 1.4 2.2 .5 1.1 .5-1 .4-.3 .5 .6 1.8-7.2 .5 2 .5 3.7 .4 1.6 1 .1 .4 .9 .5 0 .9-3.2 1 3.7 .4-.1 .9-2.2 .5-1.6 .5-.6 .9 4.2 .5-.4 .4 .4 1 4.4 .4 .1 1-4.8 .4-1.4 .5-.4 .5 .3 .4-.3 .5-1.5 .4 1.4 .5 3.1 .5 .5 .4-.4 .5 .6 .5-.4 1.4-.4 .4 .3 .5 .7 .4-1 .4 7.2 .5-4.1 .5 2 1-3.6 .4-.3 .5-1.1 .5-.4 .9 2.8 .5 .4 .9-1 .9 1.8 .5-.8 .5-3.4 .4-1.4 .5-.1 .4-1.1 .5 1.2 .5 2.3 .4 .5 .5 0 .5 .5 .4 1.2 .5 .1 .5-2.1 .4-1 1.4 3.3 .5-.9 .9-3.4 .9 4.2 .5 .2 .5-1 .4-.4 .5 1.3 .5 .2 .4-2.1 .5-.6 .5 1.3 .4-.4 .9-3.6 .5 1.9 .5 3.3 .4 .7 .5-.7 .5-1.9 .4-.8 .5 2 .5 0 .9-5.4 .5 1.7 .4 3.5 .5 1.2 .5-.2 .9-1.2 .4 .3 1.4 3.6 1-3.7 .9 2.7 1.9-4.6 .9 2.6 .9-1.6 .5 .7 .4 1.4 1-1.5 .4 0 .5-1 .5-2.3 .4-1.1 1 1.6 .9 3 .9-.1 .9-2.1 1 3.9 .4 .2 1-2.2 .4 .7 .5 .3 .9 .1 .5-.8 .5 0 .4 .9 .9 1.2 .5 0 .9-3.1 .5 .1 .5-1.1 .4-.7 .5 .9 .5 .3 .4 .7 .5 .2 .9-5.1 .5 1.1 .4 3.7 .5 2.1 .9-.4 1 1.6 .4-.9 1-6.3 .4-.1 1.4 7.3 .5-.7 .5-2.7 .4-1 .9 4.5 .5 0 .5-.9 .9 1.5 .5-.2 .9-3.8 .5-.9 .9-3.1 .5 1.1 1.3 7.3 .5-.7 .5-2.4 .4-.3 .5 2.5 .5 .2 .9-5.3 .5-1.8 .4-.4 1.4 3.4 .5-.1 .5-1.3 .4-.3 1.4 6.2 .5-.5 .9-4.4 .5 .2 .4 .8 1-3.9 .9-1.5 .5 .1 .4 .8 .9 4.7 .5 .7 .9-1.8 1-.1 .4-.9 .5 .4 .9 .3 .5 1.6 .5 .7 .4-.8 .5-1.4 .5-.4 .4 .6 .5 .1 .4 0 1-.7 .9 0 .9 4.2 .5 1 1.4-7.1 .5 .7 .4 2.6 .5 1.7 .4 1 .5-.3 .9-3.7 .5 .2 .5 .6 .4-.1 .5-.5 .5 .2 1.8 7.2 .5-1 .4-2.4 .5-.2 .5 1.3 .4-2 .5-3.5 .5-.2 .4 1.9 .5 .8 .9-3 .5 1 .5 2.5 .4-.1 1-4.3 .9 1.7 .9 4.2 .5 .5 .4-1.5 .5-.8 .5 0 .9-4.3 .5 .5 .4 1.8 1 5.2 .9-4.9 .4-1.4 1 2.3 .4-.1 .5-1 .5 .6 .4-.4 .5-1.9 .5 1.4 .4 4 .5 2.1 .5-.3 .4-.9 .5-.2 .5-1.2 .4-2.2 .5-.6 .9 0 .9 3 .5-.7 .5-2.1 .4-.8 1 2.6 .4-1 1 1.6 .4 .3 .5 1.1 .9-3.1 .5-.5 .4 1.2 .5 .5 .9-6 1 5.4 .9 2.2 .5 .7 .4-.9 .9-4.5 .5-.4 .9 4.6 .5-.8 .9-3.4 .5 .9 .9 4.7 .5 1 .9-2.8 1 1.3 .9 2 .4-.4 1-5 .4 .3 .5 1.4 .5 .3 .9-3.3 .5 2.1 .4 3.8 .5 1.3 1.4-8 .9 3.7 .5-.4 .4 1.3 .5 2.9 .5 .1 .4-1.1 .5 .1 .5-1.8 .4-3.6 .5-.7 .9 6.7 .5 1.4 .9 1.2 .9-.8 1-4.2 .9 2.1 .5-.2 .4 1.3 .5 .2 .9-5 .5 .5 .5 1.4 .9 1 .4 .3 1 2.8 .4 .4 .5-.4 .9-3.7 1-1.3 .4-1.4 .5-.2 .9 3.2 .5 .1 .4-.2 .5 .2 .5-.9 .9-3.8 .5 .5 .4 2.3 .5-.2 .5-1.9 .4 .9 .5 2.4 .5-.2 .4-3.1 .5-1.2 .5 .5 .9-3.6 .4-.3 .5 .2 .5 1.3 .4 .1 .5-.9 .5 1.6 .4 3.2 .5 1 .9-4.2 1 .3 .4-.1 .9 2.7 .5 .3 .5 1 .4 .3 1-5.2 .4 .4 .5 2.2 .5 1 .9-2.6 .5 .8 .4-.4 .5-2.8 .5-.8 .4-.3 .5-1.7 .4 0 1.9 6 .9 2 .5 .4 .5-.6 .4-1.3 .5 0 .5 .8 .4-.1 .9 3.5 1.4-6.8 .5 1.2 .5 3.8 .4 .8 1-2.8 .4 .2 1 3.7 .4 .2 1-7.4 .4-1.8 .5 .2 .9 2.1 .9-1.3 .5 1 .5-.5 .9 5.6 .5-2 .4-4.3 .5 .4 .5 3.2 .4 .2 .5-1.3 .4-.1 .5 1.1 .9 1.3 .5 1.6 .5-1.5 .4-2.8 1 3.2 .4-1.6 .5 .9 .5 2.9 .4-.3 .5-2.1 .4-.7 .5 .2 .9 1.4 .5-1.1 .5-.1 .9 3.6 .5 .4 .4-.4 .5 .6 .5-.5 .4-2.4 .5-.3 .5 .6 .4-1.4 .5-.5 .9 4.7 .5-1.3 .4-4.5 .5-2.2 .5 2.3 .9 7.4 .5-2 .4-4.9 .5-2.5 .5 .8 .9 2.4 .9 .8 .5 1.8 .4 .7 1-1.9 .9 1.5 .5-.4 .4-1 .5-.4 .9 2.5 1.4-3.2 .5-.5 .4 .6 .5-.1 .5-.9 .9 1.4 .5-.2 .9 5.5 .5-.5 .9-9.3 .5 .9 .9 3.8 .9-1.5 1.4 5.4 .5-1 .9-4.7 .5-1.1 .4 .4 .5 1 .5-.4 .4-1.2 .9 4.3 .5-.2 .5-1.6 .9-6 .5-.3 .4 1.6 1 5.6 .4-.2 .5-1.9 1.4-2.3 .5 .8 .4 1.6 .5 0 .4-.7 1.4-3.4 1-.5 .4 0 1 3.5 .4-.1 .5-.7 .5-1.8 .4-.6 .9 8.2 .5 .3 .5-.6 .4 .2 1-1.7 .4-.3 1 1.1" fill="none" stroke="#ee1c24" stroke-width="1.8" stroke-linejoin="round" />
<path d="M878.6 1591.4l.5-1 .4-2.6 .5-1.3 .5 .7 .9 5.3 .5 .7 .4 .2 .5-.4 .9-3.1 .9 .8 1-2 .4 .5 .5 2.1 .5 .9 .9-4 .9 .6 .9 1.7 1-1.2 .4 0 .5-1.7 .5-4 .4-1.4 1 4.7 .4-1.1 .5-2 .9 4.9 1-1.3 .4 1 .5 .3 .9-.5 1.4 1.4 .5-1 .4-2.1 .5 .3 .5 1.7 .9-2 .5 .6 .4 1.7 .5 .9 .4-.1 1.4-4.7 1 3.8 .9-3.6 .9 4.1 .5 1 .9-1.2 .9-.3 1.9-4.9 .5-.1 .9 1.5 .5 .2 .4 .8 .5 2.5 .5 1.2 .9-1.7 .5 .5 .4 2.9 .5 .8 .4-1.7 1 .7 .4-.8 1-2.9 .4 .5 1.4 4.2 1-4.2 .4 .2 .9-1.1 1 2.5 .4-.8 .5 .5 .5 2.6 .4 1.2 .5 .5 .5-.4 .4-1.5 .5 1 .5 3.2 .4 .5 1-5.5 .4-.7 .5 .7 .4 1.6 .5 .3 .9-4.4 1 4 .4 .5 1.4-5.8 .5 .3 .5 1.1 .4 .4 .9-1.7 .5 0 .5 1.8 .4 .5 1-5 .4-.1 .5 1.5 .5 .1 .4-3.5 .5-.8 .9 6.4 .5 .5 .4-.7 1-4.7 .4-1 .5-.3 .5 .2 .4 5.6 .5 1.5 .5 .7 .4-3.1 .5 .8 .9-4 1-.8 .4 .5 .5 3 .4 1.6 .5 .2 .9-1.7 .5 .7 .9 2.8 .5 .5 .9-1.7 1-1.2 .4-3.6 .5-1.4 .9 7.9 .5 .7 .9-2.1 .9 2.3 1-3.3 .4 .3 .5 .5 .5-.7 .9-3.5 .5 1 .9 4.4 .4-1 .5-3.1 .5-1.6 .9-1 .5-1.5 .4-.1 .5 .9 .5-.7 .4-.2 1 2.2 .4-.8 .5-2.2 .4-.4 .5 1.9 .9 1.4 .5 4.8 .5 1.7 .9-6.6 .5 .1 .4 .5 1-1.8 1.4 2.8 .4-.2 .5 .5 1.4 4.7 .4 1.1 .5 .1 .9-.9 1-2.5 1.4-1.2 .9 .3 .9 1.6 .5-.3 .4 .2 .5 .6 .5-1 .4-.3 .5 0 .5-1.4 .4 .3 .5 .8 .5-.5 .4 .9 .5 2.2 .4 0 1-6.5 .9 4.2 .9 1.9 .5-.5 1.4-2.2 .9-2.9 .5 .3 .5-.5 .4-2.9 .5-.4 .4 1.3 .5 0 .5 .8 .9 3.4 .9-1.1 .5 .5 .5 0 .9-1.7 .5 .7 1.3 6.7 .5 .9 .9-5.7 .5-.7 .5 1.9 .4 .3 1-3.4 .4-.6 1 4.8 1.4-5.2 .4 .8 .5 2.7 .4 1.4 1-2.9 .4-.5 1 3.9 .4 .7 1-3.6 .4 0 .5 .2 .5-.2 .4-1 1.4-1.1 .9 2.7 .5 .5 .5 1.7 .4-.5 .5-2.1 .5 .9 .4 3.2 .5 .5 .5-1.5 .9 2.1 .4-.7 .5-.1 .9-1.1 .5 0 .5-.6 .4-1.1 .5-.1 .9-1.1 1 2.8 .4-1.1 .5-2.3 .5 .3 .9 4.6 .4-.5 .5-4.4 .5-2.3 .4 .5 1-2.5 .9 2.9 .5 1 .4 .2 .5-.3 .9-1.7 .9-.2 .5 .3 .5 1.4 .9 .5 .5 1.5 .9-1.3 .9 .2 1 1.1 .9-1.8 .5 .3 .4-.2 .5-1.7 .4-.6 .5 1.3 .5 .6 .9-1.2 .9 2.7 1.4 2.1 .5 0 .5-1 .4-.4 .5 .8 .9-1.6 .9-.8 1 .4 1.4-1.7 .4 .5 1 4 .9-2.2 1.4 1.3 .4-.2 .5 .4 .5-.3 .4-.7 .5 1.2 .5 2.2 .4 .9 .5-.4 .5-.2 .9 4.2 .5-1.2 .4-3 .5-1 .9 3.7 .5 .2 .4-1.9 .5-4.5 .5-2 1.4 6.8 .4 .7 .5-1.3 .5-2.3 .4-.9 1.4 3.5 .9-3 .5 1.8 .5 .5 1.4-5.4 .4 .4 1 4 .9-2.5 .5-.1 .4 2.3 .5 .8 1.4-5.4 .4 .5 .5 1.4 .5-1.1 .4-.5 1 3.8 .9-1.3 .5 .7 .4-1.4 .9-5.9 .5-.2 1.4 4.4 .5 .8 .4 .3 .5-.2 .5-2 .4 .3 .5 2.6 .5-.3 .9-3.1 .9 1.8 .9 1.2 .5-.4 .5 .5 .9 3.4 .5-1.6 .4-3.6 .5-.7 .5 1.9 .4-.7 .5-1.5 .9 3.5 .5-.3 .4-3.3 .5-1.6 .5 2 .4 .9 .5-1.5 .5-.7 .4 .6 .5-.1 .5 .5 .4 1.7 1-.6 .4 2.1 .5 .1 .9-1.5 .9-2.4 .5 .7 .5-.1 .4-1.6 .5-.4 .5 0 .4 .8 .5-.2 .5-.8 .4 1.4 .5 3.5 .5 1.7 .9-3.2 .4-.2 1 3 .9-3.8 .5 .4 .9 6.5 .5 2 .4-1 .5-2 .9-7.1 .5 0 .4 2.6 .5 .6 .5 .1 1.4 2.7 1.4 1.7 .4-.9 .5-1.7 .9-1.7 1-4.3 .9 4.5 .9-1.7 .5 1 .4-.4 .5 0 .5 2.7 .4 .8 1-4.3 1.4 1.9 .4 1.1 .5 0 .9-2.8 .9-.2 1-2 .4-.1 .5 .9 .5-.2 .4-.5 1 3.4 .4-.1 .5-.3 .9 .1 .9-.9 .5 1.2 1.4 6.8 .5-.3 .9-5.3 .5-.4 .4-1.3 .5-.7 .9 1.3 .5-.6 .4-1.4 .5 .5 .9 2.5 1.4-3.4 .5 .4 .5 .2 .4-.1 .5 .6 .5 2.2 .4 .7 .9-4.5 .5 .3 1.4 3.4 .9 4 .5-2.2 .5-4.8 .4-2 .5 1.3 .5 2.4 .9-2.7 .9 4.2 .5 .4 .4-1.1 1 2.6 .9-2.6 .5 1.2 .4 2.4 .5-.4 .5-2.6 .4-1.3 .9-.4 .4 6.8 .2-2.1 .3-.9 .5 .9 .5-2.9 .5-1.2 .4 2.5 .5 .9 .5-3.5 .4-1.7 1 4.5 .4-.5 .5 0 .9 2.7 1-4.4 .9-.4 .4-1.9 .5 .2 .5 1.9 .9 .2 .9 1.5 1-3 .4 .2 .5-.3 .5-1.6 .4-.2 .5 1.6 .4 .4 .5-.6 .5 .4 .9 2.2 .5-.9 .4-2.6 .5-.3 .5 1.7 .4 1 .5-.4 .5 1 .4 1.8 .5 .3 .9-1.8 .5 .3 .9-.4 .9 1.3 .5-.2 .5-1.1 .4 .3 .5 .8 .5-.3 .4-.5 1-5.5 .4 0 .9 4.8 1 .9 .4 .8 .5 .3 .5-1.2 .4-2.5 .5-.9 .5 1 .9 3.2 .9 1.4 .5 .1 .4 .7 .5 .2 .5-.5 .9-2.9 .5 1 .4 .4 .5-1.5 .5-.1 .9 3.1 .5-.4 .9-3.5 .5-2.8 .4-.8 .9 6.8 .5 .8 .9-1.8 .5 .9 .5-.1 .4-.9 1.4-.1 .5-.6 .5-1.2 .9 2.3 .4-.5 1-.6 .9-1.6 .5-.1 1.4 1.3 .9 3.9 .9 1.8 .5-1.6 .9-5.4 .5-1.4 .9 3.6 .9-.3 1-2.5 .4 .3 .5 .7 .5 .4 .9-2.3 .9-1.1 .5 .3 .4 1 1.4 1 1-3.1 .4 .2 1 3.6 .4 .7 .5 .1 .5 0 .4-.6 .5 1.2 .4 2.6 .5 .7 .5 .4 .4 .1 1.4-4.9 1.4 1.7 1-3.7 .9 1.3 .9 2 .5-1 .4-2 .5 .9 .5 2.8 .4 1.1 .5-1.3 .5-2.7 .4-1.3 1 2.3 .9 1.7 .9-.1 .9 2.6 1-1.8 .4 .1 .5 .5 .5 1.1 .4 .1 1-6.3 .4 .2 1 5.2 .4-.4 .5-2.9 .5 .2 .4 3.6 .5 .4 .9-7 .5 1.5 .4 2.8 .5-.8 .5-1.6 .9-.5 .5-.8 .9 4.2 .5-1.9 .4-.3 .5 2 .4-.9 .5-2.3 .5-.5 .4 .1 1-1 .4 .5 1 3.8 .4 .4 1-2 .4 0 1.4 2.6 .5 .5 .9-4.1 .5-.1 .9 4.3 .5 .2 1.4-5.8 .4 2.4 1 10.3 .4-.3 1.4-11.1 .5-.2 .4 3.1 .5 1.7 .5-2.4 .4-.6 .5 1.5 .9 1.6 .5 .4 .9-2.1 .5 .2 .4-1.4 .5-.7 .9 5 .5-.4 .5-2 .4-.3 1 2.5 .9-2 1.4 2 .5-.1 .4-.8 .5-.2 .4 1.3 .5 0 .9-3 1.4-2.6 1 2.5 .4-.3 .5 1.8 .5 .7 .9-5.5 .9 1.4 .9-2.6 .5 .2 1.9 6 .9-2.2 .5 .8 .4-.1 .9-3.3 1 3.2 .9-.2 1.4-3.2 .5-2.1 .4 0 1 4.1 .9 .4 .5-.2 .9-4.9 .9 6.5 .5 1.5 .9-5.8 .5-.7 .9 4.9 .5-.5 .9-6.9 .5 1.4 .4 2.5 .5-.6 .4-1.6 1 3.9 .4-.7 .5-1.6 .5-.3 .9 3.2 .5 0 .9-4 .5-.3 .4 .3 .5-.6 .9 5.2 .5 1.6 .4-.5 1-5.8 .4-.2 .5 1.4 .5 .5 .4-1.8 .5 .3 .5 2 .4 0 .5-1.2 .5-.2 .9 3.3 .4 .4 .5-.9 .5-.4 .4 .2 1-1.6 .4 0 .5-1.3 .5-.3 .4 1.9 .5 .2 .9-3.3 .5 1.2 .4 .2 .5-.5 .9 2.6 .5 0 .5-1 .9 3.2 .5 0 .4-1 .5 .2 .5 1.4 .4-.3 .5-1.3 .5-.5 .9-1.8 .9 4.1 .9-4.5 .5-.5 .5 .9 .4 1.7 .5 .9 .5-.2 .9-3.6 .9 .9 .5 .8 .9 4.5 .5 .4 .4-1.6 .5-1 .5 1.7 .4-.8 .5-2.7 .5 2.3 .4 4 1 1.5 .4-.3 .5-2.7 .5-1.6 .4-.7 .5 .8 .4 3.1 .5 0 .5-2.9 1.4-4.8 .4 .2 1 3.1 .4 .9 .5-1 .5-1.7 1.3-1.5 .5 1.5 .5 3 .4 .8 1.9-3.8 .9-.7 .5-.9 .5 1 .4 1.9 1 1.3 .4 1.5 .5-.7 .4-2.5 .5-1.2 .5 0 .4 .4 .5-.8 .5-2.2 .4-.3 1 .6 .9 3.4 .5 .8 .9-.1 .9 1.8 .9-1.9 .5 .1 .5 .5 .9-3 .9 1.5 .5 1.2 .5 .1 .4-1.9 .5-.4 .4 1.8 .5-.1 .5-1.9 .4-.5 1 1.8 .4 0 .5-.7 .9-5.1 .5-1.3 .5-.5 .4 1.2 1 4.4 .4-.3 .5-1.7 .4-.1 1.4 3.3 .5-1.3 .5-2.4 .4-.6 1 6.3 .4 .7 1-3.1 .9 3.6 .4-.4 1.4-3.8 .5 1.1 .5 2.2 .4 .5 .5 1.4 .5 2.3 .4 .6 .5-.5 .9-6.5 .5-2 .5-.3 .4 1.5 .5 .8 .4-.4 1 0 1.4 .5 .4 1.1 .5-.5 .5-2.4 .4 .5 .5 2.2 .9 1.7 .5 .2 .4-.4 1-2.8 .4-.2 1-3.5 .4 1.8 .5 3.3 .5 .5 .4-.6 1 3.5 .4-1.6 .5-4.7 .4-1.7 1 4.3 .4-.4 .5 .3 .9 2.2 .5-.6 .5-1.6 .4-.3 1 2.9 .4 .3 1 2.9 .9-5.1 .4-.2 .5 .8 .5 .2 .9-.5 .5 .1 .9-.7 .5 .9 .9 3.8 .5-1.3 .9-7.2 .4-.1 1 6.1 .4-.1 1-.8 .9-3.1 .5 .7" fill="none" stroke="#ee1c24" stroke-width="1.8" stroke-linejoin="round" />
<path d="M878.6 1591.7l.5 .4 .4-1.4 .5-.3 .5 .9 .4 0 1-4.6 .9-2.2 .4-2.3 .5 0 .5 2.9 .4 1.6 .5 .1 .5 .5 .4-.7 1-5.3 .4-.4 1 4.7 .9-1.8 .9 4.5 .5-2.5 .4-4.4 .5 0 .5 2.3 .9 2.8 .5-.1 .4-1.3 .5-.6 .5-.3 .4 .2 .5 1.6 .5 0 .4-1.3 .5-.6 .9 0 1.4 3.8 .5-.1 .4-1.6 .5-.7 .5 .7 .4 1.7 .5 .6 .5-.5 .9-2 .4 1.5 .5 2.8 .5 1.1 .9-1.8 .5 .2 .4-1 .5-2.3 .9-1 .5-2.3 .5 .5 .9 2.7 1.4 5.9 .4 .1 1-1.5 .4-1.4 1-6.3 .4 1.4 .5 4.6 .5 2.5 .4 .4 .5-1.2 .5 .1 .4 1.8 .5 .8 .9-7.1 .5-1.6 .4 .8 1 4.2 .4 .9 1-5.2 .4 .7 1 3.3 .4 .8 .5-.1 .4-1.5 .5-3.2 .5-1.3 .4 1 1-.2 .9 3.1 .5 .4 .4 1.1 .5 .4 .9-2.2 1.4-.5 .9 .2 .5 1.3 .5 .2 .4-1.8 .5 .6 .5 1.8 .9 .5 .5-.1 .4-2.7 .5-.7 .5 1.6 .9-1.8 .9 5.7 .5-.4 .4-2.2 1.9-6.3 .5 1.1 .9 5.2 .5 .9 .9-2.2 .9-3.6 .5-.5 .4 .1 .5-1.5 .5-.7 .9-77.7 .5 83.1 .4 2.3 1.4-7.2 .5 1.3 .5 3.1 .4 1.8 .5 .6 1.4-3.1 .4-2.3 .5-.2 .9 5.6 .5 1 .9-4 .5 1.1 .5 2 .4-.6 .5-2.8 .9-3.3 .5-3 .4-1.4 1 6.4 .4 .9 .5-1.5 .5-.7 .9 3 .5-.3 .4-1.1 .5-.5 .5 .6 .9-1.3 .4 .4 .5-.5 .9-4.1 .5-.3 .9 2.9 .5 .8 .5 .1 .9-.4 .5 0 .4-.3 .5-1.6 .4-.6 .5 1.5 .5 3.3 .4 1.1 1.4-3.9 .5-.4 .5 1.1 .4 .3 .5-.6 .5 1.4 .4 2.5 .5 .4 .9-3.6 .5 .2 .9 5.5 .5 .2 .4-.9 .5-.4 .5 .8 .4 2.5 .5-1.1 .5-3.6 .4-.1 1.4 5.7 .5 .4 .4-.2 .5-.9 .9-3.4 .5-.6 .5 0 .4 1.7 .5 .7 .9-4.8 1 2.7 .9-3.3 .4-.8 1.4 .8 .5 1.2 .9 4 .5-.3 .5-2.5 .4-.8 .5 2.1 .5 .2 .4-1.8 .5 .2 .5 2 .4 .6 .5 0 .4-1.4 .5-3.4 .5-1.6 .4 1.4 1 5.9 .4 .6 1-3.2 .4 .2 1.9 6.3 .9-5.7 .5-.4 .4 1.3 .5 .5 .9-.4 .5-.7 .5 .7 .4 1.8 1-.6 .4 .8 .5-.3 .5-1 1.3 3 .5 .3 .9-2.8 .5 .5 .9 2.7 1-4.4 .9 2.7 .9-3.7 1.9 2 .4-1.8 .5-4.4 .5-2.2 .9 3.9 .5 .8 .4-.6 .5-1.6 .5-.2 .9-1 .4-.2 1 3.9 .4 1.1 .5-.5 .5-1.1 .4-.3 .5-.7 .5-1.3 .4-.2 .5-1 .5-1.8 .4-.8 .5 .3 .5 1.4 .9 4.4 .4 0 .5 .3 .5 1.1 .4 .2 1-5 .4 .7 .5 1.9 .9 .6 .5-.5 .5-1.1 1.3-1.3 1 1.1 .4 1.5 1 4.7 .4 .4 .5-.5 .5-.1 .9 .8 .9 1.8 .5-.2 .5-.5 1.3-8 .5 .9 .9 4.9 .5 .6 .5-.1 .9-1.9 .9-4.7 .5-.4 1.4 3.9 .4 2.7 .5 1 .9-4.9 .5-1 .5-.2 .4 .9 .5 .3 .9-2.1 .5 1.1 .5 2.2 .4-1 .5-2.7 .9 3 .5 .4 .9-1.1 .9 3.9 1-3.7 .4-.9 1.4 3.3 1 1.3 .4-1.4 .5-2.8 .4 .3 .5 2.4 .5-.3 .4-.9 .5 0 .5-.7 .4-.4 .5 .6 .5 0 .4-.9 1-.8 .9-5.4 .4 .1 .5 .5 .5-1 .4 .7 .5 1.6 .9 0 .5-1 .5 .8 1.4 6.5 .4 1 .5-.8 .5 .6 .4-.3 .5-2.1 .4-.9 1 2.9 .4 .8 .5-1.7 .5-.7 .4 2.1 .5 .6 .9-3.2 .5-.9 .5-.3 .4 .1 .5 1 .4 .4 .5-.2 .5-1 .4-1.9 .5 .6 .5 1.8 .4-.7 .5-1.7 .5 .3 .4 2.7 .5 .4 .5-2.5 .4-.3 .5 3.1 .5 1.4 .4-.8 1.4-5.7 .5 .8 .9 4.3 .5-1 .4-1.9 1 .6 .4-1.6 .5-.8 .9 6.2 .5 .4 .4-1.6 .5-.4 .5-1.3 .9-4.7 .5-1.1 .9 .3 1.9 6.8 .4 .1 .5-.6 .4 .6 .5 1 .5-.4 .4-2.2 .5-.5 .5 1.5 .4-1.2 .5-3.7 .5-2.1 .4 .9 .5 3 .9 3.4 .5 1.1 .9-4 .5-.8 .9 4.3 .5-.6 .4-2.6 .5 .3 .9 6.4 .5-1.7 .9-5.9 .5 .2 .9 7.1 .5 1.5 .9-5.9 .5-.7 .4 2.4 .5 1.2 .5-.7 .9 1.2 .9-4.6 1 3 .4-.8 .5-.4 .5 .4 .4-.1 .5-.5 .4-1.4 .5-.4 .5 .9 .4 .4 .5-.5 .5 .5 .4-.4 .5-.7 .5 1.2 .4 .3 .5-.7 .9 .5 .5-.4 .9-1.4 .5 .2 1.4 4.3 .9 .9 .5 .1 .4-1.9 .5-.2 .9 2.3 .5 .2 1.4-2.5 .4-.3 .5 0 .5-1 .4-2.9 .5-1.2 .9 4.5 .5 1.1 .5 .6 .4 .1 1-1.5 .9-.7 .9-1.5 .5-1.6 .4-.5 1 6.1 .4-.7 .5-1.2 .5 .6 .4-1.7 .5-4.3 .5-2 .4 2.4 .9 8.6 .5 1.4 .5-.6 .9-3.5 .5 .2 .4-.8 1.4-4.9 1 3.6 .9-3.3 1.4 6.8 .4 1 .5-.5 .5-1.8 .4-4.6 .5-1.9 .5 1.1 .4 0 .5-1.5 .5-.6 .4 1.4 .5 .4 .4 3 .4 5.6 .5-1.9 1 .1 .9 .9 1-4.5 .4 .5 .5 2.2 .5 .6 .9-5 .5 .5 .4-.1 .5-1.6 .5 .4 .4 1.8 .5 .3 .4-.3 .5 .5 .5 1.3 .4-1.1 .5-2 .9 .2 .5 .4 .9 6.4 .5-1.3 .5-2.8 .4-1 .5 .7 .9-.6 1.4 4 .5 .2 .9-2.3 .5 .1 .4-.2 .5-.6 .5 .5 .4 1.4 .5 .1 .9-3.7 .9 1.2 1 2.2 .9-4.8 .9 2.3 .5-.2 .9 .8 .5-.5 .5 0 .9 4.9 .4 1.1 .5-.4 .9-6.5 1 1.1 1.8 5.4 .5-.2 .5-.6 .9 1.6 .4 0 1.9-7.9 .5-.5 .4 .8 .5 3 .5 1.6 .9-2.5 .5 .3 .4-.1 1-4.2 .4 1.1 .5 .3 .4-.9 1.4 6.8 .5-.3 .9-3.2 1 5.1 .4 .6 .5 0 .9-4 .5 1.3 .4 .7 .5-.6 .9 .8 .5 .9 .5-.8 .9-5.5 .5-.8 1.8 10.3 .5-.6 .9-7.4 .5-1.4 .9-.8 .5 .3 .4 0 .5 .4 .5 1.2 .4 0 1 1.8 .4-1.1 .5-.4 .5 .5 .9-4.3 .4 .3 1 4.8 .4-1.1 1-4.1 .4 1.5 .5 2.9 .5-.2 .4-1.3 .5 .2 .5 1.1 .4 1.9 .5 .6 .9-3 .5-.1 .4 2 .5 .8 .5 .1 .4 .7 1-2.2 .4 .5 1 3.8 .9 1.5 .5-.7 .9-5 .4 .4 .5 2.5 .5 1.1 .4 .1 1-4.1 .4 .6 1 3.5 .9-.6 .9 2 .5-1.3 .4-2.8 .5-.9 .9 .9 1-2.3 .4-.6 1-.1 .4-.5 .5-1.1 .5 .7 .4 .3 .5-1.4 .5-.4 .4 .2 .5-.1 .4-1.6 .5-.8 .9 5.9 .5 1.7 .5 .5 .4-.6 .5-1.3 .5-.3 .4 .2 .5-1 .9-.5 .5 .9 .4 2.9 .5 1.4 1.4-9.9 .5 .6 .9 5.3 .9 1.6 1 6.3 .4 1.1 .5-1.2 .9-4.3 .9-2 .5-1.8 .9-1 .5 .5 1.4 6 .5-.6 .4-2.4 .5-1.1 .5 0 .4-1.2 .5-2.7 .4 .1 1 1.9 .4 1.6 1 1.1 .4 1.5 .5 .6 .9-3.8 1 1.8 .4-.8 .5 .3 .4 1.1 .5-.1 .5-.5 .9-3.3 .5-.7 .9 4.7 .9 2.8 .5-.3 .5-2.6 .4-1.1 1 .5 .9-1.4 .4 .2 .5-.7 .5 .3 .4 1.2 1-.8 .4 1.6 1-1.3 1.8 2.1 .9-2.2 .5-.1 .9-3.5 .5 .5 .5 1.1 .4-.1 .5-1.1 .5 .5 .4 1.5 .5 .4 .9-2.3 .5 .5 .9 2.7 .5-.3 .4-1.4 .5 .5 .5 1 .4 .4 .5 .1 .5-1.6 .4-.4 .5 1.5 1.4-2.1 .5-.1 .9 1.4 1.4 4.8 1.8-6.7 .5-.9 .5 1.4 .9 7.2 .9-2.6 .5-.2 .9-2.5 .5-.6 .9 2.2 .5-.2 .9-1.8 .5 .4 .4-.1 .5-1.9 .5-.4 .4 1.2 1-1.2 1.3 3.6 1 4.1 .9-.9 .9 .8 1-4.5 .4-.2 1 .5 .4 .8 .5 0 .9 .5 .5-1.8 .4-.7 1 3.6 .9-1.4 .5 .4 .4-.2 1-1.2 .9-3 .4-.3 .5 .1 .9 1.2 1.4-1.8 .5-1.5 .5-.8 .4 1.2 .5 3.6 .5 1.5 .9-4.6 .5 1.3 .4-.4 .5-1.1 .9 3.1 .5 .7 .4-.3 .5 .2 1.4-5.7 .5 .6 .4 2.6 .5 .7 1.4-2.7 .9-3.8 1.4 6.3 .5-.5 .4-2.7 .5-1.4 .5 .9 .9 3 .5 0 .4-1.1 1 1.4 .4-.9 1.4-1 .5 .7 .4 2.4 .5 1.3 .9-1.2 .5 0 .9 .8 .5 1.4 .5 .4 .4-1.1 .5 .3 .4 .9 .5-.6 .9-4.2 .5 .2 .5 1.4 .4 .6 1 3.3 .4 .1 1.4-2.1 .5-1.4 .9 2 .5-.4 .9-3.4 .5 .1 .9 4.4 .9-5.6 .5 .7 .5 1.8 .4 .7 .5-1.2 .5-.3 .9 2.6 .4-.2 .5-1.5 .5 .2 .4 1.8 .5 1 .5 .2 .4-.4 .5-2.1 .5-.8 .4 1.1 .5-.6 .5 .6 .4 1.5 .5 .3 .9 2.5 .9-3.4 .5-.1 .9 4.9 .5 .5 .9 .4 .5-1.6 .5-.8 .4 .7 .5 .1 .9-5 .5-.4 .4 2 .5 .9 .9-1.9 1 2.8 .9-3.2 .5-.2 .4-.9 .5-2.1 .5 .1 .4 .9 .9-1.3 1.4 4.3 .5 .2 .5-.2 .4 1 .5 .4 .5-.8 .4-.3 1 3.4 .4 .3 .5-2.9 .5-5 .4-1.2 .5 1.5 .9 .9 .5 .8 .9 .7 .9 1.7 .5-.7 .5-2.8 .4-1.6 1 4.2 .4 0 .9 3.3 .5 .6 .5-.1 .4-1.8 .5-.9 .9 2.1 .5 .2 .5-.5 .9 2.1 .9-3 .5-.2 .4 .5 1 3.8 1.4-4.4 .4-1 1 .5 .4-.5 1 2.8 1.4-8 .4 .3 .5 2 1.4 0 .4-1 1 0 .9 2.7 .5-1 .4-2.2 .5-.9 .5-.3 .9 1.9 .9-2.5 .5-.6 .4 .8 .5 1.7 .5 .6 .4-.3 .5 .1 .5-.8" fill="none" stroke="#ee1c24" stroke-width="1.8" stroke-linejoin="round" /></svg></body></html>
